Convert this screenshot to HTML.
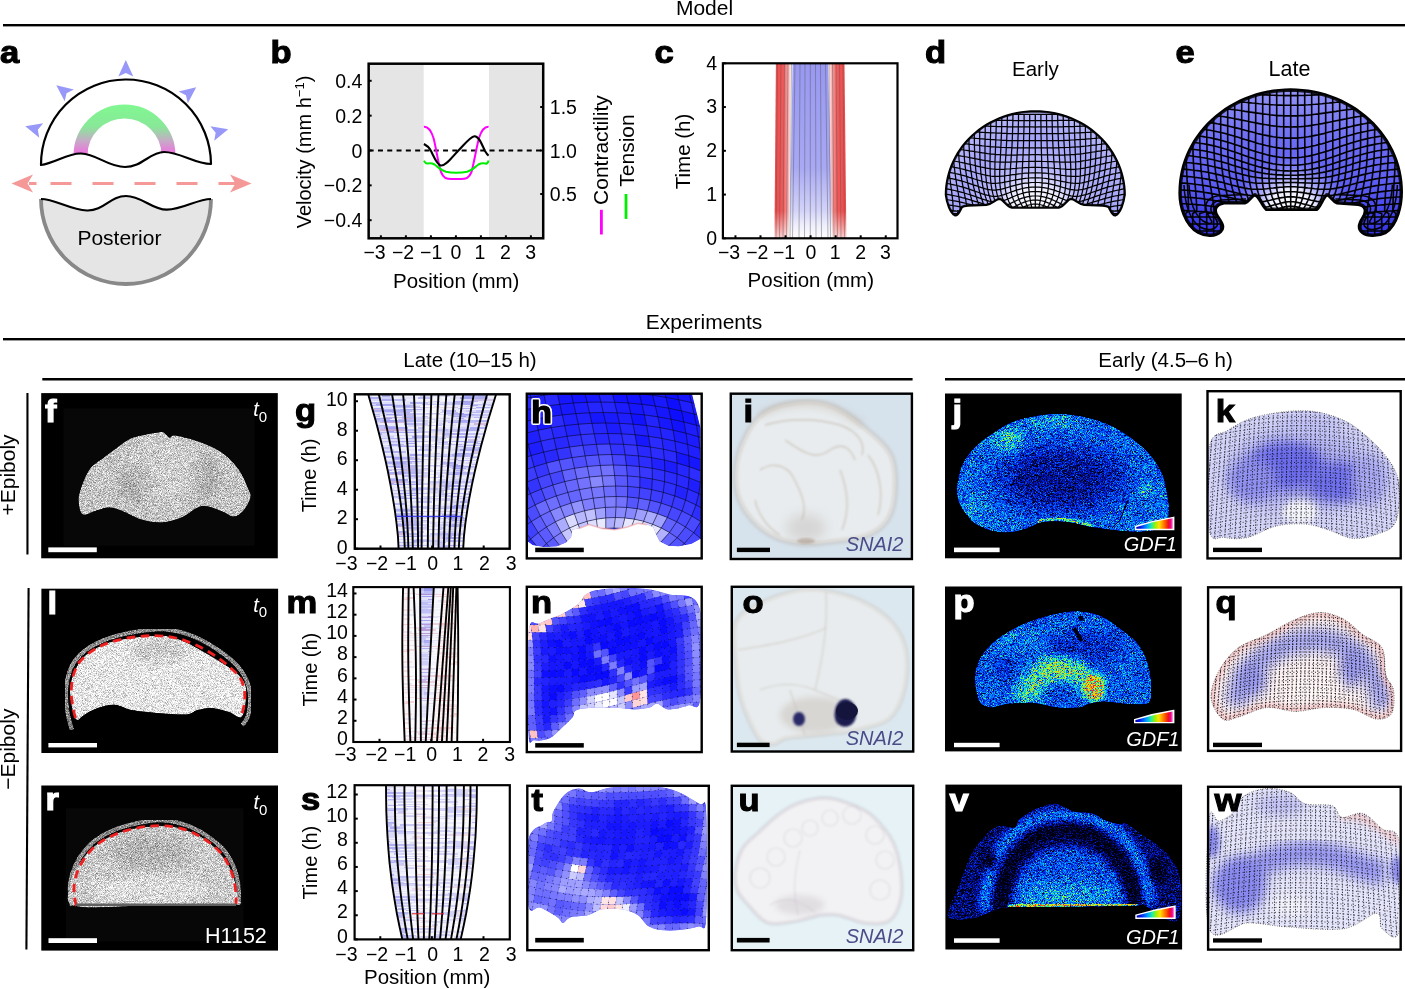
<!DOCTYPE html>
<html><head><meta charset="utf-8"><title>Figure</title>
<style>html,body{margin:0;padding:0;background:#fff;overflow:hidden}svg{display:block;will-change:transform}text{font-family:"Liberation Sans",sans-serif}</style>
</head><body>
<svg width="1405" height="989" viewBox="0 0 1405 989" font-family='"Liberation Sans", sans-serif'>
<defs><filter id="grayn" x="0" y="0" width="1" height="1" color-interpolation-filters="sRGB">
<feTurbulence type="fractalNoise" baseFrequency="1.4" numOctaves="2" seed="7" result="n"/>
<feColorMatrix in="n" type="matrix" values="1 0 0 0 0 1 0 0 0 0 1 0 0 0 0 0 0 0 0 1" result="ng"/>
<feComposite in="SourceGraphic" in2="ng" operator="arithmetic" k1="0" k2="1" k3="1.0" k4="-0.5" result="v"/>
<feComposite in="v" in2="SourceAlpha" operator="in"/>
</filter>
<filter id="jetn" x="0" y="0" width="1" height="1" color-interpolation-filters="sRGB">
<feTurbulence type="fractalNoise" baseFrequency="1.6" numOctaves="2" seed="3" result="n"/>
<feColorMatrix in="n" type="matrix" values="1 0 0 0 0 1 0 0 0 0 1 0 0 0 0 0 0 0 0 1" result="ng"/>
<feComposite in="SourceGraphic" in2="ng" operator="arithmetic" k1="2.6" k2="0" k3="0.25" k4="-0.25" result="v"/>
<feComponentTransfer in="v" result="c">
<feFuncR type="table" tableValues="0 0 0 0 0.25 0.7 1 1 1"/>
<feFuncG type="table" tableValues="0 0.08 0.35 0.7 0.95 1 0.8 0.35 0.1"/>
<feFuncB type="table" tableValues="0.05 0.8 1 1 0.55 0.1 0 0 0.2"/>
</feComponentTransfer>
<feComposite in="c" in2="SourceAlpha" operator="in"/>
</filter>
<filter id="blur3" x="-0.2" y="-0.2" width="1.4" height="1.4"><feGaussianBlur stdDeviation="3"/></filter>
<filter id="blur6" x="-0.3" y="-0.3" width="1.6" height="1.6"><feGaussianBlur stdDeviation="6"/></filter>
<filter id="blur10" x="-0.5" y="-0.5" width="2" height="2"><feGaussianBlur stdDeviation="10"/></filter>
<filter id="blur1" x="-0.1" y="-0.1" width="1.2" height="1.2"><feGaussianBlur stdDeviation="1"/></filter><linearGradient id="ringg" x1="0" y1="104" x2="0" y2="154" gradientUnits="userSpaceOnUse">
<stop offset="0" stop-color="#80F890"/><stop offset="0.45" stop-color="#88E898"/><stop offset="0.75" stop-color="#C8A8C8"/><stop offset="1" stop-color="#F070E0"/></linearGradient><clipPath id="clipA"><path d="M30,60 L220,60 L220,164 C195,164 180,152 164,152 C150,152 142,167 125,167 C108,167 97,154 81,153.5 C68,153 55,163 41,165 L30,165 Z"/></clipPath><linearGradient id="cred" x1="0" y1="0" x2="1" y2="0"><stop offset="0" stop-color="#F04848"/><stop offset="0.55" stop-color="#F25A5A"/><stop offset="0.8" stop-color="#F7A0A0"/><stop offset="1" stop-color="#FFF0F0"/></linearGradient>
<linearGradient id="credr" x1="1" y1="0" x2="0" y2="0"><stop offset="0" stop-color="#F04848"/><stop offset="0.55" stop-color="#F25A5A"/><stop offset="0.8" stop-color="#F7A0A0"/><stop offset="1" stop-color="#FFF0F0"/></linearGradient>
<linearGradient id="cblue" x1="0" y1="63" x2="0" y2="237" gradientUnits="userSpaceOnUse"><stop offset="0" stop-color="#9898F2"/><stop offset="0.6" stop-color="#A8A8F4"/><stop offset="0.9" stop-color="#DCDCFA"/><stop offset="1" stop-color="#F4F4FE"/></linearGradient>
<linearGradient id="cfadeb" x1="0" y1="63" x2="0" y2="237" gradientUnits="userSpaceOnUse"><stop offset="0" stop-color="#fff" stop-opacity="0"/><stop offset="0.85" stop-color="#fff" stop-opacity="0"/><stop offset="1" stop-color="#fff" stop-opacity="0.7"/></linearGradient><clipPath id="clipD"><path d="M1035.3,111.0 L1030.6,111.1 L1025.9,111.5 L1021.3,112.0 L1016.7,112.8 L1012.1,113.9 L1007.6,115.1 L1003.2,116.6 L998.8,118.3 L994.6,120.2 L990.4,122.3 L986.4,124.6 L982.6,127.0 L978.8,129.7 L975.3,132.6 L971.9,135.6 L968.6,138.8 L965.6,142.1 L962.7,145.6 L960.1,149.3 L957.6,153.0 L955.4,156.9 L953.4,160.8 L951.6,164.9 L950.0,169.0 L948.7,173.3 L947.6,177.5 L946.7,181.9 L946.1,186.2 L945.7,190.6 L945.6,195.0 C946.5,203 950,213 954.9,215.6 C958.5,216.5 960.5,210 962,207.5 C963.5,206 965,205.9 968,205.8 L986.3,205.2 C992,204.5 995,200 999.1,199.2 C1003,199 1006,206.5 1012,208 L1058.6,208 C1064.6,206.5 1067.6,199 1071.5,199.2 C1075.6,200 1078.6,204.5 1084.3,205.2 L1102.6,205.8 C1105.6,205.9 1107.1,206 1108.6,207.5 C1110.1,210 1112.1,216.5 1115.7,215.6 C1120.6,213 1124.1,203 1124.9,195 L1125.0,195.0 L1124.9,190.6 L1124.5,186.2 L1123.9,181.9 L1123.0,177.5 L1121.9,173.3 L1120.6,169.0 L1119.0,164.9 L1117.2,160.8 L1115.2,156.9 L1113.0,153.0 L1110.5,149.3 L1107.9,145.6 L1105.0,142.1 L1102.0,138.8 L1098.7,135.6 L1095.3,132.6 L1091.8,129.7 L1088.0,127.0 L1084.2,124.6 L1080.2,122.3 L1076.0,120.2 L1071.8,118.3 L1067.4,116.6 L1063.0,115.1 L1058.5,113.9 L1053.9,112.8 L1049.3,112.0 L1044.7,111.5 L1040.0,111.1 L1035.3,111.0 Z"/></clipPath><radialGradient id="dfill" cx="1035" cy="215" r="110" gradientUnits="userSpaceOnUse">
<stop offset="0" stop-color="#FFFFFF"/><stop offset="0.25" stop-color="#F0F0FF"/><stop offset="0.42" stop-color="#B8B8FA"/><stop offset="0.7" stop-color="#A4A4F8"/><stop offset="0.9" stop-color="#B4B4F8"/><stop offset="1" stop-color="#C8C8FA"/></radialGradient><clipPath id="clipE"><path d="M1290.7,89.3 L1284.9,89.4 L1279.1,89.9 L1273.3,90.6 L1267.6,91.5 L1261.9,92.8 L1256.3,94.3 L1250.8,96.1 L1245.4,98.2 L1240.2,100.5 L1235.1,103.1 L1230.1,105.9 L1225.3,108.9 L1220.7,112.2 L1216.2,115.7 L1212.0,119.4 L1208.0,123.3 L1204.2,127.4 L1200.7,131.6 L1197.4,136.1 L1194.3,140.6 L1191.5,145.4 L1189.0,150.2 L1186.8,155.2 L1184.8,160.3 L1183.2,165.4 L1181.8,170.6 L1180.8,175.9 L1180.0,181.3 L1179.6,186.6 L1179.4,192.0 C1179,205 1184,225 1198,233 C1206,237.5 1216,237 1221,232 C1226,227 1222,222 1218,216 C1214,210 1216,205 1224,203.5 L1245,203.5 C1250,202 1252,196 1255,195.5 C1259,197 1262,207 1266,209.9 L1317,209.9 C1321,207 1324,197 1327,195.5 C1330,196 1332,202 1337,203.5 L1358,205 C1366,206 1366,212 1362,218 C1358,224 1357,229 1362,233 C1367,237 1378,237 1386,233 C1398,225 1402,205 1402,192 L1402.0,192.0 L1401.8,186.6 L1401.4,181.3 L1400.6,175.9 L1399.6,170.6 L1398.2,165.4 L1396.6,160.3 L1394.6,155.2 L1392.4,150.2 L1389.9,145.4 L1387.1,140.6 L1384.0,136.1 L1380.7,131.6 L1377.2,127.4 L1373.4,123.3 L1369.4,119.4 L1365.2,115.7 L1360.7,112.2 L1356.1,108.9 L1351.3,105.9 L1346.3,103.1 L1341.2,100.5 L1336.0,98.2 L1330.6,96.1 L1325.1,94.3 L1319.5,92.8 L1313.8,91.5 L1308.1,90.6 L1302.3,89.9 L1296.5,89.4 L1290.7,89.3 Z"/></clipPath><linearGradient id="efill0" x1="0" y1="89" x2="0" y2="237" gradientUnits="userSpaceOnUse"><stop offset="0" stop-color="#9494F8"/><stop offset="0.35" stop-color="#6C6CF4"/><stop offset="0.7" stop-color="#5A5AF2"/><stop offset="1" stop-color="#3C3CEC"/></linearGradient>
<radialGradient id="efill" cx="1291" cy="214" r="60" gradientUnits="userSpaceOnUse">
<stop offset="0" stop-color="#FFFFFF"/><stop offset="0.4" stop-color="#F0F0FF"/><stop offset="0.62" stop-color="#B8B8FA" stop-opacity="0.8"/><stop offset="1" stop-color="#8080F8" stop-opacity="0"/></radialGradient>
<linearGradient id="elobe" x1="0" y1="180" x2="0" y2="238" gradientUnits="userSpaceOnUse"><stop offset="0" stop-color="#4040F0" stop-opacity="0"/><stop offset="1" stop-color="#3030E8" stop-opacity="0.7"/></linearGradient><clipPath id="clipF"><path d="M78.6,501.3 C78.3,497.1 78.8,494.6 80.7,489.2 C82.6,483.8 85.8,474.4 89.8,469.0 C93.8,463.6 100.4,460.4 104.9,456.8 C109.4,453.2 112.3,450.9 117.0,447.7 C121.7,444.5 126.1,440.2 133.2,437.6 C140.3,435.0 154.0,432.7 159.5,432.2 C165.0,431.7 164.3,433.6 166.0,434.5 C167.7,435.4 168.0,437.4 169.6,437.6 C171.2,437.8 170.3,434.8 175.7,435.6 C181.1,436.5 194.2,439.8 202.0,442.7 C209.8,445.6 216.1,448.4 222.2,452.8 C228.3,457.2 234.0,462.9 238.4,469.0 C242.8,475.1 246.5,484.5 248.5,489.2 C250.5,493.9 251.2,493.9 250.5,497.3 C249.8,500.7 247.1,506.2 244.4,509.4 C241.7,512.6 238.0,516.2 234.3,516.5 C230.6,516.8 226.6,513.1 222.2,511.4 C217.8,509.7 212.1,507.1 208.0,506.4 C203.9,505.7 202.3,505.5 197.9,507.4 C193.5,509.2 187.8,515.0 181.7,517.5 C175.6,520.0 168.2,522.2 161.5,522.5 C154.8,522.8 148.0,521.5 141.3,519.5 C134.6,517.5 126.5,512.4 121.1,510.4 C115.7,508.4 113.0,507.4 109.0,507.4 C105.0,507.4 101.2,509.2 96.8,510.4 C92.4,511.6 85.7,516.0 82.7,514.5 C79.7,513.0 78.9,505.5 78.6,501.3 Z"/></clipPath><pattern id="stg" x="350" width="160" height="52" patternUnits="userSpaceOnUse"><path d="M0 0h30v1h-30zM0 1h8v1h-8zM50 1h14v1h-14zM124 1h18v1h-18zM142 1h6v1h-6zM80 3h6v1h-6zM156 3h4v1h-4zM56 4h8v2h-8zM64 4h14v2h-14zM102 4h24v2h-24zM54 7h24v2h-24zM88 7h6v2h-6zM0 9h14v1h-14zM14 9h24v1h-24zM68 11h6v2h-6zM0 15h24v1h-24zM68 15h14v1h-14zM82 15h18v1h-18zM14 16h30v1h-30zM70 16h14v1h-14zM154 17h6v2h-6zM0 19h30v1h-30zM66 19h14v1h-14zM94 19h6v1h-6zM106 20h24v2h-24zM152 20h8v2h-8zM80 22h10v1h-10zM80 23h8v2h-8zM88 23h6v2h-6zM92 25h18v1h-18zM110 25h30v1h-30zM0 27h6v1h-6zM132 27h28v1h-28zM8 28h18v1h-18zM40 28h14v1h-14zM72 28h10v1h-10zM82 28h24v1h-24zM130 28h14v1h-14zM74 29h8v1h-8zM128 29h18v1h-18zM0 31h8v2h-8zM114 31h14v2h-14zM146 31h14v2h-14zM6 33h6v2h-6zM32 35h24v2h-24zM118 37h10v1h-10zM20 38h10v2h-10zM110 38h14v2h-14zM96 40h14v1h-14zM110 40h14v1h-14zM148 40h12v1h-12zM0 41h8v1h-8zM8 41h18v1h-18zM56 41h8v1h-8zM84 42h6v1h-6zM144 42h16v1h-16zM68 43h10v1h-10zM140 43h10v1h-10zM150 43h10v1h-10zM148 44h10v1h-10zM152 45h8v1h-8zM0 48h24v1h-24zM42 48h10v1h-10zM52 48h8v1h-8zM90 48h18v1h-18zM122 48h30v1h-30zM144 49h14v1h-14zM16 50h14v1h-14zM50 50h10v1h-10zM14 51h8v1h-8zM154 51h6v1h-6z" fill="#4040E0" fill-opacity="0.13"/><path d="M30 0h14v1h-14zM44 0h8v1h-8zM114 2h14v1h-14zM128 2h30v1h-30zM40 3h8v1h-8zM116 3h6v1h-6zM122 3h24v1h-24zM30 7h24v2h-24zM156 7h4v2h-4zM38 9h14v1h-14zM52 9h6v1h-6zM106 9h10v1h-10zM0 10h8v1h-8zM48 10h8v1h-8zM148 10h12v1h-12zM58 11h10v2h-10zM130 13h8v2h-8zM102 16h30v1h-30zM132 16h18v1h-18zM0 17h18v2h-18zM40 17h18v2h-18zM58 17h14v2h-14zM72 17h6v2h-6zM100 19h24v1h-24zM124 19h14v1h-14zM138 19h18v1h-18zM44 20h18v2h-18zM74 22h6v1h-6zM96 22h30v1h-30zM94 23h14v2h-14zM108 23h10v2h-10zM0 25h18v1h-18zM98 26h6v1h-6zM104 26h10v1h-10zM158 26h2v1h-2zM66 27h18v1h-18zM102 27h24v1h-24zM26 28h14v1h-14zM54 28h18v1h-18zM150 28h10v1h-10zM18 29h6v1h-6zM0 30h8v1h-8zM100 30h8v1h-8zM140 30h10v1h-10zM150 30h6v1h-6zM22 31h10v2h-10zM40 31h30v2h-30zM136 31h10v2h-10zM44 33h6v2h-6zM92 33h8v2h-8zM56 35h18v2h-18zM0 37h30v1h-30zM30 37h18v1h-18zM124 38h8v2h-8zM112 41h8v1h-8zM18 42h24v1h-24zM70 42h14v1h-14zM108 43h18v1h-18zM58 44h6v1h-6zM64 44h6v1h-6zM114 45h30v1h-30zM144 45h8v1h-8zM60 48h30v1h-30zM108 48h6v1h-6zM114 48h8v1h-8zM0 49h14v1h-14zM30 50h6v1h-6z" fill="#FFFFFF" fill-opacity="0.7"/><path d="M52 0h14v1h-14zM64 1h18v1h-18zM62 2h30v1h-30zM92 2h8v1h-8zM106 2h8v1h-8zM30 3h10v1h-10zM48 3h24v1h-24zM24 4h8v2h-8zM84 4h18v2h-18zM154 4h6v2h-6zM74 6h18v1h-18zM108 6h18v1h-18zM158 6h2v1h-2zM18 10h30v1h-30zM24 11h10v2h-10zM88 11h8v2h-8zM54 13h18v2h-18zM98 13h18v2h-18zM152 13h8v2h-8zM100 15h10v1h-10zM84 16h18v1h-18zM110 17h30v2h-30zM80 19h8v1h-8zM88 20h18v2h-18zM30 22h30v1h-30zM60 22h14v1h-14zM78 25h14v1h-14zM140 25h6v1h-6zM146 25h14v1h-14zM84 27h18v1h-18zM8 29h10v1h-10zM38 29h18v1h-18zM146 29h14v1h-14zM90 30h10v1h-10zM108 30h8v1h-8zM32 31h8v2h-8zM70 31h30v2h-30zM0 38h6v2h-6zM78 38h10v2h-10zM88 38h14v2h-14zM156 38h4v2h-4zM0 40h6v1h-6zM124 40h24v1h-24zM138 41h8v1h-8zM6 43h14v1h-14zM44 43h24v1h-24zM108 44h18v1h-18zM32 45h18v1h-18zM90 45h6v1h-6zM0 46h8v2h-8zM56 46h6v2h-6zM126 46h14v2h-14zM152 48h8v1h-8zM46 49h6v1h-6zM52 49h24v1h-24zM60 50h18v1h-18zM78 50h6v1h-6zM84 50h18v1h-18zM124 50h14v1h-14zM0 51h14v1h-14zM98 51h30v1h-30zM128 51h10v1h-10z" fill="#4040E0" fill-opacity="0.07"/><path d="M66 0h6v1h-6zM116 0h24v1h-24zM140 0h20v1h-20zM8 1h10v1h-10zM82 1h24v1h-24zM106 1h18v1h-18zM154 1h6v1h-6zM0 2h24v1h-24zM86 3h30v1h-30zM0 4h14v2h-14zM78 4h6v2h-6zM140 4h14v2h-14zM24 6h6v1h-6zM54 6h14v1h-14zM126 6h18v1h-18zM14 7h10v2h-10zM58 9h6v1h-6zM92 9h14v1h-14zM116 9h18v1h-18zM56 10h10v1h-10zM66 10h14v1h-14zM134 10h14v1h-14zM10 11h14v2h-14zM96 11h24v2h-24zM144 11h16v2h-16zM0 13h30v2h-30zM24 15h14v1h-14zM44 15h24v1h-24zM110 15h10v1h-10zM134 15h26v1h-26zM0 16h6v1h-6zM32 17h8v2h-8zM140 17h14v2h-14zM30 19h8v1h-8zM48 19h18v1h-18zM88 19h6v1h-6zM156 19h4v1h-4zM14 20h30v2h-30zM138 20h8v2h-8zM146 20h6v2h-6zM126 22h30v1h-30zM156 22h4v1h-4zM0 23h18v2h-18zM18 23h8v2h-8zM56 23h24v2h-24zM24 26h30v1h-30zM78 26h10v1h-10zM134 26h24v1h-24zM6 27h14v1h-14zM112 28h18v1h-18zM24 29h14v1h-14zM56 29h18v1h-18zM156 30h4v1h-4zM8 31h14v2h-14zM30 33h14v2h-14zM82 33h10v2h-10zM100 33h10v2h-10zM14 35h18v2h-18zM74 35h18v2h-18zM90 37h14v1h-14zM132 38h10v2h-10zM142 38h14v2h-14zM6 40h10v1h-10zM16 40h10v1h-10zM44 40h18v1h-18zM64 41h10v1h-10zM74 41h24v1h-24zM128 41h10v1h-10zM146 41h6v1h-6zM116 42h10v1h-10zM70 44h24v1h-24zM126 44h8v1h-8zM134 44h14v1h-14zM158 44h2v1h-2zM74 45h6v1h-6zM62 46h30v2h-30zM116 46h10v2h-10zM24 48h18v1h-18zM28 49h8v1h-8zM22 51h18v1h-18zM40 51h6v1h-6z" fill="#FFFFFF" fill-opacity="0.3"/><path d="M72 0h6v1h-6zM102 0h14v1h-14zM148 1h6v1h-6zM24 2h18v1h-18zM0 3h30v1h-30zM14 4h10v2h-10zM32 4h24v2h-24zM126 4h14v2h-14zM0 6h24v1h-24zM98 6h10v1h-10zM144 6h14v1h-14zM142 7h14v2h-14zM78 9h14v1h-14zM134 9h26v1h-26zM0 11h10v2h-10zM34 11h24v2h-24zM120 11h24v2h-24zM80 13h18v2h-18zM116 13h14v2h-14zM38 15h6v1h-6zM6 16h8v1h-8zM44 16h8v1h-8zM52 16h18v1h-18zM150 16h10v1h-10zM18 17h14v2h-14zM92 17h18v2h-18zM62 20h18v2h-18zM80 20h8v2h-8zM0 22h30v1h-30zM90 22h6v1h-6zM48 25h30v1h-30zM88 26h10v1h-10zM114 26h14v1h-14zM56 27h10v1h-10zM126 27h6v1h-6zM0 28h8v1h-8zM144 28h6v1h-6zM114 29h14v1h-14zM8 30h10v1h-10zM48 30h18v1h-18zM66 30h24v1h-24zM128 31h8v2h-8zM12 33h18v2h-18zM68 33h14v2h-14zM110 33h10v2h-10zM120 33h18v2h-18zM84 37h6v1h-6zM104 37h14v1h-14zM6 38h14v2h-14zM60 38h18v2h-18zM102 38h8v2h-8zM26 40h18v1h-18zM72 40h24v1h-24zM26 41h30v1h-30zM120 41h8v1h-8zM42 42h18v1h-18zM0 43h6v1h-6zM126 43h14v1h-14zM24 44h10v1h-10zM50 45h24v1h-24zM8 46h18v2h-18zM26 46h30v2h-30zM92 46h14v2h-14zM140 46h8v2h-8zM148 46h12v2h-12zM76 49h14v1h-14zM96 49h18v1h-18zM158 49h2v1h-2zM0 50h6v1h-6zM36 50h14v1h-14zM102 50h14v1h-14zM116 50h8v1h-8zM138 50h22v1h-22zM46 51h6v1h-6z" fill="#4040E0" fill-opacity="0.22"/><path d="M78 0h24v1h-24zM18 1h18v1h-18zM42 2h10v1h-10zM100 2h6v1h-6zM158 2h2v1h-2zM72 3h8v1h-8zM146 3h10v1h-10zM68 6h6v1h-6zM92 6h6v1h-6zM0 7h14v2h-14zM24 7h6v2h-6zM78 7h10v2h-10zM94 7h30v2h-30zM8 10h10v1h-10zM80 10h24v1h-24zM104 10h30v1h-30zM74 11h14v2h-14zM72 13h8v2h-8zM138 13h14v2h-14zM120 15h14v1h-14zM38 19h10v1h-10zM130 20h8v2h-8zM26 23h30v2h-30zM128 23h30v2h-30zM158 23h2v2h-2zM0 26h24v1h-24zM54 26h24v1h-24zM128 26h6v1h-6zM20 27h30v1h-30zM50 27h6v1h-6zM0 29h8v1h-8zM82 29h18v1h-18zM100 29h14v1h-14zM18 30h30v1h-30zM116 30h24v1h-24zM100 31h14v2h-14zM0 33h6v2h-6zM50 33h18v2h-18zM138 33h10v2h-10zM148 33h12v2h-12zM0 35h8v2h-8zM8 35h6v2h-6zM92 35h30v2h-30zM152 35h8v2h-8zM48 37h6v1h-6zM54 37h24v1h-24zM128 37h10v1h-10zM138 37h22v1h-22zM30 38h30v2h-30zM62 40h10v1h-10zM98 41h14v1h-14zM152 41h8v1h-8zM0 42h18v1h-18zM90 42h8v1h-8zM98 42h18v1h-18zM126 42h18v1h-18zM20 43h24v1h-24zM0 44h24v1h-24zM34 44h24v1h-24zM94 44h14v1h-14zM0 45h14v1h-14zM80 45h10v1h-10zM96 45h18v1h-18zM106 46h10v2h-10zM14 49h14v1h-14zM36 49h10v1h-10zM90 49h6v1h-6zM114 49h30v1h-30zM6 50h10v1h-10zM66 51h24v1h-24zM90 51h8v1h-8zM138 51h6v1h-6zM144 51h10v1h-10z" fill="#FFFFFF" fill-opacity="0.5"/><path d="M36 1h14v1h-14zM64 9h14v1h-14zM78 17h14v2h-14zM118 23h10v2h-10zM18 25h30v1h-30zM106 28h6v1h-6zM122 35h30v2h-30zM78 37h6v1h-6zM60 42h10v1h-10zM78 43h30v1h-30zM52 51h14v1h-14z" fill="#F06060" fill-opacity="0.1"/><path d="M52 2h10v1h-10zM30 6h24v1h-24zM124 7h18v2h-18zM30 13h24v2h-24zM0 20h14v2h-14zM14 45h18v1h-18z" fill="#F06060" fill-opacity="0.2"/></pattern><clipPath id="cl_stg"><rect x="354.8" y="394.3" width="154.89999999999998" height="154.40000000000003"/></clipPath><clipPath id="clipH"><path d="M526.0,393.0 L691.7,393.0 L700.4,428.0 L701.0,538.6 L691.5,543.8 L678.7,546.3 L668.5,545.7 L659.5,541.2 L655.7,533.5 L653.1,527.1 L646.7,524.6 L637.7,523.3 L627.5,527.1 L614.7,529.7 L601.9,528.4 L589.0,524.6 L578.8,528.4 L572.4,529.7 L571.1,537.4 L566.0,542.5 L557.0,546.3 L544.2,547.0 L532.7,545.0 L526.0,539.9 Z"/></clipPath><clipPath id="clipJ"><path d="M957.1,485.4 C957.8,479.7 959.4,471.2 962.2,464.9 C965.1,458.6 969.4,452.9 974.2,447.8 C979.0,442.7 985.0,438.5 991.2,434.2 C997.5,429.9 1004.6,425.2 1011.7,422.2 C1018.8,419.2 1026.0,417.6 1034.0,416.2 C1042.0,414.8 1051.1,413.5 1059.6,413.7 C1068.1,413.9 1076.7,415.1 1085.2,417.1 C1093.7,419.1 1102.8,421.9 1110.8,425.6 C1118.8,429.3 1126.5,434.5 1133.0,439.3 C1139.5,444.1 1145.2,449.0 1150.1,454.7 C1154.9,460.4 1159.2,466.9 1162.1,473.5 C1164.9,480.1 1166.1,488.0 1167.2,494.0 C1168.3,500.0 1169.2,503.9 1168.9,509.3 C1168.6,514.7 1169.5,522.7 1165.5,526.4 C1161.5,530.1 1151.3,530.6 1145.0,531.5 C1138.7,532.4 1133.6,531.8 1127.9,531.5 C1122.2,531.2 1117.3,530.6 1110.8,529.8 C1104.2,528.9 1095.7,527.7 1088.6,526.4 C1081.5,525.1 1074.4,523.0 1068.1,522.1 C1061.8,521.2 1055.8,521.1 1051.0,521.3 C1046.2,521.4 1043.4,521.7 1039.1,523.0 C1034.8,524.3 1030.5,527.4 1025.4,529.0 C1020.3,530.6 1014.0,532.1 1008.3,532.4 C1002.6,532.7 996.9,532.3 991.2,530.7 C985.5,529.1 978.8,526.3 974.2,523.0 C969.7,519.7 966.6,515.0 963.9,511.0 C961.2,507.0 959.0,503.4 957.9,499.1 C956.8,494.8 956.4,491.1 957.1,485.4 Z"/></clipPath><linearGradient id="cbj" x1="1135.6" y1="0" x2="1173.7" y2="0" gradientUnits="userSpaceOnUse">
<stop offset="0" stop-color="#000090"/><stop offset="0.12" stop-color="#0010F0"/><stop offset="0.3" stop-color="#00A0FF"/><stop offset="0.42" stop-color="#20F0A0"/><stop offset="0.52" stop-color="#A0F000"/><stop offset="0.62" stop-color="#FFE000"/><stop offset="0.75" stop-color="#FF7000"/><stop offset="0.86" stop-color="#F01010"/><stop offset="0.93" stop-color="#F000A0"/><stop offset="1" stop-color="#FFFFFF"/></linearGradient><clipPath id="clipK"><path d="M1209.2,447.2 C1212.4,430.6 1220.4,435.1 1228.4,430.0 C1236.4,424.9 1244.4,419.7 1257.2,416.5 C1270.0,413.3 1290.9,410.1 1305.3,410.7 C1319.7,411.3 1332.5,415.2 1343.7,420.3 C1354.9,425.4 1364.5,434.1 1372.5,441.5 C1380.5,448.9 1387.2,456.8 1391.7,464.5 C1396.2,472.2 1398.8,478.0 1399.4,487.6 C1400.1,497.2 1399.1,514.5 1395.6,522.2 C1392.1,529.9 1385.3,531.0 1378.3,533.7 C1371.2,536.4 1361.6,539.1 1353.3,538.5 C1345.0,537.9 1336.3,532.3 1328.3,529.9 C1320.3,527.5 1313.9,524.8 1305.3,524.1 C1296.7,523.5 1286.1,523.8 1276.5,526.0 C1266.9,528.2 1256.2,535.6 1247.6,537.5 C1238.9,539.4 1231.0,538.8 1224.6,537.5 C1218.2,536.2 1211.8,544.9 1209.2,529.9 C1206.6,514.9 1206.0,463.8 1209.2,447.2 Z"/></clipPath><clipPath id="clipL"><path d="M75.4,718.6 C72.9,714.4 69.6,698.1 70.1,688.9 C70.6,679.7 74.4,670.1 78.6,663.4 C82.8,656.7 88.8,652.5 95.5,648.6 C102.2,644.7 108.3,642.1 118.9,640.0 C129.5,637.9 148.9,635.8 159.2,635.8 C169.5,635.8 173.4,637.5 180.5,640.0 C187.6,642.5 194.6,646.8 201.7,650.7 C208.8,654.6 216.5,659.1 222.9,663.4 C229.3,667.6 236.0,671.6 239.9,676.2 C243.8,680.8 246.0,684.3 246.3,691.0 C246.7,697.7 244.8,713.0 242.0,716.5 C239.2,720.0 234.2,713.7 229.3,712.3 C224.4,710.9 217.6,708.4 212.3,708.0 C207.0,707.6 201.8,709.0 197.5,710.1 C193.2,711.2 193.2,713.9 186.8,714.4 C180.4,714.9 168.4,714.0 159.2,713.3 C150.0,712.6 139.0,711.5 131.6,710.1 C124.2,708.7 120.2,705.1 114.6,704.8 C108.9,704.4 102.7,706.4 97.7,708.0 C92.8,709.6 88.6,712.6 84.9,714.4 C81.2,716.2 77.9,722.9 75.4,718.6 Z"/></clipPath><linearGradient id="mblue" x1="0" y1="587" x2="0" y2="742" gradientUnits="userSpaceOnUse"><stop offset="0" stop-color="#9C9CF0"/><stop offset="0.5" stop-color="#B8B8F4"/><stop offset="1" stop-color="#E4E4FA"/></linearGradient><pattern id="stm" x="350" width="160" height="52" patternUnits="userSpaceOnUse"><path d="M0 0h6v1h-6zM28 0h14v1h-14zM42 0h6v1h-6zM48 0h14v1h-14zM72 0h30v1h-30zM30 5h24v2h-24zM68 5h18v2h-18zM116 5h10v2h-10zM60 9h30v1h-30zM70 11h10v1h-10zM24 12h24v1h-24zM108 12h14v1h-14zM138 16h22v1h-22zM0 19h14v2h-14zM66 22h30v1h-30zM130 22h10v1h-10zM6 23h6v1h-6zM12 23h24v1h-24zM86 24h18v1h-18zM0 25h24v2h-24zM56 25h8v2h-8zM30 27h30v1h-30zM28 30h18v1h-18zM48 32h6v1h-6zM96 33h6v1h-6zM14 34h6v2h-6zM104 37h8v2h-8zM78 44h6v1h-6zM18 45h6v1h-6zM72 45h6v1h-6zM80 51h24v1h-24z" fill="#F06060" fill-opacity="0.2"/><path d="M6 0h14v1h-14zM20 0h8v1h-8zM126 0h24v1h-24zM150 0h10v1h-10zM0 1h14v2h-14zM0 3h6v1h-6zM14 3h24v1h-24zM46 3h6v1h-6zM0 4h14v1h-14zM76 4h6v1h-6zM106 4h18v1h-18zM130 4h24v1h-24zM112 7h14v2h-14zM126 7h24v2h-24zM150 7h10v2h-10zM14 9h14v1h-14zM46 9h14v1h-14zM96 9h10v1h-10zM100 12h8v1h-8zM0 13h6v1h-6zM6 13h30v1h-30zM130 13h14v1h-14zM14 16h30v1h-30zM60 17h8v2h-8zM102 17h18v2h-18zM14 19h6v2h-6zM44 19h30v2h-30zM96 21h6v1h-6zM122 21h24v1h-24zM0 22h18v1h-18zM60 22h6v1h-6zM96 22h10v1h-10zM106 22h24v1h-24zM154 22h6v1h-6zM54 24h18v1h-18zM122 24h8v1h-8zM130 24h24v1h-24zM40 25h6v2h-6zM154 27h6v1h-6zM0 28h6v2h-6zM20 28h30v2h-30zM64 28h24v2h-24zM46 30h24v1h-24zM124 30h30v1h-30zM42 31h18v1h-18zM0 32h24v1h-24zM54 32h14v1h-14zM118 32h6v1h-6zM124 32h18v1h-18zM0 33h8v1h-8zM34 33h30v1h-30zM64 33h24v1h-24zM88 33h8v1h-8zM102 33h8v1h-8zM0 34h14v2h-14zM6 36h6v1h-6zM48 36h24v1h-24zM72 36h6v1h-6zM148 37h10v2h-10zM0 39h24v2h-24zM0 41h24v1h-24zM34 41h8v1h-8zM56 41h30v1h-30zM102 41h8v1h-8zM134 42h18v2h-18zM152 42h8v2h-8zM18 44h18v1h-18zM54 44h8v1h-8zM62 44h6v1h-6zM112 44h24v1h-24zM38 45h18v1h-18zM64 45h8v1h-8zM102 45h24v1h-24zM44 46h10v2h-10zM100 46h10v2h-10zM40 48h30v1h-30zM88 48h18v1h-18zM106 48h10v1h-10zM14 49h6v2h-6zM20 49h30v2h-30zM80 49h24v2h-24zM104 49h18v2h-18zM122 49h30v2h-30zM16 51h18v1h-18zM34 51h18v1h-18zM52 51h10v1h-10zM104 51h8v1h-8zM126 51h10v1h-10z" fill="#FFFFFF" fill-opacity="0.5"/><path d="M62 0h10v1h-10zM102 0h24v1h-24zM32 1h24v2h-24zM74 1h8v2h-8zM98 1h30v2h-30zM148 1h12v2h-12zM6 3h8v1h-8zM38 3h8v1h-8zM52 3h6v1h-6zM82 3h30v1h-30zM154 3h6v1h-6zM14 4h10v1h-10zM24 4h18v1h-18zM42 4h24v1h-24zM0 5h30v2h-30zM126 5h6v2h-6zM156 5h4v2h-4zM80 7h10v2h-10zM28 9h18v1h-18zM90 9h6v1h-6zM40 10h30v1h-30zM94 10h24v1h-24zM136 10h18v1h-18zM154 10h6v1h-6zM22 11h18v1h-18zM80 11h6v1h-6zM48 12h30v1h-30zM122 12h24v1h-24zM36 13h18v1h-18zM72 13h14v1h-14zM100 13h30v1h-30zM144 13h16v1h-16zM38 14h30v2h-30zM68 14h8v2h-8zM106 14h14v2h-14zM68 16h6v1h-6zM108 16h30v1h-30zM54 17h6v2h-6zM68 17h6v2h-6zM84 17h18v2h-18zM20 19h24v2h-24zM74 19h30v2h-30zM18 21h18v1h-18zM66 21h30v1h-30zM18 22h6v1h-6zM140 22h14v1h-14zM50 23h8v1h-8zM112 23h14v1h-14zM144 23h10v1h-10zM0 24h14v1h-14zM14 24h30v1h-30zM44 24h10v1h-10zM154 24h6v1h-6zM122 27h8v1h-8zM6 28h14v2h-14zM50 28h14v2h-14zM118 28h10v2h-10zM136 28h24v2h-24zM0 30h8v1h-8zM8 30h6v1h-6zM14 30h6v1h-6zM70 30h24v1h-24zM0 31h18v1h-18zM28 31h14v1h-14zM60 31h18v1h-18zM136 31h14v1h-14zM24 32h10v1h-10zM34 32h14v1h-14zM68 32h24v1h-24zM152 32h8v1h-8zM24 33h10v1h-10zM110 33h8v1h-8zM136 33h24v1h-24zM44 34h14v2h-14zM58 34h30v2h-30zM88 34h24v2h-24zM132 34h8v2h-8zM12 36h18v1h-18zM132 36h18v1h-18zM18 37h30v2h-30zM62 37h18v2h-18zM80 37h18v2h-18zM158 37h2v2h-2zM24 39h14v2h-14zM38 39h24v2h-24zM62 39h24v2h-24zM42 41h14v1h-14zM86 41h10v1h-10zM152 41h8v1h-8zM34 42h10v2h-10zM44 42h8v2h-8zM110 42h24v2h-24zM36 44h18v1h-18zM68 44h10v1h-10zM88 45h14v1h-14zM144 45h16v1h-16zM90 46h10v2h-10zM130 46h30v2h-30zM0 48h10v1h-10zM116 48h8v1h-8zM124 48h10v1h-10zM152 49h8v2h-8zM10 51h6v1h-6zM62 51h18v1h-18z" fill="#FFFFFF" fill-opacity="0.3"/><path d="M14 1h18v2h-18zM56 1h18v2h-18zM82 1h6v2h-6zM124 4h6v1h-6zM154 4h6v1h-6zM54 5h8v2h-8zM62 5h6v2h-6zM86 5h30v2h-30zM14 7h24v2h-24zM62 7h18v2h-18zM98 7h14v2h-14zM30 10h10v1h-10zM70 10h24v1h-24zM94 11h30v1h-30zM142 11h18v1h-18zM0 12h24v1h-24zM78 12h14v1h-14zM92 12h8v1h-8zM0 14h14v2h-14zM14 14h24v2h-24zM76 14h30v2h-30zM120 14h6v2h-6zM134 14h6v2h-6zM140 14h18v2h-18zM0 16h14v1h-14zM0 17h10v2h-10zM30 17h24v2h-24zM158 17h2v2h-2zM104 19h8v2h-8zM136 19h24v2h-24zM0 21h18v1h-18zM102 21h6v1h-6zM54 22h6v1h-6zM0 23h6v1h-6zM36 23h14v1h-14zM58 23h18v1h-18zM76 23h18v1h-18zM94 23h18v1h-18zM126 23h18v1h-18zM154 23h6v1h-6zM114 24h8v1h-8zM24 25h10v2h-10zM64 25h10v2h-10zM74 25h30v2h-30zM104 25h18v2h-18zM122 25h30v2h-30zM152 25h8v2h-8zM0 27h30v1h-30zM60 27h18v1h-18zM84 27h24v1h-24zM108 27h14v1h-14zM128 28h8v2h-8zM20 30h8v1h-8zM116 30h8v1h-8zM154 30h6v1h-6zM18 31h10v1h-10zM78 31h10v1h-10zM88 31h18v1h-18zM150 31h10v1h-10zM110 32h8v1h-8zM8 33h6v1h-6zM20 34h24v2h-24zM112 34h6v2h-6zM118 34h14v2h-14zM0 36h6v1h-6zM30 36h10v1h-10zM78 36h30v1h-30zM108 36h24v1h-24zM0 37h18v2h-18zM98 37h6v2h-6zM120 37h10v2h-10zM130 37h18v2h-18zM86 39h14v2h-14zM152 39h8v2h-8zM96 41h6v1h-6zM110 41h18v1h-18zM8 42h8v2h-8zM26 42h8v2h-8zM66 42h8v2h-8zM74 42h6v2h-6zM80 42h30v2h-30zM94 44h18v1h-18zM0 45h18v1h-18zM56 45h8v1h-8zM126 45h18v1h-18zM0 46h8v2h-8zM60 46h30v2h-30zM116 46h14v2h-14zM152 48h8v1h-8zM50 49h30v2h-30zM0 51h10v1h-10zM136 51h24v1h-24z" fill="#FFFFFF" fill-opacity="0.7"/><path d="M88 1h10v2h-10zM138 1h10v2h-10zM112 3h18v1h-18zM0 7h14v2h-14zM90 7h8v2h-8zM106 9h6v1h-6zM0 11h8v1h-8zM8 11h14v1h-14zM86 11h8v1h-8zM124 11h18v1h-18zM146 12h14v1h-14zM126 14h8v2h-8zM158 14h2v2h-2zM146 21h14v1h-14zM46 25h10v2h-10zM118 39h24v2h-24zM24 41h10v1h-10zM0 42h8v2h-8zM16 42h10v2h-10zM78 45h10v1h-10zM26 46h18v2h-18zM134 48h18v1h-18z" fill="#4040E0" fill-opacity="0.04"/><path d="M128 1h10v2h-10zM38 7h24v2h-24zM0 9h14v1h-14zM142 9h18v1h-18zM118 10h18v1h-18zM54 13h18v1h-18zM86 13h14v1h-14zM74 16h24v1h-24zM10 17h14v2h-14zM112 19h24v2h-24zM118 33h18v1h-18zM150 36h10v1h-10zM112 37h8v2h-8zM52 42h14v2h-14zM84 44h10v1h-10zM136 44h24v1h-24zM8 46h18v2h-18zM70 48h18v1h-18z" fill="#4040E0" fill-opacity="0.06"/><path d="M58 3h24v1h-24zM130 3h24v1h-24zM66 4h10v1h-10zM0 10h30v1h-30zM40 11h30v1h-30zM44 16h24v1h-24zM120 17h30v2h-30zM150 17h8v2h-8zM36 21h30v1h-30zM24 22h30v1h-30zM34 25h6v2h-6zM78 27h6v1h-6zM130 27h24v1h-24zM94 30h10v1h-10zM104 30h6v1h-6zM110 30h6v1h-6zM92 32h18v1h-18zM142 32h10v1h-10zM140 34h18v2h-18zM48 37h14v2h-14zM100 39h18v2h-18zM142 39h10v2h-10zM128 41h24v1h-24zM0 44h18v1h-18zM24 45h14v1h-14zM54 46h6v2h-6zM10 48h30v1h-30zM0 49h14v2h-14z" fill="#F06060" fill-opacity="0.1"/><path d="M82 4h24v1h-24zM132 5h24v2h-24zM112 9h30v1h-30zM98 16h10v1h-10zM24 17h6v2h-6zM74 17h10v2h-10zM108 21h14v1h-14zM72 24h14v1h-14zM104 24h10v1h-10zM88 28h6v2h-6zM94 28h24v2h-24zM106 31h30v1h-30zM14 33h10v1h-10zM158 34h2v2h-2zM40 36h8v1h-8zM110 46h6v2h-6zM112 51h14v1h-14z" fill="#4040E0" fill-opacity="0.02"/></pattern><clipPath id="cl_stm"><rect x="353.3" y="587.1" width="156.59999999999997" height="154.89999999999998"/></clipPath><clipPath id="clipN"><path d="M528.4,632.6 C530.3,614.4 534.2,626.2 540.0,623.0 C545.8,619.8 556.6,616.6 563.0,613.4 C569.4,610.2 574.5,607.0 578.4,603.8 C582.2,600.6 582.2,596.6 586.1,594.2 C590.0,591.8 592.5,590.4 601.5,589.4 C610.5,588.4 628.7,587.6 639.9,588.4 C651.1,589.2 658.8,591.0 668.7,594.2 C678.6,597.4 694.1,590.4 699.4,607.7 C704.7,625.0 702.3,681.7 700.4,698.0 C698.5,714.3 693.2,703.7 687.9,705.6 C682.6,707.5 673.8,709.8 668.7,709.5 C663.6,709.2 660.4,704.0 657.2,703.7 C654.0,703.4 653.4,706.6 649.5,707.6 C645.6,708.6 640.5,709.5 634.1,709.5 C627.7,709.5 620.4,707.6 611.1,707.6 C601.8,707.6 584.8,707.9 578.4,709.5 C572.0,711.1 575.2,714.3 572.6,717.2 C570.0,720.1 566.8,723.3 563.0,726.8 C559.2,730.3 554.4,736.1 549.6,738.3 C544.8,740.5 537.7,741.2 534.2,740.2 C530.7,739.2 529.4,750.4 528.4,732.5 C527.4,714.6 526.5,650.9 528.4,632.6 Z"/></clipPath><clipPath id="clipP"><path d="M975.0,683.7 C974.5,678.0 974.9,672.5 976.4,667.3 C977.9,662.1 980.4,657.0 983.9,652.3 C987.4,647.6 991.9,643.1 997.4,638.9 C1002.9,634.7 1010.6,630.1 1016.8,626.9 C1023.0,623.6 1028.0,621.6 1034.7,619.4 C1041.4,617.2 1049.7,614.9 1057.2,613.5 C1064.7,612.1 1072.1,610.7 1079.6,611.2 C1087.1,611.7 1095.3,613.5 1102.0,616.4 C1108.7,619.3 1114.2,624.1 1119.9,628.4 C1125.6,632.6 1132.2,637.2 1136.4,641.9 C1140.6,646.6 1143.1,651.8 1145.3,656.8 C1147.5,661.8 1148.8,666.7 1149.8,671.7 C1150.8,676.7 1151.3,681.7 1151.3,686.7 C1151.3,691.7 1151.8,698.6 1149.8,701.6 C1147.8,704.6 1144.9,704.4 1139.4,704.6 C1133.9,704.9 1123.2,703.6 1117.0,703.1 C1110.8,702.6 1107.0,701.4 1102.0,701.6 C1097.0,701.9 1090.8,703.6 1087.1,704.6 C1083.4,705.6 1084.6,707.1 1079.6,707.6 C1074.6,708.1 1064.7,708.4 1057.2,707.6 C1049.7,706.9 1040.9,703.9 1034.7,703.1 C1028.5,702.4 1024.8,702.9 1019.8,703.1 C1014.8,703.4 1009.8,703.9 1004.8,704.6 C999.8,705.4 994.1,708.1 989.9,707.6 C985.7,707.1 981.9,705.6 979.4,701.6 C976.9,697.6 975.5,689.4 975.0,683.7 Z"/></clipPath><linearGradient id="cbp" x1="1134.7" y1="0" x2="1173.7" y2="0" gradientUnits="userSpaceOnUse">
<stop offset="0" stop-color="#000090"/><stop offset="0.12" stop-color="#0010F0"/><stop offset="0.3" stop-color="#00A0FF"/><stop offset="0.42" stop-color="#20F0A0"/><stop offset="0.52" stop-color="#A0F000"/><stop offset="0.62" stop-color="#FFE000"/><stop offset="0.75" stop-color="#FF7000"/><stop offset="0.86" stop-color="#F01010"/><stop offset="0.93" stop-color="#F000A0"/><stop offset="1" stop-color="#FFFFFF"/></linearGradient><clipPath id="clipQ"><path d="M1211.1,698.0 C1210.4,690.0 1214.3,679.4 1218.8,671.1 C1223.3,662.8 1230.0,654.1 1238.0,648.0 C1246.0,641.9 1257.2,639.4 1266.8,634.6 C1276.4,629.8 1286.7,622.9 1295.7,619.2 C1304.7,615.5 1312.6,612.5 1320.6,612.5 C1328.6,612.5 1336.7,615.5 1343.7,619.2 C1350.8,622.9 1356.5,629.8 1362.9,634.6 C1369.3,639.4 1378.2,641.3 1382.1,648.0 C1385.9,654.7 1384.1,667.9 1386.0,674.9 C1387.9,681.9 1392.6,683.9 1393.6,690.3 C1394.5,696.7 1394.6,708.5 1391.7,713.3 C1388.8,718.1 1382.8,719.7 1376.4,719.1 C1370.0,718.5 1362.0,711.4 1353.3,709.5 C1344.6,707.6 1334.1,707.3 1324.5,707.6 C1314.9,707.9 1305.3,711.4 1295.7,711.4 C1286.1,711.4 1276.4,706.6 1266.8,707.6 C1257.2,708.6 1245.3,715.3 1238.0,717.2 C1230.7,719.1 1227.2,722.3 1222.7,719.1 C1218.2,715.9 1211.8,706.0 1211.1,698.0 Z"/></clipPath><clipPath id="clipR"><path d="M76.4,906.2 C61.4,903.0 69.9,892.5 70.2,885.6 C70.5,878.7 73.9,871.8 78.4,864.9 C82.9,858.0 89.4,850.0 97.0,844.3 C104.6,838.6 113.1,834.0 123.8,830.9 C134.5,827.8 150.7,825.9 161.0,825.7 C171.3,825.5 178.2,827.5 185.8,829.9 C193.4,832.3 200.2,835.7 206.4,840.2 C212.6,844.7 218.4,850.9 222.9,856.7 C227.4,862.6 230.8,868.4 233.2,875.3 C235.6,882.2 237.1,893.2 237.4,898.0 C237.8,902.8 248.2,903.0 235.3,904.2 C222.4,905.4 186.5,904.7 160.0,905.0 C133.5,905.3 91.4,909.4 76.4,906.2 Z"/></clipPath><pattern id="sts" x="350" width="160" height="52" patternUnits="userSpaceOnUse"><path d="M0 0h18v2h-18zM72 0h18v2h-18zM138 0h10v2h-10zM122 2h24v2h-24zM70 6h30v1h-30zM14 7h10v1h-10zM32 9h8v1h-8zM98 9h6v1h-6zM0 12h18v2h-18zM36 12h30v2h-30zM128 12h30v2h-30zM158 12h2v2h-2zM92 14h30v1h-30zM30 15h30v2h-30zM60 15h30v2h-30zM112 15h24v2h-24zM0 17h30v1h-30zM120 17h8v1h-8zM8 18h8v1h-8zM152 18h8v1h-8zM114 19h6v1h-6zM18 20h14v1h-14zM132 21h24v2h-24zM126 24h18v1h-18zM56 26h14v1h-14zM104 26h30v1h-30zM44 28h8v2h-8zM52 28h6v2h-6zM66 28h18v2h-18zM126 28h8v2h-8zM38 30h6v1h-6zM150 30h8v1h-8zM14 33h18v1h-18zM66 34h10v1h-10zM106 34h14v1h-14zM56 36h8v1h-8zM0 39h18v1h-18zM38 42h6v1h-6zM122 42h18v1h-18zM50 44h8v2h-8zM58 44h18v2h-18zM76 44h8v2h-8zM8 46h30v1h-30zM40 47h10v2h-10zM150 49h10v1h-10zM36 51h30v1h-30z" fill="#4040E0" fill-opacity="0.2"/><path d="M18 0h30v2h-30zM118 0h14v2h-14zM0 2h24v2h-24zM24 2h30v2h-30zM54 2h18v2h-18zM32 4h6v2h-6zM38 4h10v2h-10zM6 6h6v1h-6zM154 6h6v1h-6zM24 7h30v1h-30zM54 7h30v1h-30zM146 7h14v1h-14zM100 8h8v1h-8zM46 9h30v1h-30zM84 9h14v1h-14zM134 9h24v1h-24zM158 9h2v1h-2zM0 10h30v2h-30zM36 10h6v2h-6zM86 14h6v1h-6zM150 14h10v1h-10zM136 15h10v2h-10zM0 18h8v1h-8zM122 18h8v1h-8zM62 19h10v1h-10zM72 19h14v1h-14zM0 20h18v1h-18zM32 20h30v1h-30zM106 20h30v1h-30zM140 23h14v1h-14zM70 25h14v1h-14zM0 26h6v1h-6zM70 26h6v1h-6zM76 26h10v1h-10zM86 26h18v1h-18zM152 26h8v1h-8zM138 27h6v1h-6zM26 28h10v2h-10zM158 30h2v1h-2zM54 31h6v2h-6zM156 31h4v2h-4zM0 34h24v1h-24zM30 34h8v1h-8zM76 34h30v1h-30zM64 35h6v1h-6zM80 35h6v1h-6zM128 35h10v1h-10zM152 35h8v1h-8zM38 36h18v1h-18zM128 36h30v1h-30zM24 37h18v1h-18zM90 37h30v1h-30zM0 38h6v1h-6zM148 38h10v1h-10zM158 38h2v1h-2zM40 39h18v1h-18zM100 39h14v1h-14zM114 39h14v1h-14zM138 39h14v1h-14zM0 42h14v1h-14zM32 42h6v1h-6zM86 42h30v1h-30zM140 42h20v1h-20zM68 43h14v1h-14zM82 43h30v1h-30zM142 43h8v1h-8zM0 44h24v2h-24zM84 44h10v2h-10zM126 44h30v2h-30zM156 44h4v2h-4zM56 46h30v1h-30zM86 46h24v1h-24zM10 47h30v2h-30zM152 47h8v2h-8zM36 49h24v1h-24zM60 49h30v1h-30zM0 50h30v1h-30zM76 51h8v1h-8zM102 51h8v1h-8z" fill="#FFFFFF" fill-opacity="0.3"/><path d="M48 0h24v2h-24zM104 0h14v2h-14zM140 7h6v1h-6zM18 9h14v1h-14zM104 9h30v1h-30zM78 10h14v2h-14zM92 10h30v2h-30zM122 10h30v2h-30zM104 12h14v2h-14zM122 14h14v1h-14zM90 15h8v2h-8zM98 15h14v2h-14zM138 18h14v1h-14zM38 19h24v1h-24zM86 19h14v1h-14zM146 20h14v1h-14zM6 21h30v2h-30zM84 21h24v2h-24zM118 23h8v1h-8zM48 24h30v1h-30zM38 25h18v1h-18zM98 27h18v1h-18zM150 27h10v1h-10zM84 28h24v2h-24zM82 30h30v1h-30zM112 30h24v1h-24zM136 30h14v1h-14zM48 31h6v2h-6zM98 31h24v2h-24zM132 31h18v2h-18zM0 33h14v1h-14zM150 34h10v1h-10zM54 35h10v1h-10zM72 37h18v1h-18zM82 40h6v2h-6zM38 43h6v1h-6zM150 43h10v1h-10zM50 47h6v2h-6zM64 47h14v2h-14zM108 47h8v2h-8zM116 47h14v2h-14zM6 49h30v1h-30zM30 50h24v1h-24zM86 50h14v1h-14zM134 50h8v1h-8zM0 51h30v1h-30zM84 51h18v1h-18z" fill="#4040E0" fill-opacity="0.12"/><path d="M90 0h14v2h-14zM72 2h6v2h-6zM146 2h8v2h-8zM48 4h14v2h-14zM106 4h8v2h-8zM0 6h6v1h-6zM100 6h30v1h-30zM0 8h8v1h-8zM32 8h8v1h-8zM70 8h30v1h-30zM140 8h20v1h-20zM76 9h8v1h-8zM42 10h18v2h-18zM18 12h18v2h-18zM90 12h14v2h-14zM118 12h10v2h-10zM0 14h8v1h-8zM26 14h30v1h-30zM0 15h6v2h-6zM6 15h14v2h-14zM58 17h6v1h-6zM102 17h18v1h-18zM86 18h10v1h-10zM96 18h18v1h-18zM0 19h18v1h-18zM100 19h14v1h-14zM138 19h6v1h-6zM86 20h14v1h-14zM100 20h6v1h-6zM136 20h10v1h-10zM108 21h8v2h-8zM116 21h8v2h-8zM156 21h4v2h-4zM24 23h14v1h-14zM62 23h14v1h-14zM76 23h10v1h-10zM100 23h18v1h-18zM154 23h6v1h-6zM36 24h6v1h-6zM108 24h18v1h-18zM84 25h6v1h-6zM144 25h16v1h-16zM12 26h6v1h-6zM18 26h14v1h-14zM8 27h24v1h-24zM32 27h6v1h-6zM116 27h14v1h-14zM144 27h6v1h-6zM0 28h8v2h-8zM0 30h10v1h-10zM28 30h10v1h-10zM58 30h14v1h-14zM72 30h10v1h-10zM32 31h10v2h-10zM42 31h6v2h-6zM60 31h30v2h-30zM122 31h10v2h-10zM32 33h14v1h-14zM76 33h14v1h-14zM98 33h30v1h-30zM128 33h24v1h-24zM152 33h8v1h-8zM24 34h6v1h-6zM38 34h18v1h-18zM56 34h10v1h-10zM120 34h30v1h-30zM24 35h30v1h-30zM70 35h10v1h-10zM42 37h30v1h-30zM40 38h30v1h-30zM100 38h24v1h-24zM58 39h14v1h-14zM72 39h10v1h-10zM82 39h18v1h-18zM38 40h14v2h-14zM52 40h30v2h-30zM118 40h14v2h-14zM132 40h28v2h-28zM116 42h6v1h-6zM24 43h14v1h-14zM44 43h14v1h-14zM112 43h30v1h-30zM42 44h8v2h-8zM0 47h10v2h-10zM56 47h8v2h-8zM90 49h18v1h-18zM108 49h18v1h-18zM80 50h6v1h-6zM100 50h10v1h-10zM110 50h24v1h-24zM156 50h4v1h-4zM66 51h10v1h-10zM154 51h6v1h-6z" fill="#FFFFFF" fill-opacity="0.5"/><path d="M132 0h6v2h-6zM148 0h12v2h-12zM84 2h6v2h-6zM0 4h8v2h-8zM72 4h6v2h-6zM78 4h18v2h-18zM96 4h10v2h-10zM114 4h8v2h-8zM122 4h8v2h-8zM148 4h10v2h-10zM12 6h24v1h-24zM36 6h24v1h-24zM0 7h14v1h-14zM84 7h14v1h-14zM98 7h8v1h-8zM106 7h24v1h-24zM40 8h30v1h-30zM108 8h10v1h-10zM118 8h8v1h-8zM40 9h6v1h-6zM152 10h8v2h-8zM66 12h24v2h-24zM136 14h14v1h-14zM20 15h10v2h-10zM146 15h14v2h-14zM30 17h6v1h-6zM36 17h6v1h-6zM50 17h8v1h-8zM78 17h24v1h-24zM128 17h18v1h-18zM146 17h14v1h-14zM16 18h30v1h-30zM114 18h8v1h-8zM18 19h10v1h-10zM28 19h10v1h-10zM120 19h18v1h-18zM144 19h16v1h-16zM62 20h24v1h-24zM36 21h8v2h-8zM76 21h8v2h-8zM124 21h8v2h-8zM0 23h24v1h-24zM38 23h24v1h-24zM86 23h14v1h-14zM126 23h6v1h-6zM132 23h8v1h-8zM0 24h30v1h-30zM30 24h6v1h-6zM42 24h6v1h-6zM78 24h24v1h-24zM0 25h24v1h-24zM24 25h14v1h-14zM56 25h14v1h-14zM90 25h24v1h-24zM138 25h6v1h-6zM6 26h6v1h-6zM32 26h24v1h-24zM0 27h8v1h-8zM38 27h30v1h-30zM74 27h10v1h-10zM84 27h14v1h-14zM130 27h8v1h-8zM134 28h18v2h-18zM90 31h8v2h-8zM150 31h6v2h-6zM90 33h8v1h-8zM0 35h24v1h-24zM86 35h10v1h-10zM0 36h30v1h-30zM82 36h8v1h-8zM120 37h18v1h-18zM6 38h24v1h-24zM30 38h10v1h-10zM18 39h8v1h-8zM152 39h8v1h-8zM0 40h8v2h-8zM8 40h30v2h-30zM88 40h30v2h-30zM14 42h18v1h-18zM44 42h24v1h-24zM0 43h24v1h-24zM58 43h10v1h-10zM94 44h8v2h-8zM102 44h24v2h-24zM0 46h8v1h-8zM110 46h14v1h-14zM124 46h8v1h-8zM130 47h8v2h-8zM138 47h14v2h-14zM54 50h8v1h-8zM62 50h18v1h-18zM142 50h14v1h-14zM110 51h30v1h-30zM140 51h14v1h-14z" fill="#FFFFFF" fill-opacity="0.7"/><path d="M78 2h6v2h-6zM90 2h8v2h-8zM130 4h18v2h-18zM60 6h10v1h-10zM8 8h24v1h-24zM126 8h14v1h-14zM0 9h18v1h-18zM60 10h18v2h-18zM8 14h18v1h-18zM56 14h30v1h-30zM42 17h8v1h-8zM64 17h14v1h-14zM46 18h10v1h-10zM56 18h30v1h-30zM130 18h8v1h-8zM0 21h6v2h-6zM44 21h8v2h-8zM52 21h24v2h-24zM102 24h6v1h-6zM144 24h16v1h-16zM114 25h24v1h-24zM68 27h6v1h-6zM36 28h8v2h-8zM58 28h8v2h-8zM152 28h8v2h-8zM10 30h18v1h-18zM44 30h14v1h-14zM14 31h18v2h-18zM96 35h24v1h-24zM120 35h8v1h-8zM138 35h14v1h-14zM90 36h30v1h-30zM158 36h2v1h-2zM138 37h22v1h-22zM70 38h6v1h-6zM76 38h24v1h-24zM124 38h24v1h-24zM26 39h14v1h-14zM24 44h18v2h-18zM38 46h18v1h-18zM132 46h24v1h-24zM156 46h4v1h-4zM78 47h30v2h-30zM0 49h6v1h-6zM30 51h6v1h-6z" fill="#4040E0" fill-opacity="0.06"/><path d="M98 2h24v2h-24zM62 4h10v2h-10zM158 4h2v2h-2zM130 7h10v1h-10zM30 10h6v2h-6zM108 28h18v2h-18zM0 31h14v2h-14zM46 33h30v1h-30zM30 36h8v1h-8zM64 36h18v1h-18zM0 37h24v1h-24z" fill="#F06060" fill-opacity="0.1"/><path d="M154 2h6v2h-6zM8 4h24v2h-24zM130 6h24v1h-24zM134 26h18v1h-18zM8 28h18v2h-18zM120 36h8v1h-8zM128 39h10v1h-10zM68 42h18v1h-18zM126 49h6v1h-6zM132 49h18v1h-18z" fill="#F06060" fill-opacity="0.2"/></pattern><clipPath id="cl_sts"><rect x="354.6" y="785.2" width="155.2" height="154.19999999999993"/></clipPath><clipPath id="clipT"><path d="M528.4,840.3 C531.0,826.7 539.9,827.2 543.8,824.0 C547.6,820.8 549.9,823.2 551.5,821.1 C553.1,819.0 551.1,816.0 553.4,811.5 C555.6,807.0 560.8,798.1 565.0,794.2 C569.2,790.4 573.9,788.7 578.4,788.4 C582.9,788.1 586.3,792.4 591.8,792.3 C597.2,792.1 601.5,788.5 611.1,787.5 C620.7,786.5 638.9,786.0 649.5,786.5 C660.1,787.0 666.2,787.5 674.5,790.4 C682.8,793.3 694.1,800.3 699.4,803.8 C704.7,807.3 705.1,792.6 706.2,811.5 C707.3,830.4 707.7,898.0 706.2,917.2 C704.8,936.4 703.8,924.6 697.5,926.8 C691.2,929.0 676.7,930.6 668.7,930.6 C660.7,930.6 654.6,929.4 649.5,926.8 C644.4,924.2 642.5,918.1 638.0,915.2 C633.5,912.3 628.7,910.5 622.6,909.5 C616.5,908.5 607.3,908.5 601.5,909.5 C595.7,910.5 593.1,913.9 588.0,915.2 C582.9,916.5 574.9,915.9 570.7,917.2 C566.5,918.5 565.2,922.9 563.0,922.9 C560.8,922.9 561.1,919.8 557.3,917.2 C553.5,914.7 544.8,909.5 540.0,907.6 C535.2,905.7 530.3,916.8 528.4,905.6 C526.5,894.4 525.8,853.9 528.4,840.3 Z"/></clipPath><clipPath id="clipV"><path d="M947.1,914.6 C947.1,909.3 953.6,898.3 957.8,887.9 C961.9,877.5 967.5,860.9 972.0,852.3 C976.5,843.7 980.0,840.8 984.5,836.3 C989.0,831.8 993.7,827.1 998.7,825.6 C1003.7,824.1 1011.2,828.6 1014.7,827.4 C1018.2,826.2 1016.1,821.8 1020.0,818.5 C1023.9,815.2 1032.0,810.3 1037.9,807.8 C1043.9,805.3 1049.8,802.7 1055.7,803.3 C1061.6,803.9 1067.6,809.8 1073.5,811.4 C1079.4,813.0 1085.9,811.6 1091.2,813.1 C1096.5,814.6 1101.0,818.4 1105.5,820.2 C1110.0,822.0 1114.4,823.2 1117.9,823.8 C1121.5,824.4 1122.3,821.7 1126.8,823.8 C1131.2,825.9 1138.7,832.1 1144.6,836.3 C1150.5,840.4 1157.1,843.7 1162.4,848.7 C1167.8,853.7 1173.6,860.0 1176.7,866.5 C1179.8,873.0 1180.5,879.9 1181.1,887.9 C1181.7,895.9 1181.8,909.0 1180.2,914.6 C1178.6,920.2 1177.2,923.2 1171.3,921.7 C1165.4,920.2 1150.5,908.4 1144.6,905.7 C1138.7,903.0 1147.3,905.6 1135.7,905.7 C1124.1,905.8 1095.8,906.2 1075.0,906.5 C1054.2,906.8 1024.8,906.6 1011.2,907.4 C997.6,908.1 999.3,909.2 993.4,911.0 C987.5,912.8 981.5,916.6 975.6,918.1 C969.7,919.6 962.5,920.5 957.8,919.9 C953.0,919.3 947.1,919.9 947.1,914.6 Z"/></clipPath><linearGradient id="cbv" x1="1136" y1="0" x2="1175" y2="0" gradientUnits="userSpaceOnUse">
<stop offset="0" stop-color="#000090"/><stop offset="0.12" stop-color="#0010F0"/><stop offset="0.3" stop-color="#00A0FF"/><stop offset="0.42" stop-color="#20F0A0"/><stop offset="0.52" stop-color="#A0F000"/><stop offset="0.62" stop-color="#FFE000"/><stop offset="0.75" stop-color="#FF7000"/><stop offset="0.86" stop-color="#F01010"/><stop offset="0.93" stop-color="#F000A0"/><stop offset="1" stop-color="#FFFFFF"/></linearGradient><clipPath id="clipW"><path d="M1209.2,819.2 C1210.8,801.3 1215.0,822.1 1218.8,821.1 C1222.6,820.1 1228.1,817.6 1232.3,813.4 C1236.5,809.2 1238.0,800.3 1243.8,796.1 C1249.5,791.9 1259.1,789.0 1266.8,788.4 C1274.5,787.8 1283.5,789.7 1289.9,792.3 C1296.3,794.9 1298.2,801.6 1305.3,803.8 C1312.3,806.0 1326.1,803.5 1332.2,805.7 C1338.3,808.0 1336.7,816.0 1341.8,817.3 C1346.9,818.6 1356.2,811.5 1362.9,813.4 C1369.6,815.3 1376.0,824.0 1382.1,828.8 C1388.2,833.6 1396.5,825.2 1399.4,842.2 C1402.3,859.2 1402.3,916.2 1399.4,930.6 C1396.5,945.0 1385.9,931.6 1382.1,928.7 C1378.3,925.8 1382.8,913.3 1376.4,913.3 C1370.0,913.3 1358.8,926.5 1343.7,928.7 C1328.7,931.0 1302.1,927.8 1286.1,926.8 C1270.1,925.8 1260.4,922.6 1247.6,922.9 C1234.8,923.2 1215.6,946.0 1209.2,928.7 C1202.8,911.4 1207.6,837.1 1209.2,819.2 Z"/></clipPath></defs>
<text x="704.50" y="15.20" font-size="21" text-anchor="middle" font-weight="normal" font-style="normal" fill="#000" >Model</text>
<rect x="3.00" y="24.00" width="1402.00" height="2.40" fill="#000" />
<text x="704.00" y="328.50" font-size="21" text-anchor="middle" font-weight="normal" font-style="normal" fill="#000" >Experiments</text>
<rect x="3.00" y="338.00" width="1402.00" height="2.40" fill="#000" />
<text x="470.00" y="367.30" font-size="20.5" text-anchor="middle" font-weight="normal" font-style="normal" fill="#000" >Late (10–15 h)</text>
<rect x="42.30" y="378.00" width="870.30" height="2.50" fill="#000" />
<text x="1165.60" y="367.40" font-size="20.5" text-anchor="middle" font-weight="normal" font-style="normal" fill="#000" >Early (4.5–6 h)</text>
<rect x="945.00" y="378.00" width="460.00" height="2.50" fill="#000" />
<text transform="translate(15.00,475.00) rotate(-90)" x="0" y="0" font-size="21" text-anchor="middle" fill="#000" >+Epiboly</text>
<rect x="26.40" y="393.00" width="2.10" height="161.50" fill="#000" />
<text transform="translate(15.00,749.20) rotate(-90)" x="0" y="0" font-size="21" text-anchor="middle" fill="#000" >−Epiboly</text>
<line x1="28.6" y1="588" x2="26.4" y2="949.5" stroke="#000" stroke-width="2.1"/>
<text transform="translate(0.00,63.00) scale(1.08,1)" font-size="32" font-weight="bold" fill="#000" stroke="#000" stroke-width="1.1">a</text>
<path d="M80.5,162 L80.5,155.5 A44,44 0 0 1 168.5,155.5 L168.5,162" fill="none" stroke="url(#ringg)" stroke-width="14" clip-path="url(#clipA)"/>
<path d="M41,165 A85,85 0 0 1 211,164 C195,164 180,152 164,152 C150,152 142,167 125,167 C108,167 97,154 81,153.5 C68,153 55,163 41,165 Z" fill="none" stroke="#000" stroke-width="2.2" stroke-linejoin="round"/>
<path d="M0,-8.5 L7.5,8 L0,4.5 L-7.5,8 Z" fill="#9898F8" transform="translate(125.8,68.5) rotate(0)"/>
<path d="M0,-8.5 L7.5,8 L0,4.5 L-7.5,8 Z" fill="#9898F8" transform="translate(63.0,90.5) rotate(-52)"/>
<path d="M0,-8.5 L7.5,8 L0,4.5 L-7.5,8 Z" fill="#9898F8" transform="translate(189.5,92.5) rotate(52)"/>
<path d="M0,-8.5 L7.5,8 L0,4.5 L-7.5,8 Z" fill="#9898F8" transform="translate(33.5,128.5) rotate(-75)"/>
<path d="M0,-8.5 L7.5,8 L0,4.5 L-7.5,8 Z" fill="#9898F8" transform="translate(220.0,131.5) rotate(75)"/>
<line x1="26" y1="183.5" x2="237" y2="183.5" stroke="#F49898" stroke-width="3" stroke-dasharray="0 3 7.5 14 21 21 21 21 21 21 21 21 21 21 21 21 21 21 21 21"/>
<path d="M11.5,183.5 L33,174.5 L27.5,183.5 L33,192.5 Z" fill="#F49898"/>
<path d="M251.5,183.5 L230,174.5 L235.5,183.5 L230,192.5 Z" fill="#F49898"/>
<path d="M41,199 C55,199 70,210 87,210.5 C104,211 110,196 126,196 C142,196 152,210 167,209.7 C183,209.5 197,199 211,199 A85,85 0 0 1 41,199 Z" fill="#E5E5E5"/>
<path d="M211,199 A85,85 0 0 1 41,199" fill="none" stroke="#888" stroke-width="3.8"/>
<path d="M41,199 C55,199 70,210 87,210.5 C104,211 110,196 126,196 C142,196 152,210 167,209.7 C183,209.5 197,199 211,199" fill="none" stroke="#000" stroke-width="2.2"/>
<text x="119.40" y="244.50" font-size="21" text-anchor="middle" font-weight="normal" font-style="normal" fill="#000" >Posterior</text>
<text transform="translate(270.60,63.30) scale(1.08,1)" font-size="32" font-weight="bold" fill="#000" stroke="#000" stroke-width="1.1">b</text>
<rect x="368.65" y="63.70" width="55.05" height="174.60" fill="#E5E5E5" />
<rect x="489.00" y="63.70" width="54.20" height="174.60" fill="#E5E5E5" />
<line x1="368.65" y1="80.80" x2="371.65" y2="80.80" stroke="#000" stroke-width="2" />
<line x1="368.65" y1="115.65" x2="371.65" y2="115.65" stroke="#000" stroke-width="2" />
<line x1="368.65" y1="150.50" x2="371.65" y2="150.50" stroke="#000" stroke-width="2" />
<line x1="368.65" y1="185.35" x2="371.65" y2="185.35" stroke="#000" stroke-width="2" />
<line x1="368.65" y1="220.20" x2="371.65" y2="220.20" stroke="#000" stroke-width="2" />
<line x1="540.20" y1="107.00" x2="543.20" y2="107.00" stroke="#000" stroke-width="2" />
<line x1="540.20" y1="150.50" x2="543.20" y2="150.50" stroke="#000" stroke-width="2" />
<line x1="540.20" y1="194.00" x2="543.20" y2="194.00" stroke="#000" stroke-width="2" />
<line x1="380.90" y1="235.30" x2="380.90" y2="238.30" stroke="#000" stroke-width="2" />
<line x1="405.90" y1="235.30" x2="405.90" y2="238.30" stroke="#000" stroke-width="2" />
<line x1="430.90" y1="235.30" x2="430.90" y2="238.30" stroke="#000" stroke-width="2" />
<line x1="455.90" y1="235.30" x2="455.90" y2="238.30" stroke="#000" stroke-width="2" />
<line x1="480.90" y1="235.30" x2="480.90" y2="238.30" stroke="#000" stroke-width="2" />
<line x1="505.90" y1="235.30" x2="505.90" y2="238.30" stroke="#000" stroke-width="2" />
<line x1="530.90" y1="235.30" x2="530.90" y2="238.30" stroke="#000" stroke-width="2" />
<line x1="368.65" y1="150.6" x2="543.2" y2="150.6" stroke="#000" stroke-width="2" stroke-dasharray="5 4.3"/>
<path d="M423.9,126.8 C428,126.5 431,130 433.5,138 C436,147 438,163 441,172 C443.5,178 446,179.1 452,179.1 L461,179.1 C466,179.1 469,178 471.5,172 C474,163 476.5,147 479,138 C481.5,130 484.5,126.5 488.6,126.8" fill="none" stroke="#FF00FF" stroke-width="2"/>
<path d="M423.9,144 C427,145.5 429,147 431,151 C434,157 437,165 441,165.5 C446,166 452,157 458,151 C464,145 470,137 474.5,136.3 C479,136 482,145 485,151 C486.5,153.5 487.5,155 488.6,155.7" fill="none" stroke="#000" stroke-width="2.1"/>
<path d="M423.9,160.8 C425,162.5 426,164 427.5,163.5 C429.5,163 432,163 434.5,164.5 C438,167 441,170.5 446,171.8 C450,172.7 453,172.8 456,172.8 C460,172.8 463,172.7 467,171.8 C472,170.5 475,167 478.5,164.5 C481,163 483.5,163 485.5,163.5 C487,164 488,162.5 488.6,160.5" fill="none" stroke="#00EE00" stroke-width="2.1"/>
<rect x="368.65" y="63.7" width="174.55000000000007" height="174.60000000000002" fill="none" stroke="#000" stroke-width="2.5"/>
<text x="362.30" y="87.80" font-size="19.5" text-anchor="end" font-weight="normal" font-style="normal" fill="#000" >0.4</text>
<text x="362.30" y="122.65" font-size="19.5" text-anchor="end" font-weight="normal" font-style="normal" fill="#000" >0.2</text>
<text x="362.30" y="157.50" font-size="19.5" text-anchor="end" font-weight="normal" font-style="normal" fill="#000" >0</text>
<text x="362.30" y="192.35" font-size="19.5" text-anchor="end" font-weight="normal" font-style="normal" fill="#000" >−0.2</text>
<text x="362.30" y="227.20" font-size="19.5" text-anchor="end" font-weight="normal" font-style="normal" fill="#000" >−0.4</text>
<text x="549.80" y="114.00" font-size="19.5" text-anchor="start" font-weight="normal" font-style="normal" fill="#000" >1.5</text>
<text x="549.80" y="157.50" font-size="19.5" text-anchor="start" font-weight="normal" font-style="normal" fill="#000" >1.0</text>
<text x="549.80" y="201.00" font-size="19.5" text-anchor="start" font-weight="normal" font-style="normal" fill="#000" >0.5</text>
<text x="374.60" y="258.70" font-size="19.5" text-anchor="middle" font-weight="normal" font-style="normal" fill="#000" >−3</text>
<text x="403.10" y="258.70" font-size="19.5" text-anchor="middle" font-weight="normal" font-style="normal" fill="#000" >−2</text>
<text x="431.20" y="258.70" font-size="19.5" text-anchor="middle" font-weight="normal" font-style="normal" fill="#000" >−1</text>
<text x="455.90" y="258.70" font-size="19.5" text-anchor="middle" font-weight="normal" font-style="normal" fill="#000" >0</text>
<text x="480.00" y="258.70" font-size="19.5" text-anchor="middle" font-weight="normal" font-style="normal" fill="#000" >1</text>
<text x="505.50" y="258.70" font-size="19.5" text-anchor="middle" font-weight="normal" font-style="normal" fill="#000" >2</text>
<text x="530.70" y="258.70" font-size="19.5" text-anchor="middle" font-weight="normal" font-style="normal" fill="#000" >3</text>
<text x="456.20" y="287.60" font-size="20.5" text-anchor="middle" font-weight="normal" font-style="normal" fill="#000" >Position (mm)</text>
<text transform="translate(310.50,152.00) rotate(-90)" x="0" y="0" font-size="20" text-anchor="middle" fill="#000" >Velocity (mm h<tspan font-size="13" dy="-7">−1</tspan><tspan dy="7">)</tspan></text>
<text transform="translate(608.30,150.10) rotate(-90)" x="0" y="0" font-size="21" text-anchor="middle" fill="#000" >Contractility</text>
<text transform="translate(633.50,150.50) rotate(-90)" x="0" y="0" font-size="21" text-anchor="middle" fill="#000" >Tension</text>
<rect x="600.00" y="209.80" width="2.80" height="24.70" fill="#FF00FF" />
<rect x="624.60" y="194.00" width="2.80" height="24.90" fill="#00EE00" />
<text transform="translate(654.50,63.00) scale(1.08,1)" font-size="32" font-weight="bold" fill="#000" stroke="#000" stroke-width="1.1">c</text>
<polygon points="775.9,63.3 791,63.3 789,238.3 774.4,238.3" fill="url(#cred)"/>
<polygon points="829,63.3 844.5,63.3 846.4,238.3 831.5,238.3" fill="url(#credr)"/>
<polygon points="792.6,63.3 828.1,63.3 832,238.3 789.8,238.3" fill="url(#cblue)"/>
<rect x="774" y="63.3" width="73" height="175.0" fill="url(#cfadeb)"/>
<line x1="777.5" y1="63.3" x2="776" y2="238.3" stroke="#555" stroke-opacity="0.55" stroke-width="0.8"/>
<line x1="781" y1="63.3" x2="779.5" y2="238.3" stroke="#555" stroke-opacity="0.55" stroke-width="0.8"/>
<line x1="784.5" y1="63.3" x2="783" y2="238.3" stroke="#555" stroke-opacity="0.55" stroke-width="0.8"/>
<line x1="788" y1="63.3" x2="786.5" y2="238.3" stroke="#555" stroke-opacity="0.55" stroke-width="0.8"/>
<line x1="791.5" y1="63.3" x2="790" y2="238.3" stroke="#555" stroke-opacity="0.55" stroke-width="0.8"/>
<line x1="795" y1="63.3" x2="792.5" y2="238.3" stroke="#555" stroke-opacity="0.55" stroke-width="0.8"/>
<line x1="800" y1="63.3" x2="799" y2="238.3" stroke="#555" stroke-opacity="0.55" stroke-width="0.8"/>
<line x1="805" y1="63.3" x2="804.5" y2="238.3" stroke="#555" stroke-opacity="0.55" stroke-width="0.8"/>
<line x1="810.3" y1="63.3" x2="810.3" y2="238.3" stroke="#555" stroke-opacity="0.55" stroke-width="0.8"/>
<line x1="815.5" y1="63.3" x2="816" y2="238.3" stroke="#555" stroke-opacity="0.55" stroke-width="0.8"/>
<line x1="820.5" y1="63.3" x2="821.5" y2="238.3" stroke="#555" stroke-opacity="0.55" stroke-width="0.8"/>
<line x1="825.5" y1="63.3" x2="828" y2="238.3" stroke="#555" stroke-opacity="0.55" stroke-width="0.8"/>
<line x1="829" y1="63.3" x2="830.5" y2="238.3" stroke="#555" stroke-opacity="0.55" stroke-width="0.8"/>
<line x1="832.5" y1="63.3" x2="834" y2="238.3" stroke="#555" stroke-opacity="0.55" stroke-width="0.8"/>
<line x1="836" y1="63.3" x2="837.5" y2="238.3" stroke="#555" stroke-opacity="0.55" stroke-width="0.8"/>
<line x1="839.5" y1="63.3" x2="841" y2="238.3" stroke="#555" stroke-opacity="0.55" stroke-width="0.8"/>
<line x1="843" y1="63.3" x2="844.5" y2="238.3" stroke="#555" stroke-opacity="0.55" stroke-width="0.8"/>
<line x1="722.90" y1="238.30" x2="725.90" y2="238.30" stroke="#000" stroke-width="2" />
<line x1="722.90" y1="194.55" x2="725.90" y2="194.55" stroke="#000" stroke-width="2" />
<line x1="722.90" y1="150.80" x2="725.90" y2="150.80" stroke="#000" stroke-width="2" />
<line x1="722.90" y1="107.05" x2="725.90" y2="107.05" stroke="#000" stroke-width="2" />
<line x1="722.90" y1="63.30" x2="725.90" y2="63.30" stroke="#000" stroke-width="2" />
<line x1="735.45" y1="235.30" x2="735.45" y2="238.30" stroke="#000" stroke-width="2" />
<line x1="760.50" y1="235.30" x2="760.50" y2="238.30" stroke="#000" stroke-width="2" />
<line x1="785.55" y1="235.30" x2="785.55" y2="238.30" stroke="#000" stroke-width="2" />
<line x1="810.60" y1="235.30" x2="810.60" y2="238.30" stroke="#000" stroke-width="2" />
<line x1="835.65" y1="235.30" x2="835.65" y2="238.30" stroke="#000" stroke-width="2" />
<line x1="860.70" y1="235.30" x2="860.70" y2="238.30" stroke="#000" stroke-width="2" />
<line x1="885.75" y1="235.30" x2="885.75" y2="238.30" stroke="#000" stroke-width="2" />
<rect x="722.9" y="63.3" width="174.60000000000002" height="175.0" fill="none" stroke="#000" stroke-width="2.2"/>
<text x="717.00" y="244.60" font-size="19.5" text-anchor="end" font-weight="normal" font-style="normal" fill="#000" >0</text>
<text x="717.00" y="200.85" font-size="19.5" text-anchor="end" font-weight="normal" font-style="normal" fill="#000" >1</text>
<text x="717.00" y="157.10" font-size="19.5" text-anchor="end" font-weight="normal" font-style="normal" fill="#000" >2</text>
<text x="717.00" y="113.35" font-size="19.5" text-anchor="end" font-weight="normal" font-style="normal" fill="#000" >3</text>
<text x="717.00" y="69.60" font-size="19.5" text-anchor="end" font-weight="normal" font-style="normal" fill="#000" >4</text>
<text x="729.00" y="259.10" font-size="19.5" text-anchor="middle" font-weight="normal" font-style="normal" fill="#000" >−3</text>
<text x="757.30" y="259.10" font-size="19.5" text-anchor="middle" font-weight="normal" font-style="normal" fill="#000" >−2</text>
<text x="784.00" y="259.10" font-size="19.5" text-anchor="middle" font-weight="normal" font-style="normal" fill="#000" >−1</text>
<text x="811.00" y="259.10" font-size="19.5" text-anchor="middle" font-weight="normal" font-style="normal" fill="#000" >0</text>
<text x="835.20" y="259.10" font-size="19.5" text-anchor="middle" font-weight="normal" font-style="normal" fill="#000" >1</text>
<text x="860.70" y="259.10" font-size="19.5" text-anchor="middle" font-weight="normal" font-style="normal" fill="#000" >2</text>
<text x="885.50" y="259.10" font-size="19.5" text-anchor="middle" font-weight="normal" font-style="normal" fill="#000" >3</text>
<text x="810.80" y="287.40" font-size="20.5" text-anchor="middle" font-weight="normal" font-style="normal" fill="#000" >Position (mm)</text>
<text transform="translate(689.50,151.50) rotate(-90)" x="0" y="0" font-size="20.5" text-anchor="middle" fill="#000" >Time (h)</text>
<text transform="translate(925.00,63.00) scale(1.08,1)" font-size="32" font-weight="bold" fill="#000" stroke="#000" stroke-width="1.1">d</text>
<text x="1035.40" y="76.10" font-size="20.5" text-anchor="middle" font-weight="normal" font-style="normal" fill="#000" >Early</text>
<path d="M1035.3,111.0 L1030.6,111.1 L1025.9,111.5 L1021.3,112.0 L1016.7,112.8 L1012.1,113.9 L1007.6,115.1 L1003.2,116.6 L998.8,118.3 L994.6,120.2 L990.4,122.3 L986.4,124.6 L982.6,127.0 L978.8,129.7 L975.3,132.6 L971.9,135.6 L968.6,138.8 L965.6,142.1 L962.7,145.6 L960.1,149.3 L957.6,153.0 L955.4,156.9 L953.4,160.8 L951.6,164.9 L950.0,169.0 L948.7,173.3 L947.6,177.5 L946.7,181.9 L946.1,186.2 L945.7,190.6 L945.6,195.0 C946.5,203 950,213 954.9,215.6 C958.5,216.5 960.5,210 962,207.5 C963.5,206 965,205.9 968,205.8 L986.3,205.2 C992,204.5 995,200 999.1,199.2 C1003,199 1006,206.5 1012,208 L1058.6,208 C1064.6,206.5 1067.6,199 1071.5,199.2 C1075.6,200 1078.6,204.5 1084.3,205.2 L1102.6,205.8 C1105.6,205.9 1107.1,206 1108.6,207.5 C1110.1,210 1112.1,216.5 1115.7,215.6 C1120.6,213 1124.1,203 1124.9,195 L1125.0,195.0 L1124.9,190.6 L1124.5,186.2 L1123.9,181.9 L1123.0,177.5 L1121.9,173.3 L1120.6,169.0 L1119.0,164.9 L1117.2,160.8 L1115.2,156.9 L1113.0,153.0 L1110.5,149.3 L1107.9,145.6 L1105.0,142.1 L1102.0,138.8 L1098.7,135.6 L1095.3,132.6 L1091.8,129.7 L1088.0,127.0 L1084.2,124.6 L1080.2,122.3 L1076.0,120.2 L1071.8,118.3 L1067.4,116.6 L1063.0,115.1 L1058.5,113.9 L1053.9,112.8 L1049.3,112.0 L1044.7,111.5 L1040.0,111.1 L1035.3,111.0 Z" fill="url(#dfill)"/>
<path d="M940.9,219.1 940.9,216.3 940.9,213.6 940.9,210.8 946.2,209.8 946.2,207.2 946.1,204.7 946,202.1 945.9,199.5 945.7,196.8 945.5,194.1 945.2,191.4 944.9,188.6 944.6,185.8 944.3,183 944,180.1 943.7,177.2 943.4,174.3 943.1,171.4 942.8,168.4 942.6,165.5 942.4,162.5 942.1,159.6 942,156.6 941.8,153.7 941.6,150.8 941.5,147.8 941.4,144.9 941.3,142 941.2,139.2 941.2,136.3 941.1,133.4 941.1,130.6 941.1,127.7 941,124.9 941,122.1 941,119.3 941,116.5 941,113.7 M946.5,219.1 946.5,216.3 946.5,213.6 946.5,210.8 953.1,210.5 953.1,208.1 953,205.6 952.9,203.1 952.7,200.6 952.4,197.9 952.1,195.3 951.8,192.6 951.4,189.8 951,187 950.6,184.1 950.3,181.2 949.9,178.3 949.5,175.3 949.1,172.3 948.8,169.3 948.5,166.3 948.2,163.2 947.9,160.2 947.7,157.2 947.5,154.2 947.3,151.2 947.2,148.2 947,145.3 946.9,142.3 946.8,139.4 946.8,136.5 946.7,133.6 946.7,130.7 946.6,127.8 946.6,125 946.6,122.2 946.5,119.3 946.5,116.5 946.5,113.7 M952,219.1 952,216.3 952,213.6 952,210.8 960.2,211.4 960.2,209.1 960,206.8 959.8,204.4 959.5,201.9 959.2,199.3 958.8,196.7 958.4,194 957.9,191.3 957.4,188.4 956.9,185.5 956.4,182.6 956,179.6 955.5,176.5 955.1,173.5 954.7,170.4 954.3,167.3 954,164.2 953.7,161 953.4,157.9 953.2,154.8 953,151.8 952.8,148.7 952.6,145.7 952.5,142.7 952.4,139.7 952.3,136.7 952.3,133.8 952.2,130.9 952.2,128 952.1,125.1 952.1,122.2 952.1,119.4 952.1,116.6 952.1,113.8 M957.6,219.1 957.6,216.3 957.6,213.6 957.6,210.8 967.4,212.5 967.3,210.3 967,208.1 966.7,205.8 966.3,203.5 965.9,201 965.4,198.4 964.8,195.8 964.3,193 963.7,190.2 963.1,187.2 962.5,184.2 962,181.2 961.4,178 960.9,174.9 960.5,171.7 960,168.5 959.7,165.3 959.3,162 959,158.8 958.8,155.6 958.5,152.5 958.4,149.3 958.2,146.2 958.1,143.1 958,140 957.9,137 957.8,134 957.8,131.1 957.7,128.1 957.7,125.2 957.7,122.3 957.7,119.5 957.6,116.6 957.6,113.8 M963.1,219.1 963.1,216.3 963.1,213.6 963.1,210.8 974.5,213.7 974.3,211.7 973.9,209.6 973.5,207.5 973,205.2 972.4,202.8 971.8,200.3 971.1,197.7 970.4,194.9 969.7,192.1 969.1,189.1 968.4,186 967.7,182.9 967.1,179.7 966.6,176.4 966.1,173.2 965.6,169.8 965.2,166.5 964.9,163.2 964.5,159.9 964.3,156.5 964.1,153.3 963.9,150 963.7,146.8 963.6,143.6 963.5,140.5 963.4,137.4 963.3,134.3 963.3,131.3 963.3,128.3 963.2,125.4 963.2,122.5 963.2,119.6 963.2,116.7 963.2,113.9 M968.7,219.1 968.7,216.3 968.7,213.6 968.7,210.8 981.4,214.9 981.1,213 980.6,211.1 980,209.1 979.4,207 978.6,204.7 977.9,202.2 977.1,199.7 976.3,196.9 975.5,194.1 974.7,191.1 973.9,188 973.2,184.8 972.6,181.5 972,178.1 971.5,174.7 971,171.3 970.6,167.9 970.2,164.4 969.9,161 969.7,157.6 969.5,154.2 969.3,150.8 969.2,147.5 969,144.2 969,141 968.9,137.8 968.8,134.7 968.8,131.6 968.8,128.5 968.7,125.5 968.7,122.6 968.7,119.7 968.7,116.8 968.7,113.9 M974.2,219.1 974.2,216.3 974.2,213.6 974.2,210.8 988,215.9 987.5,214.3 986.9,212.5 986.1,210.6 985.3,208.6 984.5,206.4 983.5,204.1 982.6,201.5 981.7,198.8 980.8,196 979.9,192.9 979.1,189.8 978.4,186.5 977.7,183.2 977.1,179.8 976.6,176.3 976.1,172.8 975.7,169.2 975.4,165.7 975.1,162.1 974.9,158.6 974.8,155.1 974.6,151.6 974.5,148.2 974.4,144.8 974.4,141.5 974.3,138.2 974.3,135 974.3,131.9 974.3,128.8 974.3,125.7 974.2,122.7 974.2,119.8 974.2,116.9 974.2,114 M979.8,219.1 979.8,216.4 979.8,213.6 979.8,210.8 994.3,216.8 993.6,215.3 992.7,213.6 991.8,211.9 990.8,210 989.8,207.9 988.7,205.6 987.7,203.1 986.7,200.4 985.7,197.6 984.8,194.6 984,191.4 983.2,188.1 982.5,184.7 982,181.3 981.5,177.7 981,174.1 980.7,170.5 980.4,166.9 980.2,163.2 980,159.6 979.9,156 979.8,152.4 979.8,148.9 979.7,145.4 979.7,142 979.7,138.7 979.7,135.4 979.7,132.2 979.7,129 979.7,125.9 979.7,122.9 979.8,119.9 979.8,116.9 979.8,114 M985.3,219.1 985.3,216.4 985.3,213.6 985.3,210.9 1000,217.2 999.1,215.8 998.1,214.3 997,212.7 995.8,210.8 994.7,208.8 993.5,206.6 992.3,204.2 991.2,201.5 990.2,198.7 989.3,195.7 988.4,192.6 987.7,189.3 987.1,185.9 986.5,182.4 986.1,178.9 985.7,175.2 985.5,171.6 985.3,167.9 985.2,164.2 985.1,160.5 985,156.9 985,153.2 985,149.6 985,146 985,142.6 985.1,139.1 985.1,135.8 985.2,132.5 985.2,129.3 985.2,126.1 985.2,123 985.3,120 985.3,117 985.3,114.1 M990.9,219.1 990.9,216.4 990.9,213.6 990.9,210.9 1005.2,217.2 1004.1,215.9 1002.9,214.4 1001.7,212.8 1000.4,211.1 999.1,209.1 997.8,206.9 996.6,204.6 995.4,202 994.4,199.2 993.5,196.3 992.7,193.2 992,189.9 991.4,186.6 990.9,183.1 990.6,179.6 990.3,176 990.2,172.4 990.1,168.7 990,165 990,161.3 990.1,157.6 990.1,153.9 990.2,150.2 990.3,146.6 990.4,143 990.4,139.5 990.5,136.1 990.6,132.8 990.6,129.5 990.7,126.3 990.7,123.2 990.8,120.1 990.8,117.1 990.8,114.2 M996.4,219.1 996.4,216.4 996.4,213.6 996.4,210.9 1009.9,216.6 1008.6,215.3 1007.3,213.9 1006,212.3 1004.6,210.6 1003.2,208.7 1001.9,206.5 1000.6,204.2 999.5,201.7 998.5,199 997.6,196.1 996.8,193.1 996.2,190 995.7,186.7 995.3,183.3 995.1,179.9 994.9,176.4 994.9,172.8 994.9,169.2 994.9,165.5 995,161.8 995.1,158.1 995.3,154.4 995.4,150.7 995.5,147 995.7,143.4 995.8,139.9 995.9,136.4 996,133 996.1,129.7 996.2,126.5 996.2,123.3 996.3,120.2 996.3,117.2 996.3,114.2 M1002,219.1 1002,216.4 1002,213.6 1002,210.9 1014.1,215.6 1012.8,214.2 1011.4,212.8 1010,211.2 1008.6,209.4 1007.2,207.5 1005.8,205.4 1004.6,203.1 1003.5,200.7 1002.5,198.1 1001.7,195.3 1001,192.4 1000.5,189.4 1000.1,186.2 999.9,183 999.7,179.7 999.7,176.3 999.7,172.9 999.8,169.3 999.9,165.7 1000.1,162.1 1000.3,158.4 1000.5,154.7 1000.7,151 1000.9,147.4 1001,143.8 1001.2,140.2 1001.3,136.7 1001.5,133.2 1001.6,129.9 1001.7,126.6 1001.7,123.4 1001.8,120.3 1001.8,117.3 1001.9,114.3 M1007.5,219.1 1007.5,216.4 1007.5,213.7 1007.5,210.9 1018,214.1 1016.7,212.7 1015.3,211.1 1013.9,209.5 1012.5,207.7 1011.2,205.8 1009.9,203.7 1008.8,201.4 1007.8,199 1006.9,196.5 1006.2,193.8 1005.6,191.1 1005.2,188.2 1004.9,185.2 1004.7,182.2 1004.6,179.1 1004.7,175.9 1004.8,172.6 1004.9,169.2 1005.1,165.7 1005.4,162.2 1005.6,158.6 1005.9,154.9 1006.1,151.3 1006.3,147.6 1006.5,144 1006.7,140.4 1006.8,136.9 1007,133.4 1007.1,130 1007.2,126.7 1007.3,123.5 1007.3,120.4 1007.4,117.3 1007.4,114.3 M1013.1,219.2 1013.1,216.4 1013.1,213.7 1013.1,211 1021.6,212.4 1020.4,210.8 1019.1,209.2 1017.8,207.5 1016.6,205.6 1015.4,203.7 1014.3,201.6 1013.3,199.4 1012.4,197 1011.6,194.6 1011,192 1010.6,189.4 1010.2,186.7 1010,183.9 1010,181.1 1010,178.1 1010.1,175.1 1010.2,172 1010.4,168.8 1010.6,165.5 1010.9,162 1011.1,158.5 1011.4,155 1011.6,151.4 1011.9,147.7 1012.1,144.1 1012.2,140.5 1012.4,137 1012.5,133.5 1012.6,130.1 1012.7,126.8 1012.8,123.6 1012.9,120.4 1012.9,117.4 1013,114.3 M1018.6,219.2 1018.6,216.4 1018.6,213.7 1018.6,211 1025.1,210.7 1024.1,209 1023,207.3 1021.9,205.4 1020.9,203.5 1019.9,201.5 1019,199.4 1018.2,197.2 1017.5,194.9 1016.9,192.6 1016.4,190.1 1016.1,187.7 1015.9,185.1 1015.7,182.5 1015.7,179.9 1015.7,177.1 1015.9,174.3 1016,171.3 1016.2,168.3 1016.4,165.1 1016.7,161.8 1016.9,158.4 1017.1,154.9 1017.3,151.4 1017.6,147.8 1017.7,144.2 1017.9,140.6 1018,137.1 1018.2,133.6 1018.3,130.2 1018.3,126.9 1018.4,123.6 1018.5,120.5 1018.5,117.4 1018.5,114.4 M1024.2,219.2 1024.2,216.4 1024.2,213.7 1024.2,211 1028.5,209.3 1027.8,207.5 1027,205.6 1026.2,203.7 1025.5,201.7 1024.8,199.7 1024.2,197.6 1023.6,195.4 1023.1,193.1 1022.7,190.8 1022.4,188.5 1022.1,186.1 1022,183.7 1021.9,181.3 1021.9,178.8 1022,176.2 1022.1,173.5 1022.2,170.7 1022.4,167.8 1022.5,164.8 1022.7,161.6 1022.9,158.3 1023.1,154.8 1023.2,151.3 1023.4,147.8 1023.5,144.2 1023.6,140.7 1023.7,137.1 1023.8,133.7 1023.9,130.3 1024,126.9 1024,123.7 1024.1,120.5 1024.1,117.4 1024.1,114.4 M1029.8,219.2 1029.8,216.4 1029.8,213.7 1029.8,211 1031.9,208.3 1031.5,206.4 1031.1,204.5 1030.7,202.5 1030.3,200.5 1030,198.4 1029.6,196.3 1029.3,194.1 1029.1,191.9 1028.9,189.6 1028.7,187.4 1028.6,185.1 1028.5,182.8 1028.5,180.4 1028.5,178 1028.5,175.5 1028.6,173 1028.7,170.3 1028.8,167.5 1028.9,164.5 1028.9,161.4 1029,158.1 1029.1,154.8 1029.2,151.3 1029.3,147.8 1029.4,144.2 1029.4,140.7 1029.5,137.2 1029.6,133.7 1029.6,130.3 1029.6,126.9 1029.7,123.7 1029.7,120.5 1029.7,117.4 1029.7,114.4 M1035.3,219.2 1035.3,216.4 1035.3,213.7 1035.3,211 1035.3,208 1035.3,206.1 1035.3,204.1 1035.3,202.1 1035.3,200.1 1035.3,198 1035.3,195.8 1035.3,193.7 1035.3,191.5 1035.3,189.2 1035.3,187 1035.3,184.7 1035.3,182.4 1035.3,180.1 1035.3,177.7 1035.3,175.3 1035.3,172.8 1035.3,170.1 1035.3,167.3 1035.3,164.4 1035.3,161.3 1035.3,158.1 1035.3,154.7 1035.3,151.3 1035.3,147.8 1035.3,144.2 1035.3,140.7 1035.3,137.2 1035.3,133.7 1035.3,130.3 1035.3,127 1035.3,123.7 1035.3,120.5 1035.3,117.4 1035.3,114.4 M1040.8,219.2 1040.8,216.4 1040.8,213.7 1040.8,211 1038.7,208.3 1039.1,206.4 1039.5,204.5 1039.9,202.5 1040.3,200.5 1040.6,198.4 1041,196.3 1041.3,194.1 1041.5,191.9 1041.7,189.6 1041.9,187.4 1042,185.1 1042.1,182.8 1042.1,180.4 1042.1,178 1042.1,175.5 1042,173 1041.9,170.3 1041.8,167.5 1041.7,164.5 1041.7,161.4 1041.6,158.1 1041.5,154.8 1041.4,151.3 1041.3,147.8 1041.2,144.2 1041.2,140.7 1041.1,137.2 1041,133.7 1041,130.3 1041,126.9 1040.9,123.7 1040.9,120.5 1040.9,117.4 1040.9,114.4 M1046.4,219.2 1046.4,216.4 1046.4,213.7 1046.4,211 1042.1,209.3 1042.8,207.5 1043.6,205.6 1044.4,203.7 1045.1,201.7 1045.8,199.7 1046.4,197.6 1047,195.4 1047.5,193.1 1047.9,190.8 1048.2,188.5 1048.5,186.1 1048.6,183.7 1048.7,181.3 1048.7,178.8 1048.6,176.2 1048.5,173.5 1048.4,170.7 1048.2,167.8 1048.1,164.8 1047.9,161.6 1047.7,158.3 1047.5,154.8 1047.4,151.3 1047.2,147.8 1047.1,144.2 1047,140.7 1046.9,137.1 1046.8,133.7 1046.7,130.3 1046.6,126.9 1046.6,123.7 1046.5,120.5 1046.5,117.4 1046.5,114.4 M1052,219.2 1052,216.4 1052,213.7 1052,211 1045.5,210.7 1046.5,209 1047.6,207.3 1048.7,205.4 1049.7,203.5 1050.7,201.5 1051.6,199.4 1052.4,197.2 1053.1,194.9 1053.7,192.6 1054.2,190.1 1054.5,187.7 1054.7,185.1 1054.9,182.5 1054.9,179.9 1054.9,177.1 1054.7,174.3 1054.6,171.3 1054.4,168.3 1054.2,165.1 1053.9,161.8 1053.7,158.4 1053.5,154.9 1053.3,151.4 1053,147.8 1052.9,144.2 1052.7,140.6 1052.6,137.1 1052.4,133.6 1052.3,130.2 1052.3,126.9 1052.2,123.6 1052.1,120.5 1052.1,117.4 1052.1,114.4 M1057.5,219.2 1057.5,216.4 1057.5,213.7 1057.5,211 1049,212.4 1050.2,210.8 1051.5,209.2 1052.8,207.5 1054,205.6 1055.2,203.7 1056.3,201.6 1057.3,199.4 1058.2,197 1059,194.6 1059.6,192 1060,189.4 1060.4,186.7 1060.6,183.9 1060.6,181.1 1060.6,178.1 1060.5,175.1 1060.4,172 1060.2,168.8 1060,165.5 1059.7,162 1059.5,158.5 1059.2,155 1059,151.4 1058.7,147.7 1058.5,144.1 1058.4,140.5 1058.2,137 1058.1,133.5 1058,130.1 1057.9,126.8 1057.8,123.6 1057.7,120.4 1057.7,117.4 1057.6,114.3 M1063,219.1 1063,216.4 1063,213.7 1063,210.9 1052.6,214.1 1053.9,212.7 1055.3,211.1 1056.7,209.5 1058.1,207.7 1059.4,205.8 1060.7,203.7 1061.8,201.4 1062.8,199 1063.7,196.5 1064.4,193.8 1065,191.1 1065.4,188.2 1065.7,185.2 1065.9,182.2 1066,179.1 1065.9,175.9 1065.8,172.6 1065.7,169.2 1065.5,165.7 1065.2,162.2 1065,158.6 1064.7,154.9 1064.5,151.3 1064.3,147.6 1064.1,144 1063.9,140.4 1063.8,136.9 1063.6,133.4 1063.5,130 1063.4,126.7 1063.3,123.5 1063.3,120.4 1063.2,117.3 1063.2,114.3 M1068.6,219.1 1068.6,216.4 1068.6,213.6 1068.6,210.9 1056.5,215.6 1057.8,214.2 1059.2,212.8 1060.6,211.2 1062,209.4 1063.4,207.5 1064.8,205.4 1066,203.1 1067.1,200.7 1068.1,198.1 1068.9,195.3 1069.6,192.4 1070.1,189.4 1070.5,186.2 1070.7,183 1070.9,179.7 1070.9,176.3 1070.9,172.9 1070.8,169.3 1070.7,165.7 1070.5,162.1 1070.3,158.4 1070.1,154.7 1069.9,151 1069.7,147.4 1069.6,143.8 1069.4,140.2 1069.3,136.7 1069.1,133.2 1069,129.9 1068.9,126.6 1068.9,123.4 1068.8,120.3 1068.8,117.3 1068.7,114.3 M1074.1,219.1 1074.1,216.4 1074.1,213.6 1074.1,210.9 1060.7,216.6 1062,215.3 1063.3,213.9 1064.6,212.3 1066,210.6 1067.4,208.7 1068.7,206.5 1070,204.2 1071.1,201.7 1072.1,199 1073,196.1 1073.8,193.1 1074.4,190 1074.9,186.7 1075.3,183.3 1075.5,179.9 1075.7,176.4 1075.7,172.8 1075.7,169.2 1075.7,165.5 1075.6,161.8 1075.5,158.1 1075.3,154.4 1075.2,150.7 1075.1,147 1074.9,143.4 1074.8,139.9 1074.7,136.4 1074.6,133 1074.5,129.7 1074.4,126.5 1074.4,123.3 1074.3,120.2 1074.3,117.2 1074.3,114.2 M1079.7,219.1 1079.7,216.4 1079.7,213.6 1079.7,210.9 1065.4,217.2 1066.5,215.9 1067.7,214.4 1068.9,212.8 1070.2,211.1 1071.5,209.1 1072.8,206.9 1074,204.6 1075.2,202 1076.2,199.2 1077.1,196.3 1077.9,193.2 1078.6,189.9 1079.2,186.6 1079.7,183.1 1080,179.6 1080.3,176 1080.4,172.4 1080.5,168.7 1080.6,165 1080.6,161.3 1080.5,157.6 1080.5,153.9 1080.4,150.2 1080.3,146.6 1080.2,143 1080.2,139.5 1080.1,136.1 1080,132.8 1080,129.5 1079.9,126.3 1079.9,123.2 1079.8,120.1 1079.8,117.1 1079.8,114.2 M1085.2,219.1 1085.2,216.4 1085.2,213.6 1085.2,210.9 1070.6,217.2 1071.5,215.8 1072.5,214.3 1073.6,212.7 1074.8,210.8 1075.9,208.8 1077.1,206.6 1078.3,204.2 1079.4,201.5 1080.4,198.7 1081.3,195.7 1082.2,192.6 1082.9,189.3 1083.5,185.9 1084.1,182.4 1084.5,178.9 1084.9,175.2 1085.1,171.6 1085.3,167.9 1085.4,164.2 1085.5,160.5 1085.6,156.9 1085.6,153.2 1085.6,149.6 1085.6,146 1085.6,142.6 1085.5,139.1 1085.5,135.8 1085.4,132.5 1085.4,129.3 1085.4,126.1 1085.4,123 1085.3,120 1085.3,117 1085.3,114.1 M1090.8,219.1 1090.8,216.4 1090.8,213.6 1090.8,210.8 1076.3,216.8 1077,215.3 1077.9,213.6 1078.8,211.9 1079.8,210 1080.8,207.9 1081.9,205.6 1082.9,203.1 1083.9,200.4 1084.9,197.6 1085.8,194.6 1086.6,191.4 1087.4,188.1 1088.1,184.7 1088.6,181.3 1089.1,177.7 1089.6,174.1 1089.9,170.5 1090.2,166.9 1090.4,163.2 1090.6,159.6 1090.7,156 1090.8,152.4 1090.8,148.9 1090.9,145.4 1090.9,142 1090.9,138.7 1090.9,135.4 1090.9,132.2 1090.9,129 1090.9,125.9 1090.9,122.9 1090.8,119.9 1090.8,116.9 1090.8,114 M1096.3,219.1 1096.3,216.3 1096.3,213.6 1096.3,210.8 1082.6,215.9 1083.1,214.3 1083.7,212.5 1084.5,210.6 1085.3,208.6 1086.1,206.4 1087.1,204.1 1088,201.5 1088.9,198.8 1089.8,196 1090.7,192.9 1091.5,189.8 1092.2,186.5 1092.9,183.2 1093.5,179.8 1094,176.3 1094.5,172.8 1094.9,169.2 1095.2,165.7 1095.5,162.1 1095.7,158.6 1095.8,155.1 1096,151.6 1096.1,148.2 1096.2,144.8 1096.2,141.5 1096.3,138.2 1096.3,135 1096.3,131.9 1096.3,128.8 1096.3,125.7 1096.4,122.7 1096.4,119.8 1096.4,116.9 1096.4,114 M1101.9,219.1 1101.9,216.3 1101.9,213.6 1101.9,210.8 1089.2,214.9 1089.5,213 1090,211.1 1090.6,209.1 1091.2,207 1092,204.7 1092.7,202.2 1093.5,199.7 1094.3,196.9 1095.1,194.1 1095.9,191.1 1096.7,188 1097.4,184.8 1098,181.5 1098.6,178.1 1099.1,174.7 1099.6,171.3 1100,167.9 1100.4,164.4 1100.7,161 1100.9,157.6 1101.1,154.2 1101.3,150.8 1101.4,147.5 1101.6,144.2 1101.6,141 1101.7,137.8 1101.8,134.7 1101.8,131.6 1101.8,128.5 1101.9,125.5 1101.9,122.6 1101.9,119.7 1101.9,116.8 1101.9,113.9 M1107.5,219.1 1107.5,216.3 1107.5,213.6 1107.5,210.8 1096.1,213.7 1096.3,211.7 1096.7,209.6 1097.1,207.5 1097.6,205.2 1098.2,202.8 1098.8,200.3 1099.5,197.7 1100.2,194.9 1100.9,192.1 1101.5,189.1 1102.2,186 1102.9,182.9 1103.5,179.7 1104,176.4 1104.5,173.2 1105,169.8 1105.4,166.5 1105.7,163.2 1106.1,159.9 1106.3,156.5 1106.5,153.3 1106.7,150 1106.9,146.8 1107,143.6 1107.1,140.5 1107.2,137.4 1107.3,134.3 1107.3,131.3 1107.3,128.3 1107.4,125.4 1107.4,122.5 1107.4,119.6 1107.4,116.7 1107.4,113.9 M1113,219.1 1113,216.3 1113,213.6 1113,210.8 1103.2,212.5 1103.3,210.3 1103.6,208.1 1103.9,205.8 1104.3,203.5 1104.7,201 1105.2,198.4 1105.8,195.8 1106.3,193 1106.9,190.2 1107.5,187.2 1108.1,184.2 1108.6,181.2 1109.2,178 1109.7,174.9 1110.1,171.7 1110.6,168.5 1110.9,165.3 1111.3,162 1111.6,158.8 1111.8,155.6 1112.1,152.5 1112.2,149.3 1112.4,146.2 1112.5,143.1 1112.6,140 1112.7,137 1112.8,134 1112.8,131.1 1112.9,128.1 1112.9,125.2 1112.9,122.3 1112.9,119.5 1113,116.6 1113,113.8 M1118.5,219.1 1118.5,216.3 1118.5,213.6 1118.5,210.8 1110.4,211.4 1110.4,209.1 1110.6,206.8 1110.8,204.4 1111.1,201.9 1111.4,199.3 1111.8,196.7 1112.2,194 1112.7,191.3 1113.2,188.4 1113.7,185.5 1114.2,182.6 1114.6,179.6 1115.1,176.5 1115.5,173.5 1115.9,170.4 1116.3,167.3 1116.6,164.2 1116.9,161 1117.2,157.9 1117.4,154.8 1117.6,151.8 1117.8,148.7 1118,145.7 1118.1,142.7 1118.2,139.7 1118.3,136.7 1118.3,133.8 1118.4,130.9 1118.4,128 1118.5,125.1 1118.5,122.2 1118.5,119.4 1118.5,116.6 1118.5,113.8 M1124.1,219.1 1124.1,216.3 1124.1,213.6 1124.1,210.8 1117.5,210.5 1117.5,208.1 1117.6,205.6 1117.7,203.1 1117.9,200.6 1118.2,197.9 1118.5,195.3 1118.8,192.6 1119.2,189.8 1119.6,187 1120,184.1 1120.3,181.2 1120.7,178.3 1121.1,175.3 1121.5,172.3 1121.8,169.3 1122.1,166.3 1122.4,163.2 1122.7,160.2 1122.9,157.2 1123.1,154.2 1123.3,151.2 1123.4,148.2 1123.6,145.3 1123.7,142.3 1123.8,139.4 1123.8,136.5 1123.9,133.6 1123.9,130.7 1124,127.8 1124,125 1124,122.2 1124.1,119.3 1124.1,116.5 1124.1,113.7 M1129.6,219.1 1129.6,216.3 1129.6,213.6 1129.6,210.8 1124.4,209.8 1124.4,207.2 1124.5,204.7 1124.6,202.1 1124.7,199.5 1124.9,196.8 1125.1,194.1 1125.4,191.4 1125.7,188.6 1126,185.8 1126.3,183 1126.6,180.1 1126.9,177.2 1127.2,174.3 1127.5,171.4 1127.8,168.4 1128,165.5 1128.2,162.5 1128.5,159.6 1128.6,156.6 1128.8,153.7 1129,150.8 1129.1,147.8 1129.2,144.9 1129.3,142 1129.4,139.2 1129.4,136.3 1129.5,133.4 1129.5,130.6 1129.5,127.7 1129.6,124.9 1129.6,122.1 1129.6,119.3 1129.6,116.5 1129.6,113.7 M940.9,219.1 943.7,219.1 946.5,219.1 949.3,219.1 952,219.1 954.8,219.1 957.6,219.1 960.4,219.1 963.1,219.1 965.9,219.1 968.7,219.1 971.5,219.1 974.2,219.1 977,219.1 979.8,219.1 982.6,219.1 985.3,219.1 988.1,219.1 990.9,219.1 993.7,219.1 996.4,219.1 999.2,219.1 1002,219.1 1004.8,219.1 1007.5,219.1 1010.3,219.2 1013.1,219.2 1015.9,219.2 1018.6,219.2 1021.4,219.2 1024.2,219.2 1027,219.2 1029.8,219.2 1032.5,219.2 1035.3,219.2 1038.1,219.2 1040.8,219.2 1043.6,219.2 1046.4,219.2 1049.2,219.2 1052,219.2 1054.7,219.2 1057.5,219.2 1060.3,219.2 1063,219.1 1065.8,219.1 1068.6,219.1 1071.4,219.1 1074.1,219.1 1076.9,219.1 1079.7,219.1 1082.5,219.1 1085.2,219.1 1088,219.1 1090.8,219.1 1093.6,219.1 1096.3,219.1 1099.1,219.1 1101.9,219.1 1104.7,219.1 1107.5,219.1 1110.2,219.1 1113,219.1 1115.8,219.1 1118.5,219.1 1121.3,219.1 1124.1,219.1 1126.9,219.1 1129.6,219.1 M940.9,213.6 943.7,213.6 946.5,213.6 949.3,213.6 952,213.6 954.8,213.6 957.6,213.6 960.4,213.6 963.1,213.6 965.9,213.6 968.7,213.6 971.5,213.6 974.2,213.6 977,213.6 979.8,213.6 982.6,213.6 985.3,213.6 988.1,213.6 990.9,213.6 993.7,213.6 996.4,213.6 999.2,213.6 1002,213.6 1004.8,213.7 1007.5,213.7 1010.3,213.7 1013.1,213.7 1015.9,213.7 1018.6,213.7 1021.4,213.7 1024.2,213.7 1027,213.7 1029.8,213.7 1032.5,213.7 1035.3,213.7 1038.1,213.7 1040.8,213.7 1043.6,213.7 1046.4,213.7 1049.2,213.7 1052,213.7 1054.7,213.7 1057.5,213.7 1060.3,213.7 1063,213.7 1065.8,213.7 1068.6,213.6 1071.4,213.6 1074.1,213.6 1076.9,213.6 1079.7,213.6 1082.5,213.6 1085.2,213.6 1088,213.6 1090.8,213.6 1093.6,213.6 1096.3,213.6 1099.1,213.6 1101.9,213.6 1104.7,213.6 1107.5,213.6 1110.2,213.6 1113,213.6 1115.8,213.6 1118.5,213.6 1121.3,213.6 1124.1,213.6 1126.9,213.6 1129.6,213.6 M946.2,209.8 949.6,210.1 953.1,210.5 956.7,211 960.2,211.4 963.8,212 967.4,212.5 971,213.1 974.5,213.7 978,214.3 981.4,214.9 984.8,215.4 988,215.9 991.2,216.4 994.3,216.8 997.2,217 1000,217.2 1002.7,217.3 1005.2,217.2 1007.6,217 1009.9,216.6 1012,216.2 1014.1,215.6 1016.1,214.9 1018,214.1 1019.8,213.3 1021.6,212.4 1023.4,211.6 1025.1,210.7 1026.8,210 1028.5,209.3 1030.2,208.7 1031.9,208.3 1033.6,208.1 1035.3,208 1037,208.1 1038.7,208.3 1040.4,208.7 1042.1,209.3 1043.8,210 1045.5,210.7 1047.2,211.6 1049,212.4 1050.8,213.3 1052.6,214.1 1054.5,214.9 1056.5,215.6 1058.6,216.2 1060.7,216.6 1063,217 1065.4,217.2 1067.9,217.3 1070.6,217.2 1073.4,217 1076.3,216.8 1079.4,216.4 1082.6,215.9 1085.8,215.4 1089.2,214.9 1092.6,214.3 1096.1,213.7 1099.6,213.1 1103.2,212.5 1106.8,212 1110.4,211.4 1113.9,211 1117.5,210.5 1121,210.1 1124.4,209.8 M946.1,204.7 949.5,205.1 953,205.6 956.5,206.2 960,206.8 963.5,207.4 967,208.1 970.5,208.9 973.9,209.6 977.3,210.4 980.6,211.1 983.8,211.8 986.9,212.5 989.9,213.1 992.7,213.6 995.5,214 998.1,214.3 1000.6,214.5 1002.9,214.4 1005.2,214.2 1007.3,213.9 1009.4,213.4 1011.4,212.8 1013.4,212 1015.3,211.1 1017.2,210.2 1019.1,209.2 1021,208.2 1023,207.3 1025,206.4 1027,205.6 1029,205 1031.1,204.5 1033.2,204.2 1035.3,204.1 1037.4,204.2 1039.5,204.5 1041.6,205 1043.6,205.6 1045.6,206.4 1047.6,207.3 1049.6,208.2 1051.5,209.2 1053.4,210.2 1055.3,211.1 1057.2,212 1059.2,212.8 1061.2,213.4 1063.3,213.9 1065.4,214.2 1067.7,214.4 1070,214.5 1072.5,214.3 1075.1,214 1077.9,213.6 1080.7,213.1 1083.7,212.5 1086.8,211.8 1090,211.1 1093.3,210.4 1096.7,209.6 1100.1,208.9 1103.6,208.1 1107.1,207.4 1110.6,206.8 1114.1,206.2 1117.6,205.6 1121.1,205.1 1124.5,204.7 M945.9,199.5 949.3,200 952.7,200.6 956.1,201.2 959.5,201.9 962.9,202.7 966.3,203.5 969.7,204.3 973,205.2 976.2,206.1 979.4,207 982.4,207.8 985.3,208.6 988.1,209.3 990.8,210 993.4,210.5 995.8,210.8 998.2,211 1000.4,211.1 1002.5,210.9 1004.6,210.6 1006.6,210.1 1008.6,209.4 1010.5,208.6 1012.5,207.7 1014.5,206.7 1016.6,205.6 1018.7,204.6 1020.9,203.5 1023.2,202.6 1025.5,201.7 1027.9,201 1030.3,200.5 1032.8,200.2 1035.3,200.1 1037.8,200.2 1040.3,200.5 1042.7,201 1045.1,201.7 1047.4,202.6 1049.7,203.5 1051.9,204.6 1054,205.6 1056.1,206.7 1058.1,207.7 1060.1,208.6 1062,209.4 1064,210.1 1066,210.6 1068.1,210.9 1070.2,211.1 1072.4,211 1074.8,210.8 1077.2,210.5 1079.8,210 1082.5,209.3 1085.3,208.6 1088.2,207.8 1091.2,207 1094.4,206.1 1097.6,205.2 1100.9,204.3 1104.3,203.5 1107.7,202.7 1111.1,201.9 1114.5,201.2 1117.9,200.6 1121.3,200 1124.7,199.5 M945.5,194.1 948.8,194.7 952.1,195.3 955.5,196 958.8,196.7 962.1,197.6 965.4,198.4 968.6,199.4 971.8,200.3 974.9,201.3 977.9,202.2 980.8,203.2 983.5,204.1 986.2,204.9 988.7,205.6 991.2,206.2 993.5,206.6 995.7,206.9 997.8,206.9 999.9,206.8 1001.9,206.5 1003.9,206.1 1005.8,205.4 1007.9,204.6 1009.9,203.7 1012.1,202.6 1014.3,201.6 1016.6,200.5 1019,199.4 1021.5,198.4 1024.2,197.6 1026.9,196.8 1029.6,196.3 1032.5,196 1035.3,195.8 1038.1,196 1041,196.3 1043.7,196.8 1046.4,197.6 1049.1,198.4 1051.6,199.4 1054,200.5 1056.3,201.6 1058.5,202.6 1060.7,203.7 1062.7,204.6 1064.8,205.4 1066.7,206.1 1068.7,206.5 1070.7,206.8 1072.8,206.9 1074.9,206.9 1077.1,206.6 1079.4,206.2 1081.9,205.6 1084.4,204.9 1087.1,204.1 1089.8,203.2 1092.7,202.2 1095.7,201.3 1098.8,200.3 1102,199.4 1105.2,198.4 1108.5,197.6 1111.8,196.7 1115.1,196 1118.5,195.3 1121.8,194.7 1125.1,194.1 M944.9,188.6 948.2,189.2 951.4,189.8 954.7,190.5 957.9,191.3 961.1,192.1 964.3,193 967.4,194 970.4,194.9 973.4,195.9 976.3,196.9 979,197.9 981.7,198.8 984.2,199.7 986.7,200.4 989,201.1 991.2,201.5 993.4,201.9 995.4,202 997.5,201.9 999.5,201.7 1001.5,201.3 1003.5,200.7 1005.6,199.9 1007.8,199 1010,198.1 1012.4,197 1014.9,196 1017.5,194.9 1020.2,194 1023.1,193.1 1026,192.4 1029.1,191.9 1032.2,191.6 1035.3,191.5 1038.4,191.6 1041.5,191.9 1044.6,192.4 1047.5,193.1 1050.4,194 1053.1,194.9 1055.7,196 1058.2,197 1060.6,198.1 1062.8,199 1065,199.9 1067.1,200.7 1069.1,201.3 1071.1,201.7 1073.1,201.9 1075.2,202 1077.2,201.9 1079.4,201.5 1081.6,201.1 1083.9,200.4 1086.4,199.7 1088.9,198.8 1091.6,197.9 1094.3,196.9 1097.2,195.9 1100.2,194.9 1103.2,194 1106.3,193 1109.5,192.1 1112.7,191.3 1115.9,190.5 1119.2,189.8 1122.4,189.2 1125.7,188.6 M944.3,183 947.5,183.5 950.6,184.1 953.8,184.8 956.9,185.5 960,186.4 963.1,187.2 966.1,188.1 969.1,189.1 971.9,190.1 974.7,191.1 977.4,192 979.9,192.9 982.4,193.8 984.8,194.6 987.1,195.2 989.3,195.7 991.4,196.1 993.5,196.3 995.5,196.3 997.6,196.1 999.6,195.8 1001.7,195.3 1003.9,194.6 1006.2,193.8 1008.5,193 1011,192 1013.7,191.1 1016.4,190.1 1019.3,189.3 1022.4,188.5 1025.5,187.9 1028.7,187.4 1032,187.1 1035.3,187 1038.6,187.1 1041.9,187.4 1045.1,187.9 1048.2,188.5 1051.3,189.3 1054.2,190.1 1056.9,191.1 1059.6,192 1062.1,193 1064.4,193.8 1066.7,194.6 1068.9,195.3 1071,195.8 1073,196.1 1075.1,196.3 1077.1,196.3 1079.2,196.1 1081.3,195.7 1083.5,195.2 1085.8,194.6 1088.2,193.8 1090.7,192.9 1093.2,192 1095.9,191.1 1098.7,190.1 1101.5,189.1 1104.5,188.1 1107.5,187.2 1110.6,186.4 1113.7,185.5 1116.8,184.8 1120,184.1 1123.1,183.5 1126.3,183 M943.7,177.2 946.8,177.7 949.9,178.3 952.9,178.9 956,179.6 959,180.3 962,181.2 964.9,182 967.7,182.9 970.5,183.8 973.2,184.8 975.9,185.7 978.4,186.5 980.8,187.4 983.2,188.1 985.5,188.8 987.7,189.3 989.9,189.7 992,189.9 994.1,190 996.2,190 998.3,189.7 1000.5,189.4 1002.8,188.8 1005.2,188.2 1007.6,187.5 1010.2,186.7 1013,185.9 1015.9,185.1 1018.9,184.4 1022,183.7 1025.2,183.2 1028.5,182.8 1031.9,182.5 1035.3,182.4 1038.7,182.5 1042.1,182.8 1045.4,183.2 1048.6,183.7 1051.7,184.4 1054.7,185.1 1057.6,185.9 1060.4,186.7 1063,187.5 1065.4,188.2 1067.8,188.8 1070.1,189.4 1072.3,189.7 1074.4,190 1076.5,190 1078.6,189.9 1080.7,189.7 1082.9,189.3 1085.1,188.8 1087.4,188.1 1089.8,187.4 1092.2,186.5 1094.7,185.7 1097.4,184.8 1100.1,183.8 1102.9,182.9 1105.7,182 1108.6,181.2 1111.6,180.3 1114.6,179.6 1117.7,178.9 1120.7,178.3 1123.8,177.7 1126.9,177.2 M943.1,171.4 946.1,171.8 949.1,172.3 952.1,172.9 955.1,173.5 958,174.1 960.9,174.9 963.8,175.6 966.6,176.4 969.3,177.3 972,178.1 974.6,179 977.1,179.8 979.6,180.5 982,181.3 984.3,181.9 986.5,182.4 988.7,182.8 990.9,183.1 993.1,183.3 995.3,183.3 997.6,183.2 999.9,183 1002.2,182.7 1004.7,182.2 1007.3,181.7 1010,181.1 1012.8,180.5 1015.7,179.9 1018.8,179.3 1021.9,178.8 1025.2,178.3 1028.5,178 1031.9,177.8 1035.3,177.7 1038.7,177.8 1042.1,178 1045.4,178.3 1048.7,178.8 1051.8,179.3 1054.9,179.9 1057.8,180.5 1060.6,181.1 1063.3,181.7 1065.9,182.2 1068.4,182.7 1070.7,183 1073,183.2 1075.3,183.3 1077.5,183.3 1079.7,183.1 1081.9,182.8 1084.1,182.4 1086.3,181.9 1088.6,181.3 1091,180.5 1093.5,179.8 1096,179 1098.6,178.1 1101.3,177.3 1104,176.4 1106.8,175.6 1109.7,174.9 1112.6,174.1 1115.5,173.5 1118.5,172.9 1121.5,172.3 1124.5,171.8 1127.5,171.4 M942.6,165.5 945.5,165.8 948.5,166.3 951.4,166.7 954.3,167.3 957.2,167.8 960,168.5 962.9,169.1 965.6,169.8 968.3,170.6 971,171.3 973.6,172 976.1,172.8 978.6,173.5 981,174.1 983.4,174.7 985.7,175.2 988.1,175.7 990.3,176 992.6,176.3 994.9,176.4 997.3,176.4 999.7,176.3 1002.1,176.1 1004.7,175.9 1007.3,175.5 1010.1,175.1 1012.9,174.7 1015.9,174.3 1018.9,173.9 1022.1,173.5 1025.3,173.2 1028.6,173 1031.9,172.8 1035.3,172.8 1038.7,172.8 1042,173 1045.3,173.2 1048.5,173.5 1051.7,173.9 1054.7,174.3 1057.7,174.7 1060.5,175.1 1063.3,175.5 1065.9,175.9 1068.5,176.1 1070.9,176.3 1073.3,176.4 1075.7,176.4 1078,176.3 1080.3,176 1082.5,175.7 1084.9,175.2 1087.2,174.7 1089.6,174.1 1092,173.5 1094.5,172.8 1097,172 1099.6,171.3 1102.3,170.6 1105,169.8 1107.7,169.1 1110.6,168.5 1113.4,167.8 1116.3,167.3 1119.2,166.7 1122.1,166.3 1125.1,165.8 1128,165.5 M942.1,159.6 945,159.9 947.9,160.2 950.8,160.6 953.7,161 956.5,161.5 959.3,162 962.1,162.6 964.9,163.2 967.6,163.8 970.2,164.4 972.8,165 975.4,165.7 977.9,166.3 980.4,166.9 982.9,167.4 985.3,167.9 987.7,168.3 990.1,168.7 992.5,169 994.9,169.2 997.3,169.3 999.8,169.3 1002.3,169.3 1004.9,169.2 1007.6,169 1010.4,168.8 1013.3,168.5 1016.2,168.3 1019.2,168 1022.4,167.8 1025.5,167.6 1028.8,167.5 1032,167.4 1035.3,167.3 1038.6,167.4 1041.8,167.5 1045.1,167.6 1048.2,167.8 1051.4,168 1054.4,168.3 1057.3,168.5 1060.2,168.8 1063,169 1065.7,169.2 1068.3,169.3 1070.8,169.3 1073.3,169.3 1075.7,169.2 1078.1,169 1080.5,168.7 1082.9,168.3 1085.3,167.9 1087.7,167.4 1090.2,166.9 1092.7,166.3 1095.2,165.7 1097.8,165 1100.4,164.4 1103,163.8 1105.7,163.2 1108.5,162.6 1111.3,162 1114.1,161.5 1116.9,161 1119.8,160.6 1122.7,160.2 1125.6,159.9 1128.5,159.6 M941.8,153.7 944.6,153.9 947.5,154.2 950.3,154.5 953.2,154.8 956,155.2 958.8,155.6 961.5,156.1 964.3,156.5 967,157 969.7,157.6 972.3,158.1 974.9,158.6 977.5,159.1 980,159.6 982.6,160.1 985.1,160.5 987.6,160.9 990,161.3 992.5,161.6 995,161.8 997.5,162 1000.1,162.1 1002.7,162.2 1005.4,162.2 1008.1,162.1 1010.9,162 1013.7,161.9 1016.7,161.8 1019.7,161.7 1022.7,161.6 1025.8,161.5 1028.9,161.4 1032.1,161.3 1035.3,161.3 1038.5,161.3 1041.7,161.4 1044.8,161.5 1047.9,161.6 1050.9,161.7 1053.9,161.8 1056.9,161.9 1059.7,162 1062.5,162.1 1065.2,162.2 1067.9,162.2 1070.5,162.1 1073.1,162 1075.6,161.8 1078.1,161.6 1080.6,161.3 1083,160.9 1085.5,160.5 1088,160.1 1090.6,159.6 1093.1,159.1 1095.7,158.6 1098.3,158.1 1100.9,157.6 1103.6,157 1106.3,156.5 1109.1,156.1 1111.8,155.6 1114.6,155.2 1117.4,154.8 1120.3,154.5 1123.1,154.2 1126,153.9 1128.8,153.7 M941.5,147.8 944.3,148 947.2,148.2 950,148.5 952.8,148.7 955.6,149 958.4,149.3 961.1,149.7 963.9,150 966.6,150.4 969.3,150.8 972,151.2 974.6,151.6 977.2,152 979.8,152.4 982.4,152.8 985,153.2 987.6,153.6 990.1,153.9 992.7,154.1 995.3,154.4 997.9,154.6 1000.5,154.7 1003.2,154.8 1005.9,154.9 1008.6,155 1011.4,155 1014.2,155 1017.1,154.9 1020.1,154.9 1023.1,154.8 1026.1,154.8 1029.1,154.8 1032.2,154.7 1035.3,154.7 1038.4,154.7 1041.5,154.8 1044.5,154.8 1047.5,154.8 1050.5,154.9 1053.5,154.9 1056.4,155 1059.2,155 1062,155 1064.7,154.9 1067.4,154.8 1070.1,154.7 1072.7,154.6 1075.3,154.4 1077.9,154.1 1080.5,153.9 1083,153.6 1085.6,153.2 1088.2,152.8 1090.8,152.4 1093.4,152 1096,151.6 1098.6,151.2 1101.3,150.8 1104,150.4 1106.7,150 1109.5,149.7 1112.2,149.3 1115,149 1117.8,148.7 1120.6,148.5 1123.4,148.2 1126.3,148 1129.1,147.8 M941.3,142 944.1,142.2 946.9,142.3 949.7,142.5 952.5,142.7 955.3,142.9 958.1,143.1 960.8,143.4 963.6,143.6 966.3,143.9 969,144.2 971.7,144.5 974.4,144.8 977.1,145.1 979.7,145.4 982.4,145.8 985,146 987.6,146.3 990.3,146.6 992.9,146.8 995.5,147 998.2,147.2 1000.9,147.4 1003.6,147.5 1006.3,147.6 1009.1,147.7 1011.9,147.7 1014.7,147.8 1017.6,147.8 1020.4,147.8 1023.4,147.8 1026.3,147.8 1029.3,147.8 1032.3,147.8 1035.3,147.8 1038.3,147.8 1041.3,147.8 1044.3,147.8 1047.2,147.8 1050.2,147.8 1053,147.8 1055.9,147.8 1058.7,147.7 1061.5,147.7 1064.3,147.6 1067,147.5 1069.7,147.4 1072.4,147.2 1075.1,147 1077.7,146.8 1080.3,146.6 1083,146.3 1085.6,146 1088.2,145.8 1090.9,145.4 1093.5,145.1 1096.2,144.8 1098.9,144.5 1101.6,144.2 1104.3,143.9 1107,143.6 1109.8,143.4 1112.5,143.1 1115.3,142.9 1118.1,142.7 1120.9,142.5 1123.7,142.3 1126.5,142.2 1129.3,142 M941.2,136.3 944,136.4 946.8,136.5 949.6,136.6 952.3,136.7 955.1,136.9 957.9,137 960.7,137.2 963.4,137.4 966.2,137.6 968.9,137.8 971.6,138 974.3,138.2 977,138.5 979.7,138.7 982.4,138.9 985.1,139.1 987.8,139.3 990.4,139.5 993.1,139.7 995.8,139.9 998.5,140 1001.2,140.2 1003.9,140.3 1006.7,140.4 1009.4,140.5 1012.2,140.5 1015.1,140.6 1017.9,140.6 1020.8,140.6 1023.6,140.7 1026.5,140.7 1029.4,140.7 1032.4,140.7 1035.3,140.7 1038.2,140.7 1041.2,140.7 1044.1,140.7 1047,140.7 1049.8,140.6 1052.7,140.6 1055.5,140.6 1058.4,140.5 1061.2,140.5 1063.9,140.4 1066.7,140.3 1069.4,140.2 1072.1,140 1074.8,139.9 1077.5,139.7 1080.2,139.5 1082.8,139.3 1085.5,139.1 1088.2,138.9 1090.9,138.7 1093.6,138.5 1096.3,138.2 1099,138 1101.7,137.8 1104.4,137.6 1107.2,137.4 1109.9,137.2 1112.7,137 1115.5,136.9 1118.3,136.7 1121,136.6 1123.8,136.5 1126.6,136.4 1129.4,136.3 M941.1,130.6 943.9,130.6 946.7,130.7 949.4,130.8 952.2,130.9 955,131 957.8,131.1 960.5,131.2 963.3,131.3 966,131.4 968.8,131.6 971.5,131.7 974.3,131.9 977,132 979.7,132.2 982.4,132.3 985.2,132.5 987.9,132.6 990.6,132.8 993.3,132.9 996,133 998.7,133.1 1001.5,133.2 1004.2,133.3 1007,133.4 1009.7,133.5 1012.5,133.5 1015.3,133.6 1018.2,133.6 1021,133.6 1023.8,133.7 1026.7,133.7 1029.6,133.7 1032.4,133.7 1035.3,133.7 1038.2,133.7 1041,133.7 1043.9,133.7 1046.8,133.7 1049.6,133.6 1052.4,133.6 1055.3,133.6 1058.1,133.5 1060.9,133.5 1063.6,133.4 1066.4,133.3 1069.1,133.2 1071.9,133.1 1074.6,133 1077.3,132.9 1080,132.8 1082.7,132.6 1085.4,132.5 1088.2,132.3 1090.9,132.2 1093.6,132 1096.3,131.9 1099.1,131.7 1101.8,131.6 1104.6,131.4 1107.3,131.3 1110.1,131.2 1112.8,131.1 1115.6,131 1118.4,130.9 1121.2,130.8 1123.9,130.7 1126.7,130.6 1129.5,130.6 M941,124.9 943.8,125 946.6,125 949.4,125 952.1,125.1 954.9,125.2 957.7,125.2 960.5,125.3 963.2,125.4 966,125.5 968.7,125.5 971.5,125.6 974.3,125.7 977,125.8 979.7,125.9 982.5,126 985.2,126.1 988,126.2 990.7,126.3 993.4,126.4 996.2,126.5 998.9,126.6 1001.7,126.6 1004.4,126.7 1007.2,126.7 1010,126.8 1012.7,126.8 1015.5,126.9 1018.3,126.9 1021.2,126.9 1024,126.9 1026.8,126.9 1029.6,126.9 1032.5,126.9 1035.3,127 1038.1,126.9 1041,126.9 1043.8,126.9 1046.6,126.9 1049.4,126.9 1052.3,126.9 1055.1,126.9 1057.9,126.8 1060.6,126.8 1063.4,126.7 1066.2,126.7 1068.9,126.6 1071.7,126.6 1074.4,126.5 1077.2,126.4 1079.9,126.3 1082.6,126.2 1085.4,126.1 1088.1,126 1090.9,125.9 1093.6,125.8 1096.3,125.7 1099.1,125.6 1101.9,125.5 1104.6,125.5 1107.4,125.4 1110.1,125.3 1112.9,125.2 1115.7,125.2 1118.5,125.1 1121.2,125 1124,125 1126.8,125 1129.6,124.9 M941,119.3 943.8,119.3 946.5,119.3 949.3,119.4 952.1,119.4 954.9,119.4 957.7,119.5 960.4,119.5 963.2,119.6 966,119.6 968.7,119.7 971.5,119.7 974.2,119.8 977,119.8 979.8,119.9 982.5,120 985.3,120 988,120.1 990.8,120.1 993.5,120.2 996.3,120.2 999,120.3 1001.8,120.3 1004.6,120.4 1007.3,120.4 1010.1,120.4 1012.9,120.4 1015.7,120.5 1018.5,120.5 1021.3,120.5 1024.1,120.5 1026.9,120.5 1029.7,120.5 1032.5,120.5 1035.3,120.5 1038.1,120.5 1040.9,120.5 1043.7,120.5 1046.5,120.5 1049.3,120.5 1052.1,120.5 1054.9,120.5 1057.7,120.4 1060.5,120.4 1063.3,120.4 1066,120.4 1068.8,120.3 1071.6,120.3 1074.3,120.2 1077.1,120.2 1079.8,120.1 1082.6,120.1 1085.3,120 1088.1,120 1090.8,119.9 1093.6,119.8 1096.4,119.8 1099.1,119.7 1101.9,119.7 1104.6,119.6 1107.4,119.6 1110.2,119.5 1112.9,119.5 1115.7,119.4 1118.5,119.4 1121.3,119.4 1124.1,119.3 1126.8,119.3 1129.6,119.3 M941,113.7 943.8,113.7 946.5,113.7 949.3,113.7 952.1,113.8 954.9,113.8 957.6,113.8 960.4,113.8 963.2,113.9 965.9,113.9 968.7,113.9 971.5,113.9 974.2,114 977,114 979.8,114 982.5,114.1 985.3,114.1 988.1,114.1 990.8,114.2 993.6,114.2 996.3,114.2 999.1,114.2 1001.9,114.3 1004.7,114.3 1007.4,114.3 1010.2,114.3 1013,114.3 1015.8,114.4 1018.5,114.4 1021.3,114.4 1024.1,114.4 1026.9,114.4 1029.7,114.4 1032.5,114.4 1035.3,114.4 1038.1,114.4 1040.9,114.4 1043.7,114.4 1046.5,114.4 1049.3,114.4 1052.1,114.4 1054.8,114.4 1057.6,114.3 1060.4,114.3 1063.2,114.3 1065.9,114.3 1068.7,114.3 1071.5,114.2 1074.3,114.2 1077,114.2 1079.8,114.2 1082.5,114.1 1085.3,114.1 1088.1,114.1 1090.8,114 1093.6,114 1096.4,114 1099.1,113.9 1101.9,113.9 1104.7,113.9 1107.4,113.9 1110.2,113.8 1113,113.8 1115.7,113.8 1118.5,113.8 1121.3,113.7 1124.1,113.7 1126.8,113.7 1129.6,113.7" fill="none" stroke="#000" stroke-width="1.25" clip-path="url(#clipD)"/>
<path d="M1035.3,111.0 L1030.6,111.1 L1025.9,111.5 L1021.3,112.0 L1016.7,112.8 L1012.1,113.9 L1007.6,115.1 L1003.2,116.6 L998.8,118.3 L994.6,120.2 L990.4,122.3 L986.4,124.6 L982.6,127.0 L978.8,129.7 L975.3,132.6 L971.9,135.6 L968.6,138.8 L965.6,142.1 L962.7,145.6 L960.1,149.3 L957.6,153.0 L955.4,156.9 L953.4,160.8 L951.6,164.9 L950.0,169.0 L948.7,173.3 L947.6,177.5 L946.7,181.9 L946.1,186.2 L945.7,190.6 L945.6,195.0 C946.5,203 950,213 954.9,215.6 C958.5,216.5 960.5,210 962,207.5 C963.5,206 965,205.9 968,205.8 L986.3,205.2 C992,204.5 995,200 999.1,199.2 C1003,199 1006,206.5 1012,208 L1058.6,208 C1064.6,206.5 1067.6,199 1071.5,199.2 C1075.6,200 1078.6,204.5 1084.3,205.2 L1102.6,205.8 C1105.6,205.9 1107.1,206 1108.6,207.5 C1110.1,210 1112.1,216.5 1115.7,215.6 C1120.6,213 1124.1,203 1124.9,195 L1125.0,195.0 L1124.9,190.6 L1124.5,186.2 L1123.9,181.9 L1123.0,177.5 L1121.9,173.3 L1120.6,169.0 L1119.0,164.9 L1117.2,160.8 L1115.2,156.9 L1113.0,153.0 L1110.5,149.3 L1107.9,145.6 L1105.0,142.1 L1102.0,138.8 L1098.7,135.6 L1095.3,132.6 L1091.8,129.7 L1088.0,127.0 L1084.2,124.6 L1080.2,122.3 L1076.0,120.2 L1071.8,118.3 L1067.4,116.6 L1063.0,115.1 L1058.5,113.9 L1053.9,112.8 L1049.3,112.0 L1044.7,111.5 L1040.0,111.1 L1035.3,111.0 Z" fill="none" stroke="#000" stroke-width="3.2" clip-path="url(#clipD)" stroke-opacity="0.8"/>
<path d="M1035.3,111.0 L1030.6,111.1 L1025.9,111.5 L1021.3,112.0 L1016.7,112.8 L1012.1,113.9 L1007.6,115.1 L1003.2,116.6 L998.8,118.3 L994.6,120.2 L990.4,122.3 L986.4,124.6 L982.6,127.0 L978.8,129.7 L975.3,132.6 L971.9,135.6 L968.6,138.8 L965.6,142.1 L962.7,145.6 L960.1,149.3 L957.6,153.0 L955.4,156.9 L953.4,160.8 L951.6,164.9 L950.0,169.0 L948.7,173.3 L947.6,177.5 L946.7,181.9 L946.1,186.2 L945.7,190.6 L945.6,195.0 C946.5,203 950,213 954.9,215.6 C958.5,216.5 960.5,210 962,207.5 C963.5,206 965,205.9 968,205.8 L986.3,205.2 C992,204.5 995,200 999.1,199.2 C1003,199 1006,206.5 1012,208 L1058.6,208 C1064.6,206.5 1067.6,199 1071.5,199.2 C1075.6,200 1078.6,204.5 1084.3,205.2 L1102.6,205.8 C1105.6,205.9 1107.1,206 1108.6,207.5 C1110.1,210 1112.1,216.5 1115.7,215.6 C1120.6,213 1124.1,203 1124.9,195 L1125.0,195.0 L1124.9,190.6 L1124.5,186.2 L1123.9,181.9 L1123.0,177.5 L1121.9,173.3 L1120.6,169.0 L1119.0,164.9 L1117.2,160.8 L1115.2,156.9 L1113.0,153.0 L1110.5,149.3 L1107.9,145.6 L1105.0,142.1 L1102.0,138.8 L1098.7,135.6 L1095.3,132.6 L1091.8,129.7 L1088.0,127.0 L1084.2,124.6 L1080.2,122.3 L1076.0,120.2 L1071.8,118.3 L1067.4,116.6 L1063.0,115.1 L1058.5,113.9 L1053.9,112.8 L1049.3,112.0 L1044.7,111.5 L1040.0,111.1 L1035.3,111.0 Z" fill="none" stroke="#000" stroke-width="1.7"/>
<text transform="translate(1175.50,63.40) scale(1.08,1)" font-size="32" font-weight="bold" fill="#000" stroke="#000" stroke-width="1.1">e</text>
<text x="1289.50" y="76.10" font-size="21.5" text-anchor="middle" font-weight="normal" font-style="normal" fill="#000" >Late</text>
<path d="M1290.7,89.3 L1284.9,89.4 L1279.1,89.9 L1273.3,90.6 L1267.6,91.5 L1261.9,92.8 L1256.3,94.3 L1250.8,96.1 L1245.4,98.2 L1240.2,100.5 L1235.1,103.1 L1230.1,105.9 L1225.3,108.9 L1220.7,112.2 L1216.2,115.7 L1212.0,119.4 L1208.0,123.3 L1204.2,127.4 L1200.7,131.6 L1197.4,136.1 L1194.3,140.6 L1191.5,145.4 L1189.0,150.2 L1186.8,155.2 L1184.8,160.3 L1183.2,165.4 L1181.8,170.6 L1180.8,175.9 L1180.0,181.3 L1179.6,186.6 L1179.4,192.0 C1179,205 1184,225 1198,233 C1206,237.5 1216,237 1221,232 C1226,227 1222,222 1218,216 C1214,210 1216,205 1224,203.5 L1245,203.5 C1250,202 1252,196 1255,195.5 C1259,197 1262,207 1266,209.9 L1317,209.9 C1321,207 1324,197 1327,195.5 C1330,196 1332,202 1337,203.5 L1358,205 C1366,206 1366,212 1362,218 C1358,224 1357,229 1362,233 C1367,237 1378,237 1386,233 C1398,225 1402,205 1402,192 L1402.0,192.0 L1401.8,186.6 L1401.4,181.3 L1400.6,175.9 L1399.6,170.6 L1398.2,165.4 L1396.6,160.3 L1394.6,155.2 L1392.4,150.2 L1389.9,145.4 L1387.1,140.6 L1384.0,136.1 L1380.7,131.6 L1377.2,127.4 L1373.4,123.3 L1369.4,119.4 L1365.2,115.7 L1360.7,112.2 L1356.1,108.9 L1351.3,105.9 L1346.3,103.1 L1341.2,100.5 L1336.0,98.2 L1330.6,96.1 L1325.1,94.3 L1319.5,92.8 L1313.8,91.5 L1308.1,90.6 L1302.3,89.9 L1296.5,89.4 L1290.7,89.3 Z" fill="url(#efill0)"/>
<path d="M1290.7,89.3 L1284.9,89.4 L1279.1,89.9 L1273.3,90.6 L1267.6,91.5 L1261.9,92.8 L1256.3,94.3 L1250.8,96.1 L1245.4,98.2 L1240.2,100.5 L1235.1,103.1 L1230.1,105.9 L1225.3,108.9 L1220.7,112.2 L1216.2,115.7 L1212.0,119.4 L1208.0,123.3 L1204.2,127.4 L1200.7,131.6 L1197.4,136.1 L1194.3,140.6 L1191.5,145.4 L1189.0,150.2 L1186.8,155.2 L1184.8,160.3 L1183.2,165.4 L1181.8,170.6 L1180.8,175.9 L1180.0,181.3 L1179.6,186.6 L1179.4,192.0 C1179,205 1184,225 1198,233 C1206,237.5 1216,237 1221,232 C1226,227 1222,222 1218,216 C1214,210 1216,205 1224,203.5 L1245,203.5 C1250,202 1252,196 1255,195.5 C1259,197 1262,207 1266,209.9 L1317,209.9 C1321,207 1324,197 1327,195.5 C1330,196 1332,202 1337,203.5 L1358,205 C1366,206 1366,212 1362,218 C1358,224 1357,229 1362,233 C1367,237 1378,237 1386,233 C1398,225 1402,205 1402,192 L1402.0,192.0 L1401.8,186.6 L1401.4,181.3 L1400.6,175.9 L1399.6,170.6 L1398.2,165.4 L1396.6,160.3 L1394.6,155.2 L1392.4,150.2 L1389.9,145.4 L1387.1,140.6 L1384.0,136.1 L1380.7,131.6 L1377.2,127.4 L1373.4,123.3 L1369.4,119.4 L1365.2,115.7 L1360.7,112.2 L1356.1,108.9 L1351.3,105.9 L1346.3,103.1 L1341.2,100.5 L1336.0,98.2 L1330.6,96.1 L1325.1,94.3 L1319.5,92.8 L1313.8,91.5 L1308.1,90.6 L1302.3,89.9 L1296.5,89.4 L1290.7,89.3 Z" fill="url(#efill)"/>
<rect x="1178" y="180" width="50" height="60" fill="url(#elobe)" clip-path="url(#clipE)"/>
<rect x="1353" y="180" width="50" height="60" fill="url(#elobe)" clip-path="url(#clipE)"/>
<path d="M1171.7,238 1171.7,234.5 1171.7,231 1171.7,227.5 1171.7,224 1171.7,220.5 1171.7,217 1171.7,213.5 1172.9,210.2 1172.9,206.8 1172.9,203.3 1172.8,199.9 1172.8,196.4 1172.7,192.9 1172.6,189.5 1172.5,186 1172.4,182.5 1172.3,179 1172.2,175.5 1172.2,172 1172.1,168.6 1172,165.1 1171.9,161.6 1171.9,158.1 1171.9,154.6 1171.8,151.2 1171.8,147.7 1171.8,144.2 1171.7,140.7 1171.7,137.2 1171.7,133.6 1171.7,130.1 1171.7,126.6 1171.7,123 1171.7,119.5 1171.7,115.9 1171.7,112.4 1171.7,108.8 1171.7,105.3 1171.7,101.7 1171.7,98.2 1171.7,94.6 1171.7,91.1 1171.7,87.6 1171.7,84.1 M1178.7,238 1178.7,234.5 1178.7,231 1178.7,227.5 1178.7,224 1178.7,220.5 1178.7,217 1178.7,213.5 1180.6,210.4 1180.5,207 1180.5,203.6 1180.4,200.2 1180.4,196.7 1180.2,193.3 1180.1,189.8 1180,186.3 1179.8,182.9 1179.7,179.4 1179.5,175.9 1179.4,172.4 1179.3,168.9 1179.2,165.4 1179.1,161.9 1179,158.5 1178.9,155 1178.9,151.5 1178.8,148 1178.8,144.5 1178.8,141 1178.7,137.5 1178.7,134 1178.7,130.4 1178.7,126.9 1178.7,123.3 1178.7,119.7 1178.7,116.2 1178.7,112.6 1178.7,109 1178.7,105.4 1178.7,101.8 1178.7,98.3 1178.7,94.7 1178.7,91.2 1178.7,87.6 1178.7,84.1 M1185.7,238 1185.7,234.5 1185.7,231 1185.7,227.5 1185.7,224 1185.7,220.5 1185.7,217 1185.7,213.5 1188.5,210.8 1188.5,207.4 1188.4,204 1188.3,200.6 1188.2,197.2 1188,193.8 1187.8,190.3 1187.6,186.9 1187.4,183.4 1187.1,179.9 1186.9,176.4 1186.7,172.9 1186.6,169.4 1186.4,165.9 1186.3,162.5 1186.1,159 1186,155.5 1186,152 1185.9,148.6 1185.8,145.1 1185.8,141.5 1185.8,138 1185.7,134.5 1185.7,130.9 1185.7,127.3 1185.7,123.7 1185.7,120.1 1185.7,116.5 1185.7,112.9 1185.7,109.2 1185.7,105.6 1185.7,102 1185.7,98.4 1185.7,94.8 1185.7,91.3 1185.7,87.7 1185.7,84.2 M1192.7,238 1192.7,234.5 1192.7,231 1192.7,227.5 1192.7,224 1192.7,220.5 1192.7,217 1192.7,213.5 1196.8,211.2 1196.7,207.9 1196.6,204.6 1196.4,201.3 1196.2,198 1196,194.6 1195.7,191.1 1195.4,187.7 1195,184.2 1194.7,180.7 1194.4,177.2 1194.1,173.7 1193.9,170.2 1193.7,166.7 1193.5,163.2 1193.3,159.7 1193.2,156.2 1193,152.8 1193,149.3 1192.9,145.8 1192.8,142.3 1192.8,138.7 1192.8,135.1 1192.7,131.5 1192.7,127.9 1192.7,124.3 1192.7,120.6 1192.7,116.9 1192.7,113.2 1192.7,109.6 1192.7,105.9 1192.7,102.2 1192.7,98.6 1192.7,95 1192.7,91.4 1192.7,87.8 1192.7,84.2 M1199.7,238 1199.7,234.5 1199.7,231 1199.7,227.5 1199.7,224 1199.7,220.5 1199.7,217 1199.7,213.5 1205.3,211.8 1205.3,208.7 1205.1,205.5 1204.8,202.3 1204.5,199 1204.1,195.6 1203.7,192.2 1203.3,188.8 1202.8,185.3 1202.4,181.8 1202,178.2 1201.6,174.7 1201.2,171.2 1200.9,167.7 1200.7,164.2 1200.5,160.7 1200.3,157.2 1200.1,153.7 1200,150.2 1199.9,146.7 1199.9,143.2 1199.8,139.6 1199.8,136 1199.8,132.4 1199.7,128.7 1199.7,125 1199.7,121.2 1199.7,117.5 1199.7,113.7 1199.7,110 1199.7,106.3 1199.7,102.5 1199.7,98.9 1199.7,95.2 1199.7,91.5 1199.7,87.9 1199.7,84.3 M1206.7,238 1206.7,234.5 1206.7,231 1206.7,227.5 1206.7,224 1206.7,220.5 1206.7,217 1206.7,213.5 1214.2,212.6 1214,209.6 1213.8,206.6 1213.4,203.5 1212.9,200.3 1212.4,197 1211.8,193.6 1211.2,190.2 1210.6,186.7 1210.1,183.1 1209.5,179.6 1209,176 1208.6,172.5 1208.2,169 1207.9,165.4 1207.6,162 1207.4,158.5 1207.2,155 1207.1,151.5 1207,148 1206.9,144.4 1206.8,140.8 1206.8,137.2 1206.8,133.5 1206.7,129.7 1206.7,125.9 1206.7,122.1 1206.7,118.3 1206.7,114.4 1206.7,110.6 1206.7,106.7 1206.7,102.9 1206.7,99.2 1206.7,95.4 1206.7,91.7 1206.7,88.1 1206.7,84.4 M1213.7,238 1213.7,234.5 1213.7,231 1213.7,227.5 1213.7,224 1213.7,220.5 1213.7,217 1213.7,213.6 1223.2,213.5 1223,210.7 1222.6,207.9 1222,204.9 1221.4,201.8 1220.7,198.6 1219.9,195.3 1219.2,191.9 1218.4,188.4 1217.7,184.8 1217,181.2 1216.4,177.6 1215.9,174.1 1215.4,170.5 1215,167 1214.7,163.5 1214.5,160 1214.3,156.5 1214.1,153 1214,149.5 1213.9,145.9 1213.8,142.3 1213.8,138.6 1213.8,134.8 1213.7,131 1213.7,127.1 1213.7,123.1 1213.7,119.2 1213.7,115.2 1213.7,111.3 1213.7,107.3 1213.7,103.4 1213.7,99.6 1213.7,95.8 1213.7,92 1213.7,88.3 1213.7,84.6 M1220.7,238 1220.7,234.5 1220.7,231 1220.7,227.5 1220.7,224 1220.7,220.5 1220.7,217.1 1220.7,213.6 1232.3,214.5 1231.9,211.9 1231.3,209.2 1230.6,206.4 1229.8,203.5 1228.8,200.4 1227.9,197.1 1226.9,193.7 1226,190.2 1225.1,186.7 1224.4,183.1 1223.6,179.4 1223,175.9 1222.5,172.3 1222.1,168.8 1221.7,165.3 1221.5,161.8 1221.2,158.4 1221.1,154.9 1221,151.3 1220.9,147.7 1220.8,144.1 1220.8,140.3 1220.8,136.4 1220.7,132.5 1220.7,128.5 1220.7,124.4 1220.7,120.3 1220.7,116.2 1220.7,112.1 1220.7,108.1 1220.7,104 1220.7,100.1 1220.7,96.1 1220.7,92.3 1220.7,88.5 1220.7,84.7 M1227.7,238 1227.7,234.5 1227.7,231 1227.7,227.5 1227.7,224 1227.7,220.5 1227.7,217.1 1227.7,213.6 1241.2,215.4 1240.6,213 1239.8,210.6 1238.9,207.9 1237.8,205.1 1236.7,202.1 1235.5,198.9 1234.4,195.6 1233.3,192.1 1232.3,188.5 1231.4,184.9 1230.7,181.3 1230,177.7 1229.4,174.2 1229,170.7 1228.6,167.3 1228.4,163.8 1228.2,160.4 1228,156.9 1227.9,153.4 1227.8,149.8 1227.8,146.1 1227.8,142.3 1227.7,138.3 1227.7,134.3 1227.7,130.1 1227.7,125.9 1227.7,121.6 1227.7,117.4 1227.7,113.1 1227.7,108.9 1227.7,104.7 1227.7,100.6 1227.7,96.6 1227.7,92.6 1227.7,88.8 1227.7,84.9 M1234.7,238 1234.7,234.5 1234.7,231 1234.7,227.5 1234.7,224 1234.7,220.6 1234.7,217.1 1234.7,213.6 1249.7,216 1248.9,213.9 1247.9,211.6 1246.7,209.2 1245.4,206.5 1244.1,203.6 1242.8,200.5 1241.5,197.2 1240.3,193.8 1239.2,190.3 1238.2,186.7 1237.4,183.1 1236.7,179.6 1236.2,176.1 1235.8,172.7 1235.4,169.3 1235.2,165.9 1235,162.6 1234.9,159.2 1234.8,155.7 1234.8,152.1 1234.7,148.4 1234.7,144.5 1234.7,140.4 1234.7,136.2 1234.7,131.9 1234.7,127.6 1234.7,123.1 1234.7,118.7 1234.7,114.2 1234.7,109.8 1234.7,105.5 1234.7,101.3 1234.7,97.1 1234.7,93 1234.7,89.1 1234.7,85.2 M1241.7,238 1241.7,234.5 1241.7,231 1241.7,227.5 1241.7,224 1241.7,220.6 1241.7,217.1 1241.7,213.7 1257.5,216.3 1256.5,214.3 1255.3,212.2 1253.9,209.9 1252.5,207.4 1251,204.6 1249.5,201.6 1248.1,198.4 1246.9,195 1245.7,191.6 1244.8,188.1 1243.9,184.6 1243.3,181.2 1242.8,177.8 1242.4,174.5 1242.1,171.3 1241.9,168 1241.8,164.8 1241.7,161.5 1241.7,158.1 1241.6,154.5 1241.6,150.7 1241.6,146.8 1241.7,142.7 1241.7,138.4 1241.7,133.9 1241.7,129.3 1241.7,124.7 1241.7,120.1 1241.7,115.4 1241.7,110.8 1241.7,106.3 1241.7,101.9 1241.7,97.6 1241.7,93.5 1241.7,89.4 1241.7,85.4 M1248.7,238 1248.7,234.5 1248.7,231 1248.7,227.5 1248.7,224.1 1248.7,220.6 1248.7,217.1 1248.7,213.7 1264.6,216 1263.4,214.2 1262,212.2 1260.5,210 1258.9,207.6 1257.3,205 1255.8,202 1254.4,198.9 1253.1,195.7 1252,192.3 1251,189 1250.3,185.6 1249.7,182.3 1249.3,179.2 1248.9,176.1 1248.7,173 1248.6,170 1248.5,166.9 1248.5,163.7 1248.5,160.4 1248.5,156.9 1248.6,153.2 1248.6,149.2 1248.6,145 1248.6,140.5 1248.6,135.9 1248.7,131.2 1248.7,126.4 1248.7,121.5 1248.7,116.7 1248.7,111.9 1248.7,107.2 1248.7,102.6 1248.7,98.2 1248.7,93.9 1248.7,89.7 1248.7,85.7 M1255.7,238 1255.7,234.5 1255.7,231 1255.7,227.5 1255.7,224.1 1255.7,220.6 1255.7,217.1 1255.7,213.7 1270.7,215.2 1269.5,213.5 1268,211.6 1266.4,209.5 1264.8,207.1 1263.2,204.6 1261.7,201.8 1260.3,198.8 1259.1,195.6 1258.1,192.4 1257.2,189.2 1256.6,186.1 1256.1,183.1 1255.7,180.1 1255.5,177.3 1255.4,174.5 1255.3,171.7 1255.3,168.8 1255.3,165.8 1255.4,162.6 1255.4,159.2 1255.5,155.5 1255.5,151.5 1255.6,147.2 1255.6,142.7 1255.6,137.9 1255.7,133 1255.7,128 1255.7,122.9 1255.7,117.9 1255.7,112.9 1255.7,108.1 1255.7,103.3 1255.7,98.8 1255.7,94.3 1255.7,90.1 1255.7,85.9 M1262.7,238 1262.7,234.5 1262.7,231 1262.7,227.5 1262.7,224.1 1262.7,220.6 1262.7,217.2 1262.7,213.8 1276,214 1274.7,212.3 1273.3,210.4 1271.8,208.3 1270.3,206 1268.8,203.5 1267.4,200.8 1266.2,198 1265.1,195 1264.2,192 1263.5,189 1262.9,186.1 1262.6,183.3 1262.3,180.6 1262.2,178.1 1262.1,175.6 1262.1,173 1262.2,170.4 1262.2,167.6 1262.3,164.6 1262.4,161.3 1262.4,157.6 1262.5,153.6 1262.6,149.3 1262.6,144.6 1262.6,139.7 1262.6,134.7 1262.7,129.5 1262.7,124.3 1262.7,119 1262.7,113.9 1262.7,108.9 1262.7,104 1262.7,99.3 1262.7,94.7 1262.7,90.4 1262.7,86.2 M1269.7,238 1269.7,234.5 1269.7,231 1269.7,227.5 1269.7,224.1 1269.7,220.6 1269.7,217.2 1269.7,213.8 1280.4,212.6 1279.3,210.8 1278.1,208.9 1276.8,206.9 1275.5,204.6 1274.3,202.2 1273.1,199.5 1272.1,196.8 1271.2,193.9 1270.5,191.1 1269.9,188.3 1269.5,185.7 1269.3,183.2 1269.1,180.8 1269,178.5 1269,176.3 1269.1,174 1269.1,171.7 1269.2,169.1 1269.3,166.2 1269.4,163 1269.4,159.4 1269.5,155.4 1269.6,151 1269.6,146.3 1269.6,141.3 1269.6,136.1 1269.7,130.8 1269.7,125.4 1269.7,120 1269.7,114.7 1269.7,109.6 1269.7,104.5 1269.7,99.7 1269.7,95.1 1269.7,90.6 1269.7,86.4 M1276.7,238 1276.7,234.5 1276.7,231 1276.7,227.5 1276.7,224.1 1276.7,220.6 1276.7,217.2 1276.7,213.8 1284.2,211.3 1283.4,209.4 1282.5,207.5 1281.5,205.4 1280.6,203.2 1279.7,200.8 1278.9,198.2 1278.1,195.5 1277.5,192.8 1277,190.2 1276.6,187.6 1276.4,185.1 1276.2,182.9 1276.1,180.7 1276.1,178.7 1276.1,176.7 1276.2,174.7 1276.2,172.5 1276.3,170.1 1276.4,167.4 1276.4,164.3 1276.5,160.7 1276.5,156.7 1276.6,152.4 1276.6,147.6 1276.6,142.5 1276.7,137.2 1276.7,131.8 1276.7,126.3 1276.7,120.8 1276.7,115.4 1276.7,110.1 1276.7,105 1276.7,100.1 1276.7,95.4 1276.7,90.8 1276.7,86.5 M1283.7,238 1283.7,234.5 1283.7,231 1283.7,227.6 1283.7,224.1 1283.7,220.6 1283.7,217.2 1283.7,213.8 1287.6,210.3 1287.1,208.4 1286.7,206.5 1286.1,204.4 1285.6,202.1 1285.2,199.7 1284.7,197.2 1284.4,194.6 1284,192 1283.8,189.4 1283.6,187 1283.5,184.7 1283.4,182.6 1283.3,180.6 1283.3,178.8 1283.4,176.9 1283.4,175.1 1283.4,173.1 1283.5,170.8 1283.5,168.1 1283.6,165.1 1283.6,161.6 1283.6,157.6 1283.6,153.2 1283.7,148.4 1283.7,143.3 1283.7,137.9 1283.7,132.4 1283.7,126.8 1283.7,121.2 1283.7,115.8 1283.7,110.4 1283.7,105.2 1283.7,100.3 1283.7,95.5 1283.7,91 1283.7,86.6 M1290.7,238 1290.7,234.5 1290.7,231 1290.7,227.6 1290.7,224.1 1290.7,220.6 1290.7,217.2 1290.7,213.8 1290.7,210 1290.7,208.1 1290.7,206.1 1290.7,204 1290.7,201.7 1290.7,199.4 1290.7,196.9 1290.7,194.3 1290.7,191.7 1290.7,189.2 1290.7,186.8 1290.7,184.5 1290.7,182.4 1290.7,180.5 1290.7,178.8 1290.7,177 1290.7,175.2 1290.7,173.2 1290.7,171 1290.7,168.4 1290.7,165.3 1290.7,161.8 1290.7,157.9 1290.7,153.5 1290.7,148.7 1290.7,143.5 1290.7,138.1 1290.7,132.6 1290.7,127 1290.7,121.4 1290.7,115.9 1290.7,110.5 1290.7,105.3 1290.7,100.4 1290.7,95.6 1290.7,91 1290.7,86.7 M1297.7,238 1297.7,234.5 1297.7,231 1297.7,227.6 1297.7,224.1 1297.7,220.6 1297.7,217.2 1297.7,213.8 1293.8,210.3 1294.3,208.4 1294.7,206.5 1295.3,204.4 1295.8,202.1 1296.2,199.7 1296.7,197.2 1297,194.6 1297.4,192 1297.6,189.4 1297.8,187 1297.9,184.7 1298,182.6 1298.1,180.6 1298.1,178.8 1298,176.9 1298,175.1 1298,173.1 1297.9,170.8 1297.9,168.1 1297.8,165.1 1297.8,161.6 1297.8,157.6 1297.8,153.2 1297.7,148.4 1297.7,143.3 1297.7,137.9 1297.7,132.4 1297.7,126.8 1297.7,121.2 1297.7,115.8 1297.7,110.4 1297.7,105.2 1297.7,100.3 1297.7,95.5 1297.7,91 1297.7,86.6 M1304.7,238 1304.7,234.5 1304.7,231 1304.7,227.5 1304.7,224.1 1304.7,220.6 1304.7,217.2 1304.7,213.8 1297.2,211.3 1298,209.4 1298.9,207.5 1299.9,205.4 1300.8,203.2 1301.7,200.8 1302.5,198.2 1303.3,195.5 1303.9,192.8 1304.4,190.2 1304.8,187.6 1305,185.1 1305.2,182.9 1305.3,180.7 1305.3,178.7 1305.3,176.7 1305.2,174.7 1305.2,172.5 1305.1,170.1 1305,167.4 1305,164.3 1304.9,160.7 1304.9,156.7 1304.8,152.4 1304.8,147.6 1304.8,142.5 1304.7,137.2 1304.7,131.8 1304.7,126.3 1304.7,120.8 1304.7,115.4 1304.7,110.1 1304.7,105 1304.7,100.1 1304.7,95.4 1304.7,90.8 1304.7,86.5 M1311.7,238 1311.7,234.5 1311.7,231 1311.7,227.5 1311.7,224.1 1311.7,220.6 1311.7,217.2 1311.7,213.8 1301,212.6 1302.1,210.8 1303.3,208.9 1304.6,206.9 1305.9,204.6 1307.1,202.2 1308.3,199.5 1309.3,196.8 1310.2,193.9 1310.9,191.1 1311.5,188.3 1311.9,185.7 1312.1,183.2 1312.3,180.8 1312.4,178.5 1312.4,176.3 1312.3,174 1312.3,171.7 1312.2,169.1 1312.1,166.2 1312,163 1312,159.4 1311.9,155.4 1311.8,151 1311.8,146.3 1311.8,141.3 1311.8,136.1 1311.7,130.8 1311.7,125.4 1311.7,120 1311.7,114.7 1311.7,109.6 1311.7,104.5 1311.7,99.7 1311.7,95.1 1311.7,90.6 1311.7,86.4 M1318.7,238 1318.7,234.5 1318.7,231 1318.7,227.5 1318.7,224.1 1318.7,220.6 1318.7,217.2 1318.7,213.8 1305.4,214 1306.7,212.3 1308.1,210.4 1309.6,208.3 1311.1,206 1312.6,203.5 1314,200.8 1315.2,198 1316.3,195 1317.2,192 1317.9,189 1318.5,186.1 1318.8,183.3 1319.1,180.6 1319.2,178.1 1319.3,175.6 1319.3,173 1319.2,170.4 1319.2,167.6 1319.1,164.6 1319,161.3 1319,157.6 1318.9,153.6 1318.8,149.3 1318.8,144.6 1318.8,139.7 1318.8,134.7 1318.7,129.5 1318.7,124.3 1318.7,119 1318.7,113.9 1318.7,108.9 1318.7,104 1318.7,99.3 1318.7,94.7 1318.7,90.4 1318.7,86.2 M1325.7,238 1325.7,234.5 1325.7,231 1325.7,227.5 1325.7,224.1 1325.7,220.6 1325.7,217.1 1325.7,213.7 1310.7,215.2 1311.9,213.5 1313.4,211.6 1315,209.5 1316.6,207.1 1318.2,204.6 1319.7,201.8 1321.1,198.8 1322.3,195.6 1323.3,192.4 1324.2,189.2 1324.8,186.1 1325.3,183.1 1325.7,180.1 1325.9,177.3 1326,174.5 1326.1,171.7 1326.1,168.8 1326.1,165.8 1326,162.6 1326,159.2 1325.9,155.5 1325.9,151.5 1325.8,147.2 1325.8,142.7 1325.8,137.9 1325.7,133 1325.7,128 1325.7,122.9 1325.7,117.9 1325.7,112.9 1325.7,108.1 1325.7,103.3 1325.7,98.8 1325.7,94.3 1325.7,90.1 1325.7,85.9 M1332.7,238 1332.7,234.5 1332.7,231 1332.7,227.5 1332.7,224.1 1332.7,220.6 1332.7,217.1 1332.7,213.7 1316.8,216 1318,214.2 1319.4,212.2 1320.9,210 1322.5,207.6 1324.1,205 1325.6,202 1327,198.9 1328.3,195.7 1329.4,192.3 1330.4,189 1331.1,185.6 1331.7,182.3 1332.1,179.2 1332.5,176.1 1332.7,173 1332.8,170 1332.9,166.9 1332.9,163.7 1332.9,160.4 1332.9,156.9 1332.8,153.2 1332.8,149.2 1332.8,145 1332.8,140.5 1332.8,135.9 1332.7,131.2 1332.7,126.4 1332.7,121.5 1332.7,116.7 1332.7,111.9 1332.7,107.2 1332.7,102.6 1332.7,98.2 1332.7,93.9 1332.7,89.7 1332.7,85.7 M1339.7,238 1339.7,234.5 1339.7,231 1339.7,227.5 1339.7,224 1339.7,220.6 1339.7,217.1 1339.7,213.7 1323.9,216.3 1324.9,214.3 1326.1,212.2 1327.5,209.9 1328.9,207.4 1330.4,204.6 1331.9,201.6 1333.3,198.4 1334.5,195 1335.7,191.6 1336.6,188.1 1337.5,184.6 1338.1,181.2 1338.6,177.8 1339,174.5 1339.3,171.3 1339.5,168 1339.6,164.8 1339.7,161.5 1339.7,158.1 1339.8,154.5 1339.8,150.7 1339.8,146.8 1339.7,142.7 1339.7,138.4 1339.7,133.9 1339.7,129.3 1339.7,124.7 1339.7,120.1 1339.7,115.4 1339.7,110.8 1339.7,106.3 1339.7,101.9 1339.7,97.6 1339.7,93.5 1339.7,89.4 1339.7,85.4 M1346.7,238 1346.7,234.5 1346.7,231 1346.7,227.5 1346.7,224 1346.7,220.6 1346.7,217.1 1346.7,213.6 1331.7,216 1332.5,213.9 1333.5,211.6 1334.7,209.2 1336,206.5 1337.3,203.6 1338.6,200.5 1339.9,197.2 1341.1,193.8 1342.2,190.3 1343.2,186.7 1344,183.1 1344.7,179.6 1345.2,176.1 1345.6,172.7 1346,169.3 1346.2,165.9 1346.4,162.6 1346.5,159.2 1346.6,155.7 1346.6,152.1 1346.7,148.4 1346.7,144.5 1346.7,140.4 1346.7,136.2 1346.7,131.9 1346.7,127.6 1346.7,123.1 1346.7,118.7 1346.7,114.2 1346.7,109.8 1346.7,105.5 1346.7,101.3 1346.7,97.1 1346.7,93 1346.7,89.1 1346.7,85.2 M1353.7,238 1353.7,234.5 1353.7,231 1353.7,227.5 1353.7,224 1353.7,220.5 1353.7,217.1 1353.7,213.6 1340.2,215.4 1340.8,213 1341.6,210.6 1342.5,207.9 1343.6,205.1 1344.7,202.1 1345.9,198.9 1347,195.6 1348.1,192.1 1349.1,188.5 1350,184.9 1350.7,181.3 1351.4,177.7 1352,174.2 1352.4,170.7 1352.8,167.3 1353,163.8 1353.2,160.4 1353.4,156.9 1353.5,153.4 1353.6,149.8 1353.6,146.1 1353.6,142.3 1353.7,138.3 1353.7,134.3 1353.7,130.1 1353.7,125.9 1353.7,121.6 1353.7,117.4 1353.7,113.1 1353.7,108.9 1353.7,104.7 1353.7,100.6 1353.7,96.6 1353.7,92.6 1353.7,88.8 1353.7,84.9 M1360.7,238 1360.7,234.5 1360.7,231 1360.7,227.5 1360.7,224 1360.7,220.5 1360.7,217.1 1360.7,213.6 1349.1,214.5 1349.5,211.9 1350.1,209.2 1350.8,206.4 1351.6,203.5 1352.6,200.4 1353.5,197.1 1354.5,193.7 1355.4,190.2 1356.3,186.7 1357,183.1 1357.8,179.4 1358.4,175.9 1358.9,172.3 1359.3,168.8 1359.7,165.3 1359.9,161.8 1360.2,158.4 1360.3,154.9 1360.4,151.3 1360.5,147.7 1360.6,144.1 1360.6,140.3 1360.6,136.4 1360.7,132.5 1360.7,128.5 1360.7,124.4 1360.7,120.3 1360.7,116.2 1360.7,112.1 1360.7,108.1 1360.7,104 1360.7,100.1 1360.7,96.1 1360.7,92.3 1360.7,88.5 1360.7,84.7 M1367.7,238 1367.7,234.5 1367.7,231 1367.7,227.5 1367.7,224 1367.7,220.5 1367.7,217 1367.7,213.6 1358.2,213.5 1358.4,210.7 1358.8,207.9 1359.4,204.9 1360,201.8 1360.7,198.6 1361.5,195.3 1362.2,191.9 1363,188.4 1363.7,184.8 1364.4,181.2 1365,177.6 1365.5,174.1 1366,170.5 1366.4,167 1366.7,163.5 1366.9,160 1367.1,156.5 1367.3,153 1367.4,149.5 1367.5,145.9 1367.6,142.3 1367.6,138.6 1367.6,134.8 1367.7,131 1367.7,127.1 1367.7,123.1 1367.7,119.2 1367.7,115.2 1367.7,111.3 1367.7,107.3 1367.7,103.4 1367.7,99.6 1367.7,95.8 1367.7,92 1367.7,88.3 1367.7,84.6 M1374.7,238 1374.7,234.5 1374.7,231 1374.7,227.5 1374.7,224 1374.7,220.5 1374.7,217 1374.7,213.5 1367.2,212.6 1367.4,209.6 1367.6,206.6 1368,203.5 1368.5,200.3 1369,197 1369.6,193.6 1370.2,190.2 1370.8,186.7 1371.3,183.1 1371.9,179.6 1372.4,176 1372.8,172.5 1373.2,169 1373.5,165.4 1373.8,162 1374,158.5 1374.2,155 1374.3,151.5 1374.4,148 1374.5,144.4 1374.6,140.8 1374.6,137.2 1374.6,133.5 1374.7,129.7 1374.7,125.9 1374.7,122.1 1374.7,118.3 1374.7,114.4 1374.7,110.6 1374.7,106.7 1374.7,102.9 1374.7,99.2 1374.7,95.4 1374.7,91.7 1374.7,88.1 1374.7,84.4 M1381.7,238 1381.7,234.5 1381.7,231 1381.7,227.5 1381.7,224 1381.7,220.5 1381.7,217 1381.7,213.5 1376.1,211.8 1376.1,208.7 1376.3,205.5 1376.6,202.3 1376.9,199 1377.3,195.6 1377.7,192.2 1378.1,188.8 1378.6,185.3 1379,181.8 1379.4,178.2 1379.8,174.7 1380.2,171.2 1380.5,167.7 1380.7,164.2 1380.9,160.7 1381.1,157.2 1381.3,153.7 1381.4,150.2 1381.5,146.7 1381.5,143.2 1381.6,139.6 1381.6,136 1381.6,132.4 1381.7,128.7 1381.7,125 1381.7,121.2 1381.7,117.5 1381.7,113.7 1381.7,110 1381.7,106.3 1381.7,102.5 1381.7,98.9 1381.7,95.2 1381.7,91.5 1381.7,87.9 1381.7,84.3 M1388.7,238 1388.7,234.5 1388.7,231 1388.7,227.5 1388.7,224 1388.7,220.5 1388.7,217 1388.7,213.5 1384.6,211.2 1384.7,207.9 1384.8,204.6 1385,201.3 1385.2,198 1385.4,194.6 1385.7,191.1 1386,187.7 1386.4,184.2 1386.7,180.7 1387,177.2 1387.3,173.7 1387.5,170.2 1387.7,166.7 1387.9,163.2 1388.1,159.7 1388.2,156.2 1388.4,152.8 1388.4,149.3 1388.5,145.8 1388.6,142.3 1388.6,138.7 1388.6,135.1 1388.7,131.5 1388.7,127.9 1388.7,124.3 1388.7,120.6 1388.7,116.9 1388.7,113.2 1388.7,109.6 1388.7,105.9 1388.7,102.2 1388.7,98.6 1388.7,95 1388.7,91.4 1388.7,87.8 1388.7,84.2 M1395.7,238 1395.7,234.5 1395.7,231 1395.7,227.5 1395.7,224 1395.7,220.5 1395.7,217 1395.7,213.5 1392.9,210.8 1392.9,207.4 1393,204 1393.1,200.6 1393.2,197.2 1393.4,193.8 1393.6,190.3 1393.8,186.9 1394,183.4 1394.3,179.9 1394.5,176.4 1394.7,172.9 1394.8,169.4 1395,165.9 1395.1,162.5 1395.3,159 1395.4,155.5 1395.4,152 1395.5,148.6 1395.6,145.1 1395.6,141.5 1395.6,138 1395.7,134.5 1395.7,130.9 1395.7,127.3 1395.7,123.7 1395.7,120.1 1395.7,116.5 1395.7,112.9 1395.7,109.2 1395.7,105.6 1395.7,102 1395.7,98.4 1395.7,94.8 1395.7,91.3 1395.7,87.7 1395.7,84.2 M1402.7,238 1402.7,234.5 1402.7,231 1402.7,227.5 1402.7,224 1402.7,220.5 1402.7,217 1402.7,213.5 1400.8,210.4 1400.9,207 1400.9,203.6 1401,200.2 1401,196.7 1401.2,193.3 1401.3,189.8 1401.4,186.3 1401.6,182.9 1401.7,179.4 1401.9,175.9 1402,172.4 1402.1,168.9 1402.2,165.4 1402.3,161.9 1402.4,158.5 1402.5,155 1402.5,151.5 1402.6,148 1402.6,144.5 1402.6,141 1402.7,137.5 1402.7,134 1402.7,130.4 1402.7,126.9 1402.7,123.3 1402.7,119.7 1402.7,116.2 1402.7,112.6 1402.7,109 1402.7,105.4 1402.7,101.8 1402.7,98.3 1402.7,94.7 1402.7,91.2 1402.7,87.6 1402.7,84.1 M1409.7,238 1409.7,234.5 1409.7,231 1409.7,227.5 1409.7,224 1409.7,220.5 1409.7,217 1409.7,213.5 1408.5,210.2 1408.5,206.8 1408.5,203.3 1408.6,199.9 1408.6,196.4 1408.7,192.9 1408.8,189.5 1408.9,186 1409,182.5 1409.1,179 1409.2,175.5 1409.2,172 1409.3,168.6 1409.4,165.1 1409.5,161.6 1409.5,158.1 1409.5,154.6 1409.6,151.2 1409.6,147.7 1409.6,144.2 1409.7,140.7 1409.7,137.2 1409.7,133.6 1409.7,130.1 1409.7,126.6 1409.7,123 1409.7,119.5 1409.7,115.9 1409.7,112.4 1409.7,108.8 1409.7,105.3 1409.7,101.7 1409.7,98.2 1409.7,94.6 1409.7,91.1 1409.7,87.6 1409.7,84.1 M1171.7,238 1175.2,238 1178.7,238 1182.2,238 1185.7,238 1189.2,238 1192.7,238 1196.2,238 1199.7,238 1203.2,238 1206.7,238 1210.2,238 1213.7,238 1217.2,238 1220.7,238 1224.2,238 1227.7,238 1231.2,238 1234.7,238 1238.2,238 1241.7,238 1245.2,238 1248.7,238 1252.2,238 1255.7,238 1259.2,238 1262.7,238 1266.2,238 1269.7,238 1273.2,238 1276.7,238 1280.2,238 1283.7,238 1287.2,238 1290.7,238 1294.2,238 1297.7,238 1301.2,238 1304.7,238 1308.2,238 1311.7,238 1315.2,238 1318.7,238 1322.2,238 1325.7,238 1329.2,238 1332.7,238 1336.2,238 1339.7,238 1343.2,238 1346.7,238 1350.2,238 1353.7,238 1357.2,238 1360.7,238 1364.2,238 1367.7,238 1371.2,238 1374.7,238 1378.2,238 1381.7,238 1385.2,238 1388.7,238 1392.2,238 1395.7,238 1399.2,238 1402.7,238 1406.2,238 1409.7,238 M1171.7,231 1175.2,231 1178.7,231 1182.2,231 1185.7,231 1189.2,231 1192.7,231 1196.2,231 1199.7,231 1203.2,231 1206.7,231 1210.2,231 1213.7,231 1217.2,231 1220.7,231 1224.2,231 1227.7,231 1231.2,231 1234.7,231 1238.2,231 1241.7,231 1245.2,231 1248.7,231 1252.2,231 1255.7,231 1259.2,231 1262.7,231 1266.2,231 1269.7,231 1273.2,231 1276.7,231 1280.2,231 1283.7,231 1287.2,231 1290.7,231 1294.2,231 1297.7,231 1301.2,231 1304.7,231 1308.2,231 1311.7,231 1315.2,231 1318.7,231 1322.2,231 1325.7,231 1329.2,231 1332.7,231 1336.2,231 1339.7,231 1343.2,231 1346.7,231 1350.2,231 1353.7,231 1357.2,231 1360.7,231 1364.2,231 1367.7,231 1371.2,231 1374.7,231 1378.2,231 1381.7,231 1385.2,231 1388.7,231 1392.2,231 1395.7,231 1399.2,231 1402.7,231 1406.2,231 1409.7,231 M1171.7,224 1175.2,224 1178.7,224 1182.2,224 1185.7,224 1189.2,224 1192.7,224 1196.2,224 1199.7,224 1203.2,224 1206.7,224 1210.2,224 1213.7,224 1217.2,224 1220.7,224 1224.2,224 1227.7,224 1231.2,224 1234.7,224 1238.2,224 1241.7,224 1245.2,224 1248.7,224.1 1252.2,224.1 1255.7,224.1 1259.2,224.1 1262.7,224.1 1266.2,224.1 1269.7,224.1 1273.2,224.1 1276.7,224.1 1280.2,224.1 1283.7,224.1 1287.2,224.1 1290.7,224.1 1294.2,224.1 1297.7,224.1 1301.2,224.1 1304.7,224.1 1308.2,224.1 1311.7,224.1 1315.2,224.1 1318.7,224.1 1322.2,224.1 1325.7,224.1 1329.2,224.1 1332.7,224.1 1336.2,224 1339.7,224 1343.2,224 1346.7,224 1350.2,224 1353.7,224 1357.2,224 1360.7,224 1364.2,224 1367.7,224 1371.2,224 1374.7,224 1378.2,224 1381.7,224 1385.2,224 1388.7,224 1392.2,224 1395.7,224 1399.2,224 1402.7,224 1406.2,224 1409.7,224 M1171.7,217 1175.2,217 1178.7,217 1182.2,217 1185.7,217 1189.2,217 1192.7,217 1196.2,217 1199.7,217 1203.2,217 1206.7,217 1210.2,217 1213.7,217 1217.2,217.1 1220.7,217.1 1224.2,217.1 1227.7,217.1 1231.2,217.1 1234.7,217.1 1238.2,217.1 1241.7,217.1 1245.2,217.1 1248.7,217.1 1252.2,217.1 1255.7,217.1 1259.2,217.2 1262.7,217.2 1266.2,217.2 1269.7,217.2 1273.2,217.2 1276.7,217.2 1280.2,217.2 1283.7,217.2 1287.2,217.2 1290.7,217.2 1294.2,217.2 1297.7,217.2 1301.2,217.2 1304.7,217.2 1308.2,217.2 1311.7,217.2 1315.2,217.2 1318.7,217.2 1322.2,217.2 1325.7,217.1 1329.2,217.1 1332.7,217.1 1336.2,217.1 1339.7,217.1 1343.2,217.1 1346.7,217.1 1350.2,217.1 1353.7,217.1 1357.2,217.1 1360.7,217.1 1364.2,217.1 1367.7,217 1371.2,217 1374.7,217 1378.2,217 1381.7,217 1385.2,217 1388.7,217 1392.2,217 1395.7,217 1399.2,217 1402.7,217 1406.2,217 1409.7,217 M1172.9,210.2 1176.7,210.3 1180.6,210.4 1184.5,210.6 1188.5,210.8 1192.6,211 1196.8,211.2 1201,211.5 1205.3,211.8 1209.7,212.2 1214.2,212.6 1218.7,213.1 1223.2,213.5 1227.8,214 1232.3,214.5 1236.8,215 1241.2,215.4 1245.5,215.8 1249.7,216 1253.7,216.2 1257.5,216.3 1261.2,216.2 1264.6,216 1267.8,215.7 1270.7,215.2 1273.5,214.7 1276,214 1278.3,213.3 1280.4,212.6 1282.4,211.9 1284.2,211.3 1285.9,210.7 1287.6,210.3 1289.2,210.1 1290.7,210 1292.2,210.1 1293.8,210.3 1295.5,210.7 1297.2,211.3 1299,211.9 1301,212.6 1303.1,213.3 1305.4,214 1307.9,214.7 1310.7,215.2 1313.6,215.7 1316.8,216 1320.2,216.2 1323.9,216.3 1327.7,216.2 1331.7,216 1335.9,215.8 1340.2,215.4 1344.6,215 1349.1,214.5 1353.6,214 1358.2,213.5 1362.7,213.1 1367.2,212.6 1371.7,212.2 1376.1,211.8 1380.4,211.5 1384.6,211.2 1388.8,211 1392.9,210.8 1396.9,210.6 1400.8,210.4 1404.7,210.3 1408.5,210.2 M1172.9,203.3 1176.7,203.5 1180.5,203.6 1184.4,203.8 1188.4,204 1192.5,204.3 1196.6,204.6 1200.8,205 1205.1,205.5 1209.4,206 1213.8,206.6 1218.2,207.2 1222.6,207.9 1227,208.6 1231.3,209.2 1235.6,209.9 1239.8,210.6 1243.9,211.1 1247.9,211.6 1251.7,212 1255.3,212.2 1258.8,212.3 1262,212.2 1265.1,212 1268,211.6 1270.7,211 1273.3,210.4 1275.8,209.7 1278.1,208.9 1280.3,208.2 1282.5,207.5 1284.6,206.9 1286.7,206.5 1288.7,206.2 1290.7,206.1 1292.7,206.2 1294.7,206.5 1296.8,206.9 1298.9,207.5 1301.1,208.2 1303.3,208.9 1305.6,209.7 1308.1,210.4 1310.7,211 1313.4,211.6 1316.3,212 1319.4,212.2 1322.6,212.3 1326.1,212.2 1329.7,212 1333.5,211.6 1337.5,211.1 1341.6,210.6 1345.8,209.9 1350.1,209.2 1354.4,208.6 1358.8,207.9 1363.2,207.2 1367.6,206.6 1372,206 1376.3,205.5 1380.6,205 1384.8,204.6 1388.9,204.3 1393,204 1397,203.8 1400.9,203.6 1404.7,203.5 1408.5,203.3 M1172.8,196.4 1176.5,196.6 1180.4,196.7 1184.2,197 1188.2,197.2 1192.2,197.6 1196.2,198 1200.3,198.4 1204.5,199 1208.7,199.6 1212.9,200.3 1217.2,201 1221.4,201.8 1225.6,202.6 1229.8,203.5 1233.8,204.3 1237.8,205.1 1241.7,205.9 1245.4,206.5 1249,207 1252.5,207.4 1255.8,207.6 1258.9,207.6 1261.9,207.5 1264.8,207.1 1267.6,206.7 1270.3,206 1272.9,205.3 1275.5,204.6 1278.1,203.9 1280.6,203.2 1283.1,202.6 1285.6,202.1 1288.2,201.8 1290.7,201.7 1293.2,201.8 1295.8,202.1 1298.3,202.6 1300.8,203.2 1303.3,203.9 1305.9,204.6 1308.5,205.3 1311.1,206 1313.8,206.7 1316.6,207.1 1319.5,207.5 1322.5,207.6 1325.6,207.6 1328.9,207.4 1332.4,207 1336,206.5 1339.7,205.9 1343.6,205.1 1347.6,204.3 1351.6,203.5 1355.8,202.6 1360,201.8 1364.2,201 1368.5,200.3 1372.7,199.6 1376.9,199 1381.1,198.4 1385.2,198 1389.2,197.6 1393.2,197.2 1397.2,197 1401,196.7 1404.9,196.6 1408.6,196.4 M1172.6,189.5 1176.3,189.6 1180.1,189.8 1183.9,190.1 1187.8,190.3 1191.7,190.7 1195.7,191.1 1199.7,191.6 1203.7,192.2 1207.8,192.9 1211.8,193.6 1215.9,194.4 1219.9,195.3 1223.9,196.2 1227.9,197.1 1231.8,198 1235.5,198.9 1239.2,199.8 1242.8,200.5 1246.2,201.1 1249.5,201.6 1252.7,201.9 1255.8,202 1258.8,202 1261.7,201.8 1264.6,201.4 1267.4,200.8 1270.3,200.2 1273.1,199.5 1276,198.8 1278.9,198.2 1281.8,197.6 1284.7,197.2 1287.7,196.9 1290.7,196.9 1293.7,196.9 1296.7,197.2 1299.6,197.6 1302.5,198.2 1305.4,198.8 1308.3,199.5 1311.1,200.2 1314,200.8 1316.8,201.4 1319.7,201.8 1322.6,202 1325.6,202 1328.7,201.9 1331.9,201.6 1335.2,201.1 1338.6,200.5 1342.2,199.8 1345.9,198.9 1349.6,198 1353.5,197.1 1357.5,196.2 1361.5,195.3 1365.5,194.4 1369.6,193.6 1373.6,192.9 1377.7,192.2 1381.7,191.6 1385.7,191.1 1389.7,190.7 1393.6,190.3 1397.5,190.1 1401.3,189.8 1405.1,189.6 1408.8,189.5 M1172.4,182.5 1176.1,182.7 1179.8,182.9 1183.6,183.1 1187.4,183.4 1191.2,183.8 1195,184.2 1198.9,184.7 1202.8,185.3 1206.7,185.9 1210.6,186.7 1214.5,187.5 1218.4,188.4 1222.2,189.3 1226,190.2 1229.7,191.2 1233.3,192.1 1236.9,193 1240.3,193.8 1243.6,194.5 1246.9,195 1250,195.4 1253.1,195.7 1256.1,195.7 1259.1,195.6 1262.1,195.4 1265.1,195 1268.1,194.5 1271.2,193.9 1274.3,193.4 1277.5,192.8 1280.7,192.4 1284,192 1287.4,191.8 1290.7,191.7 1294,191.8 1297.4,192 1300.7,192.4 1303.9,192.8 1307.1,193.4 1310.2,193.9 1313.3,194.5 1316.3,195 1319.3,195.4 1322.3,195.6 1325.3,195.7 1328.3,195.7 1331.4,195.4 1334.5,195 1337.8,194.5 1341.1,193.8 1344.5,193 1348.1,192.1 1351.7,191.2 1355.4,190.2 1359.2,189.3 1363,188.4 1366.9,187.5 1370.8,186.7 1374.7,185.9 1378.6,185.3 1382.5,184.7 1386.4,184.2 1390.2,183.8 1394,183.4 1397.8,183.1 1401.6,182.9 1405.3,182.7 1409,182.5 M1172.2,175.5 1175.9,175.7 1179.5,175.9 1183.2,176.1 1186.9,176.4 1190.7,176.8 1194.4,177.2 1198.2,177.7 1202,178.2 1205.7,178.9 1209.5,179.6 1213.3,180.4 1217,181.2 1220.7,182.1 1224.4,183.1 1227.9,184 1231.4,184.9 1234.9,185.8 1238.2,186.7 1241.5,187.4 1244.8,188.1 1247.9,188.6 1251,189 1254.1,189.2 1257.2,189.2 1260.3,189.2 1263.5,189 1266.7,188.7 1269.9,188.3 1273.2,188 1276.6,187.6 1280.1,187.2 1283.6,187 1287.1,186.8 1290.7,186.8 1294.3,186.8 1297.8,187 1301.3,187.2 1304.8,187.6 1308.2,188 1311.5,188.3 1314.7,188.7 1317.9,189 1321.1,189.2 1324.2,189.2 1327.3,189.2 1330.4,189 1333.5,188.6 1336.6,188.1 1339.9,187.4 1343.2,186.7 1346.5,185.8 1350,184.9 1353.5,184 1357,183.1 1360.7,182.1 1364.4,181.2 1368.1,180.4 1371.9,179.6 1375.7,178.9 1379.4,178.2 1383.2,177.7 1387,177.2 1390.7,176.8 1394.5,176.4 1398.2,176.1 1401.9,175.9 1405.5,175.7 1409.2,175.5 M1172.1,168.6 1175.7,168.7 1179.3,168.9 1182.9,169.1 1186.6,169.4 1190.2,169.8 1193.9,170.2 1197.6,170.6 1201.2,171.2 1204.9,171.8 1208.6,172.5 1212.2,173.2 1215.9,174.1 1219.5,174.9 1223,175.9 1226.5,176.8 1230,177.7 1233.4,178.7 1236.7,179.6 1240,180.4 1243.3,181.2 1246.5,181.8 1249.7,182.3 1252.9,182.8 1256.1,183.1 1259.3,183.2 1262.6,183.3 1265.9,183.3 1269.3,183.2 1272.7,183 1276.2,182.9 1279.8,182.7 1283.4,182.6 1287,182.5 1290.7,182.4 1294.4,182.5 1298,182.6 1301.6,182.7 1305.2,182.9 1308.7,183 1312.1,183.2 1315.5,183.3 1318.8,183.3 1322.1,183.2 1325.3,183.1 1328.5,182.8 1331.7,182.3 1334.9,181.8 1338.1,181.2 1341.4,180.4 1344.7,179.6 1348,178.7 1351.4,177.7 1354.9,176.8 1358.4,175.9 1361.9,174.9 1365.5,174.1 1369.2,173.2 1372.8,172.5 1376.5,171.8 1380.2,171.2 1383.8,170.6 1387.5,170.2 1391.2,169.8 1394.8,169.4 1398.5,169.1 1402.1,168.9 1405.7,168.7 1409.3,168.6 M1171.9,161.6 1175.5,161.7 1179.1,161.9 1182.7,162.2 1186.3,162.5 1189.9,162.8 1193.5,163.2 1197.1,163.6 1200.7,164.2 1204.3,164.8 1207.9,165.4 1211.5,166.2 1215,167 1218.6,167.9 1222.1,168.8 1225.6,169.7 1229,170.7 1232.4,171.7 1235.8,172.7 1239.1,173.6 1242.4,174.5 1245.7,175.3 1248.9,176.1 1252.2,176.7 1255.5,177.3 1258.8,177.7 1262.2,178.1 1265.6,178.3 1269,178.5 1272.5,178.6 1276.1,178.7 1279.7,178.7 1283.3,178.8 1287,178.8 1290.7,178.8 1294.4,178.8 1298.1,178.8 1301.7,178.7 1305.3,178.7 1308.9,178.6 1312.4,178.5 1315.8,178.3 1319.2,178.1 1322.6,177.7 1325.9,177.3 1329.2,176.7 1332.5,176.1 1335.7,175.3 1339,174.5 1342.3,173.6 1345.6,172.7 1349,171.7 1352.4,170.7 1355.8,169.7 1359.3,168.8 1362.8,167.9 1366.4,167 1369.9,166.2 1373.5,165.4 1377.1,164.8 1380.7,164.2 1384.3,163.6 1387.9,163.2 1391.5,162.8 1395.1,162.5 1398.7,162.2 1402.3,161.9 1405.9,161.7 1409.5,161.6 M1171.9,154.6 1175.4,154.8 1178.9,155 1182.5,155.2 1186,155.5 1189.6,155.8 1193.2,156.2 1196.7,156.7 1200.3,157.2 1203.8,157.8 1207.4,158.5 1210.9,159.2 1214.5,160 1218,160.9 1221.5,161.8 1224.9,162.8 1228.4,163.8 1231.8,164.9 1235.2,165.9 1238.6,167 1241.9,168 1245.3,169 1248.6,170 1252,170.9 1255.3,171.7 1258.7,172.4 1262.1,173 1265.6,173.6 1269.1,174 1272.6,174.4 1276.2,174.7 1279.8,174.9 1283.4,175.1 1287,175.2 1290.7,175.2 1294.4,175.2 1298,175.1 1301.6,174.9 1305.2,174.7 1308.8,174.4 1312.3,174 1315.8,173.6 1319.3,173 1322.7,172.4 1326.1,171.7 1329.4,170.9 1332.8,170 1336.1,169 1339.5,168 1342.8,167 1346.2,165.9 1349.6,164.9 1353,163.8 1356.5,162.8 1359.9,161.8 1363.4,160.9 1366.9,160 1370.5,159.2 1374,158.5 1377.6,157.8 1381.1,157.2 1384.7,156.7 1388.2,156.2 1391.8,155.8 1395.4,155.5 1398.9,155.2 1402.5,155 1406,154.8 1409.5,154.6 M1171.8,147.7 1175.3,147.8 1178.8,148 1182.4,148.3 1185.9,148.6 1189.4,148.9 1193,149.3 1196.5,149.7 1200,150.2 1203.6,150.8 1207.1,151.5 1210.6,152.2 1214.1,153 1217.6,153.9 1221.1,154.9 1224.6,155.9 1228,156.9 1231.5,158.1 1234.9,159.2 1238.3,160.3 1241.7,161.5 1245.1,162.6 1248.5,163.7 1251.9,164.8 1255.3,165.8 1258.8,166.8 1262.2,167.6 1265.7,168.4 1269.2,169.1 1272.7,169.7 1276.3,170.1 1279.9,170.5 1283.5,170.8 1287.1,170.9 1290.7,171 1294.3,170.9 1297.9,170.8 1301.5,170.5 1305.1,170.1 1308.7,169.7 1312.2,169.1 1315.7,168.4 1319.2,167.6 1322.6,166.8 1326.1,165.8 1329.5,164.8 1332.9,163.7 1336.3,162.6 1339.7,161.5 1343.1,160.3 1346.5,159.2 1349.9,158.1 1353.4,156.9 1356.8,155.9 1360.3,154.9 1363.8,153.9 1367.3,153 1370.8,152.2 1374.3,151.5 1377.8,150.8 1381.4,150.2 1384.9,149.7 1388.4,149.3 1392,148.9 1395.5,148.6 1399,148.3 1402.6,148 1406.1,147.8 1409.6,147.7 M1171.7,140.7 1175.3,140.8 1178.8,141 1182.3,141.3 1185.8,141.5 1189.3,141.9 1192.8,142.3 1196.4,142.7 1199.9,143.2 1203.4,143.8 1206.9,144.4 1210.4,145.1 1213.9,145.9 1217.4,146.8 1220.9,147.7 1224.4,148.7 1227.8,149.8 1231.3,150.9 1234.8,152.1 1238.2,153.3 1241.6,154.5 1245.1,155.7 1248.5,156.9 1252,158.1 1255.4,159.2 1258.9,160.3 1262.4,161.3 1265.9,162.2 1269.4,163 1272.9,163.7 1276.4,164.3 1280,164.7 1283.6,165.1 1287.1,165.3 1290.7,165.3 1294.3,165.3 1297.8,165.1 1301.4,164.7 1305,164.3 1308.5,163.7 1312,163 1315.5,162.2 1319,161.3 1322.5,160.3 1326,159.2 1329.4,158.1 1332.9,156.9 1336.3,155.7 1339.8,154.5 1343.2,153.3 1346.6,152.1 1350.1,150.9 1353.6,149.8 1357,148.7 1360.5,147.7 1364,146.8 1367.5,145.9 1371,145.1 1374.5,144.4 1378,143.8 1381.5,143.2 1385,142.7 1388.6,142.3 1392.1,141.9 1395.6,141.5 1399.1,141.3 1402.6,141 1406.1,140.8 1409.7,140.7 M1171.7,133.6 1175.2,133.8 1178.7,134 1182.2,134.2 1185.7,134.5 1189.3,134.8 1192.8,135.1 1196.3,135.5 1199.8,136 1203.3,136.6 1206.8,137.2 1210.3,137.8 1213.8,138.6 1217.3,139.4 1220.8,140.3 1224.3,141.2 1227.8,142.3 1231.2,143.3 1234.7,144.5 1238.2,145.6 1241.6,146.8 1245.1,148 1248.6,149.2 1252.1,150.4 1255.5,151.5 1259,152.6 1262.5,153.6 1266,154.5 1269.5,155.4 1273,156.1 1276.5,156.7 1280.1,157.2 1283.6,157.6 1287.2,157.8 1290.7,157.9 1294.2,157.8 1297.8,157.6 1301.3,157.2 1304.9,156.7 1308.4,156.1 1311.9,155.4 1315.4,154.5 1318.9,153.6 1322.4,152.6 1325.9,151.5 1329.3,150.4 1332.8,149.2 1336.3,148 1339.8,146.8 1343.2,145.6 1346.7,144.5 1350.2,143.3 1353.6,142.3 1357.1,141.2 1360.6,140.3 1364.1,139.4 1367.6,138.6 1371.1,137.8 1374.6,137.2 1378.1,136.6 1381.6,136 1385.1,135.5 1388.6,135.1 1392.1,134.8 1395.7,134.5 1399.2,134.2 1402.7,134 1406.2,133.8 1409.7,133.6 M1171.7,126.6 1175.2,126.7 1178.7,126.9 1182.2,127.1 1185.7,127.3 1189.2,127.6 1192.7,127.9 1196.2,128.3 1199.7,128.7 1203.2,129.2 1206.7,129.7 1210.2,130.3 1213.7,131 1217.2,131.7 1220.7,132.5 1224.2,133.3 1227.7,134.3 1231.2,135.2 1234.7,136.2 1238.2,137.3 1241.7,138.4 1245.1,139.5 1248.6,140.5 1252.1,141.6 1255.6,142.7 1259.1,143.7 1262.6,144.6 1266.1,145.5 1269.6,146.3 1273.1,147 1276.6,147.6 1280.1,148.1 1283.7,148.4 1287.2,148.6 1290.7,148.7 1294.2,148.6 1297.7,148.4 1301.3,148.1 1304.8,147.6 1308.3,147 1311.8,146.3 1315.3,145.5 1318.8,144.6 1322.3,143.7 1325.8,142.7 1329.3,141.6 1332.8,140.5 1336.3,139.5 1339.7,138.4 1343.2,137.3 1346.7,136.2 1350.2,135.2 1353.7,134.3 1357.2,133.3 1360.7,132.5 1364.2,131.7 1367.7,131 1371.2,130.3 1374.7,129.7 1378.2,129.2 1381.7,128.7 1385.2,128.3 1388.7,127.9 1392.2,127.6 1395.7,127.3 1399.2,127.1 1402.7,126.9 1406.2,126.7 1409.7,126.6 M1171.7,119.5 1175.2,119.6 1178.7,119.7 1182.2,119.9 1185.7,120.1 1189.2,120.3 1192.7,120.6 1196.2,120.9 1199.7,121.2 1203.2,121.6 1206.7,122.1 1210.2,122.6 1213.7,123.1 1217.2,123.8 1220.7,124.4 1224.2,125.1 1227.7,125.9 1231.2,126.7 1234.7,127.6 1238.2,128.4 1241.7,129.3 1245.2,130.3 1248.7,131.2 1252.2,132.1 1255.7,133 1259.1,133.9 1262.6,134.7 1266.1,135.4 1269.6,136.1 1273.2,136.7 1276.7,137.2 1280.2,137.6 1283.7,137.9 1287.2,138.1 1290.7,138.1 1294.2,138.1 1297.7,137.9 1301.2,137.6 1304.7,137.2 1308.2,136.7 1311.8,136.1 1315.3,135.4 1318.8,134.7 1322.3,133.9 1325.7,133 1329.2,132.1 1332.7,131.2 1336.2,130.3 1339.7,129.3 1343.2,128.4 1346.7,127.6 1350.2,126.7 1353.7,125.9 1357.2,125.1 1360.7,124.4 1364.2,123.8 1367.7,123.1 1371.2,122.6 1374.7,122.1 1378.2,121.6 1381.7,121.2 1385.2,120.9 1388.7,120.6 1392.2,120.3 1395.7,120.1 1399.2,119.9 1402.7,119.7 1406.2,119.6 1409.7,119.5 M1171.7,112.4 1175.2,112.5 1178.7,112.6 1182.2,112.7 1185.7,112.9 1189.2,113 1192.7,113.2 1196.2,113.5 1199.7,113.7 1203.2,114.1 1206.7,114.4 1210.2,114.8 1213.7,115.2 1217.2,115.7 1220.7,116.2 1224.2,116.8 1227.7,117.4 1231.2,118 1234.7,118.7 1238.2,119.4 1241.7,120.1 1245.2,120.8 1248.7,121.5 1252.2,122.2 1255.7,122.9 1259.2,123.6 1262.7,124.3 1266.2,124.8 1269.7,125.4 1273.2,125.9 1276.7,126.3 1280.2,126.6 1283.7,126.8 1287.2,126.9 1290.7,127 1294.2,126.9 1297.7,126.8 1301.2,126.6 1304.7,126.3 1308.2,125.9 1311.7,125.4 1315.2,124.8 1318.7,124.3 1322.2,123.6 1325.7,122.9 1329.2,122.2 1332.7,121.5 1336.2,120.8 1339.7,120.1 1343.2,119.4 1346.7,118.7 1350.2,118 1353.7,117.4 1357.2,116.8 1360.7,116.2 1364.2,115.7 1367.7,115.2 1371.2,114.8 1374.7,114.4 1378.2,114.1 1381.7,113.7 1385.2,113.5 1388.7,113.2 1392.2,113 1395.7,112.9 1399.2,112.7 1402.7,112.6 1406.2,112.5 1409.7,112.4 M1171.7,105.3 1175.2,105.3 1178.7,105.4 1182.2,105.5 1185.7,105.6 1189.2,105.7 1192.7,105.9 1196.2,106.1 1199.7,106.3 1203.2,106.5 1206.7,106.7 1210.2,107 1213.7,107.3 1217.2,107.7 1220.7,108.1 1224.2,108.5 1227.7,108.9 1231.2,109.4 1234.7,109.8 1238.2,110.3 1241.7,110.8 1245.2,111.4 1248.7,111.9 1252.2,112.4 1255.7,112.9 1259.2,113.4 1262.7,113.9 1266.2,114.3 1269.7,114.7 1273.2,115.1 1276.7,115.4 1280.2,115.6 1283.7,115.8 1287.2,115.9 1290.7,115.9 1294.2,115.9 1297.7,115.8 1301.2,115.6 1304.7,115.4 1308.2,115.1 1311.7,114.7 1315.2,114.3 1318.7,113.9 1322.2,113.4 1325.7,112.9 1329.2,112.4 1332.7,111.9 1336.2,111.4 1339.7,110.8 1343.2,110.3 1346.7,109.8 1350.2,109.4 1353.7,108.9 1357.2,108.5 1360.7,108.1 1364.2,107.7 1367.7,107.3 1371.2,107 1374.7,106.7 1378.2,106.5 1381.7,106.3 1385.2,106.1 1388.7,105.9 1392.2,105.7 1395.7,105.6 1399.2,105.5 1402.7,105.4 1406.2,105.3 1409.7,105.3 M1171.7,98.2 1175.2,98.2 1178.7,98.3 1182.2,98.3 1185.7,98.4 1189.2,98.5 1192.7,98.6 1196.2,98.7 1199.7,98.9 1203.2,99 1206.7,99.2 1210.2,99.4 1213.7,99.6 1217.2,99.8 1220.7,100.1 1224.2,100.3 1227.7,100.6 1231.2,100.9 1234.7,101.3 1238.2,101.6 1241.7,101.9 1245.2,102.3 1248.7,102.6 1252.2,103 1255.7,103.3 1259.2,103.7 1262.7,104 1266.2,104.3 1269.7,104.5 1273.2,104.8 1276.7,105 1280.2,105.1 1283.7,105.2 1287.2,105.3 1290.7,105.3 1294.2,105.3 1297.7,105.2 1301.2,105.1 1304.7,105 1308.2,104.8 1311.7,104.5 1315.2,104.3 1318.7,104 1322.2,103.7 1325.7,103.3 1329.2,103 1332.7,102.6 1336.2,102.3 1339.7,101.9 1343.2,101.6 1346.7,101.3 1350.2,100.9 1353.7,100.6 1357.2,100.3 1360.7,100.1 1364.2,99.8 1367.7,99.6 1371.2,99.4 1374.7,99.2 1378.2,99 1381.7,98.9 1385.2,98.7 1388.7,98.6 1392.2,98.5 1395.7,98.4 1399.2,98.3 1402.7,98.3 1406.2,98.2 1409.7,98.2 M1171.7,91.1 1175.2,91.1 1178.7,91.2 1182.2,91.2 1185.7,91.3 1189.2,91.3 1192.7,91.4 1196.2,91.4 1199.7,91.5 1203.2,91.6 1206.7,91.7 1210.2,91.9 1213.7,92 1217.2,92.1 1220.7,92.3 1224.2,92.5 1227.7,92.6 1231.2,92.8 1234.7,93 1238.2,93.2 1241.7,93.5 1245.2,93.7 1248.7,93.9 1252.2,94.1 1255.7,94.3 1259.2,94.5 1262.7,94.7 1266.2,94.9 1269.7,95.1 1273.2,95.2 1276.7,95.4 1280.2,95.5 1283.7,95.5 1287.2,95.6 1290.7,95.6 1294.2,95.6 1297.7,95.5 1301.2,95.5 1304.7,95.4 1308.2,95.2 1311.7,95.1 1315.2,94.9 1318.7,94.7 1322.2,94.5 1325.7,94.3 1329.2,94.1 1332.7,93.9 1336.2,93.7 1339.7,93.5 1343.2,93.2 1346.7,93 1350.2,92.8 1353.7,92.6 1357.2,92.5 1360.7,92.3 1364.2,92.1 1367.7,92 1371.2,91.9 1374.7,91.7 1378.2,91.6 1381.7,91.5 1385.2,91.4 1388.7,91.4 1392.2,91.3 1395.7,91.3 1399.2,91.2 1402.7,91.2 1406.2,91.1 1409.7,91.1 M1171.7,84.1 1175.2,84.1 1178.7,84.1 1182.2,84.1 1185.7,84.2 1189.2,84.2 1192.7,84.2 1196.2,84.3 1199.7,84.3 1203.2,84.4 1206.7,84.4 1210.2,84.5 1213.7,84.6 1217.2,84.7 1220.7,84.7 1224.2,84.8 1227.7,84.9 1231.2,85.1 1234.7,85.2 1238.2,85.3 1241.7,85.4 1245.2,85.6 1248.7,85.7 1252.2,85.8 1255.7,85.9 1259.2,86.1 1262.7,86.2 1266.2,86.3 1269.7,86.4 1273.2,86.5 1276.7,86.5 1280.2,86.6 1283.7,86.6 1287.2,86.6 1290.7,86.7 1294.2,86.6 1297.7,86.6 1301.2,86.6 1304.7,86.5 1308.2,86.5 1311.7,86.4 1315.2,86.3 1318.7,86.2 1322.2,86.1 1325.7,85.9 1329.2,85.8 1332.7,85.7 1336.2,85.6 1339.7,85.4 1343.2,85.3 1346.7,85.2 1350.2,85.1 1353.7,84.9 1357.2,84.8 1360.7,84.7 1364.2,84.7 1367.7,84.6 1371.2,84.5 1374.7,84.4 1378.2,84.4 1381.7,84.3 1385.2,84.3 1388.7,84.2 1392.2,84.2 1395.7,84.2 1399.2,84.1 1402.7,84.1 1406.2,84.1 1409.7,84.1" fill="none" stroke="#000" stroke-width="1.6" clip-path="url(#clipE)"/>
<path d="M 1184,185 C 1185,205 1190,220 1200,227 C 1207,231 1214,230 1217,226 C 1219,222 1215,218 1212,213 C 1209,207 1212,201 1222,200 L 1246,199 M 1189,185 C 1190,203 1195,215 1203,221 C 1208,224 1211,224 1212,222 C 1210,218 1207,214 1206,209 C 1205,201 1210,196 1222,195.5 L 1248,194.5 M 1397.4,185 C 1396.4,205 1391.4,220 1381.4,227 C 1374.4,231 1367.4,230 1364.4,226 C 1362.4,222 1366.4,218 1369.4,213 C 1372.4,207 1369.4,201 1359.4,200 L 1335.4,199 M 1392.4,185 C 1391.4,203 1386.4,215 1378.4,221 C 1373.4,224 1370.4,224 1369.4,222 C 1371.4,218 1374.4,214 1375.4,209 C 1376.4,201 1371.4,196 1359.4,195.5 L 1333.4,194.5" fill="none" stroke="#000" stroke-width="1.5" clip-path="url(#clipE)"/>
<path d="M1290.7,89.3 L1284.9,89.4 L1279.1,89.9 L1273.3,90.6 L1267.6,91.5 L1261.9,92.8 L1256.3,94.3 L1250.8,96.1 L1245.4,98.2 L1240.2,100.5 L1235.1,103.1 L1230.1,105.9 L1225.3,108.9 L1220.7,112.2 L1216.2,115.7 L1212.0,119.4 L1208.0,123.3 L1204.2,127.4 L1200.7,131.6 L1197.4,136.1 L1194.3,140.6 L1191.5,145.4 L1189.0,150.2 L1186.8,155.2 L1184.8,160.3 L1183.2,165.4 L1181.8,170.6 L1180.8,175.9 L1180.0,181.3 L1179.6,186.6 L1179.4,192.0 C1179,205 1184,225 1198,233 C1206,237.5 1216,237 1221,232 C1226,227 1222,222 1218,216 C1214,210 1216,205 1224,203.5 L1245,203.5 C1250,202 1252,196 1255,195.5 C1259,197 1262,207 1266,209.9 L1317,209.9 C1321,207 1324,197 1327,195.5 C1330,196 1332,202 1337,203.5 L1358,205 C1366,206 1366,212 1362,218 C1358,224 1357,229 1362,233 C1367,237 1378,237 1386,233 C1398,225 1402,205 1402,192 L1402.0,192.0 L1401.8,186.6 L1401.4,181.3 L1400.6,175.9 L1399.6,170.6 L1398.2,165.4 L1396.6,160.3 L1394.6,155.2 L1392.4,150.2 L1389.9,145.4 L1387.1,140.6 L1384.0,136.1 L1380.7,131.6 L1377.2,127.4 L1373.4,123.3 L1369.4,119.4 L1365.2,115.7 L1360.7,112.2 L1356.1,108.9 L1351.3,105.9 L1346.3,103.1 L1341.2,100.5 L1336.0,98.2 L1330.6,96.1 L1325.1,94.3 L1319.5,92.8 L1313.8,91.5 L1308.1,90.6 L1302.3,89.9 L1296.5,89.4 L1290.7,89.3 Z" fill="none" stroke="#000" stroke-width="5" clip-path="url(#clipE)" stroke-opacity="0.85"/>
<path d="M1290.7,89.3 L1284.9,89.4 L1279.1,89.9 L1273.3,90.6 L1267.6,91.5 L1261.9,92.8 L1256.3,94.3 L1250.8,96.1 L1245.4,98.2 L1240.2,100.5 L1235.1,103.1 L1230.1,105.9 L1225.3,108.9 L1220.7,112.2 L1216.2,115.7 L1212.0,119.4 L1208.0,123.3 L1204.2,127.4 L1200.7,131.6 L1197.4,136.1 L1194.3,140.6 L1191.5,145.4 L1189.0,150.2 L1186.8,155.2 L1184.8,160.3 L1183.2,165.4 L1181.8,170.6 L1180.8,175.9 L1180.0,181.3 L1179.6,186.6 L1179.4,192.0 C1179,205 1184,225 1198,233 C1206,237.5 1216,237 1221,232 C1226,227 1222,222 1218,216 C1214,210 1216,205 1224,203.5 L1245,203.5 C1250,202 1252,196 1255,195.5 C1259,197 1262,207 1266,209.9 L1317,209.9 C1321,207 1324,197 1327,195.5 C1330,196 1332,202 1337,203.5 L1358,205 C1366,206 1366,212 1362,218 C1358,224 1357,229 1362,233 C1367,237 1378,237 1386,233 C1398,225 1402,205 1402,192 L1402.0,192.0 L1401.8,186.6 L1401.4,181.3 L1400.6,175.9 L1399.6,170.6 L1398.2,165.4 L1396.6,160.3 L1394.6,155.2 L1392.4,150.2 L1389.9,145.4 L1387.1,140.6 L1384.0,136.1 L1380.7,131.6 L1377.2,127.4 L1373.4,123.3 L1369.4,119.4 L1365.2,115.7 L1360.7,112.2 L1356.1,108.9 L1351.3,105.9 L1346.3,103.1 L1341.2,100.5 L1336.0,98.2 L1330.6,96.1 L1325.1,94.3 L1319.5,92.8 L1313.8,91.5 L1308.1,90.6 L1302.3,89.9 L1296.5,89.4 L1290.7,89.3 Z" fill="none" stroke="#000" stroke-width="2"/>
<rect x="41.20" y="393.10" width="236.60" height="165.20" fill="#000" />
<rect x="63.50" y="408.30" width="191.00" height="137.50" fill="#070707" />
<g filter="url(#grayn)"><path d="M78.6,501.3 C78.3,497.1 78.8,494.6 80.7,489.2 C82.6,483.8 85.8,474.4 89.8,469.0 C93.8,463.6 100.4,460.4 104.9,456.8 C109.4,453.2 112.3,450.9 117.0,447.7 C121.7,444.5 126.1,440.2 133.2,437.6 C140.3,435.0 154.0,432.7 159.5,432.2 C165.0,431.7 164.3,433.6 166.0,434.5 C167.7,435.4 168.0,437.4 169.6,437.6 C171.2,437.8 170.3,434.8 175.7,435.6 C181.1,436.5 194.2,439.8 202.0,442.7 C209.8,445.6 216.1,448.4 222.2,452.8 C228.3,457.2 234.0,462.9 238.4,469.0 C242.8,475.1 246.5,484.5 248.5,489.2 C250.5,493.9 251.2,493.9 250.5,497.3 C249.8,500.7 247.1,506.2 244.4,509.4 C241.7,512.6 238.0,516.2 234.3,516.5 C230.6,516.8 226.6,513.1 222.2,511.4 C217.8,509.7 212.1,507.1 208.0,506.4 C203.9,505.7 202.3,505.5 197.9,507.4 C193.5,509.2 187.8,515.0 181.7,517.5 C175.6,520.0 168.2,522.2 161.5,522.5 C154.8,522.8 148.0,521.5 141.3,519.5 C134.6,517.5 126.5,512.4 121.1,510.4 C115.7,508.4 113.0,507.4 109.0,507.4 C105.0,507.4 101.2,509.2 96.8,510.4 C92.4,511.6 85.7,516.0 82.7,514.5 C79.7,513.0 78.9,505.5 78.6,501.3 Z" fill="#C4C4C4"/><g clip-path="url(#clipF)"><ellipse cx="135" cy="482" rx="16" ry="20" fill="#707070" fill-opacity="0.35" filter="url(#blur6)"/><ellipse cx="204" cy="476" rx="14" ry="22" fill="#707070" fill-opacity="0.3" filter="url(#blur6)"/><ellipse cx="165" cy="470" rx="40" ry="30" fill="#E0E0E0" fill-opacity="0.35" filter="url(#blur6)"/></g></g>
<text transform="translate(45.00,422.00) scale(1.08,1)" font-size="32" font-weight="bold" fill="#fff" stroke="#fff" stroke-width="1.1">f</text>
<text x="253.3" y="416.4" font-size="20" font-style="italic" fill="#fff">t<tspan font-size="15" font-style="normal" dy="5.5">0</tspan></text>
<rect x="48.30" y="547.40" width="48.50" height="4.80" fill="#fff" />
<text transform="translate(295.00,420.80) scale(1.08,1)" font-size="32" font-weight="bold" fill="#000" stroke="#000" stroke-width="1.1">g</text>
<g clip-path="url(#cl_stg)"><polygon points="398.6,548.7 397.9,535.8 396.5,523 394.8,510.1 392.7,497.2 390.4,484.4 387.9,471.5 385.1,458.6 382.1,445.8 378.9,432.9 375.5,420 371.9,407.2 368.2,394.3 378.8,394.3 382,407.2 385,420 387.9,432.9 390.6,445.8 393.2,458.6 395.6,471.5 397.8,484.4 399.8,497.2 401.6,510.1 403,523 404.2,535.8 404.8,548.7" fill="#CCCCF6"/><polygon points="404.8,548.7 404.2,535.8 403,523 401.6,510.1 399.8,497.2 397.8,484.4 395.6,471.5 393.2,458.6 390.6,445.8 387.9,432.9 385,420 382,407.2 378.8,394.3 392.1,394.3 394.1,407.2 396,420 397.8,432.9 399.5,445.8 401.1,458.6 402.6,471.5 404,484.4 405.3,497.2 406.4,510.1 407.3,523 408,535.8 408.4,548.7" fill="#BCBCF4"/><polygon points="408.4,548.7 408,535.8 407.3,523 406.4,510.1 405.3,497.2 404,484.4 402.6,471.5 401.1,458.6 399.5,445.8 397.8,432.9 396,420 394.1,407.2 392.1,394.3 403.1,394.3 404.3,407.2 405.4,420 406.5,432.9 407.5,445.8 408.5,458.6 409.4,471.5 410.2,484.4 410.9,497.2 411.6,510.1 412.1,523 412.6,535.8 412.8,548.7" fill="#CCCCF6"/><polygon points="412.8,548.7 412.6,535.8 412.1,523 411.6,510.1 410.9,497.2 410.2,484.4 409.4,471.5 408.5,458.6 407.5,445.8 406.5,432.9 405.4,420 404.3,407.2 403.1,394.3 414,394.3 414.5,407.2 415,420 415.4,432.9 415.9,445.8 416.3,458.6 416.7,471.5 417,484.4 417.3,497.2 417.6,510.1 417.8,523 418,535.8 418.1,548.7" fill="#C4C4F4"/><polygon points="418.1,548.7 418,535.8 417.8,523 417.6,510.1 417.3,497.2 417,484.4 416.7,471.5 416.3,458.6 415.9,445.8 415.4,432.9 415,420 414.5,407.2 414,394.3 424.3,394.3 424,407.2 423.7,420 423.4,432.9 423.1,445.8 422.8,458.6 422.6,471.5 422.3,484.4 422.1,497.2 421.9,510.1 421.8,523 421.7,535.8 421.6,548.7" fill="#D8D8F8"/><polygon points="421.6,548.7 421.7,535.8 421.8,523 421.9,510.1 422.1,497.2 422.3,484.4 422.6,471.5 422.8,458.6 423.1,445.8 423.4,432.9 423.7,420 424,407.2 424.3,394.3 431.4,394.3 431,407.2 430.5,420 430.1,432.9 429.8,445.8 429.4,458.6 429.1,471.5 428.8,484.4 428.5,497.2 428.2,510.1 428,523 427.9,535.8 427.8,548.7" fill="#E6E6FA"/><polygon points="427.8,548.7 427.9,535.8 428,523 428.2,510.1 428.5,497.2 428.8,484.4 429.1,471.5 429.4,458.6 429.8,445.8 430.1,432.9 430.5,420 431,407.2 431.4,394.3 438.5,394.3 437.8,407.2 437.2,420 436.6,432.9 436,445.8 435.5,458.6 435,471.5 434.6,484.4 434.1,497.2 433.8,510.1 433.5,523 433.2,535.8 433.1,548.7" fill="#F0F0FB"/><polygon points="433.1,548.7 433.2,535.8 433.5,523 433.8,510.1 434.1,497.2 434.6,484.4 435,471.5 435.5,458.6 436,445.8 436.6,432.9 437.2,420 437.8,407.2 438.5,394.3 446.4,394.3 445.4,407.2 444.5,420 443.6,432.9 442.8,445.8 442,458.6 441.3,471.5 440.6,484.4 440,497.2 439.5,510.1 439,523 438.7,535.8 438.5,548.7" fill="#EAEAFA"/><polygon points="438.5,548.7 438.7,535.8 439,523 439.5,510.1 440,497.2 440.6,484.4 441.3,471.5 442,458.6 442.8,445.8 443.6,432.9 444.5,420 445.4,407.2 446.4,394.3 454.7,394.3 453.4,407.2 452.1,420 450.9,432.9 449.7,445.8 448.7,458.6 447.7,471.5 446.7,484.4 445.9,497.2 445.2,510.1 444.5,523 444.1,535.8 443.8,548.7" fill="#DCDCF8"/><polygon points="443.8,548.7 444.1,535.8 444.5,523 445.2,510.1 445.9,497.2 446.7,484.4 447.7,471.5 448.7,458.6 449.7,445.8 450.9,432.9 452.1,420 453.4,407.2 454.7,394.3 463.2,394.3 461.5,407.2 459.8,420 458.3,432.9 456.8,445.8 455.4,458.6 454.1,471.5 452.9,484.4 451.8,497.2 450.9,510.1 450.1,523 449.4,535.8 449.1,548.7" fill="#D0D0F6"/><polygon points="449.1,548.7 449.4,535.8 450.1,523 450.9,510.1 451.8,497.2 452.9,484.4 454.1,471.5 455.4,458.6 456.8,445.8 458.3,432.9 459.8,420 461.5,407.2 463.2,394.3 473.8,394.3 471.4,407.2 469.2,420 467,432.9 465,445.8 463,458.6 461.3,471.5 459.6,484.4 458.1,497.2 456.8,510.1 455.7,523 454.9,535.8 454.4,548.7" fill="#B8B8F2"/><polygon points="454.4,548.7 454.9,535.8 455.7,523 456.8,510.1 458.1,497.2 459.6,484.4 461.3,471.5 463,458.6 465,445.8 467,432.9 469.2,420 471.4,407.2 473.8,394.3 487.1,394.3 483.6,407.2 480.3,420 477.2,432.9 474.2,445.8 471.4,458.6 468.8,471.5 466.4,484.4 464.2,497.2 462.3,510.1 460.7,523 459.5,535.8 458.8,548.7" fill="#CCCCF6"/><polygon points="458.8,548.7 459.5,535.8 460.7,523 462.3,510.1 464.2,497.2 466.4,484.4 468.8,471.5 471.4,458.6 474.2,445.8 477.2,432.9 480.3,420 483.6,407.2 487.1,394.3 496.1,394.3 492.1,407.2 488.2,420 484.6,432.9 481.1,445.8 477.9,458.6 474.8,471.5 472,484.4 469.5,497.2 467.3,510.1 465.4,523 464,535.8 463.2,548.7" fill="#D4D4F6"/><polygon points="398.6,548.7 397.9,535.8 396.5,523 394.8,510.1 392.7,497.2 390.4,484.4 387.9,471.5 385.1,458.6 382.1,445.8 378.9,432.9 375.5,420 371.9,407.2 368.2,394.3 496.1,394.3 492.1,407.2 488.2,420 484.6,432.9 481.1,445.8 477.9,458.6 474.8,471.5 472,484.4 469.5,497.2 467.3,510.1 465.4,523 464,535.8 463.2,548.7" fill="url(#stg)"/><polyline points="398.6,548.7 397.9,535.8 396.5,523 394.8,510.1 392.7,497.2 390.4,484.4 387.9,471.5 385.1,458.6 382.1,445.8 378.9,432.9 375.5,420 371.9,407.2 368.2,394.3" fill="none" stroke="#000" stroke-width="1.9"/><polyline points="404.8,548.7 404.2,535.8 403,523 401.6,510.1 399.8,497.2 397.8,484.4 395.6,471.5 393.2,458.6 390.6,445.8 387.9,432.9 385,420 382,407.2 378.8,394.3" fill="none" stroke="#000" stroke-width="1.9"/><polyline points="408.4,548.7 408,535.8 407.3,523 406.4,510.1 405.3,497.2 404,484.4 402.6,471.5 401.1,458.6 399.5,445.8 397.8,432.9 396,420 394.1,407.2 392.1,394.3" fill="none" stroke="#000" stroke-width="1.9"/><polyline points="412.8,548.7 412.6,535.8 412.1,523 411.6,510.1 410.9,497.2 410.2,484.4 409.4,471.5 408.5,458.6 407.5,445.8 406.5,432.9 405.4,420 404.3,407.2 403.1,394.3" fill="none" stroke="#000" stroke-width="1.9"/><polyline points="418.1,548.7 418,535.8 417.8,523 417.6,510.1 417.3,497.2 417,484.4 416.7,471.5 416.3,458.6 415.9,445.8 415.4,432.9 415,420 414.5,407.2 414,394.3" fill="none" stroke="#000" stroke-width="1.9"/><polyline points="421.6,548.7 421.7,535.8 421.8,523 421.9,510.1 422.1,497.2 422.3,484.4 422.6,471.5 422.8,458.6 423.1,445.8 423.4,432.9 423.7,420 424,407.2 424.3,394.3" fill="none" stroke="#000" stroke-width="1.9"/><polyline points="427.8,548.7 427.9,535.8 428,523 428.2,510.1 428.5,497.2 428.8,484.4 429.1,471.5 429.4,458.6 429.8,445.8 430.1,432.9 430.5,420 431,407.2 431.4,394.3" fill="none" stroke="#000" stroke-width="1.9"/><polyline points="433.1,548.7 433.2,535.8 433.5,523 433.8,510.1 434.1,497.2 434.6,484.4 435,471.5 435.5,458.6 436,445.8 436.6,432.9 437.2,420 437.8,407.2 438.5,394.3" fill="none" stroke="#000" stroke-width="1.9"/><polyline points="438.5,548.7 438.7,535.8 439,523 439.5,510.1 440,497.2 440.6,484.4 441.3,471.5 442,458.6 442.8,445.8 443.6,432.9 444.5,420 445.4,407.2 446.4,394.3" fill="none" stroke="#000" stroke-width="1.9"/><polyline points="443.8,548.7 444.1,535.8 444.5,523 445.2,510.1 445.9,497.2 446.7,484.4 447.7,471.5 448.7,458.6 449.7,445.8 450.9,432.9 452.1,420 453.4,407.2 454.7,394.3" fill="none" stroke="#000" stroke-width="1.9"/><polyline points="449.1,548.7 449.4,535.8 450.1,523 450.9,510.1 451.8,497.2 452.9,484.4 454.1,471.5 455.4,458.6 456.8,445.8 458.3,432.9 459.8,420 461.5,407.2 463.2,394.3" fill="none" stroke="#000" stroke-width="1.9"/><polyline points="454.4,548.7 454.9,535.8 455.7,523 456.8,510.1 458.1,497.2 459.6,484.4 461.3,471.5 463,458.6 465,445.8 467,432.9 469.2,420 471.4,407.2 473.8,394.3" fill="none" stroke="#000" stroke-width="1.9"/><polyline points="458.8,548.7 459.5,535.8 460.7,523 462.3,510.1 464.2,497.2 466.4,484.4 468.8,471.5 471.4,458.6 474.2,445.8 477.2,432.9 480.3,420 483.6,407.2 487.1,394.3" fill="none" stroke="#000" stroke-width="1.9"/><polyline points="463.2,548.7 464,535.8 465.4,523 467.3,510.1 469.5,497.2 472,484.4 474.8,471.5 477.9,458.6 481.1,445.8 484.6,432.9 488.2,420 492.1,407.2 496.1,394.3" fill="none" stroke="#000" stroke-width="1.9"/></g>
<line x1="396.30" y1="516.30" x2="462.30" y2="516.30" stroke="#2020E0" stroke-width="1" />
<line x1="354.80" y1="548.70" x2="358.00" y2="548.70" stroke="#000" stroke-width="2" />
<text x="347.60" y="553.90" font-size="19.5" text-anchor="end" font-weight="normal" font-style="normal" fill="#000" >0</text>
<line x1="354.80" y1="519.21" x2="358.00" y2="519.21" stroke="#000" stroke-width="2" />
<text x="347.60" y="524.41" font-size="19.5" text-anchor="end" font-weight="normal" font-style="normal" fill="#000" >2</text>
<line x1="354.80" y1="489.71" x2="358.00" y2="489.71" stroke="#000" stroke-width="2" />
<text x="347.60" y="494.91" font-size="19.5" text-anchor="end" font-weight="normal" font-style="normal" fill="#000" >4</text>
<line x1="354.80" y1="460.22" x2="358.00" y2="460.22" stroke="#000" stroke-width="2" />
<text x="347.60" y="465.42" font-size="19.5" text-anchor="end" font-weight="normal" font-style="normal" fill="#000" >6</text>
<line x1="354.80" y1="430.72" x2="358.00" y2="430.72" stroke="#000" stroke-width="2" />
<text x="347.60" y="435.92" font-size="19.5" text-anchor="end" font-weight="normal" font-style="normal" fill="#000" >8</text>
<line x1="354.80" y1="401.23" x2="358.00" y2="401.23" stroke="#000" stroke-width="2" />
<text x="347.60" y="406.43" font-size="19.5" text-anchor="end" font-weight="normal" font-style="normal" fill="#000" >10</text>
<line x1="380.50" y1="545.50" x2="380.50" y2="548.70" stroke="#000" stroke-width="2" />
<line x1="432.10" y1="545.50" x2="432.10" y2="548.70" stroke="#000" stroke-width="2" />
<line x1="483.70" y1="545.50" x2="483.70" y2="548.70" stroke="#000" stroke-width="2" />
<text x="346.40" y="569.90" font-size="19.5" text-anchor="middle" font-weight="normal" font-style="normal" fill="#000" >−3</text>
<text x="377.00" y="569.90" font-size="19.5" text-anchor="middle" font-weight="normal" font-style="normal" fill="#000" >−2</text>
<text x="405.80" y="569.90" font-size="19.5" text-anchor="middle" font-weight="normal" font-style="normal" fill="#000" >−1</text>
<text x="432.80" y="569.90" font-size="19.5" text-anchor="middle" font-weight="normal" font-style="normal" fill="#000" >0</text>
<text x="458.00" y="569.90" font-size="19.5" text-anchor="middle" font-weight="normal" font-style="normal" fill="#000" >1</text>
<text x="484.50" y="569.90" font-size="19.5" text-anchor="middle" font-weight="normal" font-style="normal" fill="#000" >2</text>
<text x="511.20" y="569.90" font-size="19.5" text-anchor="middle" font-weight="normal" font-style="normal" fill="#000" >3</text>
<rect x="354.8" y="394.3" width="154.89999999999998" height="154.40000000000003" fill="none" stroke="#000" stroke-width="2.4"/>
<text transform="translate(316.00,475.50) rotate(-90)" x="0" y="0" font-size="20" text-anchor="middle" fill="#000" >Time (h)</text>
<rect x="525.60" y="392.50" width="177.30" height="167.10" fill="#fff" />
<g clip-path="url(#clipH)"><path d="M526.0,393.0 L691.7,393.0 L700.4,428.0 L701.0,538.6 L691.5,543.8 L678.7,546.3 L668.5,545.7 L659.5,541.2 L655.7,533.5 L653.1,527.1 L646.7,524.6 L637.7,523.3 L627.5,527.1 L614.7,529.7 L601.9,528.4 L589.0,524.6 L578.8,528.4 L572.4,529.7 L571.1,537.4 L566.0,542.5 L557.0,546.3 L544.2,547.0 L532.7,545.0 L526.0,539.9 Z" fill="#3434F2"/><polygon points="534.2,556.8 540,549.9 530.7,539 523.8,545.9" fill="#2d2dff"/><polygon points="523.8,545.9 530.7,539 522.7,527.8 514.9,534.5" fill="#3434ff"/><polygon points="550.8,560.3 555.9,553.9 546.4,543.5 540,549.9" fill="#4747ff"/><polygon points="540,549.9 546.4,543.5 538.3,532.7 530.7,539" fill="#5757ff"/><polygon points="530.7,539 538.3,532.7 531.3,521.6 522.7,527.8" fill="#4040ff"/><polygon points="522.7,527.8 531.3,521.6 525.2,510.3 515.9,516.3" fill="#3b3bff"/><polygon points="555.9,553.9 561.7,548.1 553.6,537.7 546.4,543.5" fill="#5a5aff"/><polygon points="546.4,543.5 553.6,537.7 546.5,527 538.3,532.7" fill="#5b5bff"/><polygon points="538.3,532.7 546.5,527 540.4,516 531.3,521.6" fill="#5c5cff"/><polygon points="531.3,521.6 540.4,516 535.1,504.9 525.2,510.3" fill="#4c4cff"/><polygon points="525.2,510.3 535.1,504.9 530.4,493.7 519.8,498.9" fill="#4646ff"/><polygon points="519.8,498.9 530.4,493.7 526.1,482.3 515.2,487.3" fill="#3535ff"/><polygon points="515.2,487.3 526.1,482.3 522.4,471 511,475.7" fill="#2020ff"/><polygon points="561.7,548.1 568,543 561.3,532.5 553.6,537.7" fill="#7e7eff"/><polygon points="553.6,537.7 561.3,532.5 555.4,521.8 546.5,527" fill="#7a7aff"/><polygon points="546.5,527 555.4,521.8 550.2,511 540.4,516" fill="#6969ff"/><polygon points="540.4,516 550.2,511 545.5,500.1 535.1,504.9" fill="#6a6aff"/><polygon points="535.1,504.9 545.5,500.1 541.4,489 530.4,493.7" fill="#4444ff"/><polygon points="530.4,493.7 541.4,489 537.6,477.9 526.1,482.3" fill="#3434ff"/><polygon points="526.1,482.3 537.6,477.9 534.2,466.7 522.4,471" fill="#3d3dff"/><polygon points="522.4,471 534.2,466.7 531.1,455.6 518.9,459.6" fill="#3434ff"/><polygon points="518.9,459.6 531.1,455.6 528.1,444.4 515.8,448.2" fill="#2121ff"/><polygon points="515.8,448.2 528.1,444.4 525.4,433.2 512.9,436.7" fill="#2f2fff"/><polygon points="568,543 574.9,538.5 569.5,528 561.3,532.5" fill="#c6c6ff"/><polygon points="561.3,532.5 569.5,528 564.7,517.4 555.4,521.8" fill="#acacff"/><polygon points="555.4,521.8 564.7,517.4 560.4,506.7 550.2,511" fill="#8787ff"/><polygon points="550.2,511 560.4,506.7 556.4,495.9 545.5,500.1" fill="#6f6fff"/><polygon points="545.5,500.1 556.4,495.9 552.9,485 541.4,489" fill="#5050ff"/><polygon points="541.4,489 552.9,485 549.6,474 537.6,477.9" fill="#4545ff"/><polygon points="537.6,477.9 549.6,474 546.5,463.1 534.2,466.7" fill="#3636ff"/><polygon points="534.2,466.7 546.5,463.1 543.6,452.1 531.1,455.6" fill="#2929ff"/><polygon points="531.1,455.6 543.6,452.1 540.8,441.1 528.1,444.4" fill="#1e1eff"/><polygon points="528.1,444.4 540.8,441.1 538.2,430.2 525.4,433.2" fill="#2020ff"/><polygon points="525.4,433.2 538.2,430.2 535.7,419.2 522.8,422" fill="#2626ff"/><polygon points="522.8,422 535.7,419.2 533.2,408.2 520.2,410.9" fill="#1616ff"/><polygon points="520.2,410.9 533.2,408.2 530.8,397.3 517.8,399.8" fill="#2626ff"/><polygon points="517.8,399.8 530.8,397.3 528.4,386.4 515.4,388.7" fill="#1e1eff"/><polygon points="574.9,538.5 582.2,534.8 578.1,524.3 569.5,528" fill="#e8e8ff"/><polygon points="569.5,528 578.1,524.3 574.4,513.7 564.7,517.4" fill="#dadaff"/><polygon points="564.7,517.4 574.4,513.7 571,503.1 560.4,506.7" fill="#8484ff"/><polygon points="560.4,506.7 571,503.1 567.8,492.4 556.4,495.9" fill="#6666ff"/><polygon points="556.4,495.9 567.8,492.4 564.7,481.6 552.9,485" fill="#5e5eff"/><polygon points="552.9,485 564.7,481.6 561.9,470.8 549.6,474" fill="#4646ff"/><polygon points="549.6,474 561.9,470.8 559.1,460 546.5,463.1" fill="#5252ff"/><polygon points="546.5,463.1 559.1,460 556.5,449.2 543.6,452.1" fill="#2828ff"/><polygon points="543.6,452.1 556.5,449.2 553.9,438.4 540.8,441.1" fill="#2e2eff"/><polygon points="540.8,441.1 553.9,438.4 551.3,427.6 538.2,430.2" fill="#2e2eff"/><polygon points="538.2,430.2 551.3,427.6 548.9,416.8 535.7,419.2" fill="#1818ff"/><polygon points="535.7,419.2 548.9,416.8 546.4,406 533.2,408.2" fill="#2929ff"/><polygon points="533.2,408.2 546.4,406 544,395.2 530.8,397.3" fill="#1f1fff"/><polygon points="530.8,397.3 544,395.2 541.6,384.5 528.4,386.4" fill="#2424ff"/><polygon points="582.2,534.8 589.8,531.8 587.1,521.3 578.1,524.3" fill="#c3c3ff"/><polygon points="578.1,524.3 587.1,521.3 584.5,510.8 574.4,513.7" fill="#b8b8ff"/><polygon points="574.4,513.7 584.5,510.8 581.9,500.2 571,503.1" fill="#9393ff"/><polygon points="571,503.1 581.9,500.2 579.4,489.6 567.8,492.4" fill="#6565ff"/><polygon points="567.8,492.4 579.4,489.6 576.9,479 564.7,481.6" fill="#6767ff"/><polygon points="564.7,481.6 576.9,479 574.5,468.3 561.9,470.8" fill="#6262ff"/><polygon points="561.9,470.8 574.5,468.3 572,457.6 559.1,460" fill="#5555ff"/><polygon points="559.1,460 572,457.6 569.6,447 556.5,449.2" fill="#3434ff"/><polygon points="556.5,449.2 569.6,447 567.1,436.3 553.9,438.4" fill="#2828ff"/><polygon points="553.9,438.4 567.1,436.3 564.7,425.6 551.3,427.6" fill="#2828ff"/><polygon points="551.3,427.6 564.7,425.6 562.3,414.9 548.9,416.8" fill="#2b2bff"/><polygon points="548.9,416.8 562.3,414.9 559.8,404.3 546.4,406" fill="#1818ff"/><polygon points="546.4,406 559.8,404.3 557.4,393.6 544,395.2" fill="#2828ff"/><polygon points="544,395.2 557.4,393.6 555,383 541.6,384.5" fill="#2929ff"/><polygon points="589.8,531.8 597.7,529.7 596.4,519.2 587.1,521.3" fill="#dedeff"/><polygon points="587.1,521.3 596.4,519.2 594.9,508.7 584.5,510.8" fill="#c1c1ff"/><polygon points="584.5,510.8 594.9,508.7 593.2,498.2 581.9,500.2" fill="#7e7eff"/><polygon points="581.9,500.2 593.2,498.2 591.3,487.6 579.4,489.6" fill="#7575ff"/><polygon points="579.4,489.6 591.3,487.6 589.4,477 576.9,479" fill="#7373ff"/><polygon points="576.9,479 589.4,477 587.3,466.5 574.5,468.3" fill="#6d6dff"/><polygon points="574.5,468.3 587.3,466.5 585.1,455.9 572,457.6" fill="#4d4dff"/><polygon points="572,457.6 585.1,455.9 582.9,445.3 569.6,447" fill="#4949ff"/><polygon points="569.6,447 582.9,445.3 580.6,434.7 567.1,436.3" fill="#3131ff"/><polygon points="567.1,436.3 580.6,434.7 578.3,424.2 564.7,425.6" fill="#2323ff"/><polygon points="564.7,425.6 578.3,424.2 575.9,413.6 562.3,414.9" fill="#1f1fff"/><polygon points="562.3,414.9 575.9,413.6 573.4,403 559.8,404.3" fill="#1919ff"/><polygon points="559.8,404.3 573.4,403 571,392.4 557.4,393.6" fill="#1616ff"/><polygon points="557.4,393.6 571,392.4 568.5,381.9 555,383" fill="#1919ff"/><polygon points="597.7,529.7 605.8,528.4 605.8,517.9 596.4,519.2" fill="#e8e8ff"/><polygon points="596.4,519.2 605.8,517.9 605.4,507.4 594.9,508.7" fill="#a1a1ff"/><polygon points="594.9,508.7 605.4,507.4 604.6,496.9 593.2,498.2" fill="#7c7cff"/><polygon points="593.2,498.2 604.6,496.9 603.4,486.4 591.3,487.6" fill="#7676ff"/><polygon points="591.3,487.6 603.4,486.4 602,475.9 589.4,477" fill="#8888ff"/><polygon points="589.4,477 602,475.9 600.3,465.4 587.3,466.5" fill="#6e6eff"/><polygon points="587.3,466.5 600.3,465.4 598.4,454.9 585.1,455.9" fill="#5555ff"/><polygon points="585.1,455.9 598.4,454.9 596.4,444.3 582.9,445.3" fill="#3c3cff"/><polygon points="582.9,445.3 596.4,444.3 594.2,433.8 580.6,434.7" fill="#3434ff"/><polygon points="580.6,434.7 594.2,433.8 591.9,423.3 578.3,424.2" fill="#3030ff"/><polygon points="578.3,424.2 591.9,423.3 589.6,412.8 575.9,413.6" fill="#2121ff"/><polygon points="575.9,413.6 589.6,412.8 587.1,402.3 573.4,403" fill="#1d1dff"/><polygon points="573.4,403 587.1,402.3 584.6,391.7 571,392.4" fill="#1414ff"/><polygon points="571,392.4 584.6,391.7 582.1,381.2 568.5,381.9" fill="#2b2bff"/><polygon points="605.8,528.4 614,528 615.4,517.5 605.8,517.9" fill="#acacff"/><polygon points="605.8,517.9 615.4,517.5 616,507 605.4,507.4" fill="#8383ff"/><polygon points="605.4,507.4 616,507 616.1,496.5 604.6,496.9" fill="#7e7eff"/><polygon points="604.6,496.9 616.1,496.5 615.6,486 603.4,486.4" fill="#6c6cff"/><polygon points="603.4,486.4 615.6,486 614.6,475.5 602,475.9" fill="#7878ff"/><polygon points="602,475.9 614.6,475.5 613.3,465 600.3,465.4" fill="#7272ff"/><polygon points="600.3,465.4 613.3,465 611.8,454.5 598.4,454.9" fill="#5858ff"/><polygon points="598.4,454.9 611.8,454.5 609.9,444 596.4,444.3" fill="#4848ff"/><polygon points="596.4,444.3 609.9,444 607.9,433.5 594.2,433.8" fill="#2828ff"/><polygon points="594.2,433.8 607.9,433.5 605.7,423 591.9,423.3" fill="#2525ff"/><polygon points="591.9,423.3 605.7,423 603.3,412.5 589.6,412.8" fill="#1717ff"/><polygon points="589.6,412.8 603.3,412.5 600.9,402 587.1,402.3" fill="#2525ff"/><polygon points="587.1,402.3 600.9,402 598.3,391.5 584.6,391.7" fill="#1818ff"/><polygon points="584.6,391.7 598.3,391.5 595.7,381 582.1,381.2" fill="#1e1eff"/><polygon points="614,528 622.2,528.4 624.9,517.9 615.4,517.5" fill="#bebeff"/><polygon points="615.4,517.5 624.9,517.9 626.6,507.4 616,507" fill="#8787ff"/><polygon points="616,507 626.6,507.4 627.5,496.9 616.1,496.5" fill="#7272ff"/><polygon points="616.1,496.5 627.5,496.9 627.7,486.4 615.6,486" fill="#5d5dff"/><polygon points="615.6,486 627.7,486.4 627.3,475.9 614.6,475.5" fill="#5959ff"/><polygon points="614.6,475.5 627.3,475.9 626.4,465.4 613.3,465" fill="#5757ff"/><polygon points="613.3,465 626.4,465.4 625.1,454.9 611.8,454.5" fill="#4545ff"/><polygon points="611.8,454.5 625.1,454.9 623.5,444.3 609.9,444" fill="#3333ff"/><polygon points="609.9,444 623.5,444.3 621.5,433.8 607.9,433.5" fill="#2b2bff"/><polygon points="607.9,433.5 621.5,433.8 619.4,423.3 605.7,423" fill="#1c1cff"/><polygon points="605.7,423 619.4,423.3 617.1,412.8 603.3,412.5" fill="#1a1aff"/><polygon points="603.3,412.5 617.1,412.8 614.6,402.3 600.9,402" fill="#2525ff"/><polygon points="600.9,402 614.6,402.3 612,391.7 598.3,391.5" fill="#2525ff"/><polygon points="598.3,391.5 612,391.7 609.3,381.2 595.7,381" fill="#2121ff"/><polygon points="622.2,528.4 630.3,529.7 634.4,519.2 624.9,517.9" fill="#e7e7ff"/><polygon points="624.9,517.9 634.4,519.2 637.2,508.7 626.6,507.4" fill="#8787ff"/><polygon points="626.6,507.4 637.2,508.7 638.9,498.2 627.5,496.9" fill="#5656ff"/><polygon points="627.5,496.9 638.9,498.2 639.8,487.6 627.7,486.4" fill="#4545ff"/><polygon points="627.7,486.4 639.8,487.6 639.9,477 627.3,475.9" fill="#4848ff"/><polygon points="627.3,475.9 639.9,477 639.4,466.5 626.4,465.4" fill="#4343ff"/><polygon points="626.4,465.4 639.4,466.5 638.4,455.9 625.1,454.9" fill="#3030ff"/><polygon points="625.1,454.9 638.4,455.9 636.9,445.3 623.5,444.3" fill="#3535ff"/><polygon points="623.5,444.3 636.9,445.3 635.1,434.7 621.5,433.8" fill="#2e2eff"/><polygon points="621.5,433.8 635.1,434.7 633.1,424.2 619.4,423.3" fill="#2626ff"/><polygon points="619.4,423.3 633.1,424.2 630.8,413.6 617.1,412.8" fill="#1e1eff"/><polygon points="617.1,412.8 630.8,413.6 628.3,403 614.6,402.3" fill="#1c1cff"/><polygon points="614.6,402.3 628.3,403 625.7,392.4 612,391.7" fill="#1313ff"/><polygon points="612,391.7 625.7,392.4 622.9,381.9 609.3,381.2" fill="#2121ff"/><polygon points="630.3,529.7 638.2,531.8 643.6,521.3 634.4,519.2" fill="#e9e9ff"/><polygon points="634.4,519.2 643.6,521.3 647.5,510.8 637.2,508.7" fill="#9e9eff"/><polygon points="637.2,508.7 647.5,510.8 650.2,500.2 638.9,498.2" fill="#6060ff"/><polygon points="638.9,498.2 650.2,500.2 651.7,489.6 639.8,487.6" fill="#4242ff"/><polygon points="639.8,487.6 651.7,489.6 652.3,479 639.9,477" fill="#2d2dff"/><polygon points="639.9,477 652.3,479 652.2,468.3 639.4,466.5" fill="#3737ff"/><polygon points="639.4,466.5 652.2,468.3 651.5,457.6 638.4,455.9" fill="#2d2dff"/><polygon points="638.4,455.9 651.5,457.6 650.3,447 636.9,445.3" fill="#2828ff"/><polygon points="636.9,445.3 650.3,447 648.6,436.3 635.1,434.7" fill="#1818ff"/><polygon points="635.1,434.7 648.6,436.3 646.6,425.6 633.1,424.2" fill="#2020ff"/><polygon points="633.1,424.2 646.6,425.6 644.4,414.9 630.8,413.6" fill="#1212ff"/><polygon points="630.8,413.6 644.4,414.9 641.9,404.3 628.3,403" fill="#1717ff"/><polygon points="628.3,403 641.9,404.3 639.2,393.6 625.7,392.4" fill="#1313ff"/><polygon points="625.7,392.4 639.2,393.6 636.4,383 622.9,381.9" fill="#2222ff"/><polygon points="638.2,531.8 645.8,534.8 652.6,524.3 643.6,521.3" fill="#dadaff"/><polygon points="643.6,521.3 652.6,524.3 657.6,513.7 647.5,510.8" fill="#aaaaff"/><polygon points="647.5,510.8 657.6,513.7 661.1,503.1 650.2,500.2" fill="#5252ff"/><polygon points="650.2,500.2 661.1,503.1 663.3,492.4 651.7,489.6" fill="#3c3cff"/><polygon points="651.7,489.6 663.3,492.4 664.5,481.6 652.3,479" fill="#3232ff"/><polygon points="652.3,479 664.5,481.6 664.8,470.8 652.2,468.3" fill="#2f2fff"/><polygon points="652.2,468.3 664.8,470.8 664.4,460 651.5,457.6" fill="#2121ff"/><polygon points="651.5,457.6 664.4,460 663.4,449.2 650.3,447" fill="#2c2cff"/><polygon points="650.3,447 663.4,449.2 661.9,438.4 648.6,436.3" fill="#2b2bff"/><polygon points="648.6,436.3 661.9,438.4 660,427.6 646.6,425.6" fill="#2323ff"/><polygon points="646.6,425.6 660,427.6 657.8,416.8 644.4,414.9" fill="#2424ff"/><polygon points="644.4,414.9 657.8,416.8 655.3,406 641.9,404.3" fill="#1d1dff"/><polygon points="641.9,404.3 655.3,406 652.6,395.2 639.2,393.6" fill="#1212ff"/><polygon points="639.2,393.6 652.6,395.2 649.8,384.5 636.4,383" fill="#1919ff"/><polygon points="645.8,534.8 653.1,538.5 661.3,528 652.6,524.3" fill="#e6e6ff"/><polygon points="652.6,524.3 661.3,528 667.4,517.4 657.6,513.7" fill="#a1a1ff"/><polygon points="657.6,513.7 667.4,517.4 671.7,506.7 661.1,503.1" fill="#5050ff"/><polygon points="661.1,503.1 671.7,506.7 674.7,495.9 663.3,492.4" fill="#3a3aff"/><polygon points="663.3,492.4 674.7,495.9 676.4,485 664.5,481.6" fill="#2f2fff"/><polygon points="664.5,481.6 676.4,485 677.1,474 664.8,470.8" fill="#2b2bff"/><polygon points="664.8,470.8 677.1,474 677,463.1 664.4,460" fill="#1c1cff"/><polygon points="664.4,460 677,463.1 676.2,452.1 663.4,449.2" fill="#2a2aff"/><polygon points="663.4,449.2 676.2,452.1 674.9,441.1 661.9,438.4" fill="#2424ff"/><polygon points="661.9,438.4 674.9,441.1 673.1,430.2 660,427.6" fill="#2424ff"/><polygon points="660,427.6 673.1,430.2 671,419.2 657.8,416.8" fill="#1818ff"/><polygon points="657.8,416.8 671,419.2 668.5,408.2 655.3,406" fill="#1717ff"/><polygon points="655.3,406 668.5,408.2 665.9,397.3 652.6,395.2" fill="#1919ff"/><polygon points="652.6,395.2 665.9,397.3 663,386.4 649.8,384.5" fill="#1a1aff"/><polygon points="653.1,538.5 660,543 669.5,532.5 661.3,528" fill="#b1b1ff"/><polygon points="661.3,528 669.5,532.5 676.7,521.8 667.4,517.4" fill="#6262ff"/><polygon points="667.4,517.4 676.7,521.8 682,511 671.7,506.7" fill="#4747ff"/><polygon points="671.7,506.7 682,511 685.6,500.1 674.7,495.9" fill="#3838ff"/><polygon points="674.7,495.9 685.6,500.1 687.9,489 676.4,485" fill="#2323ff"/><polygon points="676.4,485 687.9,489 689.1,477.9 677.1,474" fill="#2929ff"/><polygon points="677.1,474 689.1,477.9 689.3,466.7 677,463.1" fill="#2626ff"/><polygon points="677,463.1 689.3,466.7 688.8,455.6 676.2,452.1" fill="#1717ff"/><polygon points="676.2,452.1 688.8,455.6 687.6,444.4 674.9,441.1" fill="#2121ff"/><polygon points="674.9,441.1 687.6,444.4 686,433.2 673.1,430.2" fill="#1a1aff"/><polygon points="673.1,430.2 686,433.2 683.9,422 671,419.2" fill="#1212ff"/><polygon points="671,419.2 683.9,422 681.5,410.9 668.5,408.2" fill="#0e0eff"/><polygon points="668.5,408.2 681.5,410.9 678.8,399.8 665.9,397.3" fill="#0f0fff"/><polygon points="665.9,397.3 678.8,399.8 676,388.7 663,386.4" fill="#0f0fff"/><polygon points="660,543 666.3,548.1 677.2,537.7 669.5,532.5" fill="#6565ff"/><polygon points="669.5,532.5 677.2,537.7 685.5,527 676.7,521.8" fill="#5c5cff"/><polygon points="676.7,521.8 685.5,527 691.7,516 682,511" fill="#4949ff"/><polygon points="682,511 691.7,516 696,504.9 685.6,500.1" fill="#3a3aff"/><polygon points="685.6,500.1 696,504.9 698.9,493.7 687.9,489" fill="#2c2cff"/><polygon points="687.9,489 698.9,493.7 700.5,482.3 689.1,477.9" fill="#1e1eff"/><polygon points="689.1,477.9 700.5,482.3 701.1,471 689.3,466.7" fill="#2d2dff"/><polygon points="689.3,466.7 701.1,471 700.9,459.6 688.8,455.6" fill="#1616ff"/><polygon points="688.8,455.6 700.9,459.6 699.9,448.2 687.6,444.4" fill="#2020ff"/><polygon points="687.6,444.4 699.9,448.2 698.4,436.7 686,433.2" fill="#1c1cff"/><polygon points="686,433.2 698.4,436.7 696.5,425.3 683.9,422" fill="#1d1dff"/><polygon points="683.9,422 696.5,425.3 694.1,414 681.5,410.9" fill="#1111ff"/><polygon points="681.5,410.9 694.1,414 691.5,402.6 678.8,399.8" fill="#1f1fff"/><polygon points="678.8,399.8 691.5,402.6 688.7,391.3 676,388.7" fill="#1515ff"/><polygon points="666.3,548.1 672.1,553.9 684.3,543.5 677.2,537.7" fill="#5252ff"/><polygon points="677.2,537.7 684.3,543.5 693.7,532.7 685.5,527" fill="#4c4cff"/><polygon points="685.5,527 693.7,532.7 700.8,521.6 691.7,516" fill="#4949ff"/><polygon points="691.7,516 700.8,521.6 705.9,510.3 696,504.9" fill="#2e2eff"/><polygon points="696,504.9 705.9,510.3 709.4,498.9 698.9,493.7" fill="#2929ff"/><polygon points="698.9,493.7 709.4,498.9 711.5,487.3 700.5,482.3" fill="#2f2fff"/><polygon points="700.5,482.3 711.5,487.3 712.5,475.7 701.1,471" fill="#2a2aff"/><polygon points="701.1,471 712.5,475.7 712.6,464.1 700.9,459.6" fill="#2020ff"/><polygon points="700.9,459.6 712.6,464.1 711.9,452.4 699.9,448.2" fill="#2a2aff"/><polygon points="699.9,448.2 711.9,452.4 710.5,440.7 698.4,436.7" fill="#2525ff"/><polygon points="698.4,436.7 710.5,440.7 708.7,429 696.5,425.3" fill="#1e1eff"/><polygon points="696.5,425.3 708.7,429 706.5,417.4 694.1,414" fill="#1515ff"/><polygon points="694.1,414 706.5,417.4 703.9,405.8 691.5,402.6" fill="#1d1dff"/><polygon points="691.5,402.6 703.9,405.8 701.1,394.3 688.7,391.3" fill="#1c1cff"/><polygon points="688.7,391.3 701.1,394.3 698.1,382.8 685.7,380" fill="#2828ff"/><polygon points="672.1,553.9 677.2,560.3 690.8,549.9 684.3,543.5" fill="#4949ff"/><polygon points="684.3,543.5 690.8,549.9 701.4,539 693.7,532.7" fill="#4747ff"/><polygon points="693.7,532.7 701.4,539 709.4,527.8 700.8,521.6" fill="#3232ff"/><polygon points="700.8,521.6 709.4,527.8 715.3,516.3 705.9,510.3" fill="#3232ff"/><polygon points="690.8,549.9 696.6,556.8 708.3,545.9 701.4,539" fill="#2e2eff"/><path d="M539.7,582.1 524.9,571.8 512.2,560.7 501.3,549 492,536.8 484,524.3 477.1,511.6 471.1,498.8 465.9,485.9 461.2,472.9 457.1,459.9 453.4,447 450.1,434.2 447,421.4 444.2,408.7 441.5,396.1 439,383.7 436.6,371.3 434.2,359.1 431.9,346.9 429.7,334.9 M542.6,574.5 529.1,564.1 517.6,553.1 507.7,541.6 499.3,529.6 492,517.4 485.7,505.1 480.2,492.5 475.3,479.9 471.1,467.3 467.3,454.7 463.8,442.1 460.7,429.6 457.8,417.2 455.1,404.8 452.6,392.5 450.2,380.3 447.8,368.2 445.6,356.2 443.3,344.3 441.1,332.5 M546.3,567.2 534.2,556.8 523.8,545.9 514.9,534.5 507.2,522.8 500.6,510.9 494.9,498.8 489.8,486.6 485.4,474.3 481.5,462 477.9,449.7 474.7,437.5 471.8,425.3 469.1,413.1 466.5,401.1 464,389 461.7,377.1 459.4,365.3 457.2,353.5 455,341.8 452.8,330.2 M550.8,560.3 540,549.9 530.7,539 522.7,527.8 515.9,516.3 509.9,504.7 504.7,492.8 500.1,480.9 496.1,469 492.4,457 489.1,445 486.1,433.1 483.3,421.2 480.7,409.3 478.2,397.5 475.8,385.8 473.5,374.1 471.3,362.5 469.1,351 466.9,339.5 464.7,328.1 M555.9,553.9 546.4,543.5 538.3,532.7 531.3,521.6 525.2,510.3 519.8,498.9 515.2,487.3 511,475.7 507.3,464.1 503.9,452.4 500.8,440.7 497.9,429 495.3,417.4 492.7,405.8 490.3,394.3 488,382.8 485.7,371.3 483.4,359.9 481.2,348.6 479,337.3 476.9,326.1 M561.7,548.1 553.6,537.7 546.5,527 540.4,516 535.1,504.9 530.4,493.7 526.1,482.3 522.4,471 518.9,459.6 515.8,448.2 512.9,436.7 510.2,425.3 507.6,414 505.1,402.6 502.7,391.3 500.4,380 498.1,368.8 495.9,357.6 493.6,346.5 491.4,335.4 489.2,324.3 M568,543 561.3,532.5 555.4,521.8 550.2,511 545.5,500.1 541.4,489 537.6,477.9 534.2,466.7 531.1,455.6 528.1,444.4 525.4,433.2 522.8,422 520.2,410.9 517.8,399.8 515.4,388.7 513.1,377.6 510.8,366.5 508.5,355.5 506.2,344.5 504,333.6 501.7,322.7 M574.9,538.5 569.5,528 564.7,517.4 560.4,506.7 556.4,495.9 552.9,485 549.6,474 546.5,463.1 543.6,452.1 540.8,441.1 538.2,430.2 535.7,419.2 533.2,408.2 530.8,397.3 528.4,386.4 526,375.5 523.7,364.6 521.4,353.7 519,342.9 516.7,332.1 514.4,321.3 M582.2,534.8 578.1,524.3 574.4,513.7 571,503.1 567.8,492.4 564.7,481.6 561.9,470.8 559.1,460 556.5,449.2 553.9,438.4 551.3,427.6 548.9,416.8 546.4,406 544,395.2 541.6,384.5 539.2,373.7 536.8,363 534.4,352.2 532,341.5 529.6,330.8 527.2,320.1 M589.8,531.8 587.1,521.3 584.5,510.8 581.9,500.2 579.4,489.6 576.9,479 574.5,468.3 572,457.6 569.6,447 567.1,436.3 564.7,425.6 562.3,414.9 559.8,404.3 557.4,393.6 555,383 552.5,372.3 550,361.7 547.6,351 545.1,340.4 542.6,329.8 540.1,319.2 M597.7,529.7 596.4,519.2 594.9,508.7 593.2,498.2 591.3,487.6 589.4,477 587.3,466.5 585.1,455.9 582.9,445.3 580.6,434.7 578.3,424.2 575.9,413.6 573.4,403 571,392.4 568.5,381.9 565.9,371.3 563.4,360.7 560.8,350.2 558.3,339.6 555.7,329.1 553.1,318.5 M605.8,528.4 605.8,517.9 605.4,507.4 604.6,496.9 603.4,486.4 602,475.9 600.3,465.4 598.4,454.9 596.4,444.3 594.2,433.8 591.9,423.3 589.6,412.8 587.1,402.3 584.6,391.7 582.1,381.2 579.5,370.7 576.8,360.2 574.2,349.7 571.5,339.2 568.8,328.6 566.1,318.1 M614,528 615.4,517.5 616,507 616.1,496.5 615.6,486 614.6,475.5 613.3,465 611.8,454.5 609.9,444 607.9,433.5 605.7,423 603.3,412.5 600.9,402 598.3,391.5 595.7,381 593,370.5 590.3,360 587.6,349.5 584.8,339 582,328.5 579.2,318 M622.2,528.4 624.9,517.9 626.6,507.4 627.5,496.9 627.7,486.4 627.3,475.9 626.4,465.4 625.1,454.9 623.5,444.3 621.5,433.8 619.4,423.3 617.1,412.8 614.6,402.3 612,391.7 609.3,381.2 606.6,370.7 603.8,360.2 600.9,349.7 598.1,339.2 595.2,328.6 592.3,318.1 M630.3,529.7 634.4,519.2 637.2,508.7 638.9,498.2 639.8,487.6 639.9,477 639.4,466.5 638.4,455.9 636.9,445.3 635.1,434.7 633.1,424.2 630.8,413.6 628.3,403 625.7,392.4 622.9,381.9 620.1,371.3 617.2,360.7 614.3,350.2 611.3,339.6 608.3,329.1 605.3,318.5 M638.2,531.8 643.6,521.3 647.5,510.8 650.2,500.2 651.7,489.6 652.3,479 652.2,468.3 651.5,457.6 650.3,447 648.6,436.3 646.6,425.6 644.4,414.9 641.9,404.3 639.2,393.6 636.4,383 633.6,372.3 630.6,361.7 627.6,351 624.5,340.4 621.4,329.8 618.3,319.2 M645.8,534.8 652.6,524.3 657.6,513.7 661.1,503.1 663.3,492.4 664.5,481.6 664.8,470.8 664.4,460 663.4,449.2 661.9,438.4 660,427.6 657.8,416.8 655.3,406 652.6,395.2 649.8,384.5 646.9,373.7 643.8,363 640.7,352.2 637.6,341.5 634.4,330.8 631.3,320.1 M653.1,538.5 661.3,528 667.4,517.4 671.7,506.7 674.7,495.9 676.4,485 677.1,474 677,463.1 676.2,452.1 674.9,441.1 673.1,430.2 671,419.2 668.5,408.2 665.9,397.3 663,386.4 660,375.5 656.9,364.6 653.8,353.7 650.6,342.9 647.3,332.1 644.1,321.3 M660,543 669.5,532.5 676.7,521.8 682,511 685.6,500.1 687.9,489 689.1,477.9 689.3,466.7 688.8,455.6 687.6,444.4 686,433.2 683.9,422 681.5,410.9 678.8,399.8 676,388.7 673,377.6 669.8,366.5 666.6,355.5 663.4,344.5 660,333.6 656.7,322.7 M666.3,548.1 677.2,537.7 685.5,527 691.7,516 696,504.9 698.9,493.7 700.5,482.3 701.1,471 700.9,459.6 699.9,448.2 698.4,436.7 696.5,425.3 694.1,414 691.5,402.6 688.7,391.3 685.7,380 682.5,368.8 679.3,357.6 676,346.5 672.6,335.4 669.2,324.3 M672.1,553.9 684.3,543.5 693.7,532.7 700.8,521.6 705.9,510.3 709.4,498.9 711.5,487.3 712.5,475.7 712.6,464.1 711.9,452.4 710.5,440.7 708.7,429 706.5,417.4 703.9,405.8 701.1,394.3 698.1,382.8 694.9,371.3 691.7,359.9 688.4,348.6 685,337.3 681.6,326.1 M677.2,560.3 690.8,549.9 701.4,539 709.4,527.8 715.3,516.3 719.4,504.7 722,492.8 723.4,480.9 723.8,469 723.3,457 722.2,445 720.5,433.1 718.4,421.2 715.9,409.3 713.2,397.5 710.2,385.8 707.1,374.1 703.8,362.5 700.5,351 697.1,339.5 693.7,328.1 M681.7,567.2 696.6,556.8 708.3,545.9 717.2,534.5 723.9,522.8 728.7,510.9 731.8,498.8 733.7,486.6 734.4,474.3 734.3,462 733.4,449.7 731.9,437.5 729.9,425.3 727.6,413.1 724.9,401.1 722,389 718.9,377.1 715.7,365.3 712.4,353.5 709,341.8 705.6,330.2 M685.4,574.5 701.6,564.1 714.5,553.1 724.4,541.6 731.9,529.6 737.3,517.4 741,505.1 743.3,492.5 744.5,479.9 744.7,467.3 744.1,454.7 742.8,442.1 741,429.6 738.8,417.2 736.3,404.8 733.5,392.5 730.5,380.3 727.3,368.2 724,356.2 720.7,344.3 717.3,332.5 M688.3,582.1 705.9,571.8 719.9,560.7 730.8,549 739.1,536.8 745.2,524.3 749.6,511.6 752.4,498.8 754,485.9 754.5,472.9 754.2,459.9 753.2,447 751.6,434.2 749.6,421.4 747.2,408.7 744.5,396.1 741.6,383.7 738.6,371.3 735.4,359.1 732.1,346.9 728.7,334.9 M539.7,582.1 542.6,574.5 546.3,567.2 550.8,560.3 555.9,553.9 561.7,548.1 568,543 574.9,538.5 582.2,534.8 589.8,531.8 597.7,529.7 605.8,528.4 614,528 622.2,528.4 630.3,529.7 638.2,531.8 645.8,534.8 653.1,538.5 660,543 666.3,548.1 672.1,553.9 677.2,560.3 681.7,567.2 685.4,574.5 688.3,582.1 M524.9,571.8 529.1,564.1 534.2,556.8 540,549.9 546.4,543.5 553.6,537.7 561.3,532.5 569.5,528 578.1,524.3 587.1,521.3 596.4,519.2 605.8,517.9 615.4,517.5 624.9,517.9 634.4,519.2 643.6,521.3 652.6,524.3 661.3,528 669.5,532.5 677.2,537.7 684.3,543.5 690.8,549.9 696.6,556.8 701.6,564.1 705.9,571.8 M512.2,560.7 517.6,553.1 523.8,545.9 530.7,539 538.3,532.7 546.5,527 555.4,521.8 564.7,517.4 574.4,513.7 584.5,510.8 594.9,508.7 605.4,507.4 616,507 626.6,507.4 637.2,508.7 647.5,510.8 657.6,513.7 667.4,517.4 676.7,521.8 685.5,527 693.7,532.7 701.4,539 708.3,545.9 714.5,553.1 719.9,560.7 M501.3,549 507.7,541.6 514.9,534.5 522.7,527.8 531.3,521.6 540.4,516 550.2,511 560.4,506.7 571,503.1 581.9,500.2 593.2,498.2 604.6,496.9 616.1,496.5 627.5,496.9 638.9,498.2 650.2,500.2 661.1,503.1 671.7,506.7 682,511 691.7,516 700.8,521.6 709.4,527.8 717.2,534.5 724.4,541.6 730.8,549 M492,536.8 499.3,529.6 507.2,522.8 515.9,516.3 525.2,510.3 535.1,504.9 545.5,500.1 556.4,495.9 567.8,492.4 579.4,489.6 591.3,487.6 603.4,486.4 615.6,486 627.7,486.4 639.8,487.6 651.7,489.6 663.3,492.4 674.7,495.9 685.6,500.1 696,504.9 705.9,510.3 715.3,516.3 723.9,522.8 731.9,529.6 739.1,536.8 M484,524.3 492,517.4 500.6,510.9 509.9,504.7 519.8,498.9 530.4,493.7 541.4,489 552.9,485 564.7,481.6 576.9,479 589.4,477 602,475.9 614.6,475.5 627.3,475.9 639.9,477 652.3,479 664.5,481.6 676.4,485 687.9,489 698.9,493.7 709.4,498.9 719.4,504.7 728.7,510.9 737.3,517.4 745.2,524.3 M477.1,511.6 485.7,505.1 494.9,498.8 504.7,492.8 515.2,487.3 526.1,482.3 537.6,477.9 549.6,474 561.9,470.8 574.5,468.3 587.3,466.5 600.3,465.4 613.3,465 626.4,465.4 639.4,466.5 652.2,468.3 664.8,470.8 677.1,474 689.1,477.9 700.5,482.3 711.5,487.3 722,492.8 731.8,498.8 741,505.1 749.6,511.6 M471.1,498.8 480.2,492.5 489.8,486.6 500.1,480.9 511,475.7 522.4,471 534.2,466.7 546.5,463.1 559.1,460 572,457.6 585.1,455.9 598.4,454.9 611.8,454.5 625.1,454.9 638.4,455.9 651.5,457.6 664.4,460 677,463.1 689.3,466.7 701.1,471 712.5,475.7 723.4,480.9 733.7,486.6 743.3,492.5 752.4,498.8 M465.9,485.9 475.3,479.9 485.4,474.3 496.1,469 507.3,464.1 518.9,459.6 531.1,455.6 543.6,452.1 556.5,449.2 569.6,447 582.9,445.3 596.4,444.3 609.9,444 623.5,444.3 636.9,445.3 650.3,447 663.4,449.2 676.2,452.1 688.8,455.6 700.9,459.6 712.6,464.1 723.8,469 734.4,474.3 744.5,479.9 754,485.9 M461.2,472.9 471.1,467.3 481.5,462 492.4,457 503.9,452.4 515.8,448.2 528.1,444.4 540.8,441.1 553.9,438.4 567.1,436.3 580.6,434.7 594.2,433.8 607.9,433.5 621.5,433.8 635.1,434.7 648.6,436.3 661.9,438.4 674.9,441.1 687.6,444.4 699.9,448.2 711.9,452.4 723.3,457 734.3,462 744.7,467.3 754.5,472.9 M457.1,459.9 467.3,454.7 477.9,449.7 489.1,445 500.8,440.7 512.9,436.7 525.4,433.2 538.2,430.2 551.3,427.6 564.7,425.6 578.3,424.2 591.9,423.3 605.7,423 619.4,423.3 633.1,424.2 646.6,425.6 660,427.6 673.1,430.2 686,433.2 698.4,436.7 710.5,440.7 722.2,445 733.4,449.7 744.1,454.7 754.2,459.9 M453.4,447 463.8,442.1 474.7,437.5 486.1,433.1 497.9,429 510.2,425.3 522.8,422 535.7,419.2 548.9,416.8 562.3,414.9 575.9,413.6 589.6,412.8 603.3,412.5 617.1,412.8 630.8,413.6 644.4,414.9 657.8,416.8 671,419.2 683.9,422 696.5,425.3 708.7,429 720.5,433.1 731.9,437.5 742.8,442.1 753.2,447 M450.1,434.2 460.7,429.6 471.8,425.3 483.3,421.2 495.3,417.4 507.6,414 520.2,410.9 533.2,408.2 546.4,406 559.8,404.3 573.4,403 587.1,402.3 600.9,402 614.6,402.3 628.3,403 641.9,404.3 655.3,406 668.5,408.2 681.5,410.9 694.1,414 706.5,417.4 718.4,421.2 729.9,425.3 741,429.6 751.6,434.2 M447,421.4 457.8,417.2 469.1,413.1 480.7,409.3 492.7,405.8 505.1,402.6 517.8,399.8 530.8,397.3 544,395.2 557.4,393.6 571,392.4 584.6,391.7 598.3,391.5 612,391.7 625.7,392.4 639.2,393.6 652.6,395.2 665.9,397.3 678.8,399.8 691.5,402.6 703.9,405.8 715.9,409.3 727.6,413.1 738.8,417.2 749.6,421.4 M444.2,408.7 455.1,404.8 466.5,401.1 478.2,397.5 490.3,394.3 502.7,391.3 515.4,388.7 528.4,386.4 541.6,384.5 555,383 568.5,381.9 582.1,381.2 595.7,381 609.3,381.2 622.9,381.9 636.4,383 649.8,384.5 663,386.4 676,388.7 688.7,391.3 701.1,394.3 713.2,397.5 724.9,401.1 736.3,404.8 747.2,408.7 M441.5,396.1 452.6,392.5 464,389 475.8,385.8 488,382.8 500.4,380 513.1,377.6 526,375.5 539.2,373.7 552.5,372.3 565.9,371.3 579.5,370.7 593,370.5 606.6,370.7 620.1,371.3 633.6,372.3 646.9,373.7 660,375.5 673,377.6 685.7,380 698.1,382.8 710.2,385.8 722,389 733.5,392.5 744.5,396.1 M439,383.7 450.2,380.3 461.7,377.1 473.5,374.1 485.7,371.3 498.1,368.8 510.8,366.5 523.7,364.6 536.8,363 550,361.7 563.4,360.7 576.8,360.2 590.3,360 603.8,360.2 617.2,360.7 630.6,361.7 643.8,363 656.9,364.6 669.8,366.5 682.5,368.8 694.9,371.3 707.1,374.1 718.9,377.1 730.5,380.3 741.6,383.7 M436.6,371.3 447.8,368.2 459.4,365.3 471.3,362.5 483.4,359.9 495.9,357.6 508.5,355.5 521.4,353.7 534.4,352.2 547.6,351 560.8,350.2 574.2,349.7 587.6,349.5 600.9,349.7 614.3,350.2 627.6,351 640.7,352.2 653.8,353.7 666.6,355.5 679.3,357.6 691.7,359.9 703.8,362.5 715.7,365.3 727.3,368.2 738.6,371.3 M434.2,359.1 445.6,356.2 457.2,353.5 469.1,351 481.2,348.6 493.6,346.5 506.2,344.5 519,342.9 532,341.5 545.1,340.4 558.3,339.6 571.5,339.2 584.8,339 598.1,339.2 611.3,339.6 624.5,340.4 637.6,341.5 650.6,342.9 663.4,344.5 676,346.5 688.4,348.6 700.5,351 712.4,353.5 724,356.2 735.4,359.1 M431.9,346.9 443.3,344.3 455,341.8 466.9,339.5 479,337.3 491.4,335.4 504,333.6 516.7,332.1 529.6,330.8 542.6,329.8 555.7,329.1 568.8,328.6 582,328.5 595.2,328.6 608.3,329.1 621.4,329.8 634.4,330.8 647.3,332.1 660,333.6 672.6,335.4 685,337.3 697.1,339.5 709,341.8 720.7,344.3 732.1,346.9 M429.7,334.9 441.1,332.5 452.8,330.2 464.7,328.1 476.9,326.1 489.2,324.3 501.7,322.7 514.4,321.3 527.2,320.1 540.1,319.2 553.1,318.5 566.1,318.1 579.2,318 592.3,318.1 605.3,318.5 618.3,319.2 631.3,320.1 644.1,321.3 656.7,322.7 669.2,324.3 681.6,326.1 693.7,328.1 705.6,330.2 717.3,332.5 728.7,334.9" fill="none" stroke="#000" stroke-opacity="0.75" stroke-width="0.7" /></g>
<path d="M578.8,528.4 L589,524.6 L601.9,528.4 L614.7,529.7 L627.5,527.1 L637.7,523.3 L646.7,524.6" fill="none" stroke="#F4A8A8" stroke-width="1.6" stroke-opacity="0.7"/>
<rect x="526.80" y="393.70" width="174.90" height="164.70" fill="none" stroke="#000" stroke-width="2.4"/>
<text transform="translate(531.0,423.2) scale(1.08,1)" font-size="32" font-weight="bold" fill="#000" stroke="#fff" stroke-width="4" paint-order="stroke" stroke-linejoin="round">h</text>
<text transform="translate(531.0,423.2) scale(1.08,1)" font-size="32" font-weight="bold" fill="#000" stroke="#000" stroke-width="1.1">h</text>
<rect x="535.20" y="547.70" width="48.60" height="4.50" fill="#000" />
<rect x="729.60" y="392.50" width="183.50" height="167.70" fill="#D6E2EC" />
<path d="M739.3,450.7 C743.5,438.8 751.2,423.0 760.8,414.9 C770.3,406.8 784.7,403.8 796.6,402.3 C808.5,400.8 821.0,401.7 832.4,405.9 C843.8,410.1 854.9,419.0 864.7,427.4 C874.6,435.8 886.4,444.7 891.5,456.0 C896.6,467.3 896.0,484.3 895.1,495.4 C894.2,506.4 891.2,515.4 886.1,522.3 C881.0,529.2 873.7,533.3 864.7,536.6 C855.8,539.9 843.1,540.8 832.4,542.0 C821.6,543.2 810.6,545.0 800.2,543.8 C789.8,542.6 778.8,539.9 769.8,534.8 C760.8,529.7 752.2,521.3 746.5,513.3 C740.8,505.2 736.9,496.9 735.7,486.5 C734.5,476.1 735.1,462.6 739.3,450.7 Z" fill="#E8ECEE"/>
<path d="M739.3,450.7 C743.5,438.8 751.2,423.0 760.8,414.9 C770.3,406.8 784.7,403.8 796.6,402.3 C808.5,400.8 821.0,401.7 832.4,405.9 C843.8,410.1 854.9,419.0 864.7,427.4 C874.6,435.8 886.4,444.7 891.5,456.0 C896.6,467.3 896.0,484.3 895.1,495.4 C894.2,506.4 891.2,515.4 886.1,522.3 C881.0,529.2 873.7,533.3 864.7,536.6 C855.8,539.9 843.1,540.8 832.4,542.0 C821.6,543.2 810.6,545.0 800.2,543.8 C789.8,542.6 778.8,539.9 769.8,534.8 C760.8,529.7 752.2,521.3 746.5,513.3 C740.8,505.2 736.9,496.9 735.7,486.5 C734.5,476.1 735.1,462.6 739.3,450.7 Z" fill="none" stroke="#B8A898" stroke-width="6" stroke-opacity="0.25" filter="url(#blur1)"/>
<g fill="none" stroke="#A89480" stroke-opacity="0.4" stroke-width="1.4" filter="url(#blur1)"><path d="M765,425 C790,418 815,418 840,425 C860,432 865,445 862,455"/><path d="M785,440 C800,450 815,462 830,450 C845,440 852,452 855,460"/><path d="M760,470 C772,462 785,465 792,475 C800,490 808,505 802,520"/><path d="M755,500 C758,515 768,528 780,535"/><path d="M868,455 C880,470 884,495 878,515"/><path d="M840,470 C848,490 850,510 842,530"/></g>
<ellipse cx="806" cy="528" rx="20" ry="14" fill="#B8ACA8" fill-opacity="0.35" filter="url(#blur6)"/>
<ellipse cx="806" cy="541" rx="9" ry="3" fill="#A08878" fill-opacity="0.45" filter="url(#blur1)"/>
<path d="M760,415 C790,398 830,400 862,425" fill="none" stroke="#B8A898" stroke-width="8" stroke-opacity="0.25" filter="url(#blur3)"/>
<rect x="730.80" y="393.70" width="181.10" height="165.30" fill="none" stroke="#000" stroke-width="2.4"/>
<text transform="translate(743.50,421.80) scale(1.08,1)" font-size="32" font-weight="bold" fill="#000" stroke="#000" stroke-width="1.1">i</text>
<rect x="736.90" y="547.70" width="33.10" height="4.40" fill="#000" />
<text x="903.50" y="550.60" font-size="20" text-anchor="end" font-weight="normal" font-style="italic" fill="#4A4C88" >SNAI2</text>
<rect x="945.00" y="393.50" width="236.70" height="164.80" fill="#000" />
<g filter="url(#jetn)"><path d="M957.1,485.4 C957.8,479.7 959.4,471.2 962.2,464.9 C965.1,458.6 969.4,452.9 974.2,447.8 C979.0,442.7 985.0,438.5 991.2,434.2 C997.5,429.9 1004.6,425.2 1011.7,422.2 C1018.8,419.2 1026.0,417.6 1034.0,416.2 C1042.0,414.8 1051.1,413.5 1059.6,413.7 C1068.1,413.9 1076.7,415.1 1085.2,417.1 C1093.7,419.1 1102.8,421.9 1110.8,425.6 C1118.8,429.3 1126.5,434.5 1133.0,439.3 C1139.5,444.1 1145.2,449.0 1150.1,454.7 C1154.9,460.4 1159.2,466.9 1162.1,473.5 C1164.9,480.1 1166.1,488.0 1167.2,494.0 C1168.3,500.0 1169.2,503.9 1168.9,509.3 C1168.6,514.7 1169.5,522.7 1165.5,526.4 C1161.5,530.1 1151.3,530.6 1145.0,531.5 C1138.7,532.4 1133.6,531.8 1127.9,531.5 C1122.2,531.2 1117.3,530.6 1110.8,529.8 C1104.2,528.9 1095.7,527.7 1088.6,526.4 C1081.5,525.1 1074.4,523.0 1068.1,522.1 C1061.8,521.2 1055.8,521.1 1051.0,521.3 C1046.2,521.4 1043.4,521.7 1039.1,523.0 C1034.8,524.3 1030.5,527.4 1025.4,529.0 C1020.3,530.6 1014.0,532.1 1008.3,532.4 C1002.6,532.7 996.9,532.3 991.2,530.7 C985.5,529.1 978.8,526.3 974.2,523.0 C969.7,519.7 966.6,515.0 963.9,511.0 C961.2,507.0 959.0,503.4 957.9,499.1 C956.8,494.8 956.4,491.1 957.1,485.4 Z" fill="#4A4A4A"/><g clip-path="url(#clipJ)"><ellipse cx="1062" cy="480" rx="72" ry="38" fill="#343434" filter="url(#blur10)"/><ellipse cx="1062" cy="478" rx="48" ry="24" fill="#2C2C2C" filter="url(#blur6)"/><ellipse cx="1008" cy="440" rx="13" ry="10" fill="#707070" filter="url(#blur6)"/><ellipse cx="1052" cy="423" rx="22" ry="6" fill="#5A5A5A" filter="url(#blur3)"/><ellipse cx="1145" cy="489" rx="6" ry="6" fill="#6A6A6A" filter="url(#blur3)"/><ellipse cx="975" cy="510" rx="12" ry="12" fill="#585858" filter="url(#blur6)"/><path d="M1037,521 C1050,517 1070,519 1092,526" stroke="#8A8A8A" stroke-width="3" fill="none" filter="url(#blur1)"/><path d="M1128,500 L1120,520 L1112,528" stroke="#000" stroke-width="1" fill="none"/></g></g>
<text transform="translate(952.50,422.00) scale(1.08,1)" font-size="32" font-weight="bold" fill="#fff" stroke="#fff" stroke-width="1.1">j</text>
<path d="M1135.6,529.5 L1173.7,529.5 L1173.7,517.4 Q1154.65,520.4 1135.6,526.5 Z" fill="url(#cbj)" stroke="#fff" stroke-width="1.4"/>
<text x="1177.00" y="551.00" font-size="20" text-anchor="end" font-weight="normal" font-style="italic" fill="#fff" >GDF1</text>
<rect x="954.00" y="547.60" width="45.60" height="4.60" fill="#fff" />
<rect x="1206.30" y="390.00" width="195.60" height="169.60" fill="#fff" />
<g clip-path="url(#clipK)"><path d="M1209.2,447.2 C1212.4,430.6 1220.4,435.1 1228.4,430.0 C1236.4,424.9 1244.4,419.7 1257.2,416.5 C1270.0,413.3 1290.9,410.1 1305.3,410.7 C1319.7,411.3 1332.5,415.2 1343.7,420.3 C1354.9,425.4 1364.5,434.1 1372.5,441.5 C1380.5,448.9 1387.2,456.8 1391.7,464.5 C1396.2,472.2 1398.8,478.0 1399.4,487.6 C1400.1,497.2 1399.1,514.5 1395.6,522.2 C1392.1,529.9 1385.3,531.0 1378.3,533.7 C1371.2,536.4 1361.6,539.1 1353.3,538.5 C1345.0,537.9 1336.3,532.3 1328.3,529.9 C1320.3,527.5 1313.9,524.8 1305.3,524.1 C1296.7,523.5 1286.1,523.8 1276.5,526.0 C1266.9,528.2 1256.2,535.6 1247.6,537.5 C1238.9,539.4 1231.0,538.8 1224.6,537.5 C1218.2,536.2 1211.8,544.9 1209.2,529.9 C1206.6,514.9 1206.0,463.8 1209.2,447.2 Z" fill="#D4D4F8"/><ellipse cx="1300" cy="470" rx="70" ry="40" fill="#B0B0F2" filter="url(#blur10)"/><ellipse cx="1286" cy="466" rx="38" ry="24" fill="#6C6CEC" filter="url(#blur6)"/><ellipse cx="1338" cy="482" rx="32" ry="20" fill="#7070EC" filter="url(#blur6)"/><ellipse cx="1252" cy="480" rx="25" ry="22" fill="#9090F0" filter="url(#blur6)"/><ellipse cx="1300" cy="512" rx="18" ry="12" fill="#F4F4FC" filter="url(#blur3)"/><ellipse cx="1370" cy="480" rx="18" ry="25" fill="#A8A8F2" filter="url(#blur6)"/><ellipse cx="1310" cy="425" rx="30" ry="10" fill="#C0C0F6" filter="url(#blur6)"/><path d="M1200,412 1198.5,430.8 1197,449.7 1195.4,468.5 1193.9,487.3 1192.4,506.2 1190.9,525 1189.4,543.9 1187.9,562.8 M1204.6,410.8 1203.2,429.5 1201.7,448.3 1200.3,467.1 1198.8,485.9 1197.4,504.7 1195.9,523.6 1194.5,542.4 1193,561.2 M1209.2,409.6 1207.8,428.3 1206.4,447.1 1205.1,465.8 1203.7,484.6 1202.3,503.4 1200.9,522.1 1199.5,540.9 1198.2,559.7 M1213.8,408.4 1212.5,427.2 1211.2,445.9 1209.9,464.6 1208.6,483.3 1207.2,502.1 1205.9,520.8 1204.6,539.6 1203.3,558.3 M1218.4,407.4 1217.2,426.1 1215.9,444.7 1214.7,463.4 1213.4,482.1 1212.2,500.8 1210.9,519.5 1209.7,538.2 1208.5,557 M1223,406.4 1221.8,425 1220.7,443.7 1219.5,462.3 1218.3,481 1217.1,499.7 1216,518.3 1214.8,537 1213.6,555.7 M1227.6,405.4 1226.5,424 1225.4,442.7 1224.3,461.3 1223.2,479.9 1222.1,498.6 1221,517.2 1219.9,535.8 1218.8,554.5 M1232.2,404.5 1231.2,423.1 1230.1,441.7 1229.1,460.3 1228.1,478.9 1227,497.5 1226,516.1 1225,534.7 1223.9,553.4 M1236.8,403.7 1235.8,422.2 1234.9,440.8 1233.9,459.4 1232.9,478 1232,496.6 1231,515.1 1230,533.7 1229.1,552.3 M1241.4,402.9 1240.5,421.4 1239.6,440 1238.7,458.5 1237.8,477.1 1236.9,495.6 1236,514.2 1235.1,532.8 1234.2,551.3 M1246,402.2 1245.2,420.7 1244.3,439.2 1243.5,457.7 1242.7,476.3 1241.9,494.8 1241,513.3 1240.2,531.9 1239.4,550.4 M1250.6,401.5 1249.8,420 1249.1,438.5 1248.3,457 1247.6,475.5 1246.8,494 1246,512.6 1245.3,531.1 1244.5,549.6 M1255.2,400.9 1254.5,419.4 1253.8,437.9 1253.1,456.4 1252.4,474.9 1251.8,493.3 1251.1,511.8 1250.4,530.3 1249.7,548.8 M1259.8,400.3 1259.2,418.8 1258.6,437.3 1257.9,455.8 1257.3,474.2 1256.7,492.7 1256.1,511.2 1255.5,529.7 1254.8,548.1 M1264.4,399.9 1263.8,418.3 1263.3,436.8 1262.7,455.2 1262.2,473.7 1261.6,492.1 1261.1,510.6 1260.5,529.1 1260,547.5 M1269,399.4 1268.5,417.9 1268,436.3 1267.6,454.7 1267.1,473.2 1266.6,491.6 1266.1,510.1 1265.6,528.5 1265.1,547 M1273.6,399 1273.2,417.5 1272.8,435.9 1272.4,454.3 1271.9,472.8 1271.5,491.2 1271.1,509.6 1270.7,528.1 1270.3,546.5 M1278.2,398.7 1277.9,417.1 1277.5,435.6 1277.2,454 1276.8,472.4 1276.5,490.8 1276.1,509.3 1275.8,527.7 1275.4,546.1 M1282.8,398.5 1282.5,416.9 1282.2,435.3 1282,453.7 1281.7,472.1 1281.4,490.5 1281.1,508.9 1280.9,527.4 1280.6,545.8 M1287.4,398.3 1287.2,416.7 1287,435.1 1286.8,453.5 1286.6,471.9 1286.4,490.3 1286.2,508.7 1286,527.1 1285.7,545.5 M1292,398.1 1291.9,416.5 1291.7,434.9 1291.6,453.3 1291.4,471.7 1291.3,490.1 1291.2,508.5 1291,526.9 1290.9,545.3 M1296.6,398 1296.5,416.4 1296.5,434.8 1296.4,453.2 1296.3,471.6 1296.3,490 1296.2,508.4 1296.1,526.8 1296,545.2 M1301.2,398 1301.2,416.4 1301.2,434.8 1301.2,453.2 1301.2,471.6 1301.2,490 1301.2,508.4 1301.2,526.8 1301.2,545.2 M1305.8,398 1305.9,416.4 1305.9,434.8 1306,453.2 1306.1,471.6 1306.1,490 1306.2,508.4 1306.3,526.8 1306.4,545.2 M1310.4,398.1 1310.5,416.5 1310.7,434.9 1310.8,453.3 1311,471.7 1311.1,490.1 1311.2,508.5 1311.4,526.9 1311.5,545.3 M1315,398.3 1315.2,416.7 1315.4,435.1 1315.6,453.5 1315.8,471.9 1316,490.3 1316.2,508.7 1316.4,527.1 1316.7,545.5 M1319.6,398.5 1319.9,416.9 1320.2,435.3 1320.4,453.7 1320.7,472.1 1321,490.5 1321.3,508.9 1321.5,527.4 1321.8,545.8 M1324.2,398.7 1324.5,417.1 1324.9,435.6 1325.2,454 1325.6,472.4 1325.9,490.8 1326.3,509.3 1326.6,527.7 1327,546.1 M1328.8,399 1329.2,417.5 1329.6,435.9 1330,454.3 1330.5,472.8 1330.9,491.2 1331.3,509.6 1331.7,528.1 1332.1,546.5 M1333.4,399.4 1333.9,417.9 1334.4,436.3 1334.8,454.7 1335.3,473.2 1335.8,491.6 1336.3,510.1 1336.8,528.5 1337.3,547 M1338,399.9 1338.6,418.3 1339.1,436.8 1339.7,455.2 1340.2,473.7 1340.8,492.1 1341.3,510.6 1341.9,529.1 1342.4,547.5 M1342.6,400.3 1343.2,418.8 1343.8,437.3 1344.5,455.8 1345.1,474.2 1345.7,492.7 1346.3,511.2 1346.9,529.7 1347.6,548.1 M1347.2,400.9 1347.9,419.4 1348.6,437.9 1349.3,456.4 1350,474.9 1350.7,493.3 1351.3,511.8 1352,530.3 1352.7,548.8 M1351.8,401.5 1352.6,420 1353.3,438.5 1354.1,457 1354.8,475.5 1355.6,494 1356.4,512.6 1357.1,531.1 1357.9,549.6 M1356.4,402.2 1357.2,420.7 1358.1,439.2 1358.9,457.7 1359.7,476.3 1360.5,494.8 1361.4,513.3 1362.2,531.9 1363,550.4 M1361,402.9 1361.9,421.4 1362.8,440 1363.7,458.5 1364.6,477.1 1365.5,495.6 1366.4,514.2 1367.3,532.8 1368.2,551.3 M1365.6,403.7 1366.6,422.2 1367.5,440.8 1368.5,459.4 1369.5,478 1370.4,496.6 1371.4,515.1 1372.4,533.7 1373.3,552.3 M1370.2,404.5 1371.2,423.1 1372.3,441.7 1373.3,460.3 1374.3,478.9 1375.4,497.5 1376.4,516.1 1377.4,534.7 1378.5,553.4 M1374.8,405.4 1375.9,424 1377,442.7 1378.1,461.3 1379.2,479.9 1380.3,498.6 1381.4,517.2 1382.5,535.8 1383.6,554.5 M1379.4,406.4 1380.6,425 1381.7,443.7 1382.9,462.3 1384.1,481 1385.3,499.7 1386.4,518.3 1387.6,537 1388.8,555.7 M1384,407.4 1385.2,426.1 1386.5,444.7 1387.7,463.4 1389,482.1 1390.2,500.8 1391.5,519.5 1392.7,538.2 1393.9,557 M1388.6,408.4 1389.9,427.2 1391.2,445.9 1392.5,464.6 1393.8,483.3 1395.2,502.1 1396.5,520.8 1397.8,539.6 1399.1,558.3 M1393.2,409.6 1394.6,428.3 1396,447.1 1397.3,465.8 1398.7,484.6 1400.1,503.4 1401.5,522.1 1402.9,540.9 1404.2,559.7 M1397.8,410.8 1399.2,429.5 1400.7,448.3 1402.1,467.1 1403.6,485.9 1405,504.7 1406.5,523.6 1407.9,542.4 1409.4,561.2 M1402.4,412 1403.9,430.8 1405.4,449.7 1407,468.5 1408.5,487.3 1410,506.2 1411.5,525 1413,543.9 1414.5,562.8" fill="none" stroke="#000" stroke-width="0.95" stroke-dasharray="1.4 1.3" stroke-opacity="0.8"/><path d="M1200,412 1218.4,407.4 1236.8,403.7 1255.2,400.9 1273.6,399 1292,398.1 1310.4,398.1 1328.8,399 1347.2,400.9 1365.6,403.7 1384,407.4 1402.4,412 M1199.6,416.7 1218.1,412 1236.6,408.3 1255,405.5 1273.5,403.6 1292,402.7 1310.4,402.7 1328.9,403.6 1347.4,405.5 1365.8,408.3 1384.3,412 1402.8,416.7 M1199.2,421.4 1217.8,416.7 1236.3,413 1254.9,410.1 1273.4,408.3 1291.9,407.3 1310.5,407.3 1329,408.3 1347.5,410.1 1366.1,413 1384.6,416.7 1403.2,421.4 M1198.9,426.1 1217.5,421.4 1236.1,417.6 1254.7,414.8 1273.3,412.9 1291.9,411.9 1310.5,411.9 1329.1,412.9 1347.7,414.8 1366.3,417.6 1384.9,421.4 1403.5,426.1 M1198.5,430.8 1217.2,426.1 1235.8,422.2 1254.5,419.4 1273.2,417.5 1291.9,416.5 1310.5,416.5 1329.2,417.5 1347.9,419.4 1366.6,422.2 1385.2,426.1 1403.9,430.8 M1198.1,435.5 1216.8,430.7 1235.6,426.9 1254.3,424 1273.1,422.1 1291.8,421.1 1310.6,421.1 1329.3,422.1 1348.1,424 1366.8,426.9 1385.6,430.7 1404.3,435.5 M1197.7,440.2 1216.5,435.4 1235.4,431.5 1254.2,428.6 1273,426.7 1291.8,425.7 1310.6,425.7 1329.4,426.7 1348.2,428.6 1367,431.5 1385.9,435.4 1404.7,440.2 M1197.3,444.9 1216.2,440.1 1235.1,436.2 1254,433.2 1272.9,431.3 1291.8,430.3 1310.6,430.3 1329.5,431.3 1348.4,433.2 1367.3,436.2 1386.2,440.1 1405.1,444.9 M1197,449.7 1215.9,444.7 1234.9,440.8 1253.8,437.9 1272.8,435.9 1291.7,434.9 1310.7,434.9 1329.6,435.9 1348.6,437.9 1367.5,440.8 1386.5,444.7 1405.4,449.7 M1196.6,454.4 1215.6,449.4 1234.6,445.5 1253.6,442.5 1272.7,440.5 1291.7,439.5 1310.7,439.5 1329.7,440.5 1348.8,442.5 1367.8,445.5 1386.8,449.4 1405.8,454.4 M1196.2,459.1 1215.3,454.1 1234.4,450.1 1253.5,447.1 1272.6,445.1 1291.7,444.1 1310.7,444.1 1329.8,445.1 1348.9,447.1 1368,450.1 1387.1,454.1 1406.2,459.1 M1195.8,463.8 1215,458.8 1234.1,454.7 1253.3,451.7 1272.5,449.7 1291.6,448.7 1310.8,448.7 1329.9,449.7 1349.1,451.7 1368.3,454.7 1387.4,458.8 1406.6,463.8 M1195.4,468.5 1214.7,463.4 1233.9,459.4 1253.1,456.4 1272.4,454.3 1291.6,453.3 1310.8,453.3 1330,454.3 1349.3,456.4 1368.5,459.4 1387.7,463.4 1407,468.5 M1195.1,473.2 1214.4,468.1 1233.7,464 1253,461 1272.3,458.9 1291.6,457.9 1310.8,457.9 1330.1,458.9 1349.4,461 1368.7,464 1388,468.1 1407.3,473.2 M1194.7,477.9 1214.1,472.8 1233.4,468.7 1252.8,465.6 1272.2,463.6 1291.5,462.5 1310.9,462.5 1330.2,463.6 1349.6,465.6 1369,468.7 1388.3,472.8 1407.7,477.9 M1194.3,482.6 1213.7,477.5 1233.2,473.3 1252.6,470.2 1272,468.2 1291.5,467.1 1310.9,467.1 1330.4,468.2 1349.8,470.2 1369.2,473.3 1388.7,477.5 1408.1,482.6 M1193.9,487.3 1213.4,482.1 1232.9,478 1252.4,474.9 1271.9,472.8 1291.4,471.7 1311,471.7 1330.5,472.8 1350,474.9 1369.5,478 1389,482.1 1408.5,487.3 M1193.5,492 1213.1,486.8 1232.7,482.6 1252.3,479.5 1271.8,477.4 1291.4,476.3 1311,476.3 1330.6,477.4 1350.1,479.5 1369.7,482.6 1389.3,486.8 1408.9,492 M1193.2,496.8 1212.8,491.5 1232.5,487.3 1252.1,484.1 1271.7,482 1291.4,480.9 1311,480.9 1330.7,482 1350.3,484.1 1369.9,487.3 1389.6,491.5 1409.2,496.8 M1192.8,501.5 1212.5,496.2 1232.2,491.9 1251.9,488.7 1271.6,486.6 1291.3,485.5 1311.1,485.5 1330.8,486.6 1350.5,488.7 1370.2,491.9 1389.9,496.2 1409.6,501.5 M1192.4,506.2 1212.2,500.8 1232,496.6 1251.8,493.3 1271.5,491.2 1291.3,490.1 1311.1,490.1 1330.9,491.2 1350.7,493.3 1370.4,496.6 1390.2,500.8 1410,506.2 M1192,510.9 1211.9,505.5 1231.7,501.2 1251.6,498 1271.4,495.8 1291.3,494.7 1311.1,494.7 1331,495.8 1350.8,498 1370.7,501.2 1390.5,505.5 1410.4,510.9 M1191.7,515.6 1211.6,510.2 1231.5,505.8 1251.4,502.6 1271.3,500.4 1291.2,499.3 1311.2,499.3 1331.1,500.4 1351,502.6 1370.9,505.8 1390.8,510.2 1410.7,515.6 M1191.3,520.3 1211.3,514.9 1231.2,510.5 1251.2,507.2 1271.2,505 1291.2,503.9 1311.2,503.9 1331.2,505 1351.2,507.2 1371.2,510.5 1391.1,514.9 1411.1,520.3 M1190.9,525 1210.9,519.5 1231,515.1 1251.1,511.8 1271.1,509.6 1291.2,508.5 1311.2,508.5 1331.3,509.6 1351.3,511.8 1371.4,515.1 1391.5,519.5 1411.5,525 M1190.5,529.7 1210.6,524.2 1230.8,519.8 1250.9,516.5 1271,514.2 1291.1,513.1 1311.3,513.1 1331.4,514.2 1351.5,516.5 1371.6,519.8 1391.8,524.2 1411.9,529.7 M1190.1,534.5 1210.3,528.9 1230.5,524.4 1250.7,521.1 1270.9,518.9 1291.1,517.7 1311.3,517.7 1331.5,518.9 1351.7,521.1 1371.9,524.4 1392.1,528.9 1412.3,534.5 M1189.8,539.2 1210,533.6 1230.3,529.1 1250.5,525.7 1270.8,523.5 1291.1,522.3 1311.3,522.3 1331.6,523.5 1351.9,525.7 1372.1,529.1 1392.4,533.6 1412.6,539.2 M1189.4,543.9 1209.7,538.2 1230,533.7 1250.4,530.3 1270.7,528.1 1291,526.9 1311.4,526.9 1331.7,528.1 1352,530.3 1372.4,533.7 1392.7,538.2 1413,543.9 M1189,548.6 1209.4,542.9 1229.8,538.4 1250.2,535 1270.6,532.7 1291,531.5 1311.4,531.5 1331.8,532.7 1352.2,535 1372.6,538.4 1393,542.9 1413.4,548.6 M1188.6,553.3 1209.1,547.6 1229.6,543 1250,539.6 1270.5,537.3 1291,536.1 1311.4,536.1 1331.9,537.3 1352.4,539.6 1372.8,543 1393.3,547.6 1413.8,553.3 M1188.2,558 1208.8,552.3 1229.3,547.7 1249.9,544.2 1270.4,541.9 1290.9,540.7 1311.5,540.7 1332,541.9 1352.5,544.2 1373.1,547.7 1393.6,552.3 1414.2,558 M1187.9,562.8 1208.5,557 1229.1,552.3 1249.7,548.8 1270.3,546.5 1290.9,545.3 1311.5,545.3 1332.1,546.5 1352.7,548.8 1373.3,552.3 1393.9,557 1414.5,562.8" fill="none" stroke="#000" stroke-width="0.95" stroke-dasharray="1 2.6" stroke-opacity="0.8"/></g>
<path d="M1209.2,447.2 C1212.4,430.6 1220.4,435.1 1228.4,430.0 C1236.4,424.9 1244.4,419.7 1257.2,416.5 C1270.0,413.3 1290.9,410.1 1305.3,410.7 C1319.7,411.3 1332.5,415.2 1343.7,420.3 C1354.9,425.4 1364.5,434.1 1372.5,441.5 C1380.5,448.9 1387.2,456.8 1391.7,464.5 C1396.2,472.2 1398.8,478.0 1399.4,487.6 C1400.1,497.2 1399.1,514.5 1395.6,522.2 C1392.1,529.9 1385.3,531.0 1378.3,533.7 C1371.2,536.4 1361.6,539.1 1353.3,538.5 C1345.0,537.9 1336.3,532.3 1328.3,529.9 C1320.3,527.5 1313.9,524.8 1305.3,524.1 C1296.7,523.5 1286.1,523.8 1276.5,526.0 C1266.9,528.2 1256.2,535.6 1247.6,537.5 C1238.9,539.4 1231.0,538.8 1224.6,537.5 C1218.2,536.2 1211.8,544.9 1209.2,529.9 C1206.6,514.9 1206.0,463.8 1209.2,447.2 Z" fill="none" stroke="#000" stroke-width="0.8" stroke-dasharray="0.8 1.6" stroke-opacity="0.7"/>
<rect x="1207.50" y="391.20" width="193.20" height="167.20" fill="none" stroke="#000" stroke-width="2.4"/>
<text transform="translate(1215.80,421.80) scale(1.08,1)" font-size="32" font-weight="bold" fill="#000" stroke="#000" stroke-width="1.1">k</text>
<rect x="1213.00" y="547.70" width="49.00" height="4.40" fill="#000" />
<rect x="41.40" y="588.70" width="236.70" height="164.30" fill="#000" />
<g filter="url(#grayn)"><path d="M72,730 C62,700 64,670 80,655 C95,640 120,632 160,629 C185,630 205,640 225,655 C243,668 252,685 250,705 C249,715 246,722 242,725" fill="none" stroke="#8C8C8C" stroke-width="4.5"/><path d="M75.4,718.6 C72.9,714.4 69.6,698.1 70.1,688.9 C70.6,679.7 74.4,670.1 78.6,663.4 C82.8,656.7 88.8,652.5 95.5,648.6 C102.2,644.7 108.3,642.1 118.9,640.0 C129.5,637.9 148.9,635.8 159.2,635.8 C169.5,635.8 173.4,637.5 180.5,640.0 C187.6,642.5 194.6,646.8 201.7,650.7 C208.8,654.6 216.5,659.1 222.9,663.4 C229.3,667.6 236.0,671.6 239.9,676.2 C243.8,680.8 246.0,684.3 246.3,691.0 C246.7,697.7 244.8,713.0 242.0,716.5 C239.2,720.0 234.2,713.7 229.3,712.3 C224.4,710.9 217.6,708.4 212.3,708.0 C207.0,707.6 201.8,709.0 197.5,710.1 C193.2,711.2 193.2,713.9 186.8,714.4 C180.4,714.9 168.4,714.0 159.2,713.3 C150.0,712.6 139.0,711.5 131.6,710.1 C124.2,708.7 120.2,705.1 114.6,704.8 C108.9,704.4 102.7,706.4 97.7,708.0 C92.8,709.6 88.6,712.6 84.9,714.4 C81.2,716.2 77.9,722.9 75.4,718.6 Z" fill="#E6E6E6"/><g clip-path="url(#clipL)"><ellipse cx="159" cy="650" rx="30" ry="10" fill="#909090" fill-opacity="0.4" filter="url(#blur6)"/></g></g>
<path d="M75.5,718 C70,700 69,680 78,664 C90,648 110,640 135,637 C150,635 165,635 180,639 C200,645 222,658 238,675 C246,685 247,700 241,717" fill="none" stroke="#F02020" stroke-width="2.8" stroke-dasharray="8.5 5.5"/>
<text transform="translate(47.50,613.50) scale(1.08,1)" font-size="32" font-weight="bold" fill="#fff" stroke="#fff" stroke-width="1.1">l</text>
<text x="253.3" y="611.5" font-size="20" font-style="italic" fill="#fff">t<tspan font-size="15" font-style="normal" dy="5.5">0</tspan></text>
<rect x="48.40" y="743.00" width="48.60" height="4.40" fill="#fff" />
<text transform="translate(286.40,613.30) scale(1.08,1)" font-size="32" font-weight="bold" fill="#000" stroke="#000" stroke-width="1.1">m</text>
<g clip-path="url(#cl_stm)"><polygon points="404.7,742 404.2,729.1 403.7,716.2 403.2,703.3 402.9,690.4 402.6,677.5 402.4,664.5 402.3,651.6 402.3,638.7 402.4,625.8 402.6,612.9 402.8,600 403.1,587.1 408.7,587.1 408.5,600 408.4,612.9 408.3,625.8 408.2,638.7 408.2,651.6 408.3,664.5 408.5,677.5 408.8,690.4 409.1,703.3 409.5,716.2 409.9,729.1 410.4,742" fill="#F8ECF0"/><polygon points="410.4,742 409.9,729.1 409.5,716.2 409.1,703.3 408.8,690.4 408.5,677.5 408.3,664.5 408.2,651.6 408.2,638.7 408.3,625.8 408.4,612.9 408.5,600 408.7,587.1 413.6,587.1 414.1,600 414.6,612.9 415.1,625.8 415.4,638.7 415.7,651.6 415.9,664.5 416,677.5 416,690.4 415.9,703.3 415.7,716.2 415.5,729.1 415.2,742" fill="#F4F0F8"/><polygon points="415.2,742 415.5,729.1 415.7,716.2 415.9,703.3 416,690.4 416,677.5 415.9,664.5 415.7,651.6 415.4,638.7 415.1,625.8 414.6,612.9 414.1,600 413.6,587.1 420.1,587.1 420.2,600 420.2,612.9 420.3,625.8 420.4,638.7 420.4,651.6 420.5,664.5 420.6,677.5 420.6,690.4 420.7,703.3 420.8,716.2 420.8,729.1 420.9,742" fill="#F0F0FA"/><polygon points="420.9,742 420.8,729.1 420.8,716.2 420.7,703.3 420.6,690.4 420.6,677.5 420.5,664.5 420.4,651.6 420.4,638.7 420.3,625.8 420.2,612.9 420.2,600 420.1,587.1 433.8,587.1 433.1,600 432.4,612.9 431.8,625.8 431.1,638.7 430.4,651.6 429.8,664.5 429.1,677.5 428.4,690.4 427.7,703.3 427.1,716.2 426.4,729.1 425.7,742" fill="url(#mblue)"/><polygon points="425.7,742 426.4,729.1 427.1,716.2 427.7,703.3 428.4,690.4 429.1,677.5 429.8,664.5 430.4,651.6 431.1,638.7 431.8,625.8 432.4,612.9 433.1,600 433.8,587.1 443.5,587.1 442.5,600 441.5,612.9 440.5,625.8 439.5,638.7 438.5,651.6 437.4,664.5 436.4,677.5 435.4,690.4 434.4,703.3 433.4,716.2 432.4,729.1 431.4,742" fill="#ECECFA"/><polygon points="431.4,742 432.4,729.1 433.4,716.2 434.4,703.3 435.4,690.4 436.4,677.5 437.4,664.5 438.5,651.6 439.5,638.7 440.5,625.8 441.5,612.9 442.5,600 443.5,587.1 448.3,587.1 447.4,600 446.4,612.9 445.5,625.8 444.5,638.7 443.6,651.6 442.6,664.5 441.7,677.5 440.8,690.4 439.8,703.3 438.9,716.2 437.9,729.1 437,742" fill="#F8E4E8"/><polygon points="437,742 437.9,729.1 438.9,716.2 439.8,703.3 440.8,690.4 441.7,677.5 442.6,664.5 443.6,651.6 444.5,638.7 445.5,625.8 446.4,612.9 447.4,600 448.3,587.1 450.8,587.1 450.1,600 449.3,612.9 448.6,625.8 447.8,638.7 447.1,651.6 446.4,664.5 445.6,677.5 444.9,690.4 444.1,703.3 443.4,716.2 442.6,729.1 441.9,742" fill="#F8DCE0"/><polygon points="441.9,742 442.6,729.1 443.4,716.2 444.1,703.3 444.9,690.4 445.6,677.5 446.4,664.5 447.1,651.6 447.8,638.7 448.6,625.8 449.3,612.9 450.1,600 450.8,587.1 453.2,587.1 452.7,600 452.1,612.9 451.6,625.8 451,638.7 450.5,651.6 449.9,664.5 449.4,677.5 448.9,690.4 448.3,703.3 447.8,716.2 447.2,729.1 446.7,742" fill="#F6E0E4"/><polygon points="446.7,742 447.2,729.1 447.8,716.2 448.3,703.3 448.9,690.4 449.4,677.5 449.9,664.5 450.5,651.6 451,638.7 451.6,625.8 452.1,612.9 452.7,600 453.2,587.1 456.4,587.1 456,600 455.6,612.9 455.2,625.8 454.8,638.7 454.4,651.6 454,664.5 453.6,677.5 453.2,690.4 452.8,703.3 452.4,716.2 452,729.1 451.6,742" fill="#F8E0E4"/><polygon points="451.6,742 452,729.1 452.4,716.2 452.8,703.3 453.2,690.4 453.6,677.5 454,664.5 454.4,651.6 454.8,638.7 455.2,625.8 455.6,612.9 456,600 456.4,587.1 457.6,587.1 457.8,600 457.9,612.9 458.1,625.8 458.2,638.7 458.2,651.6 458.2,664.5 458.1,677.5 458,690.4 457.9,703.3 457.7,716.2 457.4,729.1 457.2,742" fill="#F8ECEE"/><polygon points="404.7,742 404.2,729.1 403.7,716.2 403.2,703.3 402.9,690.4 402.6,677.5 402.4,664.5 402.3,651.6 402.3,638.7 402.4,625.8 402.6,612.9 402.8,600 403.1,587.1 457.6,587.1 457.8,600 457.9,612.9 458.1,625.8 458.2,638.7 458.2,651.6 458.2,664.5 458.1,677.5 458,690.4 457.9,703.3 457.7,716.2 457.4,729.1 457.2,742" fill="url(#stm)"/><polyline points="404.7,742 404.2,729.1 403.7,716.2 403.2,703.3 402.9,690.4 402.6,677.5 402.4,664.5 402.3,651.6 402.3,638.7 402.4,625.8 402.6,612.9 402.8,600 403.1,587.1" fill="none" stroke="#000" stroke-width="1.9"/><polyline points="410.4,742 409.9,729.1 409.5,716.2 409.1,703.3 408.8,690.4 408.5,677.5 408.3,664.5 408.2,651.6 408.2,638.7 408.3,625.8 408.4,612.9 408.5,600 408.7,587.1" fill="none" stroke="#000" stroke-width="1.9"/><polyline points="415.2,742 415.5,729.1 415.7,716.2 415.9,703.3 416,690.4 416,677.5 415.9,664.5 415.7,651.6 415.4,638.7 415.1,625.8 414.6,612.9 414.1,600 413.6,587.1" fill="none" stroke="#000" stroke-width="1.9"/><polyline points="420.9,742 420.8,729.1 420.8,716.2 420.7,703.3 420.6,690.4 420.6,677.5 420.5,664.5 420.4,651.6 420.4,638.7 420.3,625.8 420.2,612.9 420.2,600 420.1,587.1" fill="none" stroke="#000" stroke-width="1.9"/><polyline points="425.7,742 426.4,729.1 427.1,716.2 427.7,703.3 428.4,690.4 429.1,677.5 429.8,664.5 430.4,651.6 431.1,638.7 431.8,625.8 432.4,612.9 433.1,600 433.8,587.1" fill="none" stroke="#000" stroke-width="1.9"/><polyline points="431.4,742 432.4,729.1 433.4,716.2 434.4,703.3 435.4,690.4 436.4,677.5 437.4,664.5 438.5,651.6 439.5,638.7 440.5,625.8 441.5,612.9 442.5,600 443.5,587.1" fill="none" stroke="#000" stroke-width="1.9"/><polyline points="437,742 437.9,729.1 438.9,716.2 439.8,703.3 440.8,690.4 441.7,677.5 442.6,664.5 443.6,651.6 444.5,638.7 445.5,625.8 446.4,612.9 447.4,600 448.3,587.1" fill="none" stroke="#000" stroke-width="1.9"/><polyline points="441.9,742 442.6,729.1 443.4,716.2 444.1,703.3 444.9,690.4 445.6,677.5 446.4,664.5 447.1,651.6 447.8,638.7 448.6,625.8 449.3,612.9 450.1,600 450.8,587.1" fill="none" stroke="#000" stroke-width="1.9"/><polyline points="446.7,742 447.2,729.1 447.8,716.2 448.3,703.3 448.9,690.4 449.4,677.5 449.9,664.5 450.5,651.6 451,638.7 451.6,625.8 452.1,612.9 452.7,600 453.2,587.1" fill="none" stroke="#000" stroke-width="1.9"/><polyline points="451.6,742 452,729.1 452.4,716.2 452.8,703.3 453.2,690.4 453.6,677.5 454,664.5 454.4,651.6 454.8,638.7 455.2,625.8 455.6,612.9 456,600 456.4,587.1" fill="none" stroke="#000" stroke-width="1.9"/><polyline points="457.2,742 457.4,729.1 457.7,716.2 457.9,703.3 458,690.4 458.1,677.5 458.2,664.5 458.2,651.6 458.2,638.7 458.1,625.8 457.9,612.9 457.8,600 457.6,587.1" fill="none" stroke="#000" stroke-width="1.9"/></g>
<line x1="353.30" y1="742.00" x2="356.50" y2="742.00" stroke="#000" stroke-width="2" />
<text x="347.90" y="745.20" font-size="19.5" text-anchor="end" font-weight="normal" font-style="normal" fill="#000" >0</text>
<line x1="353.30" y1="720.78" x2="356.50" y2="720.78" stroke="#000" stroke-width="2" />
<text x="347.90" y="723.98" font-size="19.5" text-anchor="end" font-weight="normal" font-style="normal" fill="#000" >2</text>
<line x1="353.30" y1="699.56" x2="356.50" y2="699.56" stroke="#000" stroke-width="2" />
<text x="347.90" y="702.76" font-size="19.5" text-anchor="end" font-weight="normal" font-style="normal" fill="#000" >4</text>
<line x1="353.30" y1="678.34" x2="356.50" y2="678.34" stroke="#000" stroke-width="2" />
<text x="347.90" y="681.54" font-size="19.5" text-anchor="end" font-weight="normal" font-style="normal" fill="#000" >6</text>
<line x1="353.30" y1="657.12" x2="356.50" y2="657.12" stroke="#000" stroke-width="2" />
<text x="347.90" y="660.32" font-size="19.5" text-anchor="end" font-weight="normal" font-style="normal" fill="#000" >8</text>
<line x1="353.30" y1="635.90" x2="356.50" y2="635.90" stroke="#000" stroke-width="2" />
<text x="347.90" y="639.10" font-size="19.5" text-anchor="end" font-weight="normal" font-style="normal" fill="#000" >10</text>
<line x1="353.30" y1="614.68" x2="356.50" y2="614.68" stroke="#000" stroke-width="2" />
<text x="347.90" y="617.88" font-size="19.5" text-anchor="end" font-weight="normal" font-style="normal" fill="#000" >12</text>
<line x1="353.30" y1="593.47" x2="356.50" y2="593.47" stroke="#000" stroke-width="2" />
<text x="347.90" y="596.67" font-size="19.5" text-anchor="end" font-weight="normal" font-style="normal" fill="#000" >14</text>
<line x1="379.50" y1="738.80" x2="379.50" y2="742.00" stroke="#000" stroke-width="2" />
<line x1="431.30" y1="738.80" x2="431.30" y2="742.00" stroke="#000" stroke-width="2" />
<line x1="483.10" y1="738.80" x2="483.10" y2="742.00" stroke="#000" stroke-width="2" />
<text x="345.50" y="761.40" font-size="19.5" text-anchor="middle" font-weight="normal" font-style="normal" fill="#000" >−3</text>
<text x="376.60" y="761.40" font-size="19.5" text-anchor="middle" font-weight="normal" font-style="normal" fill="#000" >−2</text>
<text x="405.20" y="761.40" font-size="19.5" text-anchor="middle" font-weight="normal" font-style="normal" fill="#000" >−1</text>
<text x="431.80" y="761.40" font-size="19.5" text-anchor="middle" font-weight="normal" font-style="normal" fill="#000" >0</text>
<text x="457.50" y="761.40" font-size="19.5" text-anchor="middle" font-weight="normal" font-style="normal" fill="#000" >1</text>
<text x="483.00" y="761.40" font-size="19.5" text-anchor="middle" font-weight="normal" font-style="normal" fill="#000" >2</text>
<text x="509.70" y="761.40" font-size="19.5" text-anchor="middle" font-weight="normal" font-style="normal" fill="#000" >3</text>
<rect x="353.3" y="587.1" width="156.59999999999997" height="154.89999999999998" fill="none" stroke="#000" stroke-width="2.1"/>
<text transform="translate(316.50,669.60) rotate(-90)" x="0" y="0" font-size="20" text-anchor="middle" fill="#000" >Time (h)</text>
<rect x="525.60" y="585.60" width="177.30" height="167.70" fill="#fff" />
<g clip-path="url(#clipN)"><path d="M528.4,632.6 C530.3,614.4 534.2,626.2 540.0,623.0 C545.8,619.8 556.6,616.6 563.0,613.4 C569.4,610.2 574.5,607.0 578.4,603.8 C582.2,600.6 582.2,596.6 586.1,594.2 C590.0,591.8 592.5,590.4 601.5,589.4 C610.5,588.4 628.7,587.6 639.9,588.4 C651.1,589.2 658.8,591.0 668.7,594.2 C678.6,597.4 694.1,590.4 699.4,607.7 C704.7,625.0 702.3,681.7 700.4,698.0 C698.5,714.3 693.2,703.7 687.9,705.6 C682.6,707.5 673.8,709.8 668.7,709.5 C663.6,709.2 660.4,704.0 657.2,703.7 C654.0,703.4 653.4,706.6 649.5,707.6 C645.6,708.6 640.5,709.5 634.1,709.5 C627.7,709.5 620.4,707.6 611.1,707.6 C601.8,707.6 584.8,707.9 578.4,709.5 C572.0,711.1 575.2,714.3 572.6,717.2 C570.0,720.1 566.8,723.3 563.0,726.8 C559.2,730.3 554.4,736.1 549.6,738.3 C544.8,740.5 537.7,741.2 534.2,740.2 C530.7,739.2 529.4,750.4 528.4,732.5 C527.4,714.6 526.5,650.9 528.4,632.6 Z" fill="#3434F2"/><polygon points="517,632.5 524.4,632.5 525.2,640.1 517.8,640.1" fill="#4c4cff"/><polygon points="517.8,640.1 525.2,640.1 525.9,647.6 518.4,647.6" fill="#3e3eff"/><polygon points="518.4,647.6 525.9,647.6 526.3,655.2 518.8,655.1" fill="#4d4dff"/><polygon points="518.8,655.1 526.3,655.2 526.5,662.7 519,662.7" fill="#5252ff"/><polygon points="519,662.7 526.5,662.7 526.6,670.3 519.1,670.2" fill="#4545ff"/><polygon points="519.1,670.2 526.6,670.3 526.6,677.8 519.1,677.7" fill="#4e4eff"/><polygon points="519.1,677.7 526.6,677.8 526.6,685.3 519.1,685.3" fill="#5656ff"/><polygon points="519.1,685.3 526.6,685.3 526.7,692.9 519.2,692.8" fill="#5050ff"/><polygon points="519.2,692.8 526.7,692.9 526.9,700.4 519.4,700.4" fill="#5858ff"/><polygon points="519.4,700.4 526.9,700.4 527.2,708 519.7,707.9" fill="#4d4dff"/><polygon points="519.7,707.9 527.2,708 527.7,715.5 520.3,715.5" fill="#5353ff"/><polygon points="520.3,715.5 527.7,715.5 528.4,723 521,723" fill="#5757ff"/><polygon points="521,723 528.4,723 529.4,730.6 522,730.5" fill="#6c6cff"/><polygon points="522,730.5 529.4,730.6 530.6,738.1 523.3,738.1" fill="#7c7cff"/><polygon points="523.3,738.1 530.6,738.1 532.1,745.7 524.8,745.6" fill="#4d4dff"/><polygon points="523.3,625 530.7,625.1 531.8,632.6 524.4,632.5" fill="#ffdddd"/><polygon points="524.4,632.5 531.8,632.6 532.7,640.1 525.2,640.1" fill="#ffdede"/><polygon points="525.2,640.1 532.7,640.1 533.3,647.7 525.9,647.6" fill="#9898ff"/><polygon points="525.9,647.6 533.3,647.7 533.7,655.2 526.3,655.2" fill="#8080ff"/><polygon points="526.3,655.2 533.7,655.2 534,662.8 526.5,662.7" fill="#8b8bff"/><polygon points="526.5,662.7 534,662.8 534.1,670.3 526.6,670.3" fill="#8888ff"/><polygon points="526.6,670.3 534.1,670.3 534.2,677.8 526.6,677.8" fill="#7272ff"/><polygon points="526.6,677.8 534.2,677.8 534.2,685.4 526.6,685.3" fill="#7a7aff"/><polygon points="526.6,685.3 534.2,685.4 534.2,692.9 526.7,692.9" fill="#7c7cff"/><polygon points="526.7,692.9 534.2,692.9 534.4,700.5 526.9,700.4" fill="#6f6fff"/><polygon points="526.9,700.4 534.4,700.5 534.7,708 527.2,708" fill="#7575ff"/><polygon points="527.2,708 534.7,708 535.2,715.5 527.7,715.5" fill="#7b7bff"/><polygon points="527.7,715.5 535.2,715.5 535.9,723.1 528.4,723" fill="#5f5fff"/><polygon points="528.4,723 535.9,723.1 536.8,730.6 529.4,730.6" fill="#6161ff"/><polygon points="529.4,730.6 536.8,730.6 538,738.1 530.6,738.1" fill="#ffc3c3"/><polygon points="530.6,738.1 538,738.1 539.4,745.6 532.1,745.7" fill="#8282ff"/><polygon points="529.3,617.5 536.7,617.6 538,625.1 530.7,625.1" fill="#5151ff"/><polygon points="530.7,625.1 538,625.1 539.2,632.6 531.8,632.6" fill="#ffb4b4"/><polygon points="531.8,632.6 539.2,632.6 540.1,640.2 532.7,640.1" fill="#4444ff"/><polygon points="532.7,640.1 540.1,640.2 540.8,647.7 533.3,647.7" fill="#3131ff"/><polygon points="533.3,647.7 540.8,647.7 541.2,655.2 533.7,655.2" fill="#3a3aff"/><polygon points="533.7,655.2 541.2,655.2 541.5,662.8 534,662.8" fill="#2e2eff"/><polygon points="534,662.8 541.5,662.8 541.6,670.3 534.1,670.3" fill="#3737ff"/><polygon points="534.1,670.3 541.6,670.3 541.7,677.8 534.2,677.8" fill="#3f3fff"/><polygon points="534.2,677.8 541.7,677.8 541.7,685.4 534.2,685.4" fill="#2929ff"/><polygon points="534.2,685.4 541.7,685.4 541.7,692.9 534.2,692.9" fill="#3535ff"/><polygon points="534.2,692.9 541.7,692.9 541.9,700.4 534.4,700.5" fill="#3636ff"/><polygon points="534.4,700.5 541.9,700.4 542.2,707.9 534.7,708" fill="#2a2aff"/><polygon points="534.7,708 542.2,707.9 542.6,715.4 535.2,715.5" fill="#2b2bff"/><polygon points="535.2,715.5 542.6,715.4 543.3,723 535.9,723.1" fill="#3a3aff"/><polygon points="535.9,723.1 543.3,723 544.2,730.5 536.8,730.6" fill="#3636ff"/><polygon points="536.8,730.6 544.2,730.5 545.4,738 538,738.1" fill="#4d4dff"/><polygon points="538,738.1 545.4,738 546.7,745.5 539.4,745.6" fill="#7979ff"/><polygon points="536.7,617.6 544,617.6 545.4,625.1 538,625.1" fill="#ffd0d0"/><polygon points="538,625.1 545.4,625.1 546.6,632.6 539.2,632.6" fill="#ffe4e4"/><polygon points="539.2,632.6 546.6,632.6 547.5,640.1 540.1,640.2" fill="#2929ff"/><polygon points="540.1,640.2 547.5,640.1 548.2,647.7 540.8,647.7" fill="#1d1dff"/><polygon points="540.8,647.7 548.2,647.7 548.7,655.2 541.2,655.2" fill="#1a1aff"/><polygon points="541.2,655.2 548.7,655.2 549,662.7 541.5,662.8" fill="#2828ff"/><polygon points="541.5,662.8 549,662.7 549.2,670.2 541.6,670.3" fill="#1d1dff"/><polygon points="541.6,670.3 549.2,670.2 549.2,677.7 541.7,677.8" fill="#1010ff"/><polygon points="541.7,677.8 549.2,677.7 549.2,685.2 541.7,685.4" fill="#2323ff"/><polygon points="541.7,685.4 549.2,685.2 549.3,692.7 541.7,692.9" fill="#1717ff"/><polygon points="541.7,692.9 549.3,692.7 549.4,700.2 541.9,700.4" fill="#1919ff"/><polygon points="541.9,700.4 549.4,700.2 549.6,707.7 542.2,707.9" fill="#1414ff"/><polygon points="542.2,707.9 549.6,707.7 550.1,715.2 542.6,715.4" fill="#1919ff"/><polygon points="542.6,715.4 550.1,715.2 550.7,722.7 543.3,723" fill="#1818ff"/><polygon points="543.3,723 550.7,722.7 551.6,730.2 544.2,730.5" fill="#2626ff"/><polygon points="544.2,730.5 551.6,730.2 552.7,737.7 545.4,738" fill="#6666ff"/><polygon points="545.4,738 552.7,737.7 554.1,745.2 546.7,745.5" fill="#6060ff"/><polygon points="542.4,610 549.7,609.9 551.3,617.5 544,617.6" fill="#ffe9e9"/><polygon points="544,617.6 551.3,617.5 552.8,625 545.4,625.1" fill="#ffc7c7"/><polygon points="545.4,625.1 552.8,625 554,632.5 546.6,632.6" fill="#4242ff"/><polygon points="546.6,632.6 554,632.5 555,640 547.5,640.1" fill="#1a1aff"/><polygon points="547.5,640.1 555,640 555.7,647.5 548.2,647.7" fill="#1111ff"/><polygon points="548.2,647.7 555.7,647.5 556.2,655 548.7,655.2" fill="#1c1cff"/><polygon points="548.7,655.2 556.2,655 556.5,662.5 549,662.7" fill="#1010ff"/><polygon points="549,662.7 556.5,662.5 556.7,670 549.2,670.2" fill="#1717ff"/><polygon points="549.2,670.2 556.7,670 556.7,677.5 549.2,677.7" fill="#0b0bff"/><polygon points="549.2,677.7 556.7,677.5 556.8,685 549.2,685.2" fill="#1b1bff"/><polygon points="549.2,685.2 556.8,685 556.8,692.4 549.3,692.7" fill="#0d0dff"/><polygon points="549.3,692.7 556.8,692.4 556.9,699.9 549.4,700.2" fill="#0a0aff"/><polygon points="549.4,700.2 556.9,699.9 557.1,707.4 549.6,707.7" fill="#2020ff"/><polygon points="549.6,707.7 557.1,707.4 557.5,714.9 550.1,715.2" fill="#1212ff"/><polygon points="550.1,715.2 557.5,714.9 558.2,722.4 550.7,722.7" fill="#3434ff"/><polygon points="550.7,722.7 558.2,722.4 559,729.8 551.6,730.2" fill="#5c5cff"/><polygon points="551.6,730.2 559,729.8 560.1,737.3 552.7,737.7" fill="#9797ff"/><polygon points="552.7,737.7 560.1,737.3 561.4,744.7 554.1,745.2" fill="#3838ff"/><polygon points="549.7,609.9 557,609.7 558.6,617.2 551.3,617.5" fill="#ffc6c6"/><polygon points="551.3,617.5 558.6,617.2 560.1,624.7 552.8,625" fill="#5454ff"/><polygon points="552.8,625 560.1,624.7 561.4,632.2 554,632.5" fill="#2b2bff"/><polygon points="554,632.5 561.4,632.2 562.4,639.7 555,640" fill="#1d1dff"/><polygon points="555,640 562.4,639.7 563.1,647.2 555.7,647.5" fill="#0a0aff"/><polygon points="555.7,647.5 563.1,647.2 563.7,654.6 556.2,655" fill="#0f0fff"/><polygon points="556.2,655 563.7,654.6 564,662.1 556.5,662.5" fill="#1515ff"/><polygon points="556.5,662.5 564,662.1 564.2,669.6 556.7,670" fill="#1616ff"/><polygon points="556.7,670 564.2,669.6 564.3,677 556.7,677.5" fill="#0d0dff"/><polygon points="556.7,677.5 564.3,677 564.3,684.5 556.8,685" fill="#1a1aff"/><polygon points="556.8,685 564.3,684.5 564.3,692 556.8,692.4" fill="#0a0aff"/><polygon points="556.8,692.4 564.3,692 564.4,699.4 556.9,699.9" fill="#1d1dff"/><polygon points="556.9,699.9 564.4,699.4 564.6,706.9 557.1,707.4" fill="#2424ff"/><polygon points="557.1,707.4 564.6,706.9 565,714.3 557.5,714.9" fill="#3131ff"/><polygon points="557.5,714.9 565,714.3 565.6,721.8 558.2,722.4" fill="#4545ff"/><polygon points="558.2,722.4 565.6,721.8 566.4,729.2 559,729.8" fill="#8080ff"/><polygon points="559,729.8 566.4,729.2 567.5,736.7 560.1,737.3" fill="#4b4bff"/><polygon points="557,609.7 564.3,609.3 566,616.8 558.6,617.2" fill="#ffcece"/><polygon points="558.6,617.2 566,616.8 567.5,624.3 560.1,624.7" fill="#4343ff"/><polygon points="560.1,624.7 567.5,624.3 568.7,631.7 561.4,632.2" fill="#1a1aff"/><polygon points="561.4,632.2 568.7,631.7 569.8,639.2 562.4,639.7" fill="#1515ff"/><polygon points="562.4,639.7 569.8,639.2 570.6,646.6 563.1,647.2" fill="#1c1cff"/><polygon points="563.1,647.2 570.6,646.6 571.2,654.1 563.7,654.6" fill="#1010ff"/><polygon points="563.7,654.6 571.2,654.1 571.5,661.5 564,662.1" fill="#1a1aff"/><polygon points="564,662.1 571.5,661.5 571.7,669 564.2,669.6" fill="#0a0aff"/><polygon points="564.2,669.6 571.7,669 571.8,676.4 564.3,677" fill="#1b1bff"/><polygon points="564.3,677 571.8,676.4 571.8,683.9 564.3,684.5" fill="#1a1aff"/><polygon points="564.3,684.5 571.8,683.9 571.9,691.3 564.3,692" fill="#1a1aff"/><polygon points="564.3,692 571.9,691.3 571.9,698.7 564.4,699.4" fill="#2c2cff"/><polygon points="564.4,699.4 571.9,698.7 572.1,706.1 564.6,706.9" fill="#3c3cff"/><polygon points="564.6,706.9 572.1,706.1 572.5,713.6 565,714.3" fill="#5252ff"/><polygon points="565,714.3 572.5,713.6 573,721 565.6,721.8" fill="#7070ff"/><polygon points="565.6,721.8 573,721 573.8,728.4 566.4,729.2" fill="#6b6bff"/><polygon points="562.4,601.9 569.7,601.3 571.6,608.8 564.3,609.3" fill="#ffc2c2"/><polygon points="564.3,609.3 571.6,608.8 573.3,616.2 566,616.8" fill="#7777ff"/><polygon points="566,616.8 573.3,616.2 574.8,623.6 567.5,624.3" fill="#3030ff"/><polygon points="567.5,624.3 574.8,623.6 576.1,631.1 568.7,631.7" fill="#2525ff"/><polygon points="568.7,631.7 576.1,631.1 577.2,638.5 569.8,639.2" fill="#0d0dff"/><polygon points="569.8,639.2 577.2,638.5 578,645.9 570.6,646.6" fill="#1818ff"/><polygon points="570.6,646.6 578,645.9 578.6,653.4 571.2,654.1" fill="#1515ff"/><polygon points="571.2,654.1 578.6,653.4 579,660.8 571.5,661.5" fill="#1212ff"/><polygon points="571.5,661.5 579,660.8 579.2,668.2 571.7,669" fill="#1818ff"/><polygon points="571.7,669 579.2,668.2 579.3,675.6 571.8,676.4" fill="#0a0aff"/><polygon points="571.8,676.4 579.3,675.6 579.4,683 571.8,683.9" fill="#1414ff"/><polygon points="571.8,683.9 579.4,683 579.4,690.4 571.9,691.3" fill="#2424ff"/><polygon points="571.9,691.3 579.4,690.4 579.5,697.8 571.9,698.7" fill="#5050ff"/><polygon points="571.9,698.7 579.5,697.8 579.6,705.2 572.1,706.1" fill="#6f6fff"/><polygon points="572.1,706.1 579.6,705.2 580,712.6 572.5,713.6" fill="#8787ff"/><polygon points="572.5,713.6 580,712.6 580.5,720 573,721" fill="#6b6bff"/><polygon points="569.7,601.3 577,600.6 578.9,608 571.6,608.8" fill="#ffcdcd"/><polygon points="571.6,608.8 578.9,608 580.6,615.4 573.3,616.2" fill="#5a5aff"/><polygon points="573.3,616.2 580.6,615.4 582.2,622.8 574.8,623.6" fill="#2828ff"/><polygon points="574.8,623.6 582.2,622.8 583.5,630.2 576.1,631.1" fill="#2222ff"/><polygon points="576.1,631.1 583.5,630.2 584.6,637.6 577.2,638.5" fill="#1d1dff"/><polygon points="577.2,638.5 584.6,637.6 585.5,645 578,645.9" fill="#1818ff"/><polygon points="578,645.9 585.5,645 586.1,652.4 578.6,653.4" fill="#0a0aff"/><polygon points="578.6,653.4 586.1,652.4 586.5,659.8 579,660.8" fill="#0b0bff"/><polygon points="579,660.8 586.5,659.8 586.8,667.2 579.2,668.2" fill="#0a0aff"/><polygon points="579.2,668.2 586.8,667.2 586.9,674.5 579.3,675.6" fill="#1616ff"/><polygon points="579.3,675.6 586.9,674.5 586.9,681.9 579.4,683" fill="#0b0bff"/><polygon points="579.4,683 586.9,681.9 586.9,689.3 579.4,690.4" fill="#2222ff"/><polygon points="579.4,690.4 586.9,689.3 587,696.6 579.5,697.8" fill="#5f5fff"/><polygon points="579.5,697.8 587,696.6 587.1,704 579.6,705.2" fill="#8f8fff"/><polygon points="579.6,705.2 587.1,704 587.4,711.4 580,712.6" fill="#c2c2ff"/><polygon points="580,712.6 587.4,711.4 587.9,718.7 580.5,720" fill="#5a5aff"/><polygon points="575,593.1 582.3,592.2 584.3,599.6 577,600.6" fill="#ffc8c8"/><polygon points="577,600.6 584.3,599.6 586.1,607 578.9,608" fill="#ffe9e9"/><polygon points="578.9,608 586.1,607 587.9,614.3 580.6,615.4" fill="#2c2cff"/><polygon points="580.6,615.4 587.9,614.3 589.5,621.7 582.2,622.8" fill="#1414ff"/><polygon points="582.2,622.8 589.5,621.7 590.9,629.1 583.5,630.2" fill="#1b1bff"/><polygon points="583.5,630.2 590.9,629.1 592,636.5 584.6,637.6" fill="#0a0aff"/><polygon points="584.6,637.6 592,636.5 592.9,643.8 585.5,645" fill="#0a0aff"/><polygon points="585.5,645 592.9,643.8 593.6,651.2 586.1,652.4" fill="#1b1bff"/><polygon points="586.1,652.4 593.6,651.2 594,658.6 586.5,659.8" fill="#1717ff"/><polygon points="586.5,659.8 594,658.6 594.3,665.9 586.8,667.2" fill="#0a0aff"/><polygon points="586.8,667.2 594.3,665.9 594.4,673.3 586.9,674.5" fill="#0a0aff"/><polygon points="586.9,674.5 594.4,673.3 594.4,680.6 586.9,681.9" fill="#0d0dff"/><polygon points="586.9,681.9 594.4,680.6 594.4,687.9 586.9,689.3" fill="#2828ff"/><polygon points="586.9,689.3 594.4,687.9 594.5,695.3 587,696.6" fill="#8b8bff"/><polygon points="587,696.6 594.5,695.3 594.6,702.6 587.1,704" fill="#d2d2ff"/><polygon points="587.1,704 594.6,702.6 594.9,710 587.4,711.4" fill="#ccccff"/><polygon points="587.4,711.4 594.9,710 595.4,717.3 587.9,718.7" fill="#6666ff"/><polygon points="580.3,584.8 587.6,583.7 589.6,591 582.3,592.2" fill="#4646ff"/><polygon points="582.3,592.2 589.6,591 591.5,598.4 584.3,599.6" fill="#ffc3c3"/><polygon points="584.3,599.6 591.5,598.4 593.4,605.7 586.1,607" fill="#3f3fff"/><polygon points="586.1,607 593.4,605.7 595.2,613.1 587.9,614.3" fill="#1d1dff"/><polygon points="587.9,614.3 595.2,613.1 596.8,620.4 589.5,621.7" fill="#1212ff"/><polygon points="589.5,621.7 596.8,620.4 598.2,627.8 590.9,629.1" fill="#1111ff"/><polygon points="590.9,629.1 598.2,627.8 599.4,635.1 592,636.5" fill="#1212ff"/><polygon points="592,636.5 599.4,635.1 600.3,642.5 592.9,643.8" fill="#1111ff"/><polygon points="592.9,643.8 600.3,642.5 601,649.8 593.6,651.2" fill="#3535ff"/><polygon points="593.6,651.2 601,649.8 601.5,657.1 594,658.6" fill="#7070ff"/><polygon points="594,658.6 601.5,657.1 601.8,664.4 594.3,665.9" fill="#1b1bff"/><polygon points="594.3,665.9 601.8,664.4 601.9,671.8 594.4,673.3" fill="#0b0bff"/><polygon points="594.4,673.3 601.9,671.8 602,679.1 594.4,680.6" fill="#0a0aff"/><polygon points="594.4,680.6 602,679.1 602,686.4 594.4,687.9" fill="#2c2cff"/><polygon points="594.4,687.9 602,686.4 602,693.7 594.5,695.3" fill="#8c8cff"/><polygon points="594.5,695.3 602,693.7 602.1,701 594.6,702.6" fill="#ffffff"/><polygon points="594.6,702.6 602.1,701 602.4,708.3 594.9,710" fill="#eaeaff"/><polygon points="594.9,710 602.4,708.3 602.9,715.6 595.4,717.3" fill="#6a6aff"/><polygon points="587.6,583.7 594.8,582.3 596.8,589.6 589.6,591" fill="#4e4eff"/><polygon points="589.6,591 596.8,589.6 598.8,597 591.5,598.4" fill="#6e6eff"/><polygon points="591.5,598.4 598.8,597 600.7,604.3 593.4,605.7" fill="#3434ff"/><polygon points="593.4,605.7 600.7,604.3 602.5,611.6 595.2,613.1" fill="#1a1aff"/><polygon points="595.2,613.1 602.5,611.6 604.2,618.9 596.8,620.4" fill="#1c1cff"/><polygon points="596.8,620.4 604.2,618.9 605.6,626.3 598.2,627.8" fill="#0c0cff"/><polygon points="598.2,627.8 605.6,626.3 606.8,633.6 599.4,635.1" fill="#1717ff"/><polygon points="599.4,635.1 606.8,633.6 607.7,640.9 600.3,642.5" fill="#0f0fff"/><polygon points="600.3,642.5 607.7,640.9 608.5,648.2 601,649.8" fill="#0a0aff"/><polygon points="601,649.8 608.5,648.2 609,655.5 601.5,657.1" fill="#5353ff"/><polygon points="601.5,657.1 609,655.5 609.3,662.8 601.8,664.4" fill="#7d7dff"/><polygon points="601.8,664.4 609.3,662.8 609.4,670.1 601.9,671.8" fill="#2525ff"/><polygon points="601.9,671.8 609.4,670.1 609.5,677.4 602,679.1" fill="#0a0aff"/><polygon points="602,679.1 609.5,677.4 609.5,684.7 602,686.4" fill="#1717ff"/><polygon points="602,686.4 609.5,684.7 609.5,692 602,693.7" fill="#8e8eff"/><polygon points="602,693.7 609.5,692 609.7,699.3 602.1,701" fill="#ffffff"/><polygon points="602.1,701 609.7,699.3 609.9,706.6 602.4,708.3" fill="#fefeff"/><polygon points="602.4,708.3 609.9,706.6 610.3,713.8 602.9,715.6" fill="#8d8dff"/><polygon points="594.8,582.3 602.1,580.7 604.1,588 596.8,589.6" fill="#5f5fff"/><polygon points="596.8,589.6 604.1,588 606.1,595.4 598.8,597" fill="#6b6bff"/><polygon points="598.8,597 606.1,595.4 608,602.7 600.7,604.3" fill="#2a2aff"/><polygon points="600.7,604.3 608,602.7 609.8,610 602.5,611.6" fill="#1616ff"/><polygon points="602.5,611.6 609.8,610 611.5,617.3 604.2,618.9" fill="#1010ff"/><polygon points="604.2,618.9 611.5,617.3 612.9,624.6 605.6,626.3" fill="#0a0aff"/><polygon points="605.6,626.3 612.9,624.6 614.2,631.8 606.8,633.6" fill="#1212ff"/><polygon points="606.8,633.6 614.2,631.8 615.2,639.1 607.7,640.9" fill="#1818ff"/><polygon points="607.7,640.9 615.2,639.1 615.9,646.4 608.5,648.2" fill="#1010ff"/><polygon points="608.5,648.2 615.9,646.4 616.4,653.7 609,655.5" fill="#0a0aff"/><polygon points="609,655.5 616.4,653.7 616.8,661 609.3,662.8" fill="#4040ff"/><polygon points="609.3,662.8 616.8,661 617,668.3 609.4,670.1" fill="#7d7dff"/><polygon points="609.4,670.1 617,668.3 617,675.6 609.5,677.4" fill="#2f2fff"/><polygon points="609.5,677.4 617,675.6 617,682.8 609.5,684.7" fill="#2323ff"/><polygon points="609.5,684.7 617,682.8 617.1,690.1 609.5,692" fill="#5d5dff"/><polygon points="609.5,692 617.1,690.1 617.2,697.4 609.7,699.3" fill="#e5e5ff"/><polygon points="609.7,699.3 617.2,697.4 617.4,704.6 609.9,706.6" fill="#ffffff"/><polygon points="609.9,706.6 617.4,704.6 617.8,711.9 610.3,713.8" fill="#b9b9ff"/><polygon points="602.1,580.7 609.4,579 611.4,586.3 604.1,588" fill="#5050ff"/><polygon points="604.1,588 611.4,586.3 613.3,593.6 606.1,595.4" fill="#8e8eff"/><polygon points="606.1,595.4 613.3,593.6 615.3,600.9 608,602.7" fill="#2c2cff"/><polygon points="608,602.7 615.3,600.9 617.1,608.1 609.8,610" fill="#1515ff"/><polygon points="609.8,610 617.1,608.1 618.8,615.4 611.5,617.3" fill="#1a1aff"/><polygon points="611.5,617.3 618.8,615.4 620.3,622.7 612.9,624.6" fill="#1414ff"/><polygon points="612.9,624.6 620.3,622.7 621.6,630 614.2,631.8" fill="#0a0aff"/><polygon points="614.2,631.8 621.6,630 622.6,637.3 615.2,639.1" fill="#0a0aff"/><polygon points="615.2,639.1 622.6,637.3 623.4,644.5 615.9,646.4" fill="#0a0aff"/><polygon points="615.9,646.4 623.4,644.5 623.9,651.8 616.4,653.7" fill="#0f0fff"/><polygon points="616.4,653.7 623.9,651.8 624.3,659.1 616.8,661" fill="#1919ff"/><polygon points="616.8,661 624.3,659.1 624.5,666.3 617,668.3" fill="#2525ff"/><polygon points="617,668.3 624.5,666.3 624.6,673.6 617,675.6" fill="#8181ff"/><polygon points="617,675.6 624.6,673.6 624.6,680.9 617,682.8" fill="#4646ff"/><polygon points="617,682.8 624.6,680.9 624.6,688.1 617.1,690.1" fill="#3030ff"/><polygon points="617.1,690.1 624.6,688.1 624.7,695.4 617.2,697.4" fill="#8c8cff"/><polygon points="617.2,697.4 624.7,695.4 624.9,702.6 617.4,704.6" fill="#c6c6ff"/><polygon points="617.4,704.6 624.9,702.6 625.3,709.9 617.8,711.9" fill="#ccccff"/><polygon points="617.8,711.9 625.3,709.9 625.8,717.2 618.4,719.2" fill="#5a5aff"/><polygon points="609.4,579 616.7,577.1 618.6,584.4 611.4,586.3" fill="#4343ff"/><polygon points="611.4,586.3 618.6,584.4 620.6,591.7 613.3,593.6" fill="#ababff"/><polygon points="613.3,593.6 620.6,591.7 622.6,598.9 615.3,600.9" fill="#4e4eff"/><polygon points="615.3,600.9 622.6,598.9 624.4,606.2 617.1,608.1" fill="#1616ff"/><polygon points="617.1,608.1 624.4,606.2 626.1,613.5 618.8,615.4" fill="#1111ff"/><polygon points="618.8,615.4 626.1,613.5 627.6,620.7 620.3,622.7" fill="#1a1aff"/><polygon points="620.3,622.7 627.6,620.7 628.9,628 621.6,630" fill="#1616ff"/><polygon points="621.6,630 628.9,628 630,635.3 622.6,637.3" fill="#1a1aff"/><polygon points="622.6,637.3 630,635.3 630.8,642.5 623.4,644.5" fill="#0a0aff"/><polygon points="623.4,644.5 630.8,642.5 631.4,649.8 623.9,651.8" fill="#0f0fff"/><polygon points="623.9,651.8 631.4,649.8 631.8,657 624.3,659.1" fill="#1919ff"/><polygon points="624.3,659.1 631.8,657 632,664.3 624.5,666.3" fill="#1010ff"/><polygon points="624.5,666.3 632,664.3 632.1,671.6 624.6,673.6" fill="#2525ff"/><polygon points="624.6,673.6 632.1,671.6 632.1,678.8 624.6,680.9" fill="#8c8cff"/><polygon points="624.6,680.9 632.1,678.8 632.1,686.1 624.6,688.1" fill="#5353ff"/><polygon points="624.6,688.1 632.1,686.1 632.2,693.3 624.7,695.4" fill="#3939ff"/><polygon points="624.7,695.4 632.2,693.3 632.4,700.6 624.9,702.6" fill="#ffcaca"/><polygon points="624.9,702.6 632.4,700.6 632.7,707.9 625.3,709.9" fill="#8b8bff"/><polygon points="625.3,709.9 632.7,707.9 633.3,715.1 625.8,717.2" fill="#6969ff"/><polygon points="618.6,584.4 625.9,582.4 627.9,589.7 620.6,591.7" fill="#8c8cff"/><polygon points="620.6,591.7 627.9,589.7 629.8,596.9 622.6,598.9" fill="#4646ff"/><polygon points="622.6,598.9 629.8,596.9 631.7,604.2 624.4,606.2" fill="#1e1eff"/><polygon points="624.4,606.2 631.7,604.2 633.4,611.4 626.1,613.5" fill="#0e0eff"/><polygon points="626.1,613.5 633.4,611.4 635,618.7 627.6,620.7" fill="#1313ff"/><polygon points="627.6,620.7 635,618.7 636.3,626 628.9,628" fill="#0a0aff"/><polygon points="628.9,628 636.3,626 637.4,633.2 630,635.3" fill="#1313ff"/><polygon points="630,635.3 637.4,633.2 638.2,640.5 630.8,642.5" fill="#0f0fff"/><polygon points="630.8,642.5 638.2,640.5 638.9,647.7 631.4,649.8" fill="#1010ff"/><polygon points="631.4,649.8 638.9,647.7 639.3,655 631.8,657" fill="#1717ff"/><polygon points="631.8,657 639.3,655 639.5,662.3 632,664.3" fill="#1616ff"/><polygon points="632,664.3 639.5,662.3 639.6,669.5 632.1,671.6" fill="#1919ff"/><polygon points="632.1,671.6 639.6,669.5 639.6,676.8 632.1,678.8" fill="#1111ff"/><polygon points="632.1,678.8 639.6,676.8 639.7,684 632.1,686.1" fill="#7272ff"/><polygon points="632.1,686.1 639.7,684 639.7,691.3 632.2,693.3" fill="#9d9dff"/><polygon points="632.2,693.3 639.7,691.3 639.9,698.5 632.4,700.6" fill="#ff9494"/><polygon points="632.4,700.6 639.9,698.5 640.2,705.8 632.7,707.9" fill="#ffd4d4"/><polygon points="632.7,707.9 640.2,705.8 640.7,713.1 633.3,715.1" fill="#8d8dff"/><polygon points="625.9,582.4 633.2,580.4 635.1,587.6 627.9,589.7" fill="#6969ff"/><polygon points="627.9,589.7 635.1,587.6 637.1,594.9 629.8,596.9" fill="#7070ff"/><polygon points="629.8,596.9 637.1,594.9 639,602.1 631.7,604.2" fill="#2929ff"/><polygon points="631.7,604.2 639,602.1 640.7,609.4 633.4,611.4" fill="#0d0dff"/><polygon points="633.4,611.4 640.7,609.4 642.3,616.7 635,618.7" fill="#0b0bff"/><polygon points="635,618.7 642.3,616.7 643.7,623.9 636.3,626" fill="#0a0aff"/><polygon points="636.3,626 643.7,623.9 644.8,631.2 637.4,633.2" fill="#1010ff"/><polygon points="637.4,633.2 644.8,631.2 645.7,638.4 638.2,640.5" fill="#0a0aff"/><polygon points="638.2,640.5 645.7,638.4 646.3,645.7 638.9,647.7" fill="#1717ff"/><polygon points="638.9,647.7 646.3,645.7 646.8,652.9 639.3,655" fill="#0a0aff"/><polygon points="639.3,655 646.8,652.9 647,660.2 639.5,662.3" fill="#0a0aff"/><polygon points="639.5,662.3 647,660.2 647.1,667.5 639.6,669.5" fill="#0f0fff"/><polygon points="639.6,669.5 647.1,667.5 647.2,674.7 639.6,676.8" fill="#1919ff"/><polygon points="639.6,676.8 647.2,674.7 647.2,682 639.7,684" fill="#5959ff"/><polygon points="639.7,684 647.2,682 647.2,689.3 639.7,691.3" fill="#a5a5ff"/><polygon points="639.7,691.3 647.2,689.3 647.4,696.5 639.9,698.5" fill="#ffe4e4"/><polygon points="639.9,698.5 647.4,696.5 647.7,703.8 640.2,705.8" fill="#ffdede"/><polygon points="640.2,705.8 647.7,703.8 648.2,711.1 640.7,713.1" fill="#aaaaff"/><polygon points="640.7,713.1 648.2,711.1 648.9,718.4 641.4,720.3" fill="#3e3eff"/><polygon points="633.2,580.4 640.4,578.3 642.4,585.6 635.1,587.6" fill="#4a4aff"/><polygon points="635.1,587.6 642.4,585.6 644.4,592.8 637.1,594.9" fill="#7575ff"/><polygon points="637.1,594.9 644.4,592.8 646.3,600.1 639,602.1" fill="#2e2eff"/><polygon points="639,602.1 646.3,600.1 648.1,607.4 640.7,609.4" fill="#2727ff"/><polygon points="640.7,609.4 648.1,607.4 649.6,614.6 642.3,616.7" fill="#1a1aff"/><polygon points="642.3,616.7 649.6,614.6 651,621.9 643.7,623.9" fill="#0d0dff"/><polygon points="643.7,623.9 651,621.9 652.2,629.2 644.8,631.2" fill="#1111ff"/><polygon points="644.8,631.2 652.2,629.2 653.1,636.4 645.7,638.4" fill="#1414ff"/><polygon points="645.7,638.4 653.1,636.4 653.8,643.7 646.3,645.7" fill="#0a0aff"/><polygon points="646.3,645.7 653.8,643.7 654.3,651 646.8,652.9" fill="#1414ff"/><polygon points="646.8,652.9 654.3,651 654.5,658.2 647,660.2" fill="#1b1bff"/><polygon points="647,660.2 654.5,658.2 654.7,665.5 647.1,667.5" fill="#5555ff"/><polygon points="647.1,667.5 654.7,665.5 654.7,672.8 647.2,674.7" fill="#5656ff"/><polygon points="647.2,674.7 654.7,672.8 654.7,680.1 647.2,682" fill="#3030ff"/><polygon points="647.2,682 654.7,680.1 654.8,687.3 647.2,689.3" fill="#1c1cff"/><polygon points="647.2,689.3 654.8,687.3 654.9,694.6 647.4,696.5" fill="#3232ff"/><polygon points="647.4,696.5 654.9,694.6 655.2,701.9 647.7,703.8" fill="#4545ff"/><polygon points="647.7,703.8 655.2,701.9 655.6,709.2 648.2,711.1" fill="#a6a6ff"/><polygon points="648.2,711.1 655.6,709.2 656.3,716.5 648.9,718.4" fill="#5050ff"/><polygon points="642.4,585.6 649.7,583.6 651.7,590.8 644.4,592.8" fill="#7e7eff"/><polygon points="644.4,592.8 651.7,590.8 653.6,598.1 646.3,600.1" fill="#5c5cff"/><polygon points="646.3,600.1 653.6,598.1 655.4,605.4 648.1,607.4" fill="#2a2aff"/><polygon points="648.1,607.4 655.4,605.4 657,612.7 649.6,614.6" fill="#1f1fff"/><polygon points="649.6,614.6 657,612.7 658.4,619.9 651,621.9" fill="#0a0aff"/><polygon points="651,621.9 658.4,619.9 659.6,627.2 652.2,629.2" fill="#1919ff"/><polygon points="652.2,629.2 659.6,627.2 660.5,634.5 653.1,636.4" fill="#1717ff"/><polygon points="653.1,636.4 660.5,634.5 661.2,641.8 653.8,643.7" fill="#1313ff"/><polygon points="653.8,643.7 661.2,641.8 661.7,649.1 654.3,651" fill="#0a0aff"/><polygon points="654.3,651 661.7,649.1 662,656.4 654.5,658.2" fill="#0d0dff"/><polygon points="654.5,658.2 662,656.4 662.2,663.7 654.7,665.5" fill="#3636ff"/><polygon points="654.7,665.5 662.2,663.7 662.2,671 654.7,672.8" fill="#0a0aff"/><polygon points="654.7,672.8 662.2,671 662.3,678.2 654.7,680.1" fill="#1c1cff"/><polygon points="654.7,680.1 662.3,678.2 662.3,685.5 654.8,687.3" fill="#1414ff"/><polygon points="654.8,687.3 662.3,685.5 662.4,692.9 654.9,694.6" fill="#2e2eff"/><polygon points="654.9,694.6 662.4,692.9 662.7,700.2 655.2,701.9" fill="#4141ff"/><polygon points="655.2,701.9 662.7,700.2 663.1,707.5 655.6,709.2" fill="#a5a5ff"/><polygon points="655.6,709.2 663.1,707.5 663.7,714.8 656.3,716.5" fill="#5252ff"/><polygon points="649.7,583.6 656.9,581.7 658.9,588.9 651.7,590.8" fill="#6262ff"/><polygon points="651.7,590.8 658.9,588.9 660.8,596.2 653.6,598.1" fill="#8c8cff"/><polygon points="653.6,598.1 660.8,596.2 662.7,603.5 655.4,605.4" fill="#3131ff"/><polygon points="655.4,605.4 662.7,603.5 664.3,610.8 657,612.7" fill="#1313ff"/><polygon points="657,612.7 664.3,610.8 665.8,618.1 658.4,619.9" fill="#1010ff"/><polygon points="658.4,619.9 665.8,618.1 667,625.4 659.6,627.2" fill="#0a0aff"/><polygon points="659.6,627.2 667,625.4 668,632.7 660.5,634.5" fill="#0a0aff"/><polygon points="660.5,634.5 668,632.7 668.7,640 661.2,641.8" fill="#1212ff"/><polygon points="661.2,641.8 668.7,640 669.2,647.3 661.7,649.1" fill="#0a0aff"/><polygon points="661.7,649.1 669.2,647.3 669.5,654.6 662,656.4" fill="#1313ff"/><polygon points="662,656.4 669.5,654.6 669.7,662 662.2,663.7" fill="#0d0dff"/><polygon points="662.2,663.7 669.7,662 669.8,669.3 662.2,671" fill="#0b0bff"/><polygon points="662.2,671 669.8,669.3 669.8,676.6 662.3,678.2" fill="#1c1cff"/><polygon points="662.3,678.2 669.8,676.6 669.8,683.9 662.3,685.5" fill="#0c0cff"/><polygon points="662.3,685.5 669.8,683.9 669.9,691.2 662.4,692.9" fill="#2424ff"/><polygon points="662.4,692.9 669.9,691.2 670.2,698.6 662.7,700.2" fill="#2d2dff"/><polygon points="662.7,700.2 670.2,698.6 670.6,705.9 663.1,707.5" fill="#5c5cff"/><polygon points="663.1,707.5 670.6,705.9 671.2,713.2 663.7,714.8" fill="#7d7dff"/><polygon points="658.9,588.9 666.2,587.2 668.1,594.5 660.8,596.2" fill="#8a8aff"/><polygon points="660.8,596.2 668.1,594.5 670,601.8 662.7,603.5" fill="#4e4eff"/><polygon points="662.7,603.5 670,601.8 671.6,609.1 664.3,610.8" fill="#2f2fff"/><polygon points="664.3,610.8 671.6,609.1 673.1,616.4 665.8,618.1" fill="#2222ff"/><polygon points="665.8,618.1 673.1,616.4 674.4,623.8 667,625.4" fill="#1414ff"/><polygon points="667,625.4 674.4,623.8 675.4,631.1 668,632.7" fill="#1616ff"/><polygon points="668,632.7 675.4,631.1 676.1,638.4 668.7,640" fill="#1919ff"/><polygon points="668.7,640 676.1,638.4 676.7,645.7 669.2,647.3" fill="#1717ff"/><polygon points="669.2,647.3 676.7,645.7 677,653.1 669.5,654.6" fill="#0e0eff"/><polygon points="669.5,654.6 677,653.1 677.2,660.4 669.7,662" fill="#1616ff"/><polygon points="669.7,662 677.2,660.4 677.3,667.8 669.8,669.3" fill="#1f1fff"/><polygon points="669.8,669.3 677.3,667.8 677.3,675.1 669.8,676.6" fill="#1d1dff"/><polygon points="669.8,676.6 677.3,675.1 677.4,682.5 669.8,683.9" fill="#0c0cff"/><polygon points="669.8,683.9 677.4,682.5 677.4,689.8 669.9,691.2" fill="#1818ff"/><polygon points="669.9,691.2 677.4,689.8 677.6,697.2 670.2,698.6" fill="#2727ff"/><polygon points="670.2,698.6 677.6,697.2 678,704.5 670.6,705.9" fill="#4949ff"/><polygon points="670.6,705.9 678,704.5 678.6,711.9 671.2,713.2" fill="#8e8eff"/><polygon points="671.2,713.2 678.6,711.9 679.4,719.3 672,720.6" fill="#4242ff"/><polygon points="666.2,587.2 673.5,585.6 675.4,592.9 668.1,594.5" fill="#5f5fff"/><polygon points="668.1,594.5 675.4,592.9 677.3,600.3 670,601.8" fill="#7f7fff"/><polygon points="670,601.8 677.3,600.3 678.9,607.6 671.6,609.1" fill="#5050ff"/><polygon points="671.6,609.1 678.9,607.6 680.5,614.9 673.1,616.4" fill="#2e2eff"/><polygon points="673.1,616.4 680.5,614.9 681.7,622.3 674.4,623.8" fill="#2727ff"/><polygon points="674.4,623.8 681.7,622.3 682.8,629.7 675.4,631.1" fill="#1c1cff"/><polygon points="675.4,631.1 682.8,629.7 683.6,637 676.1,638.4" fill="#1e1eff"/><polygon points="676.1,638.4 683.6,637 684.2,644.4 676.7,645.7" fill="#3838ff"/><polygon points="676.7,645.7 684.2,644.4 684.5,651.7 677,653.1" fill="#3333ff"/><polygon points="677,653.1 684.5,651.7 684.7,659.1 677.2,660.4" fill="#3232ff"/><polygon points="677.2,660.4 684.7,659.1 684.8,666.5 677.3,667.8" fill="#3232ff"/><polygon points="677.3,667.8 684.8,666.5 684.9,673.9 677.3,675.1" fill="#3434ff"/><polygon points="677.3,675.1 684.9,673.9 684.9,681.2 677.4,682.5" fill="#2626ff"/><polygon points="677.4,682.5 684.9,681.2 685,688.6 677.4,689.8" fill="#2c2cff"/><polygon points="677.4,689.8 685,688.6 685.1,696 677.6,697.2" fill="#2424ff"/><polygon points="677.6,697.2 685.1,696 685.5,703.4 678,704.5" fill="#5b5bff"/><polygon points="678,704.5 685.5,703.4 686,710.8 678.6,711.9" fill="#9999ff"/><polygon points="675.4,592.9 682.7,591.6 684.5,598.9 677.3,600.3" fill="#7a7aff"/><polygon points="677.3,600.3 684.5,598.9 686.3,606.3 678.9,607.6" fill="#7878ff"/><polygon points="678.9,607.6 686.3,606.3 687.8,613.7 680.5,614.9" fill="#4c4cff"/><polygon points="680.5,614.9 687.8,613.7 689.1,621 681.7,622.3" fill="#2b2bff"/><polygon points="681.7,622.3 689.1,621 690.2,628.4 682.8,629.7" fill="#3f3fff"/><polygon points="682.8,629.7 690.2,628.4 691,635.8 683.6,637" fill="#4b4bff"/><polygon points="683.6,637 691,635.8 691.6,643.2 684.2,644.4" fill="#5c5cff"/><polygon points="684.2,644.4 691.6,643.2 692,650.6 684.5,651.7" fill="#5858ff"/><polygon points="684.5,651.7 692,650.6 692.3,658 684.7,659.1" fill="#4f4fff"/><polygon points="684.7,659.1 692.3,658 692.4,665.4 684.8,666.5" fill="#5050ff"/><polygon points="684.8,666.5 692.4,665.4 692.4,672.8 684.9,673.9" fill="#5959ff"/><polygon points="684.9,673.9 692.4,672.8 692.4,680.2 684.9,681.2" fill="#5353ff"/><polygon points="684.9,681.2 692.4,680.2 692.5,687.6 685,688.6" fill="#4343ff"/><polygon points="685,688.6 692.5,687.6 692.6,695.1 685.1,696" fill="#3232ff"/><polygon points="685.1,696 692.6,695.1 693,702.5 685.5,703.4" fill="#6a6aff"/><polygon points="685.5,703.4 693,702.5 693.5,709.9 686,710.8" fill="#9191ff"/><polygon points="682.7,591.6 690,590.4 691.8,597.8 684.5,598.9" fill="#4141ff"/><polygon points="684.5,598.9 691.8,597.8 693.6,605.2 686.3,606.3" fill="#a0a0ff"/><polygon points="686.3,606.3 693.6,605.2 695.1,612.6 687.8,613.7" fill="#6f6fff"/><polygon points="687.8,613.7 695.1,612.6 696.5,620 689.1,621" fill="#5353ff"/><polygon points="689.1,621 696.5,620 697.6,627.4 690.2,628.4" fill="#6666ff"/><polygon points="690.2,628.4 697.6,627.4 698.5,634.8 691,635.8" fill="#6f6fff"/><polygon points="691,635.8 698.5,634.8 699.1,642.3 691.6,643.2" fill="#8585ff"/><polygon points="691.6,643.2 699.1,642.3 699.5,649.7 692,650.6" fill="#9191ff"/><polygon points="692,650.6 699.5,649.7 699.8,657.1 692.3,658" fill="#8d8dff"/><polygon points="692.3,658 699.8,657.1 699.9,664.6 692.4,665.4" fill="#8585ff"/><polygon points="692.4,665.4 699.9,664.6 699.9,672 692.4,672.8" fill="#8181ff"/><polygon points="692.4,672.8 699.9,672 699.9,679.4 692.4,680.2" fill="#7878ff"/><polygon points="692.4,680.2 699.9,679.4 700,686.9 692.5,687.6" fill="#7979ff"/><polygon points="692.5,687.6 700,686.9 700.2,694.3 692.6,695.1" fill="#6969ff"/><polygon points="692.6,695.1 700.2,694.3 700.5,701.8 693,702.5" fill="#8585ff"/><polygon points="693,702.5 700.5,701.8 700.9,709.2 693.5,709.9" fill="#6161ff"/><polygon points="691.8,597.8 699.1,596.9 700.9,604.3 693.6,605.2" fill="#6868ff"/><polygon points="693.6,605.2 700.9,604.3 702.5,611.8 695.1,612.6" fill="#9191ff"/><polygon points="695.1,612.6 702.5,611.8 703.9,619.2 696.5,620" fill="#afafff"/><polygon points="696.5,620 703.9,619.2 705,626.6 697.6,627.4" fill="#a1a1ff"/><polygon points="697.6,627.4 705,626.6 705.9,634.1 698.5,634.8" fill="#8181ff"/><polygon points="698.5,634.8 705.9,634.1 706.6,641.5 699.1,642.3" fill="#7c7cff"/><polygon points="699.1,642.3 706.6,641.5 707,649 699.5,649.7" fill="#8181ff"/><polygon points="699.5,649.7 707,649 707.3,656.5 699.8,657.1" fill="#7272ff"/><polygon points="699.8,657.1 707.3,656.5 707.4,663.9 699.9,664.6" fill="#7d7dff"/><polygon points="699.9,664.6 707.4,663.9 707.5,671.4 699.9,672" fill="#6767ff"/><polygon points="699.9,672 707.5,671.4 707.5,678.9 699.9,679.4" fill="#6666ff"/><polygon points="699.9,679.4 707.5,678.9 707.5,686.3 700,686.9" fill="#6b6bff"/><polygon points="700,686.9 707.5,686.3 707.7,693.8 700.2,694.3" fill="#6b6bff"/><polygon points="700.2,694.3 707.7,693.8 707.9,701.3 700.5,701.8" fill="#6565ff"/><polygon points="700.9,604.3 708.2,603.7 709.8,611.1 702.5,611.8" fill="#4b4bff"/><polygon points="702.5,611.8 709.8,611.1 711.2,618.6 703.9,619.2" fill="#3d3dff"/><path d="M503.7,572.3 505.7,579.8 507.6,587.3 509.6,594.9 511.4,602.4 513.1,609.9 514.6,617.5 515.9,625 517,632.5 517.8,640.1 518.4,647.6 518.8,655.1 519,662.7 519.1,670.2 519.1,677.7 519.1,685.3 519.2,692.8 519.4,700.4 519.7,707.9 520.3,715.5 521,723 522,730.5 523.3,738.1 524.8,745.6 526.4,753.2 528.3,760.7 530.2,768.3 532.2,775.8 M511,572.2 512.9,579.8 514.9,587.3 516.9,594.8 518.7,602.4 520.4,609.9 522,617.5 523.3,625 524.4,632.5 525.2,640.1 525.9,647.6 526.3,655.2 526.5,662.7 526.6,670.3 526.6,677.8 526.6,685.3 526.7,692.9 526.9,700.4 527.2,708 527.7,715.5 528.4,723 529.4,730.6 530.6,738.1 532.1,745.7 533.7,753.2 535.5,760.7 537.5,768.3 539.4,775.8 M518.2,572.3 520.2,579.8 522.2,587.3 524.1,594.9 526,602.4 527.8,610 529.3,617.5 530.7,625.1 531.8,632.6 532.7,640.1 533.3,647.7 533.7,655.2 534,662.8 534.1,670.3 534.2,677.8 534.2,685.4 534.2,692.9 534.4,700.5 534.7,708 535.2,715.5 535.9,723.1 536.8,730.6 538,738.1 539.4,745.6 541,753.2 542.8,760.7 544.7,768.2 546.7,775.7 M525.5,572.3 527.5,579.9 529.4,587.4 531.4,594.9 533.3,602.5 535.1,610 536.7,617.6 538,625.1 539.2,632.6 540.1,640.2 540.8,647.7 541.2,655.2 541.5,662.8 541.6,670.3 541.7,677.8 541.7,685.4 541.7,692.9 541.9,700.4 542.2,707.9 542.6,715.4 543.3,723 544.2,730.5 545.4,738 546.7,745.5 548.3,753 550.1,760.5 552,768 554,775.5 M532.8,572.4 534.7,579.9 536.7,587.4 538.7,595 540.6,602.5 542.4,610 544,617.6 545.4,625.1 546.6,632.6 547.5,640.1 548.2,647.7 548.7,655.2 549,662.7 549.2,670.2 549.2,677.7 549.2,685.2 549.3,692.7 549.4,700.2 549.6,707.7 550.1,715.2 550.7,722.7 551.6,730.2 552.7,737.7 554.1,745.2 555.6,752.7 557.4,760.2 559.3,767.7 561.2,775.1 M540.1,572.3 542,579.9 544,587.4 546,594.9 547.9,602.4 549.7,609.9 551.3,617.5 552.8,625 554,632.5 555,640 555.7,647.5 556.2,655 556.5,662.5 556.7,670 556.7,677.5 556.8,685 556.8,692.4 556.9,699.9 557.1,707.4 557.5,714.9 558.2,722.4 559,729.8 560.1,737.3 561.4,744.7 563,752.2 564.7,759.7 566.6,767.1 568.5,774.6 M547.4,572.2 549.3,579.7 551.2,587.2 553.2,594.7 555.2,602.2 557,609.7 558.6,617.2 560.1,624.7 561.4,632.2 562.4,639.7 563.1,647.2 563.7,654.6 564,662.1 564.2,669.6 564.3,677 564.3,684.5 564.3,692 564.4,699.4 564.6,706.9 565,714.3 565.6,721.8 566.4,729.2 567.5,736.7 568.8,744.1 570.3,751.5 572,758.9 573.8,766.4 575.8,773.8 M554.7,571.9 556.5,579.4 558.5,586.9 560.5,594.4 562.4,601.9 564.3,609.3 566,616.8 567.5,624.3 568.7,631.7 569.8,639.2 570.6,646.6 571.2,654.1 571.5,661.5 571.7,669 571.8,676.4 571.8,683.9 571.9,691.3 571.9,698.7 572.1,706.1 572.5,713.6 573,721 573.8,728.4 574.8,735.8 576.1,743.2 577.6,750.6 579.3,758 581.1,765.4 583,772.8 M561.9,571.5 563.8,579 565.8,586.4 567.8,593.9 569.7,601.3 571.6,608.8 573.3,616.2 574.8,623.6 576.1,631.1 577.2,638.5 578,645.9 578.6,653.4 579,660.8 579.2,668.2 579.3,675.6 579.4,683 579.4,690.4 579.5,697.8 579.6,705.2 580,712.6 580.5,720 581.2,727.3 582.2,734.7 583.5,742.1 584.9,749.5 586.6,756.8 588.4,764.2 590.3,771.5 M569.2,570.9 571.1,578.3 573,585.7 575,593.1 577,600.6 578.9,608 580.6,615.4 582.2,622.8 583.5,630.2 584.6,637.6 585.5,645 586.1,652.4 586.5,659.8 586.8,667.2 586.9,674.5 586.9,681.9 586.9,689.3 587,696.6 587.1,704 587.4,711.4 587.9,718.7 588.7,726.1 589.6,733.4 590.8,740.8 592.2,748.1 593.9,755.4 595.7,762.8 597.6,770.1 M576.5,570 578.4,577.4 580.3,584.8 582.3,592.2 584.3,599.6 586.1,607 587.9,614.3 589.5,621.7 590.9,629.1 592,636.5 592.9,643.8 593.6,651.2 594,658.6 594.3,665.9 594.4,673.3 594.4,680.6 594.4,687.9 594.5,695.3 594.6,702.6 594.9,710 595.4,717.3 596.1,724.6 597,731.9 598.2,739.2 599.6,746.6 601.2,753.9 603,761.2 604.9,768.5 M583.8,568.9 585.6,576.3 587.6,583.7 589.6,591 591.5,598.4 593.4,605.7 595.2,613.1 596.8,620.4 598.2,627.8 599.4,635.1 600.3,642.5 601,649.8 601.5,657.1 601.8,664.4 601.9,671.8 602,679.1 602,686.4 602,693.7 602.1,701 602.4,708.3 602.9,715.6 603.5,722.9 604.4,730.2 605.5,737.5 606.9,744.8 608.5,752.1 610.2,759.4 612.1,766.7 M591.1,567.6 592.9,575 594.8,582.3 596.8,589.6 598.8,597 600.7,604.3 602.5,611.6 604.2,618.9 605.6,626.3 606.8,633.6 607.7,640.9 608.5,648.2 609,655.5 609.3,662.8 609.4,670.1 609.5,677.4 609.5,684.7 609.5,692 609.7,699.3 609.9,706.6 610.3,713.8 610.9,721.1 611.8,728.4 612.9,735.7 614.2,743 615.8,750.2 617.5,757.5 619.4,764.8 M598.4,566.1 600.2,573.4 602.1,580.7 604.1,588 606.1,595.4 608,602.7 609.8,610 611.5,617.3 612.9,624.6 614.2,631.8 615.2,639.1 615.9,646.4 616.4,653.7 616.8,661 617,668.3 617,675.6 617,682.8 617.1,690.1 617.2,697.4 617.4,704.6 617.8,711.9 618.4,719.2 619.2,726.4 620.3,733.7 621.6,741 623.1,748.2 624.8,755.5 626.7,762.8 M605.7,564.4 607.5,571.7 609.4,579 611.4,586.3 613.3,593.6 615.3,600.9 617.1,608.1 618.8,615.4 620.3,622.7 621.6,630 622.6,637.3 623.4,644.5 623.9,651.8 624.3,659.1 624.5,666.3 624.6,673.6 624.6,680.9 624.6,688.1 624.7,695.4 624.9,702.6 625.3,709.9 625.8,717.2 626.6,724.4 627.7,731.7 628.9,738.9 630.4,746.2 632.1,753.5 634,760.7 M613,562.6 614.8,569.9 616.7,577.1 618.6,584.4 620.6,591.7 622.6,598.9 624.4,606.2 626.1,613.5 627.6,620.7 628.9,628 630,635.3 630.8,642.5 631.4,649.8 631.8,657 632,664.3 632.1,671.6 632.1,678.8 632.1,686.1 632.2,693.3 632.4,700.6 632.7,707.9 633.3,715.1 634,722.4 635,729.6 636.3,736.9 637.7,744.1 639.4,751.4 641.2,758.7 M620.4,560.6 622.1,567.9 623.9,575.1 625.9,582.4 627.9,589.7 629.8,596.9 631.7,604.2 633.4,611.4 635,618.7 636.3,626 637.4,633.2 638.2,640.5 638.9,647.7 639.3,655 639.5,662.3 639.6,669.5 639.6,676.8 639.7,684 639.7,691.3 639.9,698.5 640.2,705.8 640.7,713.1 641.4,720.3 642.4,727.6 643.6,734.9 645.1,742.1 646.7,749.4 648.5,756.7 M627.7,558.6 629.4,565.9 631.2,573.1 633.2,580.4 635.1,587.6 637.1,594.9 639,602.1 640.7,609.4 642.3,616.7 643.7,623.9 644.8,631.2 645.7,638.4 646.3,645.7 646.8,652.9 647,660.2 647.1,667.5 647.2,674.7 647.2,682 647.2,689.3 647.4,696.5 647.7,703.8 648.2,711.1 648.9,718.4 649.8,725.6 651,732.9 652.4,740.2 654,747.5 655.8,754.8 M635,556.5 636.7,563.8 638.5,571.1 640.4,578.3 642.4,585.6 644.4,592.8 646.3,600.1 648.1,607.4 649.6,614.6 651,621.9 652.2,629.2 653.1,636.4 653.8,643.7 654.3,651 654.5,658.2 654.7,665.5 654.7,672.8 654.7,680.1 654.8,687.3 654.9,694.6 655.2,701.9 655.6,709.2 656.3,716.5 657.2,723.8 658.3,731.1 659.7,738.4 661.3,745.7 663.1,753 M642.3,554.5 644,561.8 645.8,569 647.7,576.3 649.7,583.6 651.7,590.8 653.6,598.1 655.4,605.4 657,612.7 658.4,619.9 659.6,627.2 660.5,634.5 661.2,641.8 661.7,649.1 662,656.4 662.2,663.7 662.2,671 662.3,678.2 662.3,685.5 662.4,692.9 662.7,700.2 663.1,707.5 663.7,714.8 664.6,722.1 665.7,729.4 667.1,736.7 668.6,744.1 670.4,751.4 M649.6,552.5 651.3,559.8 653.1,567.1 655,574.4 656.9,581.7 658.9,588.9 660.8,596.2 662.7,603.5 664.3,610.8 665.8,618.1 667,625.4 668,632.7 668.7,640 669.2,647.3 669.5,654.6 669.7,662 669.8,669.3 669.8,676.6 669.8,683.9 669.9,691.2 670.2,698.6 670.6,705.9 671.2,713.2 672,720.6 673.1,727.9 674.4,735.3 675.9,742.6 677.7,750 M657,550.7 658.6,558 660.3,565.3 662.2,572.6 664.2,579.9 666.2,587.2 668.1,594.5 670,601.8 671.6,609.1 673.1,616.4 674.4,623.8 675.4,631.1 676.1,638.4 676.7,645.7 677,653.1 677.2,660.4 677.3,667.8 677.3,675.1 677.4,682.5 677.4,689.8 677.6,697.2 678,704.5 678.6,711.9 679.4,719.3 680.5,726.7 681.7,734 683.3,741.4 685,748.8 M664.3,549 665.9,556.3 667.6,563.6 669.5,570.9 671.5,578.3 673.5,585.6 675.4,592.9 677.3,600.3 678.9,607.6 680.5,614.9 681.7,622.3 682.8,629.7 683.6,637 684.2,644.4 684.5,651.7 684.7,659.1 684.8,666.5 684.9,673.9 684.9,681.2 685,688.6 685.1,696 685.5,703.4 686,710.8 686.8,718.2 687.8,725.6 689.1,733 690.6,740.4 692.3,747.8 M671.6,547.4 673.2,554.8 674.9,562.1 676.8,569.5 678.7,576.8 680.7,584.2 682.7,591.6 684.5,598.9 686.3,606.3 687.8,613.7 689.1,621 690.2,628.4 691,635.8 691.6,643.2 692,650.6 692.3,658 692.4,665.4 692.4,672.8 692.4,680.2 692.5,687.6 692.6,695.1 693,702.5 693.5,709.9 694.2,717.3 695.2,724.8 696.4,732.2 697.9,739.7 699.6,747.1 M679,546.1 680.5,553.5 682.2,560.9 684.1,568.2 686,575.6 688,583 690,590.4 691.8,597.8 693.6,605.2 695.1,612.6 696.5,620 697.6,627.4 698.5,634.8 699.1,642.3 699.5,649.7 699.8,657.1 699.9,664.6 699.9,672 699.9,679.4 700,686.9 700.2,694.3 700.5,701.8 700.9,709.2 701.7,716.7 702.6,724.2 703.8,731.6 705.2,739.1 706.9,746.6 M686.3,545 687.8,552.4 689.5,559.8 691.3,567.2 693.3,574.6 695.3,582.1 697.2,589.5 699.1,596.9 700.9,604.3 702.5,611.8 703.9,619.2 705,626.6 705.9,634.1 706.6,641.5 707,649 707.3,656.5 707.4,663.9 707.5,671.4 707.5,678.9 707.5,686.3 707.7,693.8 707.9,701.3 708.4,708.8 709.1,716.2 710,723.7 711.2,731.2 712.6,738.7 714.2,746.2 M693.7,544.1 695.1,551.5 696.8,559 698.6,566.4 700.6,573.9 702.5,581.3 704.5,588.8 706.4,596.2 708.2,603.7 709.8,611.1 711.2,618.6 712.4,626.1 713.3,633.6 714,641 714.5,648.5 714.8,656 714.9,663.5 715,671 715,678.5 715,686 715.2,693.5 715.4,701 715.9,708.5 716.5,716 717.4,723.5 718.5,731 719.9,738.5 721.5,746 M701,543.4 702.5,550.9 704.1,558.4 705.9,565.8 707.8,573.3 709.8,580.8 711.8,588.3 713.7,595.7 715.5,603.2 717.1,610.7 718.6,618.2 719.8,625.7 720.8,633.2 721.5,640.7 722,648.2 722.3,655.7 722.5,663.2 722.5,670.7 722.5,678.2 722.6,685.8 722.7,693.3 722.9,700.8 723.3,708.3 723.9,715.9 724.8,723.4 725.9,730.9 727.2,738.4 728.8,746 M708.4,543 709.8,550.5 711.4,558 713.2,565.4 715.1,572.9 717.1,580.4 719,587.9 721,595.4 722.8,603 724.5,610.5 725.9,618 727.2,625.5 728.2,633 728.9,640.5 729.5,648.1 729.8,655.6 730,663.1 730.1,670.6 730.1,678.2 730.1,685.7 730.2,693.2 730.4,700.8 730.8,708.3 731.4,715.8 732.2,723.4 733.3,730.9 734.6,738.4 736.1,746 M715.7,542.7 717.1,550.2 718.7,557.7 720.5,565.2 722.4,572.7 724.3,580.3 726.3,587.8 728.3,595.3 730.1,602.8 731.8,610.4 733.3,617.9 734.6,625.4 735.6,632.9 736.4,640.5 736.9,648 737.3,655.5 737.5,663.1 737.6,670.6 737.6,678.2 737.6,685.7 737.7,693.2 737.9,700.8 738.3,708.3 738.8,715.9 739.6,723.4 740.6,731 741.9,738.5 743.4,746 M723.1,542.6 724.5,550.1 726,557.6 727.8,565.1 729.6,572.7 731.6,580.2 733.6,587.7 735.5,595.3 737.4,602.8 739.1,610.3 740.6,617.9 741.9,625.4 743,633 743.8,640.5 744.4,648 744.8,655.6 745,663.1 745.1,670.7 745.1,678.2 745.2,685.8 745.2,693.3 745.4,700.8 745.7,708.4 746.3,715.9 747,723.5 748,731 749.3,738.5 750.7,746.1 M503.7,572.3 511,572.2 518.2,572.3 525.5,572.3 532.8,572.4 540.1,572.3 547.4,572.2 554.7,571.9 561.9,571.5 569.2,570.9 576.5,570 583.8,568.9 591.1,567.6 598.4,566.1 605.7,564.4 613,562.6 620.4,560.6 627.7,558.6 635,556.5 642.3,554.5 649.6,552.5 657,550.7 664.3,549 671.6,547.4 679,546.1 686.3,545 693.7,544.1 701,543.4 708.4,543 715.7,542.7 723.1,542.6 M505.7,579.8 512.9,579.8 520.2,579.8 527.5,579.9 534.7,579.9 542,579.9 549.3,579.7 556.5,579.4 563.8,579 571.1,578.3 578.4,577.4 585.6,576.3 592.9,575 600.2,573.4 607.5,571.7 614.8,569.9 622.1,567.9 629.4,565.9 636.7,563.8 644,561.8 651.3,559.8 658.6,558 665.9,556.3 673.2,554.8 680.5,553.5 687.8,552.4 695.1,551.5 702.5,550.9 709.8,550.5 717.1,550.2 724.5,550.1 M507.6,587.3 514.9,587.3 522.2,587.3 529.4,587.4 536.7,587.4 544,587.4 551.2,587.2 558.5,586.9 565.8,586.4 573,585.7 580.3,584.8 587.6,583.7 594.8,582.3 602.1,580.7 609.4,579 616.7,577.1 623.9,575.1 631.2,573.1 638.5,571.1 645.8,569 653.1,567.1 660.3,565.3 667.6,563.6 674.9,562.1 682.2,560.9 689.5,559.8 696.8,559 704.1,558.4 711.4,558 718.7,557.7 726,557.6 M509.6,594.9 516.9,594.8 524.1,594.9 531.4,594.9 538.7,595 546,594.9 553.2,594.7 560.5,594.4 567.8,593.9 575,593.1 582.3,592.2 589.6,591 596.8,589.6 604.1,588 611.4,586.3 618.6,584.4 625.9,582.4 633.2,580.4 640.4,578.3 647.7,576.3 655,574.4 662.2,572.6 669.5,570.9 676.8,569.5 684.1,568.2 691.3,567.2 698.6,566.4 705.9,565.8 713.2,565.4 720.5,565.2 727.8,565.1 M511.4,602.4 518.7,602.4 526,602.4 533.3,602.5 540.6,602.5 547.9,602.4 555.2,602.2 562.4,601.9 569.7,601.3 577,600.6 584.3,599.6 591.5,598.4 598.8,597 606.1,595.4 613.3,593.6 620.6,591.7 627.9,589.7 635.1,587.6 642.4,585.6 649.7,583.6 656.9,581.7 664.2,579.9 671.5,578.3 678.7,576.8 686,575.6 693.3,574.6 700.6,573.9 707.8,573.3 715.1,572.9 722.4,572.7 729.6,572.7 M513.1,609.9 520.4,609.9 527.8,610 535.1,610 542.4,610 549.7,609.9 557,609.7 564.3,609.3 571.6,608.8 578.9,608 586.1,607 593.4,605.7 600.7,604.3 608,602.7 615.3,600.9 622.6,598.9 629.8,596.9 637.1,594.9 644.4,592.8 651.7,590.8 658.9,588.9 666.2,587.2 673.5,585.6 680.7,584.2 688,583 695.3,582.1 702.5,581.3 709.8,580.8 717.1,580.4 724.3,580.3 731.6,580.2 M514.6,617.5 522,617.5 529.3,617.5 536.7,617.6 544,617.6 551.3,617.5 558.6,617.2 566,616.8 573.3,616.2 580.6,615.4 587.9,614.3 595.2,613.1 602.5,611.6 609.8,610 617.1,608.1 624.4,606.2 631.7,604.2 639,602.1 646.3,600.1 653.6,598.1 660.8,596.2 668.1,594.5 675.4,592.9 682.7,591.6 690,590.4 697.2,589.5 704.5,588.8 711.8,588.3 719,587.9 726.3,587.8 733.6,587.7 M515.9,625 523.3,625 530.7,625.1 538,625.1 545.4,625.1 552.8,625 560.1,624.7 567.5,624.3 574.8,623.6 582.2,622.8 589.5,621.7 596.8,620.4 604.2,618.9 611.5,617.3 618.8,615.4 626.1,613.5 633.4,611.4 640.7,609.4 648.1,607.4 655.4,605.4 662.7,603.5 670,601.8 677.3,600.3 684.5,598.9 691.8,597.8 699.1,596.9 706.4,596.2 713.7,595.7 721,595.4 728.3,595.3 735.5,595.3 M517,632.5 524.4,632.5 531.8,632.6 539.2,632.6 546.6,632.6 554,632.5 561.4,632.2 568.7,631.7 576.1,631.1 583.5,630.2 590.9,629.1 598.2,627.8 605.6,626.3 612.9,624.6 620.3,622.7 627.6,620.7 635,618.7 642.3,616.7 649.6,614.6 657,612.7 664.3,610.8 671.6,609.1 678.9,607.6 686.3,606.3 693.6,605.2 700.9,604.3 708.2,603.7 715.5,603.2 722.8,603 730.1,602.8 737.4,602.8 M517.8,640.1 525.2,640.1 532.7,640.1 540.1,640.2 547.5,640.1 555,640 562.4,639.7 569.8,639.2 577.2,638.5 584.6,637.6 592,636.5 599.4,635.1 606.8,633.6 614.2,631.8 621.6,630 628.9,628 636.3,626 643.7,623.9 651,621.9 658.4,619.9 665.8,618.1 673.1,616.4 680.5,614.9 687.8,613.7 695.1,612.6 702.5,611.8 709.8,611.1 717.1,610.7 724.5,610.5 731.8,610.4 739.1,610.3 M518.4,647.6 525.9,647.6 533.3,647.7 540.8,647.7 548.2,647.7 555.7,647.5 563.1,647.2 570.6,646.6 578,645.9 585.5,645 592.9,643.8 600.3,642.5 607.7,640.9 615.2,639.1 622.6,637.3 630,635.3 637.4,633.2 644.8,631.2 652.2,629.2 659.6,627.2 667,625.4 674.4,623.8 681.7,622.3 689.1,621 696.5,620 703.9,619.2 711.2,618.6 718.6,618.2 725.9,618 733.3,617.9 740.6,617.9 M518.8,655.1 526.3,655.2 533.7,655.2 541.2,655.2 548.7,655.2 556.2,655 563.7,654.6 571.2,654.1 578.6,653.4 586.1,652.4 593.6,651.2 601,649.8 608.5,648.2 615.9,646.4 623.4,644.5 630.8,642.5 638.2,640.5 645.7,638.4 653.1,636.4 660.5,634.5 668,632.7 675.4,631.1 682.8,629.7 690.2,628.4 697.6,627.4 705,626.6 712.4,626.1 719.8,625.7 727.2,625.5 734.6,625.4 741.9,625.4 M519,662.7 526.5,662.7 534,662.8 541.5,662.8 549,662.7 556.5,662.5 564,662.1 571.5,661.5 579,660.8 586.5,659.8 594,658.6 601.5,657.1 609,655.5 616.4,653.7 623.9,651.8 631.4,649.8 638.9,647.7 646.3,645.7 653.8,643.7 661.2,641.8 668.7,640 676.1,638.4 683.6,637 691,635.8 698.5,634.8 705.9,634.1 713.3,633.6 720.8,633.2 728.2,633 735.6,632.9 743,633 M519.1,670.2 526.6,670.3 534.1,670.3 541.6,670.3 549.2,670.2 556.7,670 564.2,669.6 571.7,669 579.2,668.2 586.8,667.2 594.3,665.9 601.8,664.4 609.3,662.8 616.8,661 624.3,659.1 631.8,657 639.3,655 646.8,652.9 654.3,651 661.7,649.1 669.2,647.3 676.7,645.7 684.2,644.4 691.6,643.2 699.1,642.3 706.6,641.5 714,641 721.5,640.7 728.9,640.5 736.4,640.5 743.8,640.5 M519.1,677.7 526.6,677.8 534.2,677.8 541.7,677.8 549.2,677.7 556.7,677.5 564.3,677 571.8,676.4 579.3,675.6 586.9,674.5 594.4,673.3 601.9,671.8 609.4,670.1 617,668.3 624.5,666.3 632,664.3 639.5,662.3 647,660.2 654.5,658.2 662,656.4 669.5,654.6 677,653.1 684.5,651.7 692,650.6 699.5,649.7 707,649 714.5,648.5 722,648.2 729.5,648.1 736.9,648 744.4,648 M519.1,685.3 526.6,685.3 534.2,685.4 541.7,685.4 549.2,685.2 556.8,685 564.3,684.5 571.8,683.9 579.4,683 586.9,681.9 594.4,680.6 602,679.1 609.5,677.4 617,675.6 624.6,673.6 632.1,671.6 639.6,669.5 647.1,667.5 654.7,665.5 662.2,663.7 669.7,662 677.2,660.4 684.7,659.1 692.3,658 699.8,657.1 707.3,656.5 714.8,656 722.3,655.7 729.8,655.6 737.3,655.5 744.8,655.6 M519.2,692.8 526.7,692.9 534.2,692.9 541.7,692.9 549.3,692.7 556.8,692.4 564.3,692 571.9,691.3 579.4,690.4 586.9,689.3 594.4,687.9 602,686.4 609.5,684.7 617,682.8 624.6,680.9 632.1,678.8 639.6,676.8 647.2,674.7 654.7,672.8 662.2,671 669.8,669.3 677.3,667.8 684.8,666.5 692.4,665.4 699.9,664.6 707.4,663.9 714.9,663.5 722.5,663.2 730,663.1 737.5,663.1 745,663.1 M519.4,700.4 526.9,700.4 534.4,700.5 541.9,700.4 549.4,700.2 556.9,699.9 564.4,699.4 571.9,698.7 579.5,697.8 587,696.6 594.5,695.3 602,693.7 609.5,692 617.1,690.1 624.6,688.1 632.1,686.1 639.7,684 647.2,682 654.7,680.1 662.3,678.2 669.8,676.6 677.3,675.1 684.9,673.9 692.4,672.8 699.9,672 707.5,671.4 715,671 722.5,670.7 730.1,670.6 737.6,670.6 745.1,670.7 M519.7,707.9 527.2,708 534.7,708 542.2,707.9 549.6,707.7 557.1,707.4 564.6,706.9 572.1,706.1 579.6,705.2 587.1,704 594.6,702.6 602.1,701 609.7,699.3 617.2,697.4 624.7,695.4 632.2,693.3 639.7,691.3 647.2,689.3 654.8,687.3 662.3,685.5 669.8,683.9 677.4,682.5 684.9,681.2 692.4,680.2 699.9,679.4 707.5,678.9 715,678.5 722.5,678.2 730.1,678.2 737.6,678.2 745.1,678.2 M520.3,715.5 527.7,715.5 535.2,715.5 542.6,715.4 550.1,715.2 557.5,714.9 565,714.3 572.5,713.6 580,712.6 587.4,711.4 594.9,710 602.4,708.3 609.9,706.6 617.4,704.6 624.9,702.6 632.4,700.6 639.9,698.5 647.4,696.5 654.9,694.6 662.4,692.9 669.9,691.2 677.4,689.8 685,688.6 692.5,687.6 700,686.9 707.5,686.3 715,686 722.6,685.8 730.1,685.7 737.6,685.7 745.2,685.8 M521,723 528.4,723 535.9,723.1 543.3,723 550.7,722.7 558.2,722.4 565.6,721.8 573,721 580.5,720 587.9,718.7 595.4,717.3 602.9,715.6 610.3,713.8 617.8,711.9 625.3,709.9 632.7,707.9 640.2,705.8 647.7,703.8 655.2,701.9 662.7,700.2 670.2,698.6 677.6,697.2 685.1,696 692.6,695.1 700.2,694.3 707.7,693.8 715.2,693.5 722.7,693.3 730.2,693.2 737.7,693.2 745.2,693.3 M522,730.5 529.4,730.6 536.8,730.6 544.2,730.5 551.6,730.2 559,729.8 566.4,729.2 573.8,728.4 581.2,727.3 588.7,726.1 596.1,724.6 603.5,722.9 610.9,721.1 618.4,719.2 625.8,717.2 633.3,715.1 640.7,713.1 648.2,711.1 655.6,709.2 663.1,707.5 670.6,705.9 678,704.5 685.5,703.4 693,702.5 700.5,701.8 707.9,701.3 715.4,701 722.9,700.8 730.4,700.8 737.9,700.8 745.4,700.8 M523.3,738.1 530.6,738.1 538,738.1 545.4,738 552.7,737.7 560.1,737.3 567.5,736.7 574.8,735.8 582.2,734.7 589.6,733.4 597,731.9 604.4,730.2 611.8,728.4 619.2,726.4 626.6,724.4 634,722.4 641.4,720.3 648.9,718.4 656.3,716.5 663.7,714.8 671.2,713.2 678.6,711.9 686,710.8 693.5,709.9 700.9,709.2 708.4,708.8 715.9,708.5 723.3,708.3 730.8,708.3 738.3,708.3 745.7,708.4 M524.8,745.6 532.1,745.7 539.4,745.6 546.7,745.5 554.1,745.2 561.4,744.7 568.8,744.1 576.1,743.2 583.5,742.1 590.8,740.8 598.2,739.2 605.5,737.5 612.9,735.7 620.3,733.7 627.7,731.7 635,729.6 642.4,727.6 649.8,725.6 657.2,723.8 664.6,722.1 672,720.6 679.4,719.3 686.8,718.2 694.2,717.3 701.7,716.7 709.1,716.2 716.5,716 723.9,715.9 731.4,715.8 738.8,715.9 746.3,715.9 M526.4,753.2 533.7,753.2 541,753.2 548.3,753 555.6,752.7 563,752.2 570.3,751.5 577.6,750.6 584.9,749.5 592.2,748.1 599.6,746.6 606.9,744.8 614.2,743 621.6,741 628.9,738.9 636.3,736.9 643.6,734.9 651,732.9 658.3,731.1 665.7,729.4 673.1,727.9 680.5,726.7 687.8,725.6 695.2,724.8 702.6,724.2 710,723.7 717.4,723.5 724.8,723.4 732.2,723.4 739.6,723.4 747,723.5 M528.3,760.7 535.5,760.7 542.8,760.7 550.1,760.5 557.4,760.2 564.7,759.7 572,758.9 579.3,758 586.6,756.8 593.9,755.4 601.2,753.9 608.5,752.1 615.8,750.2 623.1,748.2 630.4,746.2 637.7,744.1 645.1,742.1 652.4,740.2 659.7,738.4 667.1,736.7 674.4,735.3 681.7,734 689.1,733 696.4,732.2 703.8,731.6 711.2,731.2 718.5,731 725.9,730.9 733.3,730.9 740.6,731 748,731 M530.2,768.3 537.5,768.3 544.7,768.2 552,768 559.3,767.7 566.6,767.1 573.8,766.4 581.1,765.4 588.4,764.2 595.7,762.8 603,761.2 610.2,759.4 617.5,757.5 624.8,755.5 632.1,753.5 639.4,751.4 646.7,749.4 654,747.5 661.3,745.7 668.6,744.1 675.9,742.6 683.3,741.4 690.6,740.4 697.9,739.7 705.2,739.1 712.6,738.7 719.9,738.5 727.2,738.4 734.6,738.4 741.9,738.5 749.3,738.5 M532.2,775.8 539.4,775.8 546.7,775.7 554,775.5 561.2,775.1 568.5,774.6 575.8,773.8 583,772.8 590.3,771.5 597.6,770.1 604.9,768.5 612.1,766.7 619.4,764.8 626.7,762.8 634,760.7 641.2,758.7 648.5,756.7 655.8,754.8 663.1,753 670.4,751.4 677.7,750 685,748.8 692.3,747.8 699.6,747.1 706.9,746.6 714.2,746.2 721.5,746 728.8,746 736.1,746 743.4,746 750.7,746.1" fill="none" stroke="#000" stroke-opacity="0.7" stroke-width="0.9" stroke-dasharray="0.9 5"/></g>
<rect x="526.80" y="586.80" width="174.90" height="165.30" fill="none" stroke="#000" stroke-width="2.4"/>
<text transform="translate(531.00,612.80) scale(1.08,1)" font-size="32" font-weight="bold" fill="#000" stroke="#000" stroke-width="1.1">n</text>
<rect x="535.20" y="743.10" width="48.60" height="4.50" fill="#000" />
<rect x="730.60" y="585.60" width="183.80" height="167.10" fill="#DCE8F0" />
<path d="M735.4,623.0 C739.2,613.4 748.2,609.2 758.4,603.8 C768.6,598.4 785.6,592.6 796.8,590.4 C808.0,588.2 814.5,588.5 825.7,590.4 C836.9,592.3 852.9,596.5 864.1,601.9 C875.3,607.3 885.9,614.7 892.9,623.0 C899.9,631.3 904.5,640.6 906.4,651.8 C908.3,663.0 907.3,679.1 904.4,690.3 C901.5,701.5 897.4,712.4 889.1,719.1 C880.8,725.8 865.1,728.0 854.5,730.6 C843.9,733.2 836.9,733.2 825.7,734.5 C814.5,735.8 795.9,736.7 787.2,738.3 C778.6,739.9 778.6,744.1 773.8,744.1 C769.0,744.1 763.8,745.7 758.4,738.3 C753.0,730.9 744.9,712.7 741.1,699.9 C737.3,687.1 736.4,674.3 735.4,661.5 C734.4,648.7 731.6,632.6 735.4,623.0 Z" fill="#E8ECEE"/>
<path d="M735.4,623.0 C739.2,613.4 748.2,609.2 758.4,603.8 C768.6,598.4 785.6,592.6 796.8,590.4 C808.0,588.2 814.5,588.5 825.7,590.4 C836.9,592.3 852.9,596.5 864.1,601.9 C875.3,607.3 885.9,614.7 892.9,623.0 C899.9,631.3 904.5,640.6 906.4,651.8 C908.3,663.0 907.3,679.1 904.4,690.3 C901.5,701.5 897.4,712.4 889.1,719.1 C880.8,725.8 865.1,728.0 854.5,730.6 C843.9,733.2 836.9,733.2 825.7,734.5 C814.5,735.8 795.9,736.7 787.2,738.3 C778.6,739.9 778.6,744.1 773.8,744.1 C769.0,744.1 763.8,745.7 758.4,738.3 C753.0,730.9 744.9,712.7 741.1,699.9 C737.3,687.1 736.4,674.3 735.4,661.5 C734.4,648.7 731.6,632.6 735.4,623.0 Z" fill="none" stroke="#C0B0A0" stroke-width="5" stroke-opacity="0.22" filter="url(#blur1)"/>
<g fill="none" stroke="#B0A090" stroke-opacity="0.35" stroke-width="1.2" filter="url(#blur1)"><path d="M826,592 C828,630 822,660 815,690"/><path d="M760,690 C780,682 800,684 815,690 C830,697 840,700 850,705"/><path d="M738,650 C770,645 800,640 826,628"/><path d="M790,690 C795,705 800,720 805,735"/></g>
<ellipse cx="815" cy="715" rx="35" ry="18" fill="#C8C0B8" fill-opacity="0.5" filter="url(#blur3)"/>
<path d="M838,703 C842,698 848,698 852,702 C856,705 858,712 855,720 C851,728 843,728 838,724 C833,720 834,708 838,703 Z" fill="#1C1C50" filter="url(#blur1)"/>
<ellipse cx="847" cy="711" rx="11" ry="9" fill="#14143C"/>
<ellipse cx="799" cy="719" rx="6" ry="7" fill="#2C2C68" filter="url(#blur1)"/>
<rect x="731.80" y="586.80" width="181.40" height="164.70" fill="none" stroke="#000" stroke-width="2.4"/>
<text transform="translate(742.50,613.20) scale(1.08,1)" font-size="32" font-weight="bold" fill="#000" stroke="#000" stroke-width="1.1">o</text>
<rect x="736.90" y="742.70" width="32.70" height="4.40" fill="#000" />
<text x="903.50" y="744.60" font-size="20" text-anchor="end" font-weight="normal" font-style="italic" fill="#4A4C88" >SNAI2</text>
<rect x="945.00" y="586.50" width="236.70" height="164.90" fill="#000" />
<g filter="url(#jetn)"><path d="M975.0,683.7 C974.5,678.0 974.9,672.5 976.4,667.3 C977.9,662.1 980.4,657.0 983.9,652.3 C987.4,647.6 991.9,643.1 997.4,638.9 C1002.9,634.7 1010.6,630.1 1016.8,626.9 C1023.0,623.6 1028.0,621.6 1034.7,619.4 C1041.4,617.2 1049.7,614.9 1057.2,613.5 C1064.7,612.1 1072.1,610.7 1079.6,611.2 C1087.1,611.7 1095.3,613.5 1102.0,616.4 C1108.7,619.3 1114.2,624.1 1119.9,628.4 C1125.6,632.6 1132.2,637.2 1136.4,641.9 C1140.6,646.6 1143.1,651.8 1145.3,656.8 C1147.5,661.8 1148.8,666.7 1149.8,671.7 C1150.8,676.7 1151.3,681.7 1151.3,686.7 C1151.3,691.7 1151.8,698.6 1149.8,701.6 C1147.8,704.6 1144.9,704.4 1139.4,704.6 C1133.9,704.9 1123.2,703.6 1117.0,703.1 C1110.8,702.6 1107.0,701.4 1102.0,701.6 C1097.0,701.9 1090.8,703.6 1087.1,704.6 C1083.4,705.6 1084.6,707.1 1079.6,707.6 C1074.6,708.1 1064.7,708.4 1057.2,707.6 C1049.7,706.9 1040.9,703.9 1034.7,703.1 C1028.5,702.4 1024.8,702.9 1019.8,703.1 C1014.8,703.4 1009.8,703.9 1004.8,704.6 C999.8,705.4 994.1,708.1 989.9,707.6 C985.7,707.1 981.9,705.6 979.4,701.6 C976.9,697.6 975.5,689.4 975.0,683.7 Z" fill="#464646"/><g clip-path="url(#clipP)"><path d="M1025,702 C1030,680 1045,666 1060,666 C1077,666 1088,678 1095,692" stroke="#7A7A7A" stroke-width="20" fill="none" filter="url(#blur6)"/><ellipse cx="1058" cy="668" rx="18" ry="10" fill="#808080" filter="url(#blur6)"/><ellipse cx="1094" cy="688" rx="10" ry="13" fill="#A8A8A8" filter="url(#blur3)"/><ellipse cx="1062" cy="697" rx="13" ry="8" fill="#404040" filter="url(#blur3)"/><ellipse cx="1085" cy="645" rx="40" ry="12" fill="#343434" filter="url(#blur6)"/><ellipse cx="1005" cy="670" rx="10" ry="12" fill="#343434" filter="url(#blur6)"/><ellipse cx="1102" cy="657" rx="12" ry="10" fill="#343434" filter="url(#blur6)"/><ellipse cx="1020" cy="640" rx="25" ry="8" fill="#545454" filter="url(#blur6)"/><path d="M1072,629 L1076,628 L1083,640 L1080,641 Z" fill="#000"/><circle cx="1081" cy="618" r="2.5" fill="#000"/></g></g>
<text transform="translate(953.50,611.50) scale(1.08,1)" font-size="32" font-weight="bold" fill="#fff" stroke="#fff" stroke-width="1.1">p</text>
<path d="M1134.7,722.6 L1173.7,722.6 L1173.7,710.5 Q1154.2,713.5 1134.7,719.6 Z" fill="url(#cbp)" stroke="#fff" stroke-width="1.4"/>
<text x="1179.50" y="745.60" font-size="20" text-anchor="end" font-weight="normal" font-style="italic" fill="#fff" >GDF1</text>
<rect x="954.00" y="742.80" width="45.60" height="4.40" fill="#fff" />
<rect x="1206.90" y="586.10" width="195.40" height="166.00" fill="#fff" />
<g clip-path="url(#clipQ)"><path d="M1211.1,698.0 C1210.4,690.0 1214.3,679.4 1218.8,671.1 C1223.3,662.8 1230.0,654.1 1238.0,648.0 C1246.0,641.9 1257.2,639.4 1266.8,634.6 C1276.4,629.8 1286.7,622.9 1295.7,619.2 C1304.7,615.5 1312.6,612.5 1320.6,612.5 C1328.6,612.5 1336.7,615.5 1343.7,619.2 C1350.8,622.9 1356.5,629.8 1362.9,634.6 C1369.3,639.4 1378.2,641.3 1382.1,648.0 C1385.9,654.7 1384.1,667.9 1386.0,674.9 C1387.9,681.9 1392.6,683.9 1393.6,690.3 C1394.5,696.7 1394.6,708.5 1391.7,713.3 C1388.8,718.1 1382.8,719.7 1376.4,719.1 C1370.0,718.5 1362.0,711.4 1353.3,709.5 C1344.6,707.6 1334.1,707.3 1324.5,707.6 C1314.9,707.9 1305.3,711.4 1295.7,711.4 C1286.1,711.4 1276.4,706.6 1266.8,707.6 C1257.2,708.6 1245.3,715.3 1238.0,717.2 C1230.7,719.1 1227.2,722.3 1222.7,719.1 C1218.2,715.9 1211.8,706.0 1211.1,698.0 Z" fill="#FBF1F3"/><path d="M1236,705 C1242,662 1280,640 1318,640 C1356,642 1378,672 1384,708" stroke="#A8A8F0" stroke-width="22" fill="none" filter="url(#blur6)"/><ellipse cx="1252" cy="680" rx="14" ry="16" fill="#9898EE" filter="url(#blur6)"/><ellipse cx="1352" cy="668" rx="12" ry="18" fill="#9898EE" filter="url(#blur6)"/><ellipse cx="1312" cy="690" rx="24" ry="16" fill="#FFF6F6" filter="url(#blur6)"/><path d="M1211.1,698.0 C1210.4,690.0 1214.3,679.4 1218.8,671.1 C1223.3,662.8 1230.0,654.1 1238.0,648.0 C1246.0,641.9 1257.2,639.4 1266.8,634.6 C1276.4,629.8 1286.7,622.9 1295.7,619.2 C1304.7,615.5 1312.6,612.5 1320.6,612.5 C1328.6,612.5 1336.7,615.5 1343.7,619.2 C1350.8,622.9 1356.5,629.8 1362.9,634.6 C1369.3,639.4 1378.2,641.3 1382.1,648.0 C1385.9,654.7 1384.1,667.9 1386.0,674.9 C1387.9,681.9 1392.6,683.9 1393.6,690.3 C1394.5,696.7 1394.6,708.5 1391.7,713.3 C1388.8,718.1 1382.8,719.7 1376.4,719.1 C1370.0,718.5 1362.0,711.4 1353.3,709.5 C1344.6,707.6 1334.1,707.3 1324.5,707.6 C1314.9,707.9 1305.3,711.4 1295.7,711.4 C1286.1,711.4 1276.4,706.6 1266.8,707.6 C1257.2,708.6 1245.3,715.3 1238.0,717.2 C1230.7,719.1 1227.2,722.3 1222.7,719.1 C1218.2,715.9 1211.8,706.0 1211.1,698.0 Z" fill="none" stroke="#F4C4C4" stroke-width="8" filter="url(#blur3)"/><path d="M1205,616 1203.5,632.5 1202,649 1200.5,665.5 1199,682 1197.5,698.5 1196,715 1194.5,731.5 1193,748.1 M1209,614.7 1207.6,631.2 1206.1,647.6 1204.7,664.1 1203.2,680.6 1201.8,697 1200.4,713.5 1198.9,730 1197.5,746.5 M1213,613.5 1211.6,630 1210.2,646.4 1208.9,662.8 1207.5,679.2 1206.1,695.6 1204.7,712.1 1203.3,728.5 1202,745 M1217,612.4 1215.7,628.8 1214.4,645.1 1213,661.5 1211.7,677.9 1210.4,694.3 1209.1,710.7 1207.8,727.1 1206.4,743.5 M1221,611.3 1219.7,627.6 1218.5,644 1217.2,660.3 1216,676.7 1214.7,693 1213.4,709.4 1212.2,725.8 1210.9,742.2 M1225,610.2 1223.8,626.5 1222.6,642.9 1221.4,659.2 1220.2,675.5 1219,691.8 1217.8,708.2 1216.6,724.5 1215.4,740.8 M1229,609.2 1227.9,625.5 1226.7,641.8 1225.6,658.1 1224.4,674.4 1223.3,690.7 1222.2,707 1221,723.3 1219.9,739.6 M1233,608.3 1231.9,624.5 1230.8,640.8 1229.8,657.1 1228.7,673.3 1227.6,689.6 1226.5,705.9 1225.4,722.1 1224.4,738.4 M1237,607.4 1236,623.6 1235,639.8 1233.9,656.1 1232.9,672.3 1231.9,688.5 1230.9,704.8 1229.9,721 1228.8,737.3 M1241,606.6 1240,622.8 1239.1,639 1238.1,655.2 1237.2,671.4 1236.2,687.6 1235.2,703.8 1234.3,720 1233.3,736.2 M1245,605.8 1244.1,621.9 1243.2,638.1 1242.3,654.3 1241.4,670.5 1240.5,686.7 1239.6,702.8 1238.7,719 1237.8,735.2 M1249,605 1248.2,621.2 1247.3,637.3 1246.5,653.5 1245.6,669.6 1244.8,685.8 1244,702 1243.1,718.1 1242.3,734.3 M1253,604.3 1252.2,620.5 1251.4,636.6 1250.7,652.7 1249.9,668.9 1249.1,685 1248.3,701.1 1247.5,717.3 1246.8,733.4 M1257,603.7 1256.3,619.8 1255.6,635.9 1254.8,652 1254.1,668.1 1253.4,684.3 1252.7,700.4 1252,716.5 1251.2,732.6 M1261,603.1 1260.3,619.2 1259.7,635.3 1259,651.4 1258.4,667.5 1257.7,683.6 1257,699.7 1256.4,715.8 1255.7,731.9 M1265,602.6 1264.4,618.6 1263.8,634.7 1263.2,650.8 1262.6,666.9 1262,683 1261.4,699 1260.8,715.1 1260.2,731.2 M1269,602.1 1268.5,618.1 1267.9,634.2 1267.4,650.3 1266.8,666.3 1266.3,682.4 1265.8,698.5 1265.2,714.5 1264.7,730.6 M1273,601.6 1272.5,617.7 1272,633.7 1271.6,649.8 1271.1,665.8 1270.6,681.9 1270.1,697.9 1269.6,714 1269.2,730.1 M1277,601.3 1276.6,617.3 1276.2,633.3 1275.7,649.4 1275.3,665.4 1274.9,681.4 1274.5,697.5 1274.1,713.5 1273.6,729.6 M1281,600.9 1280.6,616.9 1280.3,633 1279.9,649 1279.6,665 1279.2,681.1 1278.8,697.1 1278.5,713.1 1278.1,729.2 M1285,600.6 1284.7,616.7 1284.4,632.7 1284.1,648.7 1283.8,664.7 1283.5,680.7 1283.2,696.8 1282.9,712.8 1282.6,728.8 M1289,600.4 1288.8,616.4 1288.5,632.4 1288.3,648.4 1288,664.5 1287.8,680.5 1287.6,696.5 1287.3,712.5 1287.1,728.5 M1293,600.2 1292.8,616.2 1292.6,632.2 1292.5,648.3 1292.3,664.3 1292.1,680.3 1291.9,696.3 1291.7,712.3 1291.6,728.3 M1297,600.1 1296.9,616.1 1296.8,632.1 1296.6,648.1 1296.5,664.1 1296.4,680.1 1296.3,696.1 1296.2,712.1 1296,728.1 M1301,600 1300.9,616 1300.9,632 1300.8,648 1300.8,664 1300.7,680 1300.6,696 1300.6,712 1300.5,728 M1305,600 1305,616 1305,632 1305,648 1305,664 1305,680 1305,696 1305,712 1305,728 M1309,600 1309.1,616 1309.1,632 1309.2,648 1309.2,664 1309.3,680 1309.4,696 1309.4,712 1309.5,728 M1313,600.1 1313.1,616.1 1313.2,632.1 1313.4,648.1 1313.5,664.1 1313.6,680.1 1313.7,696.1 1313.8,712.1 1314,728.1 M1317,600.2 1317.2,616.2 1317.4,632.2 1317.5,648.3 1317.7,664.3 1317.9,680.3 1318.1,696.3 1318.3,712.3 1318.4,728.3 M1321,600.4 1321.2,616.4 1321.5,632.4 1321.7,648.4 1322,664.5 1322.2,680.5 1322.4,696.5 1322.7,712.5 1322.9,728.5 M1325,600.6 1325.3,616.7 1325.6,632.7 1325.9,648.7 1326.2,664.7 1326.5,680.7 1326.8,696.8 1327.1,712.8 1327.4,728.8 M1329,600.9 1329.4,616.9 1329.7,633 1330.1,649 1330.4,665 1330.8,681.1 1331.2,697.1 1331.5,713.1 1331.9,729.2 M1333,601.3 1333.4,617.3 1333.8,633.3 1334.3,649.4 1334.7,665.4 1335.1,681.4 1335.5,697.5 1335.9,713.5 1336.4,729.6 M1337,601.6 1337.5,617.7 1338,633.7 1338.4,649.8 1338.9,665.8 1339.4,681.9 1339.9,697.9 1340.4,714 1340.8,730.1 M1341,602.1 1341.5,618.1 1342.1,634.2 1342.6,650.3 1343.2,666.3 1343.7,682.4 1344.2,698.5 1344.8,714.5 1345.3,730.6 M1345,602.6 1345.6,618.6 1346.2,634.7 1346.8,650.8 1347.4,666.9 1348,683 1348.6,699 1349.2,715.1 1349.8,731.2 M1349,603.1 1349.7,619.2 1350.3,635.3 1351,651.4 1351.6,667.5 1352.3,683.6 1353,699.7 1353.6,715.8 1354.3,731.9 M1353,603.7 1353.7,619.8 1354.4,635.9 1355.2,652 1355.9,668.1 1356.6,684.3 1357.3,700.4 1358,716.5 1358.8,732.6 M1357,604.3 1357.8,620.5 1358.6,636.6 1359.3,652.7 1360.1,668.9 1360.9,685 1361.7,701.1 1362.5,717.3 1363.2,733.4 M1361,605 1361.8,621.2 1362.7,637.3 1363.5,653.5 1364.4,669.6 1365.2,685.8 1366,702 1366.9,718.1 1367.7,734.3 M1365,605.8 1365.9,621.9 1366.8,638.1 1367.7,654.3 1368.6,670.5 1369.5,686.7 1370.4,702.8 1371.3,719 1372.2,735.2 M1369,606.6 1370,622.8 1370.9,639 1371.9,655.2 1372.8,671.4 1373.8,687.6 1374.8,703.8 1375.7,720 1376.7,736.2 M1373,607.4 1374,623.6 1375,639.8 1376.1,656.1 1377.1,672.3 1378.1,688.5 1379.1,704.8 1380.1,721 1381.2,737.3 M1377,608.3 1378.1,624.5 1379.2,640.8 1380.2,657.1 1381.3,673.3 1382.4,689.6 1383.5,705.9 1384.6,722.1 1385.6,738.4 M1381,609.2 1382.1,625.5 1383.3,641.8 1384.4,658.1 1385.6,674.4 1386.7,690.7 1387.8,707 1389,723.3 1390.1,739.6 M1385,610.2 1386.2,626.5 1387.4,642.9 1388.6,659.2 1389.8,675.5 1391,691.8 1392.2,708.2 1393.4,724.5 1394.6,740.8 M1389,611.3 1390.3,627.6 1391.5,644 1392.8,660.3 1394,676.7 1395.3,693 1396.6,709.4 1397.8,725.8 1399.1,742.2 M1393,612.4 1394.3,628.8 1395.6,645.1 1397,661.5 1398.3,677.9 1399.6,694.3 1400.9,710.7 1402.2,727.1 1403.6,743.5 M1397,613.5 1398.4,630 1399.8,646.4 1401.1,662.8 1402.5,679.2 1403.9,695.6 1405.3,712.1 1406.7,728.5 1408,745 M1401,614.7 1402.4,631.2 1403.9,647.6 1405.3,664.1 1406.8,680.6 1408.2,697 1409.6,713.5 1411.1,730 1412.5,746.5 M1405,616 1406.5,632.5 1408,649 1409.5,665.5 1411,682 1412.5,698.5 1414,715 1415.5,731.5 1417,748.1" fill="none" stroke="#000" stroke-width="0.95" stroke-dasharray="1.4 1.3" stroke-opacity="0.9"/><path d="M1205,616 1221,611.3 1237,607.4 1253,604.3 1269,602.1 1285,600.6 1301,600 1317,600.2 1333,601.3 1349,603.1 1365,605.8 1381,609.2 1397,613.5 M1204.6,620.1 1220.7,615.4 1236.7,611.5 1252.8,608.4 1268.9,606.1 1284.9,604.6 1301,604 1317,604.2 1333.1,605.3 1349.2,607.1 1365.2,609.8 1381.3,613.3 1397.3,617.6 M1204.2,624.2 1220.4,619.5 1236.5,615.5 1252.6,612.4 1268.7,610.1 1284.8,608.6 1301,608 1317.1,608.2 1333.2,609.3 1349.3,611.1 1365.5,613.8 1381.6,617.4 1397.7,621.7 M1203.9,628.4 1220.1,623.5 1236.2,619.6 1252.4,616.4 1268.6,614.1 1284.8,612.7 1301,612 1317.1,612.2 1333.3,613.3 1349.5,615.2 1365.7,617.9 1381.9,621.5 1398,625.8 M1203.5,632.5 1219.7,627.6 1236,623.6 1252.2,620.5 1268.5,618.1 1284.7,616.7 1300.9,616 1317.2,616.2 1333.4,617.3 1349.7,619.2 1365.9,621.9 1382.1,625.5 1398.4,630 M1203.1,636.6 1219.4,631.7 1235.7,627.7 1252,624.5 1268.3,622.2 1284.6,620.7 1300.9,620 1317.2,620.2 1333.5,621.3 1349.8,623.2 1366.1,626 1382.4,629.6 1398.7,634.1 M1202.8,640.7 1219.1,635.8 1235.5,631.7 1251.8,628.5 1268.2,626.2 1284.5,624.7 1300.9,624 1317.3,624.2 1333.6,625.3 1350,627.2 1366.3,630 1382.7,633.7 1399.1,638.2 M1202.4,644.9 1218.8,639.9 1235.2,635.8 1251.6,632.6 1268.1,630.2 1284.5,628.7 1300.9,628 1317.3,628.2 1333.7,629.3 1350.2,631.3 1366.6,634.1 1383,637.7 1399.4,642.3 M1202,649 1218.5,644 1235,639.8 1251.4,636.6 1267.9,634.2 1284.4,632.7 1300.9,632 1317.4,632.2 1333.8,633.3 1350.3,635.3 1366.8,638.1 1383.3,641.8 1399.8,646.4 M1201.6,653.1 1218.2,648.1 1234.7,643.9 1251.2,640.6 1267.8,638.2 1284.3,636.7 1300.9,636 1317.4,636.2 1333.9,637.3 1350.5,639.3 1367,642.2 1383.6,645.9 1400.1,650.5 M1201.2,657.2 1217.8,652.2 1234.5,648 1251,644.7 1267.7,642.2 1284.2,640.7 1300.8,640 1317.5,640.2 1334,641.4 1350.7,643.3 1367.2,646.2 1383.8,649.9 1400.5,654.6 M1200.9,661.3 1217.5,656.2 1234.2,652 1250.9,648.7 1267.5,646.2 1284.2,644.7 1300.8,644 1317.5,644.2 1334.2,645.4 1350.8,647.4 1367.5,650.2 1384.1,654 1400.8,658.7 M1200.5,665.5 1217.2,660.3 1233.9,656.1 1250.7,652.7 1267.4,650.3 1284.1,648.7 1300.8,648 1317.5,648.3 1334.3,649.4 1351,651.4 1367.7,654.3 1384.4,658.1 1401.1,662.8 M1200.1,669.6 1216.9,664.4 1233.7,660.1 1250.5,656.8 1267.2,654.3 1284,652.7 1300.8,652 1317.6,652.3 1334.4,653.4 1351.1,655.4 1367.9,658.3 1384.7,662.2 1401.5,666.9 M1199.8,673.7 1216.6,668.5 1233.4,664.2 1250.3,660.8 1267.1,658.3 1284,656.7 1300.8,656 1317.6,656.3 1334.5,657.4 1351.3,659.4 1368.2,662.4 1385,666.2 1401.8,671 M1199.4,677.9 1216.3,672.6 1233.2,668.3 1250.1,664.8 1267,662.3 1283.9,660.7 1300.8,660 1317.7,660.3 1334.6,661.4 1351.5,663.5 1368.4,666.4 1385.3,670.3 1402.2,675.1 M1199,682 1216,676.7 1232.9,672.3 1249.9,668.9 1266.8,666.3 1283.8,664.7 1300.8,664 1317.7,664.3 1334.7,665.4 1351.6,667.5 1368.6,670.5 1385.6,674.4 1402.5,679.2 M1198.6,686.1 1215.6,680.8 1232.7,676.4 1249.7,672.9 1266.7,670.3 1283.7,668.7 1300.7,668 1317.8,668.3 1334.8,669.4 1351.8,671.5 1368.8,674.5 1385.8,678.5 1402.9,683.3 M1198.2,690.2 1215.3,684.9 1232.4,680.4 1249.5,676.9 1266.6,674.4 1283.7,672.7 1300.7,672 1317.8,672.3 1334.9,673.4 1352,675.5 1369,678.6 1386.1,682.5 1403.2,687.4 M1197.9,694.4 1215,689 1232.2,684.5 1249.3,681 1266.4,678.4 1283.6,676.7 1300.7,676 1317.9,676.3 1335,677.4 1352.1,679.6 1369.3,682.6 1386.4,686.6 1403.6,691.5 M1197.5,698.5 1214.7,693 1231.9,688.5 1249.1,685 1266.3,682.4 1283.5,680.7 1300.7,680 1317.9,680.3 1335.1,681.4 1352.3,683.6 1369.5,686.7 1386.7,690.7 1403.9,695.6 M1197.1,702.6 1214.4,697.1 1231.6,692.6 1248.9,689 1266.2,686.4 1283.4,684.7 1300.7,684 1317.9,684.3 1335.2,685.5 1352.5,687.6 1369.7,690.7 1387,694.8 1404.2,699.8 M1196.8,706.7 1214.1,701.2 1231.4,696.7 1248.7,693.1 1266,690.4 1283.3,688.7 1300.7,688 1318,688.3 1335.3,689.5 1352.6,691.6 1370,694.7 1387.3,698.8 1404.6,703.9 M1196.4,710.9 1213.8,705.3 1231.1,700.7 1248.5,697.1 1265.9,694.4 1283.3,692.8 1300.7,692 1318,692.3 1335.4,693.5 1352.8,695.7 1370.2,698.8 1387.6,702.9 1404.9,708 M1196,715 1213.4,709.4 1230.9,704.8 1248.3,701.1 1265.8,698.5 1283.2,696.8 1300.6,696 1318.1,696.3 1335.5,697.5 1353,699.7 1370.4,702.8 1387.8,707 1405.3,712.1 M1195.6,719.1 1213.1,713.5 1230.6,708.9 1248.1,705.2 1265.6,702.5 1283.1,700.8 1300.6,700 1318.1,700.3 1335.6,701.5 1353.1,703.7 1370.6,706.9 1388.1,711.1 1405.6,716.2 M1195.2,723.3 1212.8,717.6 1230.4,712.9 1247.9,709.2 1265.5,706.5 1283,704.8 1300.6,704 1318.2,704.3 1335.7,705.5 1353.3,707.7 1370.8,710.9 1388.4,715.1 1406,720.3 M1194.9,727.4 1212.5,721.7 1230.1,717 1247.7,713.2 1265.4,710.5 1283,708.8 1300.6,708 1318.2,708.3 1335.8,709.5 1353.5,711.8 1371.1,715 1388.7,719.2 1406.3,724.4 M1194.5,731.5 1212.2,725.8 1229.9,721 1247.5,717.3 1265.2,714.5 1282.9,712.8 1300.6,712 1318.3,712.3 1335.9,713.5 1353.6,715.8 1371.3,719 1389,723.3 1406.7,728.5 M1194.1,735.7 1211.9,729.9 1229.6,725.1 1247.3,721.3 1265.1,718.5 1282.8,716.8 1300.6,716 1318.3,716.3 1336,717.5 1353.8,719.8 1371.5,723.1 1389.3,727.4 1407,732.6 M1193.8,739.8 1211.5,734 1229.3,729.2 1247.2,725.4 1265,722.6 1282.8,720.8 1300.5,720 1318.3,720.3 1336.2,721.6 1354,723.8 1371.8,727.1 1389.5,731.4 1407.3,736.8 M1193.4,743.9 1211.2,738.1 1229.1,733.2 1247,729.4 1264.8,726.6 1282.7,724.8 1300.5,724 1318.4,724.3 1336.3,725.6 1354.1,727.9 1372,731.2 1389.8,735.5 1407.7,740.9 M1193,748.1 1210.9,742.2 1228.8,737.3 1246.8,733.4 1264.7,730.6 1282.6,728.8 1300.5,728 1318.4,728.3 1336.4,729.6 1354.3,731.9 1372.2,735.2 1390.1,739.6 1408,745" fill="none" stroke="#000" stroke-width="0.95" stroke-dasharray="1 2.6" stroke-opacity="0.9"/></g>
<path d="M1211.1,698.0 C1210.4,690.0 1214.3,679.4 1218.8,671.1 C1223.3,662.8 1230.0,654.1 1238.0,648.0 C1246.0,641.9 1257.2,639.4 1266.8,634.6 C1276.4,629.8 1286.7,622.9 1295.7,619.2 C1304.7,615.5 1312.6,612.5 1320.6,612.5 C1328.6,612.5 1336.7,615.5 1343.7,619.2 C1350.8,622.9 1356.5,629.8 1362.9,634.6 C1369.3,639.4 1378.2,641.3 1382.1,648.0 C1385.9,654.7 1384.1,667.9 1386.0,674.9 C1387.9,681.9 1392.6,683.9 1393.6,690.3 C1394.5,696.7 1394.6,708.5 1391.7,713.3 C1388.8,718.1 1382.8,719.7 1376.4,719.1 C1370.0,718.5 1362.0,711.4 1353.3,709.5 C1344.6,707.6 1334.1,707.3 1324.5,707.6 C1314.9,707.9 1305.3,711.4 1295.7,711.4 C1286.1,711.4 1276.4,706.6 1266.8,707.6 C1257.2,708.6 1245.3,715.3 1238.0,717.2 C1230.7,719.1 1227.2,722.3 1222.7,719.1 C1218.2,715.9 1211.8,706.0 1211.1,698.0 Z" fill="none" stroke="#000" stroke-width="0.8" stroke-dasharray="0.8 1.6" stroke-opacity="0.7"/>
<rect x="1208.10" y="587.30" width="193.00" height="163.60" fill="none" stroke="#000" stroke-width="2.4"/>
<text transform="translate(1215.50,612.50) scale(1.08,1)" font-size="32" font-weight="bold" fill="#000" stroke="#000" stroke-width="1.1">q</text>
<rect x="1213.00" y="742.70" width="49.00" height="4.40" fill="#000" />
<rect x="41.30" y="785.50" width="236.70" height="165.10" fill="#000" />
<rect x="66.00" y="808.20" width="177.50" height="133.10" fill="#070707" />
<g filter="url(#grayn)"><path d="M72,906 C66,885 72,862 92,843 C110,828 135,822 160,820 C185,821 205,832 222,848 C236,864 241,885 238,905" fill="none" stroke="#8C8C8C" stroke-width="4.5"/><path d="M76.4,906.2 C61.4,903.0 69.9,892.5 70.2,885.6 C70.5,878.7 73.9,871.8 78.4,864.9 C82.9,858.0 89.4,850.0 97.0,844.3 C104.6,838.6 113.1,834.0 123.8,830.9 C134.5,827.8 150.7,825.9 161.0,825.7 C171.3,825.5 178.2,827.5 185.8,829.9 C193.4,832.3 200.2,835.7 206.4,840.2 C212.6,844.7 218.4,850.9 222.9,856.7 C227.4,862.6 230.8,868.4 233.2,875.3 C235.6,882.2 237.1,893.2 237.4,898.0 C237.8,902.8 248.2,903.0 235.3,904.2 C222.4,905.4 186.5,904.7 160.0,905.0 C133.5,905.3 91.4,909.4 76.4,906.2 Z" fill="#CACACA"/><g clip-path="url(#clipR)"><ellipse cx="150" cy="852" rx="40" ry="18" fill="#808080" fill-opacity="0.3" filter="url(#blur6)"/><ellipse cx="150" cy="890" rx="60" ry="14" fill="#F4F4F4" fill-opacity="0.45" filter="url(#blur6)"/></g></g>
<path d="M76.5,906 C70,885 76,865 95,846 C112,833 135,826 160,825.7 C185,826 205,836 222,854 C232,868 237,885 236,904" fill="none" stroke="#F02020" stroke-width="2.8" stroke-dasharray="8.5 5.5"/>
<rect x="76.00" y="903.50" width="160.00" height="2.50" fill="#606060" />
<text transform="translate(45.50,810.20) scale(1.08,1)" font-size="32" font-weight="bold" fill="#fff" stroke="#fff" stroke-width="1.1">r</text>
<text x="253.5" y="809.2" font-size="20" font-style="italic" fill="#fff">t<tspan font-size="15" font-style="normal" dy="5.5">0</tspan></text>
<text x="266.80" y="943.40" font-size="21.5" text-anchor="end" font-weight="normal" font-style="normal" fill="#fff" >H1152</text>
<rect x="48.50" y="938.20" width="48.50" height="4.80" fill="#fff" />
<text transform="translate(301.00,810.00) scale(1.08,1)" font-size="32" font-weight="bold" fill="#000" stroke="#000" stroke-width="1.1">s</text>
<g clip-path="url(#cl_sts)"><polygon points="402.3,939.4 399.5,926.5 396.9,913.7 394.7,900.9 392.7,888 391,875.1 389.5,862.3 388.4,849.5 387.5,836.6 386.8,823.8 386.3,810.9 386.1,798.1 386,785.2 394.7,785.2 394.8,798.1 395,810.9 395.3,823.8 395.9,836.6 396.6,849.5 397.5,862.3 398.7,875.1 400,888 401.6,900.9 403.4,913.7 405.4,926.5 407.7,939.4" fill="#C8C8F4"/><polygon points="407.7,939.4 405.4,926.5 403.4,913.7 401.6,900.9 400,888 398.7,875.1 397.5,862.3 396.6,849.5 395.9,836.6 395.3,823.8 395,810.9 394.8,798.1 394.7,785.2 404.4,785.2 404.4,798.1 404.6,810.9 404.8,823.8 405.2,836.6 405.7,849.5 406.3,862.3 407.1,875.1 408,888 409,900.9 410.2,913.7 411.6,926.5 413.1,939.4" fill="#DCDCF8"/><polygon points="413.1,939.4 411.6,926.5 410.2,913.7 409,900.9 408,888 407.1,875.1 406.3,862.3 405.7,849.5 405.2,836.6 404.8,823.8 404.6,810.9 404.4,798.1 404.4,785.2 415.2,785.2 415.2,798.1 415.3,810.9 415.4,823.8 415.5,836.6 415.7,849.5 415.9,862.3 416.2,875.1 416.6,888 417,900.9 417.4,913.7 417.9,926.5 418.5,939.4" fill="#EAEAFA"/><polygon points="418.5,939.4 417.9,926.5 417.4,913.7 417,900.9 416.6,888 416.2,875.1 415.9,862.3 415.7,849.5 415.5,836.6 415.4,823.8 415.3,810.9 415.2,798.1 415.2,785.2 423.9,785.2 423.9,798.1 423.9,810.9 423.9,823.8 423.9,836.6 423.9,849.5 423.9,862.3 423.9,875.1 423.9,888 423.9,900.9 423.9,913.7 423.9,926.5 423.9,939.4" fill="#F2EAF2"/><polygon points="423.9,939.4 423.9,926.5 423.9,913.7 423.9,900.9 423.9,888 423.9,875.1 423.9,862.3 423.9,849.5 423.9,836.6 423.9,823.8 423.9,810.9 423.9,798.1 423.9,785.2 432.6,785.2 432.6,798.1 432.5,810.9 432.4,823.8 432.3,836.6 432.1,849.5 431.9,862.3 431.6,875.1 431.2,888 430.8,900.9 430.4,913.7 429.9,926.5 429.3,939.4" fill="#F2EEF8"/><polygon points="429.3,939.4 429.9,926.5 430.4,913.7 430.8,900.9 431.2,888 431.6,875.1 431.9,862.3 432.1,849.5 432.3,836.6 432.4,823.8 432.5,810.9 432.6,798.1 432.6,785.2 439,785.2 439,798.1 438.9,810.9 438.8,823.8 438.6,836.6 438.4,849.5 438.1,862.3 437.7,875.1 437.2,888 436.7,900.9 436.1,913.7 435.4,926.5 434.7,939.4" fill="#EEEEFA"/><polygon points="434.7,939.4 435.4,926.5 436.1,913.7 436.7,900.9 437.2,888 437.7,875.1 438.1,862.3 438.4,849.5 438.6,836.6 438.8,823.8 438.9,810.9 439,798.1 439,785.2 446.6,785.2 446.6,798.1 446.5,810.9 446.3,823.8 446,836.6 445.7,849.5 445.2,862.3 444.6,875.1 443.9,888 443.1,900.9 442.2,913.7 441.2,926.5 440.1,939.4" fill="#E6E6FA"/><polygon points="440.1,939.4 441.2,926.5 442.2,913.7 443.1,900.9 443.9,888 444.6,875.1 445.2,862.3 445.7,849.5 446,836.6 446.3,823.8 446.5,810.9 446.6,798.1 446.6,785.2 455.3,785.2 455.3,798.1 455.1,810.9 454.8,823.8 454.4,836.6 453.9,849.5 453.2,862.3 452.3,875.1 451.3,888 450.1,900.9 448.7,913.7 447.2,926.5 445.5,939.4" fill="#E0E0F8"/><polygon points="445.5,939.4 447.2,926.5 448.7,913.7 450.1,900.9 451.3,888 452.3,875.1 453.2,862.3 453.9,849.5 454.4,836.6 454.8,823.8 455.1,810.9 455.3,798.1 455.3,785.2 463.9,785.2 463.8,798.1 463.6,810.9 463.3,823.8 462.7,836.6 462,849.5 461.1,862.3 460,875.1 458.6,888 457,900.9 455.3,913.7 453.2,926.5 451,939.4" fill="#E6E6FA"/><polygon points="451,939.4 453.2,926.5 455.3,913.7 457,900.9 458.6,888 460,875.1 461.1,862.3 462,849.5 462.7,836.6 463.3,823.8 463.6,810.9 463.8,798.1 463.9,785.2 470.5,785.2 470.4,798.1 470.2,810.9 469.8,823.8 469.2,836.6 468.4,849.5 467.4,862.3 466.2,875.1 464.7,888 463,900.9 461.1,913.7 458.9,926.5 456.4,939.4" fill="#F2EEF4"/><polygon points="456.4,939.4 458.9,926.5 461.1,913.7 463,900.9 464.7,888 466.2,875.1 467.4,862.3 468.4,849.5 469.2,836.6 469.8,823.8 470.2,810.9 470.4,798.1 470.5,785.2 476.9,785.2 476.8,798.1 476.6,810.9 476.1,823.8 475.5,836.6 474.5,849.5 473.4,862.3 472,875.1 470.3,888 468.3,900.9 466.1,913.7 463.5,926.5 460.7,939.4" fill="#DCDCF8"/><polygon points="402.3,939.4 399.5,926.5 396.9,913.7 394.7,900.9 392.7,888 391,875.1 389.5,862.3 388.4,849.5 387.5,836.6 386.8,823.8 386.3,810.9 386.1,798.1 386,785.2 476.9,785.2 476.8,798.1 476.6,810.9 476.1,823.8 475.5,836.6 474.5,849.5 473.4,862.3 472,875.1 470.3,888 468.3,900.9 466.1,913.7 463.5,926.5 460.7,939.4" fill="url(#sts)"/><polyline points="402.3,939.4 399.5,926.5 396.9,913.7 394.7,900.9 392.7,888 391,875.1 389.5,862.3 388.4,849.5 387.5,836.6 386.8,823.8 386.3,810.9 386.1,798.1 386,785.2" fill="none" stroke="#000" stroke-width="1.9"/><polyline points="407.7,939.4 405.4,926.5 403.4,913.7 401.6,900.9 400,888 398.7,875.1 397.5,862.3 396.6,849.5 395.9,836.6 395.3,823.8 395,810.9 394.8,798.1 394.7,785.2" fill="none" stroke="#000" stroke-width="1.9"/><polyline points="413.1,939.4 411.6,926.5 410.2,913.7 409,900.9 408,888 407.1,875.1 406.3,862.3 405.7,849.5 405.2,836.6 404.8,823.8 404.6,810.9 404.4,798.1 404.4,785.2" fill="none" stroke="#000" stroke-width="1.9"/><polyline points="418.5,939.4 417.9,926.5 417.4,913.7 417,900.9 416.6,888 416.2,875.1 415.9,862.3 415.7,849.5 415.5,836.6 415.4,823.8 415.3,810.9 415.2,798.1 415.2,785.2" fill="none" stroke="#000" stroke-width="1.9"/><polyline points="423.9,939.4 423.9,926.5 423.9,913.7 423.9,900.9 423.9,888 423.9,875.1 423.9,862.3 423.9,849.5 423.9,836.6 423.9,823.8 423.9,810.9 423.9,798.1 423.9,785.2" fill="none" stroke="#000" stroke-width="1.9"/><polyline points="429.3,939.4 429.9,926.5 430.4,913.7 430.8,900.9 431.2,888 431.6,875.1 431.9,862.3 432.1,849.5 432.3,836.6 432.4,823.8 432.5,810.9 432.6,798.1 432.6,785.2" fill="none" stroke="#000" stroke-width="1.9"/><polyline points="434.7,939.4 435.4,926.5 436.1,913.7 436.7,900.9 437.2,888 437.7,875.1 438.1,862.3 438.4,849.5 438.6,836.6 438.8,823.8 438.9,810.9 439,798.1 439,785.2" fill="none" stroke="#000" stroke-width="1.9"/><polyline points="440.1,939.4 441.2,926.5 442.2,913.7 443.1,900.9 443.9,888 444.6,875.1 445.2,862.3 445.7,849.5 446,836.6 446.3,823.8 446.5,810.9 446.6,798.1 446.6,785.2" fill="none" stroke="#000" stroke-width="1.9"/><polyline points="445.5,939.4 447.2,926.5 448.7,913.7 450.1,900.9 451.3,888 452.3,875.1 453.2,862.3 453.9,849.5 454.4,836.6 454.8,823.8 455.1,810.9 455.3,798.1 455.3,785.2" fill="none" stroke="#000" stroke-width="1.9"/><polyline points="451,939.4 453.2,926.5 455.3,913.7 457,900.9 458.6,888 460,875.1 461.1,862.3 462,849.5 462.7,836.6 463.3,823.8 463.6,810.9 463.8,798.1 463.9,785.2" fill="none" stroke="#000" stroke-width="1.9"/><polyline points="456.4,939.4 458.9,926.5 461.1,913.7 463,900.9 464.7,888 466.2,875.1 467.4,862.3 468.4,849.5 469.2,836.6 469.8,823.8 470.2,810.9 470.4,798.1 470.5,785.2" fill="none" stroke="#000" stroke-width="1.9"/><polyline points="460.7,939.4 463.5,926.5 466.1,913.7 468.3,900.9 470.3,888 472,875.1 473.4,862.3 474.5,849.5 475.5,836.6 476.1,823.8 476.6,810.9 476.8,798.1 476.9,785.2" fill="none" stroke="#000" stroke-width="1.9"/></g>
<line x1="412.00" y1="913.80" x2="424.00" y2="913.80" stroke="#E02020" stroke-width="1" />
<line x1="432.00" y1="913.80" x2="444.00" y2="913.80" stroke="#E02020" stroke-width="1" />
<line x1="354.60" y1="939.40" x2="357.80" y2="939.40" stroke="#000" stroke-width="2" />
<text x="347.90" y="942.60" font-size="19.5" text-anchor="end" font-weight="normal" font-style="normal" fill="#000" >0</text>
<line x1="354.60" y1="915.25" x2="357.80" y2="915.25" stroke="#000" stroke-width="2" />
<text x="347.90" y="918.45" font-size="19.5" text-anchor="end" font-weight="normal" font-style="normal" fill="#000" >2</text>
<line x1="354.60" y1="891.10" x2="357.80" y2="891.10" stroke="#000" stroke-width="2" />
<text x="347.90" y="894.30" font-size="19.5" text-anchor="end" font-weight="normal" font-style="normal" fill="#000" >4</text>
<line x1="354.60" y1="866.95" x2="357.80" y2="866.95" stroke="#000" stroke-width="2" />
<text x="347.90" y="870.15" font-size="19.5" text-anchor="end" font-weight="normal" font-style="normal" fill="#000" >6</text>
<line x1="354.60" y1="842.80" x2="357.80" y2="842.80" stroke="#000" stroke-width="2" />
<text x="347.90" y="846.00" font-size="19.5" text-anchor="end" font-weight="normal" font-style="normal" fill="#000" >8</text>
<line x1="354.60" y1="818.65" x2="357.80" y2="818.65" stroke="#000" stroke-width="2" />
<text x="347.90" y="821.85" font-size="19.5" text-anchor="end" font-weight="normal" font-style="normal" fill="#000" >10</text>
<line x1="354.60" y1="794.50" x2="357.80" y2="794.50" stroke="#000" stroke-width="2" />
<text x="347.90" y="797.70" font-size="19.5" text-anchor="end" font-weight="normal" font-style="normal" fill="#000" >12</text>
<line x1="380.30" y1="936.20" x2="380.30" y2="939.40" stroke="#000" stroke-width="2" />
<line x1="431.90" y1="936.20" x2="431.90" y2="939.40" stroke="#000" stroke-width="2" />
<line x1="483.50" y1="936.20" x2="483.50" y2="939.40" stroke="#000" stroke-width="2" />
<text x="346.40" y="961.10" font-size="19.5" text-anchor="middle" font-weight="normal" font-style="normal" fill="#000" >−3</text>
<text x="377.00" y="961.10" font-size="19.5" text-anchor="middle" font-weight="normal" font-style="normal" fill="#000" >−2</text>
<text x="405.80" y="961.10" font-size="19.5" text-anchor="middle" font-weight="normal" font-style="normal" fill="#000" >−1</text>
<text x="432.80" y="961.10" font-size="19.5" text-anchor="middle" font-weight="normal" font-style="normal" fill="#000" >0</text>
<text x="458.00" y="961.10" font-size="19.5" text-anchor="middle" font-weight="normal" font-style="normal" fill="#000" >1</text>
<text x="484.50" y="961.10" font-size="19.5" text-anchor="middle" font-weight="normal" font-style="normal" fill="#000" >2</text>
<text x="511.20" y="961.10" font-size="19.5" text-anchor="middle" font-weight="normal" font-style="normal" fill="#000" >3</text>
<rect x="354.6" y="785.2" width="155.2" height="154.19999999999993" fill="none" stroke="#000" stroke-width="2.2"/>
<text x="427.20" y="983.80" font-size="20.5" text-anchor="middle" font-weight="normal" font-style="normal" fill="#000" >Position (mm)</text>
<text transform="translate(316.80,862.60) rotate(-90)" x="0" y="0" font-size="20" text-anchor="middle" fill="#000" >Time (h)</text>
<rect x="526.10" y="784.60" width="183.90" height="166.80" fill="#fff" />
<g clip-path="url(#clipT)"><path d="M528.4,840.3 C531.0,826.7 539.9,827.2 543.8,824.0 C547.6,820.8 549.9,823.2 551.5,821.1 C553.1,819.0 551.1,816.0 553.4,811.5 C555.6,807.0 560.8,798.1 565.0,794.2 C569.2,790.4 573.9,788.7 578.4,788.4 C582.9,788.1 586.3,792.4 591.8,792.3 C597.2,792.1 601.5,788.5 611.1,787.5 C620.7,786.5 638.9,786.0 649.5,786.5 C660.1,787.0 666.2,787.5 674.5,790.4 C682.8,793.3 694.1,800.3 699.4,803.8 C704.7,807.3 705.1,792.6 706.2,811.5 C707.3,830.4 707.7,898.0 706.2,917.2 C704.8,936.4 703.8,924.6 697.5,926.8 C691.2,929.0 676.7,930.6 668.7,930.6 C660.7,930.6 654.6,929.4 649.5,926.8 C644.4,924.2 642.5,918.1 638.0,915.2 C633.5,912.3 628.7,910.5 622.6,909.5 C616.5,908.5 607.3,908.5 601.5,909.5 C595.7,910.5 593.1,913.9 588.0,915.2 C582.9,916.5 574.9,915.9 570.7,917.2 C566.5,918.5 565.2,922.9 563.0,922.9 C560.8,922.9 561.1,919.8 557.3,917.2 C553.5,914.7 544.8,909.5 540.0,907.6 C535.2,905.7 530.3,916.8 528.4,905.6 C526.5,894.4 525.8,853.9 528.4,840.3 Z" fill="#3434F2"/><polygon points="524,831.5 531.3,833.2 530.4,840.5 523,838.8" fill="#6969ff"/><polygon points="523,838.8 530.4,840.5 529.2,847.8 521.9,846.1" fill="#7777ff"/><polygon points="521.9,846.1 529.2,847.8 527.9,855.1 520.5,853.4" fill="#6464ff"/><polygon points="520.5,853.4 527.9,855.1 526.3,862.5 519,860.7" fill="#6868ff"/><polygon points="519,860.7 526.3,862.5 524.7,869.8 517.4,868.1" fill="#5d5dff"/><polygon points="532.4,818.6 539.8,820.3 539.4,827.6 532,825.9" fill="#5656ff"/><polygon points="532,825.9 539.4,827.6 538.7,834.9 531.3,833.2" fill="#7b7bff"/><polygon points="531.3,833.2 538.7,834.9 537.8,842.2 530.4,840.5" fill="#7e7eff"/><polygon points="530.4,840.5 537.8,842.2 536.6,849.5 529.2,847.8" fill="#6e6eff"/><polygon points="529.2,847.8 536.6,849.5 535.2,856.8 527.9,855.1" fill="#6a6aff"/><polygon points="527.9,855.1 535.2,856.8 533.6,864.2 526.3,862.5" fill="#8282ff"/><polygon points="526.3,862.5 533.6,864.2 532,871.5 524.7,869.8" fill="#9e9eff"/><polygon points="524.7,869.8 532,871.5 530.3,878.8 523,877.1" fill="#8c8cff"/><polygon points="523,877.1 530.3,878.8 528.8,886.1 521.4,884.4" fill="#7f7fff"/><polygon points="521.4,884.4 528.8,886.1 527.3,893.4 520,891.7" fill="#7f7fff"/><polygon points="520,891.7 527.3,893.4 526,900.7 518.7,899" fill="#6f6fff"/><polygon points="518.7,899 526,900.7 525,908 517.6,906.3" fill="#5b5bff"/><polygon points="539.9,813 547.4,814.6 547.2,821.9 539.8,820.3" fill="#5858ff"/><polygon points="539.8,820.3 547.2,821.9 546.8,829.2 539.4,827.6" fill="#a4a4ff"/><polygon points="539.4,827.6 546.8,829.2 546.1,836.6 538.7,834.9" fill="#7070ff"/><polygon points="538.7,834.9 546.1,836.6 545.1,843.9 537.8,842.2" fill="#5353ff"/><polygon points="537.8,842.2 545.1,843.9 543.9,851.2 536.6,849.5" fill="#3e3eff"/><polygon points="536.6,849.5 543.9,851.2 542.5,858.5 535.2,856.8" fill="#4a4aff"/><polygon points="535.2,856.8 542.5,858.5 540.9,865.8 533.6,864.2" fill="#4848ff"/><polygon points="533.6,864.2 540.9,865.8 539.3,873.1 532,871.5" fill="#5555ff"/><polygon points="532,871.5 539.3,873.1 537.7,880.5 530.3,878.8" fill="#6666ff"/><polygon points="530.3,878.8 537.7,880.5 536.1,887.8 528.8,886.1" fill="#8686ff"/><polygon points="528.8,886.1 536.1,887.8 534.6,895.1 527.3,893.4" fill="#8383ff"/><polygon points="527.3,893.4 534.6,895.1 533.4,902.4 526,900.7" fill="#8989ff"/><polygon points="526,900.7 533.4,902.4 532.4,909.7 525,908" fill="#8d8dff"/><polygon points="525,908 532.4,909.7 531.6,917 524.2,915.3" fill="#5757ff"/><polygon points="547,800 554.5,801.5 554.7,808.8 547.3,807.3" fill="#5656ff"/><polygon points="547.3,807.3 554.7,808.8 554.8,816.2 547.4,814.6" fill="#8686ff"/><polygon points="547.4,814.6 554.8,816.2 554.6,823.5 547.2,821.9" fill="#9090ff"/><polygon points="547.2,821.9 554.6,823.5 554.2,830.8 546.8,829.2" fill="#7676ff"/><polygon points="546.8,829.2 554.2,830.8 553.5,838.1 546.1,836.6" fill="#4f4fff"/><polygon points="546.1,836.6 553.5,838.1 552.5,845.5 545.1,843.9" fill="#4c4cff"/><polygon points="545.1,843.9 552.5,845.5 551.3,852.8 543.9,851.2" fill="#2d2dff"/><polygon points="543.9,851.2 551.3,852.8 549.8,860.1 542.5,858.5" fill="#3535ff"/><polygon points="542.5,858.5 549.8,860.1 548.3,867.4 540.9,865.8" fill="#4040ff"/><polygon points="540.9,865.8 548.3,867.4 546.6,874.8 539.3,873.1" fill="#5c5cff"/><polygon points="539.3,873.1 546.6,874.8 545,882.1 537.7,880.5" fill="#6565ff"/><polygon points="537.7,880.5 545,882.1 543.4,889.4 536.1,887.8" fill="#7171ff"/><polygon points="536.1,887.8 543.4,889.4 542,896.7 534.6,895.1" fill="#7171ff"/><polygon points="534.6,895.1 542,896.7 540.7,904 533.4,902.4" fill="#6363ff"/><polygon points="533.4,902.4 540.7,904 539.7,911.4 532.4,909.7" fill="#9595ff"/><polygon points="532.4,909.7 539.7,911.4 539,918.7 531.6,917" fill="#5252ff"/><polygon points="553.7,786.8 561.1,788.2 561.6,795.6 554.1,794.2" fill="#4646ff"/><polygon points="554.1,794.2 561.6,795.6 562,802.9 554.5,801.5" fill="#6c6cff"/><polygon points="554.5,801.5 562,802.9 562.2,810.2 554.7,808.8" fill="#8a8aff"/><polygon points="554.7,808.8 562.2,810.2 562.3,817.6 554.8,816.2" fill="#6767ff"/><polygon points="554.8,816.2 562.3,817.6 562.1,824.9 554.6,823.5" fill="#5c5cff"/><polygon points="554.6,823.5 562.1,824.9 561.6,832.3 554.2,830.8" fill="#5b5bff"/><polygon points="554.2,830.8 561.6,832.3 560.9,839.6 553.5,838.1" fill="#4242ff"/><polygon points="553.5,838.1 560.9,839.6 559.9,846.9 552.5,845.5" fill="#4747ff"/><polygon points="552.5,845.5 559.9,846.9 558.6,854.3 551.3,852.8" fill="#3c3cff"/><polygon points="551.3,852.8 558.6,854.3 557.2,861.6 549.8,860.1" fill="#2f2fff"/><polygon points="549.8,860.1 557.2,861.6 555.6,868.9 548.3,867.4" fill="#4d4dff"/><polygon points="548.3,867.4 555.6,868.9 553.9,876.3 546.6,874.8" fill="#5555ff"/><polygon points="546.6,874.8 553.9,876.3 552.3,883.6 545,882.1" fill="#7575ff"/><polygon points="545,882.1 552.3,883.6 550.7,890.9 543.4,889.4" fill="#7f7fff"/><polygon points="543.4,889.4 550.7,890.9 549.3,898.3 542,896.7" fill="#6e6eff"/><polygon points="542,896.7 549.3,898.3 548.1,905.6 540.7,904" fill="#6969ff"/><polygon points="540.7,904 548.1,905.6 547.1,912.9 539.7,911.4" fill="#9393ff"/><polygon points="539.7,911.4 547.1,912.9 546.4,920.2 539,918.7" fill="#5454ff"/><polygon points="561.1,788.2 568.6,789.4 569.1,796.8 561.6,795.6" fill="#7b7bff"/><polygon points="561.6,795.6 569.1,796.8 569.4,804.2 562,802.9" fill="#6c6cff"/><polygon points="562,802.9 569.4,804.2 569.7,811.5 562.2,810.2" fill="#5151ff"/><polygon points="562.2,810.2 569.7,811.5 569.7,818.9 562.3,817.6" fill="#4f4fff"/><polygon points="562.3,817.6 569.7,818.9 569.5,826.2 562.1,824.9" fill="#5252ff"/><polygon points="562.1,824.9 569.5,826.2 569,833.6 561.6,832.3" fill="#3c3cff"/><polygon points="561.6,832.3 569,833.6 568.2,840.9 560.9,839.6" fill="#4343ff"/><polygon points="560.9,839.6 568.2,840.9 567.2,848.3 559.9,846.9" fill="#3434ff"/><polygon points="559.9,846.9 567.2,848.3 565.9,855.6 558.6,854.3" fill="#4141ff"/><polygon points="558.6,854.3 565.9,855.6 564.5,863 557.2,861.6" fill="#3c3cff"/><polygon points="557.2,861.6 564.5,863 562.9,870.3 555.6,868.9" fill="#5e5eff"/><polygon points="555.6,868.9 562.9,870.3 561.3,877.6 553.9,876.3" fill="#7373ff"/><polygon points="553.9,876.3 561.3,877.6 559.6,885 552.3,883.6" fill="#8585ff"/><polygon points="552.3,883.6 559.6,885 558.1,892.3 550.7,890.9" fill="#8686ff"/><polygon points="550.7,890.9 558.1,892.3 556.6,899.7 549.3,898.3" fill="#7777ff"/><polygon points="549.3,898.3 556.6,899.7 555.4,907 548.1,905.6" fill="#7272ff"/><polygon points="548.1,905.6 555.4,907 554.5,914.3 547.1,912.9" fill="#7373ff"/><polygon points="547.1,912.9 554.5,914.3 553.8,921.7 546.4,920.2" fill="#7070ff"/><polygon points="568.2,782.1 575.7,783.1 576.1,790.5 568.6,789.4" fill="#6f6fff"/><polygon points="568.6,789.4 576.1,790.5 576.6,797.9 569.1,796.8" fill="#7878ff"/><polygon points="569.1,796.8 576.6,797.9 576.9,805.2 569.4,804.2" fill="#5050ff"/><polygon points="569.4,804.2 576.9,805.2 577.1,812.6 569.7,811.5" fill="#3535ff"/><polygon points="569.7,811.5 577.1,812.6 577.1,820 569.7,818.9" fill="#3535ff"/><polygon points="569.7,818.9 577.1,820 576.9,827.3 569.5,826.2" fill="#3737ff"/><polygon points="569.5,826.2 576.9,827.3 576.4,834.7 569,833.6" fill="#3f3fff"/><polygon points="569,833.6 576.4,834.7 575.6,842.1 568.2,840.9" fill="#4040ff"/><polygon points="568.2,840.9 575.6,842.1 574.6,849.4 567.2,848.3" fill="#2b2bff"/><polygon points="567.2,848.3 574.6,849.4 573.3,856.8 565.9,855.6" fill="#2f2fff"/><polygon points="565.9,855.6 573.3,856.8 571.8,864.1 564.5,863" fill="#5252ff"/><polygon points="564.5,863 571.8,864.1 570.2,871.5 562.9,870.3" fill="#8686ff"/><polygon points="562.9,870.3 570.2,871.5 568.6,878.9 561.3,877.6" fill="#9090ff"/><polygon points="561.3,877.6 568.6,878.9 566.9,886.2 559.6,885" fill="#9d9dff"/><polygon points="559.6,885 566.9,886.2 565.4,893.6 558.1,892.3" fill="#adadff"/><polygon points="558.1,892.3 565.4,893.6 564,900.9 556.6,899.7" fill="#7d7dff"/><polygon points="556.6,899.7 564,900.9 562.8,908.3 555.4,907" fill="#5858ff"/><polygon points="555.4,907 562.8,908.3 561.9,915.6 554.5,914.3" fill="#5d5dff"/><polygon points="554.5,914.3 561.9,915.6 561.2,923 553.8,921.7" fill="#8686ff"/><polygon points="553.8,921.7 561.2,923 560.8,930.3 553.4,929" fill="#5c5cff"/><polygon points="575.7,783.1 583.1,784 583.6,791.3 576.1,790.5" fill="#8181ff"/><polygon points="576.1,790.5 583.6,791.3 584,798.7 576.6,797.9" fill="#5f5fff"/><polygon points="576.6,797.9 584,798.7 584.4,806.1 576.9,805.2" fill="#4141ff"/><polygon points="576.9,805.2 584.4,806.1 584.6,813.5 577.1,812.6" fill="#3131ff"/><polygon points="577.1,812.6 584.6,813.5 584.6,820.9 577.1,820" fill="#2323ff"/><polygon points="577.1,820 584.6,820.9 584.3,828.3 576.9,827.3" fill="#2f2fff"/><polygon points="576.9,827.3 584.3,828.3 583.8,835.6 576.4,834.7" fill="#2121ff"/><polygon points="576.4,834.7 583.8,835.6 583,843 575.6,842.1" fill="#2626ff"/><polygon points="575.6,842.1 583,843 581.9,850.4 574.6,849.4" fill="#3838ff"/><polygon points="574.6,849.4 581.9,850.4 580.6,857.8 573.3,856.8" fill="#3535ff"/><polygon points="573.3,856.8 580.6,857.8 579.1,865.2 571.8,864.1" fill="#8383ff"/><polygon points="571.8,864.1 579.1,865.2 577.5,872.5 570.2,871.5" fill="#ffffff"/><polygon points="570.2,871.5 577.5,872.5 575.9,879.9 568.6,878.9" fill="#ccccff"/><polygon points="568.6,878.9 575.9,879.9 574.3,887.3 566.9,886.2" fill="#9e9eff"/><polygon points="566.9,886.2 574.3,887.3 572.7,894.6 565.4,893.6" fill="#9c9cff"/><polygon points="565.4,893.6 572.7,894.6 571.3,902 564,900.9" fill="#7f7fff"/><polygon points="564,900.9 571.3,902 570.2,909.4 562.8,908.3" fill="#5e5eff"/><polygon points="562.8,908.3 570.2,909.4 569.3,916.7 561.9,915.6" fill="#6c6cff"/><polygon points="561.9,915.6 569.3,916.7 568.6,924.1 561.2,923" fill="#8585ff"/><polygon points="561.2,923 568.6,924.1 568.3,931.5 560.8,930.3" fill="#6b6bff"/><polygon points="583.1,784 590.6,784.6 591.1,792 583.6,791.3" fill="#6d6dff"/><polygon points="583.6,791.3 591.1,792 591.5,799.4 584,798.7" fill="#6666ff"/><polygon points="584,798.7 591.5,799.4 591.9,806.8 584.4,806.1" fill="#4646ff"/><polygon points="584.4,806.1 591.9,806.8 592,814.2 584.6,813.5" fill="#2c2cff"/><polygon points="584.6,813.5 592,814.2 592,821.6 584.6,820.9" fill="#1d1dff"/><polygon points="584.6,820.9 592,821.6 591.7,829 584.3,828.3" fill="#2020ff"/><polygon points="584.3,828.3 591.7,829 591.2,836.4 583.8,835.6" fill="#2222ff"/><polygon points="583.8,835.6 591.2,836.4 590.4,843.8 583,843" fill="#1c1cff"/><polygon points="583,843 590.4,843.8 589.3,851.2 581.9,850.4" fill="#2727ff"/><polygon points="581.9,850.4 589.3,851.2 588,858.6 580.6,857.8" fill="#2323ff"/><polygon points="580.6,857.8 588,858.6 586.5,866 579.1,865.2" fill="#7d7dff"/><polygon points="579.1,865.2 586.5,866 584.8,873.4 577.5,872.5" fill="#ffd6d6"/><polygon points="577.5,872.5 584.8,873.4 583.2,880.7 575.9,879.9" fill="#bebeff"/><polygon points="575.9,879.9 583.2,880.7 581.6,888.1 574.3,887.3" fill="#a3a3ff"/><polygon points="574.3,887.3 581.6,888.1 580,895.5 572.7,894.6" fill="#a2a2ff"/><polygon points="572.7,894.6 580,895.5 578.7,902.9 571.3,902" fill="#9292ff"/><polygon points="571.3,902 578.7,902.9 577.5,910.3 570.2,909.4" fill="#6868ff"/><polygon points="570.2,909.4 577.5,910.3 576.6,917.7 569.3,916.7" fill="#7a7aff"/><polygon points="569.3,916.7 576.6,917.7 576,925.1 568.6,924.1" fill="#7373ff"/><polygon points="590.6,784.6 598.1,785 598.6,792.4 591.1,792" fill="#7a7aff"/><polygon points="591.1,792 598.6,792.4 599,799.9 591.5,799.4" fill="#5c5cff"/><polygon points="591.5,799.4 599,799.9 599.3,807.3 591.9,806.8" fill="#4242ff"/><polygon points="591.9,806.8 599.3,807.3 599.5,814.7 592,814.2" fill="#2121ff"/><polygon points="592,814.2 599.5,814.7 599.5,822.1 592,821.6" fill="#1818ff"/><polygon points="592,821.6 599.5,822.1 599.2,829.5 591.7,829" fill="#2020ff"/><polygon points="591.7,829 599.2,829.5 598.6,836.9 591.2,836.4" fill="#2a2aff"/><polygon points="591.2,836.4 598.6,836.9 597.7,844.3 590.4,843.8" fill="#1919ff"/><polygon points="590.4,843.8 597.7,844.3 596.6,851.8 589.3,851.2" fill="#2121ff"/><polygon points="589.3,851.2 596.6,851.8 595.3,859.2 588,858.6" fill="#2929ff"/><polygon points="588,858.6 595.3,859.2 593.8,866.6 586.5,866" fill="#3434ff"/><polygon points="586.5,866 593.8,866.6 592.2,874 584.8,873.4" fill="#6565ff"/><polygon points="584.8,873.4 592.2,874 590.5,881.4 583.2,880.7" fill="#6a6aff"/><polygon points="583.2,880.7 590.5,881.4 588.9,888.8 581.6,888.1" fill="#8989ff"/><polygon points="581.6,888.1 588.9,888.8 587.4,896.2 580,895.5" fill="#aaaaff"/><polygon points="580,895.5 587.4,896.2 586,903.6 578.7,902.9" fill="#8c8cff"/><polygon points="578.7,902.9 586,903.6 584.9,911 577.5,910.3" fill="#6b6bff"/><polygon points="577.5,910.3 584.9,911 584,918.4 576.6,917.7" fill="#8080ff"/><polygon points="576.6,917.7 584,918.4 583.4,925.8 576,925.1" fill="#6161ff"/><polygon points="598.1,785 605.6,785.2 606.1,792.7 598.6,792.4" fill="#9393ff"/><polygon points="598.6,792.4 606.1,792.7 606.5,800.1 599,799.9" fill="#5c5cff"/><polygon points="599,799.9 606.5,800.1 606.8,807.6 599.3,807.3" fill="#3838ff"/><polygon points="599.3,807.3 606.8,807.6 607,815 599.5,814.7" fill="#2b2bff"/><polygon points="599.5,814.7 607,815 606.9,822.4 599.5,822.1" fill="#2525ff"/><polygon points="599.5,822.1 606.9,822.4 606.6,829.8 599.2,829.5" fill="#2121ff"/><polygon points="599.2,829.5 606.6,829.8 606,837.3 598.6,836.9" fill="#1818ff"/><polygon points="598.6,836.9 606,837.3 605.1,844.7 597.7,844.3" fill="#1515ff"/><polygon points="597.7,844.3 605.1,844.7 604,852.1 596.6,851.8" fill="#2424ff"/><polygon points="596.6,851.8 604,852.1 602.6,859.6 595.3,859.2" fill="#2424ff"/><polygon points="595.3,859.2 602.6,859.6 601.1,867 593.8,866.6" fill="#1f1fff"/><polygon points="593.8,866.6 601.1,867 599.5,874.4 592.2,874" fill="#3d3dff"/><polygon points="592.2,874 599.5,874.4 597.8,881.8 590.5,881.4" fill="#5151ff"/><polygon points="590.5,881.4 597.8,881.8 596.2,889.2 588.9,888.8" fill="#7373ff"/><polygon points="588.9,888.8 596.2,889.2 594.7,896.7 587.4,896.2" fill="#a5a5ff"/><polygon points="587.4,896.2 594.7,896.7 593.4,904.1 586,903.6" fill="#acacff"/><polygon points="586,903.6 593.4,904.1 592.3,911.5 584.9,911" fill="#8b8bff"/><polygon points="584.9,911 592.3,911.5 591.4,918.9 584,918.4" fill="#a7a7ff"/><polygon points="584,918.4 591.4,918.9 590.9,926.3 583.4,925.8" fill="#5151ff"/><polygon points="605.6,785.2 613.1,785.3 613.5,792.7 606.1,792.7" fill="#8484ff"/><polygon points="606.1,792.7 613.5,792.7 614,800.2 606.5,800.1" fill="#4c4cff"/><polygon points="606.5,800.1 614,800.2 614.3,807.6 606.8,807.6" fill="#3838ff"/><polygon points="606.8,807.6 614.3,807.6 614.4,815.1 607,815" fill="#2828ff"/><polygon points="607,815 614.4,815.1 614.3,822.5 606.9,822.4" fill="#1d1dff"/><polygon points="606.9,822.4 614.3,822.5 614,830 606.6,829.8" fill="#1414ff"/><polygon points="606.6,829.8 614,830 613.4,837.4 606,837.3" fill="#1d1dff"/><polygon points="606,837.3 613.4,837.4 612.5,844.9 605.1,844.7" fill="#1b1bff"/><polygon points="605.1,844.7 612.5,844.9 611.3,852.3 604,852.1" fill="#2626ff"/><polygon points="604,852.1 611.3,852.3 609.9,859.8 602.6,859.6" fill="#2727ff"/><polygon points="602.6,859.6 609.9,859.8 608.4,867.2 601.1,867" fill="#3030ff"/><polygon points="601.1,867 608.4,867.2 606.8,874.6 599.5,874.4" fill="#2b2bff"/><polygon points="599.5,874.4 606.8,874.6 605.1,882.1 597.8,881.8" fill="#3838ff"/><polygon points="597.8,881.8 605.1,882.1 603.5,889.5 596.2,889.2" fill="#5d5dff"/><polygon points="596.2,889.2 603.5,889.5 602,896.9 594.7,896.7" fill="#9696ff"/><polygon points="594.7,896.7 602,896.9 600.7,904.4 593.4,904.1" fill="#b7b7ff"/><polygon points="593.4,904.1 600.7,904.4 599.6,911.8 592.3,911.5" fill="#bebeff"/><polygon points="592.3,911.5 599.6,911.8 598.8,919.2 591.4,918.9" fill="#7474ff"/><polygon points="613.1,785.3 620.6,785.2 621,792.6 613.5,792.7" fill="#7a7aff"/><polygon points="613.5,792.7 621,792.6 621.4,800.1 614,800.2" fill="#5050ff"/><polygon points="614,800.2 621.4,800.1 621.7,807.6 614.3,807.6" fill="#2323ff"/><polygon points="614.3,807.6 621.7,807.6 621.9,815 614.4,815.1" fill="#1a1aff"/><polygon points="614.4,815.1 621.9,815 621.7,822.5 614.3,822.5" fill="#1616ff"/><polygon points="614.3,822.5 621.7,822.5 621.4,829.9 614,830" fill="#1313ff"/><polygon points="614,830 621.4,829.9 620.7,837.4 613.4,837.4" fill="#1a1aff"/><polygon points="613.4,837.4 620.7,837.4 619.8,844.8 612.5,844.9" fill="#1616ff"/><polygon points="612.5,844.9 619.8,844.8 618.7,852.3 611.3,852.3" fill="#1515ff"/><polygon points="611.3,852.3 618.7,852.3 617.3,859.8 609.9,859.8" fill="#1212ff"/><polygon points="609.9,859.8 617.3,859.8 615.7,867.2 608.4,867.2" fill="#2525ff"/><polygon points="608.4,867.2 615.7,867.2 614.1,874.7 606.8,874.6" fill="#1919ff"/><polygon points="606.8,874.6 614.1,874.7 612.5,882.1 605.1,882.1" fill="#2626ff"/><polygon points="605.1,882.1 612.5,882.1 610.9,889.6 603.5,889.5" fill="#4747ff"/><polygon points="603.5,889.5 610.9,889.6 609.4,897 602,896.9" fill="#7f7fff"/><polygon points="602,896.9 609.4,897 608.1,904.5 600.7,904.4" fill="#ffe6e6"/><polygon points="600.7,904.4 608.1,904.5 607,911.9 599.6,911.8" fill="#ffdada"/><polygon points="599.6,911.8 607,911.9 606.2,919.4 598.8,919.2" fill="#6b6bff"/><polygon points="620.6,785.2 628.1,784.9 628.5,792.4 621,792.6" fill="#8282ff"/><polygon points="621,792.6 628.5,792.4 628.9,799.8 621.4,800.1" fill="#4b4bff"/><polygon points="621.4,800.1 628.9,799.8 629.2,807.3 621.7,807.6" fill="#2424ff"/><polygon points="621.7,807.6 629.2,807.3 629.3,814.8 621.9,815" fill="#2828ff"/><polygon points="621.9,815 629.3,814.8 629.2,822.3 621.7,822.5" fill="#1d1dff"/><polygon points="621.7,822.5 629.2,822.3 628.8,829.7 621.4,829.9" fill="#1b1bff"/><polygon points="621.4,829.9 628.8,829.7 628.1,837.2 620.7,837.4" fill="#1616ff"/><polygon points="620.7,837.4 628.1,837.2 627.2,844.7 619.8,844.8" fill="#1717ff"/><polygon points="619.8,844.8 627.2,844.7 626,852.1 618.7,852.3" fill="#1f1fff"/><polygon points="618.7,852.3 626,852.1 624.6,859.6 617.3,859.8" fill="#1f1fff"/><polygon points="617.3,859.8 624.6,859.6 623.1,867.1 615.7,867.2" fill="#2828ff"/><polygon points="615.7,867.2 623.1,867.1 621.4,874.5 614.1,874.7" fill="#1b1bff"/><polygon points="614.1,874.7 621.4,874.5 619.8,882 612.5,882.1" fill="#2a2aff"/><polygon points="612.5,882.1 619.8,882 618.2,889.5 610.9,889.6" fill="#2a2aff"/><polygon points="610.9,889.6 618.2,889.5 616.7,896.9 609.4,897" fill="#5e5eff"/><polygon points="609.4,897 616.7,896.9 615.4,904.4 608.1,904.5" fill="#ffe1e1"/><polygon points="608.1,904.5 615.4,904.4 614.4,911.9 607,911.9" fill="#ffcbcb"/><polygon points="607,911.9 614.4,911.9 613.6,919.3 606.2,919.4" fill="#7474ff"/><polygon points="628.1,784.9 635.5,784.5 636,792 628.5,792.4" fill="#7979ff"/><polygon points="628.5,792.4 636,792 636.4,799.5 628.9,799.8" fill="#4a4aff"/><polygon points="628.9,799.8 636.4,799.5 636.7,807 629.2,807.3" fill="#2e2eff"/><polygon points="629.2,807.3 636.7,807 636.8,814.4 629.3,814.8" fill="#2121ff"/><polygon points="629.3,814.8 636.8,814.4 636.6,821.9 629.2,822.3" fill="#2323ff"/><polygon points="629.2,822.3 636.6,821.9 636.2,829.4 628.8,829.7" fill="#1515ff"/><polygon points="628.8,829.7 636.2,829.4 635.5,836.9 628.1,837.2" fill="#1616ff"/><polygon points="628.1,837.2 635.5,836.9 634.5,844.4 627.2,844.7" fill="#1818ff"/><polygon points="627.2,844.7 634.5,844.4 633.3,851.8 626,852.1" fill="#1010ff"/><polygon points="626,852.1 633.3,851.8 631.9,859.3 624.6,859.6" fill="#2727ff"/><polygon points="624.6,859.6 631.9,859.3 630.4,866.8 623.1,867.1" fill="#1414ff"/><polygon points="623.1,867.1 630.4,866.8 628.7,874.3 621.4,874.5" fill="#1515ff"/><polygon points="621.4,874.5 628.7,874.3 627.1,881.7 619.8,882" fill="#2828ff"/><polygon points="619.8,882 627.1,881.7 625.5,889.2 618.2,889.5" fill="#3131ff"/><polygon points="618.2,889.5 625.5,889.2 624,896.7 616.7,896.9" fill="#4343ff"/><polygon points="616.7,896.9 624,896.7 622.8,904.2 615.4,904.4" fill="#c4c4ff"/><polygon points="615.4,904.4 622.8,904.2 621.8,911.6 614.4,911.9" fill="#ffe4e4"/><polygon points="614.4,911.9 621.8,911.6 621,919.1 613.6,919.3" fill="#5f5fff"/><polygon points="635.5,784.5 643,784.1 643.5,791.5 636,792" fill="#8c8cff"/><polygon points="636,792 643.5,791.5 643.9,799 636.4,799.5" fill="#4c4cff"/><polygon points="636.4,799.5 643.9,799 644.1,806.5 636.7,807" fill="#2323ff"/><polygon points="636.7,807 644.1,806.5 644.2,814 636.8,814.4" fill="#2828ff"/><polygon points="636.8,814.4 644.2,814 644,821.5 636.6,821.9" fill="#1e1eff"/><polygon points="636.6,821.9 644,821.5 643.6,829 636.2,829.4" fill="#1c1cff"/><polygon points="636.2,829.4 643.6,829 642.9,836.5 635.5,836.9" fill="#2323ff"/><polygon points="635.5,836.9 642.9,836.5 641.9,844 634.5,844.4" fill="#2222ff"/><polygon points="634.5,844.4 641.9,844 640.7,851.4 633.3,851.8" fill="#1e1eff"/><polygon points="633.3,851.8 640.7,851.4 639.3,858.9 631.9,859.3" fill="#2424ff"/><polygon points="631.9,859.3 639.3,858.9 637.7,866.4 630.4,866.8" fill="#1d1dff"/><polygon points="630.4,866.8 637.7,866.4 636.1,873.9 628.7,874.3" fill="#1f1fff"/><polygon points="628.7,874.3 636.1,873.9 634.4,881.4 627.1,881.7" fill="#2727ff"/><polygon points="627.1,881.7 634.4,881.4 632.8,888.9 625.5,889.2" fill="#2727ff"/><polygon points="625.5,889.2 632.8,888.9 631.4,896.3 624,896.7" fill="#3131ff"/><polygon points="624,896.7 631.4,896.3 630.1,903.8 622.8,904.2" fill="#8888ff"/><polygon points="622.8,904.2 630.1,903.8 629.1,911.3 621.8,911.6" fill="#f0f0ff"/><polygon points="621.8,911.6 629.1,911.3 628.4,918.8 621,919.1" fill="#7070ff"/><polygon points="643,784.1 650.5,783.6 651,791 643.5,791.5" fill="#8b8bff"/><polygon points="643.5,791.5 651,791 651.3,798.5 643.9,799" fill="#4e4eff"/><polygon points="643.9,799 651.3,798.5 651.6,806 644.1,806.5" fill="#2c2cff"/><polygon points="644.1,806.5 651.6,806 651.6,813.5 644.2,814" fill="#2323ff"/><polygon points="644.2,814 651.6,813.5 651.5,821 644,821.5" fill="#2222ff"/><polygon points="644,821.5 651.5,821 651,828.5 643.6,829" fill="#1c1cff"/><polygon points="643.6,829 651,828.5 650.3,836 642.9,836.5" fill="#1c1cff"/><polygon points="642.9,836.5 650.3,836 649.3,843.5 641.9,844" fill="#2222ff"/><polygon points="641.9,844 649.3,843.5 648,851 640.7,851.4" fill="#1d1dff"/><polygon points="640.7,851.4 648,851 646.6,858.5 639.3,858.9" fill="#1e1eff"/><polygon points="639.3,858.9 646.6,858.5 645,865.9 637.7,866.4" fill="#1515ff"/><polygon points="637.7,866.4 645,865.9 643.4,873.4 636.1,873.9" fill="#1717ff"/><polygon points="636.1,873.9 643.4,873.4 641.7,880.9 634.4,881.4" fill="#1d1dff"/><polygon points="634.4,881.4 641.7,880.9 640.2,888.4 632.8,888.9" fill="#2020ff"/><polygon points="632.8,888.9 640.2,888.4 638.7,895.9 631.4,896.3" fill="#3333ff"/><polygon points="631.4,896.3 638.7,895.9 637.5,903.4 630.1,903.8" fill="#5454ff"/><polygon points="630.1,903.8 637.5,903.4 636.5,910.9 629.1,911.3" fill="#9c9cff"/><polygon points="629.1,911.3 636.5,910.9 635.8,918.4 628.4,918.8" fill="#9393ff"/><polygon points="650.5,783.6 658,783.1 658.4,790.5 651,791" fill="#8989ff"/><polygon points="651,791 658.4,790.5 658.8,798 651.3,798.5" fill="#4d4dff"/><polygon points="651.3,798.5 658.8,798 659,805.5 651.6,806" fill="#3838ff"/><polygon points="651.6,806 659,805.5 659.1,813 651.6,813.5" fill="#2929ff"/><polygon points="651.6,813.5 659.1,813 658.9,820.5 651.5,821" fill="#1c1cff"/><polygon points="651.5,821 658.9,820.5 658.4,828 651,828.5" fill="#1212ff"/><polygon points="651,828.5 658.4,828 657.6,835.5 650.3,836" fill="#0a0aff"/><polygon points="650.3,836 657.6,835.5 656.6,843 649.3,843.5" fill="#1b1bff"/><polygon points="649.3,843.5 656.6,843 655.4,850.5 648,851" fill="#1919ff"/><polygon points="648,851 655.4,850.5 653.9,857.9 646.6,858.5" fill="#2222ff"/><polygon points="646.6,858.5 653.9,857.9 652.3,865.4 645,865.9" fill="#2020ff"/><polygon points="645,865.9 652.3,865.4 650.7,872.9 643.4,873.4" fill="#1a1aff"/><polygon points="643.4,873.4 650.7,872.9 649,880.4 641.7,880.9" fill="#2626ff"/><polygon points="641.7,880.9 649,880.4 647.5,887.9 640.2,888.4" fill="#1515ff"/><polygon points="640.2,888.4 647.5,887.9 646.1,895.4 638.7,895.9" fill="#2e2eff"/><polygon points="638.7,895.9 646.1,895.4 644.9,902.9 637.5,903.4" fill="#3131ff"/><polygon points="637.5,903.4 644.9,902.9 643.9,910.4 636.5,910.9" fill="#7171ff"/><polygon points="636.5,910.9 643.9,910.4 643.2,917.9 635.8,918.4" fill="#8585ff"/><polygon points="635.8,918.4 643.2,917.9 642.8,925.4 635.4,925.8" fill="#6767ff"/><polygon points="658,783.1 665.5,782.6 665.9,790.1 658.4,790.5" fill="#8282ff"/><polygon points="658.4,790.5 665.9,790.1 666.3,797.6 658.8,798" fill="#5454ff"/><polygon points="658.8,798 666.3,797.6 666.5,805 659,805.5" fill="#2c2cff"/><polygon points="659,805.5 666.5,805 666.5,812.5 659.1,813" fill="#2323ff"/><polygon points="659.1,813 666.5,812.5 666.3,820 658.9,820.5" fill="#2525ff"/><polygon points="658.9,820.5 666.3,820 665.8,827.5 658.4,828" fill="#1c1cff"/><polygon points="658.4,828 665.8,827.5 665,835 657.6,835.5" fill="#0f0fff"/><polygon points="657.6,835.5 665,835 664,842.5 656.6,843" fill="#0a0aff"/><polygon points="656.6,843 664,842.5 662.7,850 655.4,850.5" fill="#2222ff"/><polygon points="655.4,850.5 662.7,850 661.2,857.4 653.9,857.9" fill="#1515ff"/><polygon points="653.9,857.9 661.2,857.4 659.6,864.9 652.3,865.4" fill="#2222ff"/><polygon points="652.3,865.4 659.6,864.9 658,872.4 650.7,872.9" fill="#1c1cff"/><polygon points="650.7,872.9 658,872.4 656.4,879.9 649,880.4" fill="#2727ff"/><polygon points="649,880.4 656.4,879.9 654.8,887.4 647.5,887.9" fill="#1313ff"/><polygon points="647.5,887.9 654.8,887.4 653.4,894.9 646.1,895.4" fill="#2424ff"/><polygon points="646.1,895.4 653.4,894.9 652.2,902.4 644.9,902.9" fill="#2d2dff"/><polygon points="644.9,902.9 652.2,902.4 651.3,909.9 643.9,910.4" fill="#2f2fff"/><polygon points="643.9,910.4 651.3,909.9 650.6,917.4 643.2,917.9" fill="#4e4eff"/><polygon points="643.2,917.9 650.6,917.4 650.2,924.8 642.8,925.4" fill="#7777ff"/><polygon points="642.8,925.4 650.2,924.8 650.1,932.3 642.6,932.8" fill="#6e6eff"/><polygon points="665.5,782.6 673,782.2 673.4,789.7 665.9,790.1" fill="#6c6cff"/><polygon points="665.9,790.1 673.4,789.7 673.8,797.1 666.3,797.6" fill="#5f5fff"/><polygon points="666.3,797.6 673.8,797.1 674,804.6 666.5,805" fill="#4040ff"/><polygon points="666.5,805 674,804.6 674,812.1 666.5,812.5" fill="#1d1dff"/><polygon points="666.5,812.5 674,812.1 673.7,819.6 666.3,820" fill="#1d1dff"/><polygon points="666.3,820 673.7,819.6 673.2,827.1 665.8,827.5" fill="#0b0bff"/><polygon points="665.8,827.5 673.2,827.1 672.4,834.5 665,835" fill="#1111ff"/><polygon points="665,835 672.4,834.5 671.3,842 664,842.5" fill="#0a0aff"/><polygon points="664,842.5 671.3,842 670,849.5 662.7,850" fill="#0e0eff"/><polygon points="662.7,850 670,849.5 668.6,857 661.2,857.4" fill="#1f1fff"/><polygon points="661.2,857.4 668.6,857 667,864.5 659.6,864.9" fill="#2222ff"/><polygon points="659.6,864.9 667,864.5 665.3,872 658,872.4" fill="#2525ff"/><polygon points="658,872.4 665.3,872 663.7,879.4 656.4,879.9" fill="#1e1eff"/><polygon points="656.4,879.9 663.7,879.4 662.1,886.9 654.8,887.4" fill="#2424ff"/><polygon points="654.8,887.4 662.1,886.9 660.8,894.4 653.4,894.9" fill="#0f0fff"/><polygon points="653.4,894.9 660.8,894.4 659.6,901.9 652.2,902.4" fill="#1d1dff"/><polygon points="652.2,902.4 659.6,901.9 658.7,909.4 651.3,909.9" fill="#2626ff"/><polygon points="651.3,909.9 658.7,909.4 658,916.9 650.6,917.4" fill="#2626ff"/><polygon points="650.6,917.4 658,916.9 657.6,924.4 650.2,924.8" fill="#4444ff"/><polygon points="650.2,924.8 657.6,924.4 657.5,931.8 650.1,932.3" fill="#8484ff"/><polygon points="673,782.2 680.5,781.9 680.9,789.3 673.4,789.7" fill="#6262ff"/><polygon points="673.4,789.7 680.9,789.3 681.2,796.8 673.8,797.1" fill="#8787ff"/><polygon points="673.8,797.1 681.2,796.8 681.4,804.3 674,804.6" fill="#4444ff"/><polygon points="674,804.6 681.4,804.3 681.4,811.8 674,812.1" fill="#3333ff"/><polygon points="674,812.1 681.4,811.8 681.1,819.2 673.7,819.6" fill="#1a1aff"/><polygon points="673.7,819.6 681.1,819.2 680.6,826.7 673.2,827.1" fill="#1111ff"/><polygon points="673.2,827.1 680.6,826.7 679.8,834.2 672.4,834.5" fill="#1111ff"/><polygon points="672.4,834.5 679.8,834.2 678.7,841.6 671.3,842" fill="#1b1bff"/><polygon points="671.3,842 678.7,841.6 677.4,849.1 670,849.5" fill="#1111ff"/><polygon points="670,849.5 677.4,849.1 675.9,856.6 668.6,857" fill="#1c1cff"/><polygon points="668.6,857 675.9,856.6 674.3,864.1 667,864.5" fill="#1717ff"/><polygon points="667,864.5 674.3,864.1 672.6,871.5 665.3,872" fill="#2020ff"/><polygon points="665.3,872 672.6,871.5 671,879 663.7,879.4" fill="#2121ff"/><polygon points="663.7,879.4 671,879 669.5,886.5 662.1,886.9" fill="#1010ff"/><polygon points="662.1,886.9 669.5,886.5 668.1,894 660.8,894.4" fill="#1717ff"/><polygon points="660.8,894.4 668.1,894 666.9,901.5 659.6,901.9" fill="#1010ff"/><polygon points="659.6,901.9 666.9,901.5 666,908.9 658.7,909.4" fill="#0e0eff"/><polygon points="658.7,909.4 666,908.9 665.4,916.4 658,916.9" fill="#1b1bff"/><polygon points="658,916.9 665.4,916.4 665.1,923.9 657.6,924.4" fill="#3e3eff"/><polygon points="657.6,924.4 665.1,923.9 665,931.4 657.5,931.8" fill="#8787ff"/><polygon points="657.5,931.8 665,931.4 665.1,938.9 657.7,939.3" fill="#5656ff"/><polygon points="680.9,789.3 688.4,789.2 688.7,796.6 681.2,796.8" fill="#7474ff"/><polygon points="681.2,796.8 688.7,796.6 688.9,804.1 681.4,804.3" fill="#6d6dff"/><polygon points="681.4,804.3 688.9,804.1 688.8,811.5 681.4,811.8" fill="#3838ff"/><polygon points="681.4,811.8 688.8,811.5 688.5,819 681.1,819.2" fill="#1e1eff"/><polygon points="681.1,819.2 688.5,819 688,826.5 680.6,826.7" fill="#2525ff"/><polygon points="680.6,826.7 688,826.5 687.1,833.9 679.8,834.2" fill="#1717ff"/><polygon points="679.8,834.2 687.1,833.9 686,841.4 678.7,841.6" fill="#1010ff"/><polygon points="678.7,841.6 686,841.4 684.7,848.9 677.4,849.1" fill="#2828ff"/><polygon points="677.4,849.1 684.7,848.9 683.2,856.3 675.9,856.6" fill="#1717ff"/><polygon points="675.9,856.6 683.2,856.3 681.6,863.8 674.3,864.1" fill="#1d1dff"/><polygon points="674.3,864.1 681.6,863.8 679.9,871.3 672.6,871.5" fill="#2121ff"/><polygon points="672.6,871.5 679.9,871.3 678.3,878.7 671,879" fill="#1e1eff"/><polygon points="671,879 678.3,878.7 676.8,886.2 669.5,886.5" fill="#1f1fff"/><polygon points="669.5,886.5 676.8,886.2 675.4,893.7 668.1,894" fill="#0a0aff"/><polygon points="668.1,894 675.4,893.7 674.3,901.1 666.9,901.5" fill="#0d0dff"/><polygon points="666.9,901.5 674.3,901.1 673.4,908.6 666,908.9" fill="#1717ff"/><polygon points="666,908.9 673.4,908.6 672.8,916.1 665.4,916.4" fill="#1717ff"/><polygon points="665.4,916.4 672.8,916.1 672.5,923.5 665.1,923.9" fill="#3535ff"/><polygon points="665.1,923.9 672.5,923.5 672.4,931 665,931.4" fill="#6767ff"/><polygon points="665,931.4 672.4,931 672.6,938.5 665.1,938.9" fill="#6565ff"/><polygon points="688.4,789.2 695.9,789.1 696.2,796.6 688.7,796.6" fill="#5c5cff"/><polygon points="688.7,796.6 696.2,796.6 696.3,804 688.9,804.1" fill="#9d9dff"/><polygon points="688.9,804.1 696.3,804 696.3,811.5 688.8,811.5" fill="#5a5aff"/><polygon points="688.8,811.5 696.3,811.5 696,818.9 688.5,819" fill="#3535ff"/><polygon points="688.5,819 696,818.9 695.4,826.4 688,826.5" fill="#3636ff"/><polygon points="688,826.5 695.4,826.4 694.5,833.8 687.1,833.9" fill="#1f1fff"/><polygon points="687.1,833.9 694.5,833.8 693.4,841.3 686,841.4" fill="#2828ff"/><polygon points="686,841.4 693.4,841.3 692,848.7 684.7,848.9" fill="#1d1dff"/><polygon points="684.7,848.9 692,848.7 690.5,856.2 683.2,856.3" fill="#2a2aff"/><polygon points="683.2,856.3 690.5,856.2 688.9,863.6 681.6,863.8" fill="#2a2aff"/><polygon points="681.6,863.8 688.9,863.6 687.3,871.1 679.9,871.3" fill="#1d1dff"/><polygon points="679.9,871.3 687.3,871.1 685.6,878.5 678.3,878.7" fill="#2626ff"/><polygon points="678.3,878.7 685.6,878.5 684.1,886 676.8,886.2" fill="#1616ff"/><polygon points="676.8,886.2 684.1,886 682.8,893.5 675.4,893.7" fill="#0a0aff"/><polygon points="675.4,893.7 682.8,893.5 681.7,900.9 674.3,901.1" fill="#0a0aff"/><polygon points="674.3,901.1 681.7,900.9 680.8,908.4 673.4,908.6" fill="#0d0dff"/><polygon points="673.4,908.6 680.8,908.4 680.2,915.8 672.8,916.1" fill="#1212ff"/><polygon points="672.8,916.1 680.2,915.8 679.9,923.3 672.5,923.5" fill="#2525ff"/><polygon points="672.5,923.5 679.9,923.3 679.9,930.8 672.4,931" fill="#6868ff"/><polygon points="672.4,931 679.9,930.8 680.1,938.2 672.6,938.5" fill="#6565ff"/><polygon points="696.2,796.6 703.6,796.7 703.8,804.2 696.3,804" fill="#6565ff"/><polygon points="696.3,804 703.8,804.2 703.7,811.6 696.3,811.5" fill="#7d7dff"/><polygon points="696.3,811.5 703.7,811.6 703.4,819 696,818.9" fill="#5757ff"/><polygon points="696,818.9 703.4,819 702.8,826.5 695.4,826.4" fill="#4141ff"/><polygon points="695.4,826.4 702.8,826.5 701.9,833.9 694.5,833.8" fill="#5252ff"/><polygon points="694.5,833.8 701.9,833.9 700.7,841.3 693.4,841.3" fill="#3636ff"/><polygon points="693.4,841.3 700.7,841.3 699.4,848.8 692,848.7" fill="#3636ff"/><polygon points="692,848.7 699.4,848.8 697.8,856.2 690.5,856.2" fill="#3636ff"/><polygon points="690.5,856.2 697.8,856.2 696.2,863.6 688.9,863.6" fill="#3c3cff"/><polygon points="688.9,863.6 696.2,863.6 694.6,871.1 687.3,871.1" fill="#3535ff"/><polygon points="687.3,871.1 694.6,871.1 693,878.5 685.6,878.5" fill="#2f2fff"/><polygon points="685.6,878.5 693,878.5 691.5,886 684.1,886" fill="#1f1fff"/><polygon points="684.1,886 691.5,886 690.1,893.4 682.8,893.5" fill="#2323ff"/><polygon points="682.8,893.5 690.1,893.4 689,900.9 681.7,900.9" fill="#0a0aff"/><polygon points="681.7,900.9 689,900.9 688.2,908.3 680.8,908.4" fill="#1919ff"/><polygon points="680.8,908.4 688.2,908.3 687.7,915.8 680.2,915.8" fill="#0c0cff"/><polygon points="680.2,915.8 687.7,915.8 687.4,923.2 679.9,923.3" fill="#2b2bff"/><polygon points="679.9,923.3 687.4,923.2 687.3,930.7 679.9,930.8" fill="#7c7cff"/><polygon points="679.9,930.8 687.3,930.7 687.5,938.1 680.1,938.2" fill="#5959ff"/><polygon points="703.8,804.2 711.2,804.5 711.1,811.9 703.7,811.6" fill="#6363ff"/><polygon points="703.7,811.6 711.1,811.9 710.8,819.3 703.4,819" fill="#8080ff"/><polygon points="703.4,819 710.8,819.3 710.1,826.7 702.8,826.5" fill="#8989ff"/><polygon points="702.8,826.5 710.1,826.7 709.2,834.1 701.9,833.9" fill="#9b9bff"/><polygon points="701.9,833.9 709.2,834.1 708.1,841.6 700.7,841.3" fill="#8b8bff"/><polygon points="700.7,841.3 708.1,841.6 706.7,849 699.4,848.8" fill="#7e7eff"/><polygon points="699.4,848.8 706.7,849 705.2,856.4 697.8,856.2" fill="#6b6bff"/><polygon points="697.8,856.2 705.2,856.4 703.5,863.8 696.2,863.6" fill="#4e4eff"/><polygon points="696.2,863.6 703.5,863.8 701.9,871.3 694.6,871.1" fill="#5454ff"/><polygon points="694.6,871.1 701.9,871.3 700.3,878.7 693,878.5" fill="#3b3bff"/><polygon points="693,878.5 700.3,878.7 698.8,886.1 691.5,886" fill="#4343ff"/><polygon points="691.5,886 698.8,886.1 697.5,893.5 690.1,893.4" fill="#3939ff"/><polygon points="690.1,893.4 697.5,893.5 696.4,901 689,900.9" fill="#1a1aff"/><polygon points="689,900.9 696.4,901 695.6,908.4 688.2,908.3" fill="#2525ff"/><polygon points="688.2,908.3 695.6,908.4 695.1,915.8 687.7,915.8" fill="#1919ff"/><polygon points="687.7,915.8 695.1,915.8 694.8,923.3 687.4,923.2" fill="#3232ff"/><polygon points="687.4,923.2 694.8,923.3 694.8,930.7 687.3,930.7" fill="#8e8eff"/><polygon points="687.3,930.7 694.8,930.7 695,938.2 687.5,938.1" fill="#4c4cff"/><polygon points="710.8,819.3 718.2,819.8 717.5,827.2 710.1,826.7" fill="#4242ff"/><polygon points="710.1,826.7 717.5,827.2 716.6,834.6 709.2,834.1" fill="#4949ff"/><polygon points="709.2,834.1 716.6,834.6 715.4,842 708.1,841.6" fill="#4c4cff"/><polygon points="708.1,841.6 715.4,842 714,849.4 706.7,849" fill="#5555ff"/><polygon points="706.7,849 714,849.4 712.5,856.8 705.2,856.4" fill="#7171ff"/><polygon points="705.2,856.4 712.5,856.8 710.9,864.2 703.5,863.8" fill="#7c7cff"/><polygon points="703.5,863.8 710.9,864.2 709.2,871.6 701.9,871.3" fill="#8d8dff"/><polygon points="701.9,871.3 709.2,871.6 707.6,879 700.3,878.7" fill="#8181ff"/><polygon points="700.3,878.7 707.6,879 706.1,886.5 698.8,886.1" fill="#6363ff"/><polygon points="698.8,886.1 706.1,886.5 704.8,893.9 697.5,893.5" fill="#6060ff"/><polygon points="697.5,893.5 704.8,893.9 703.8,901.3 696.4,901" fill="#5a5aff"/><polygon points="696.4,901 703.8,901.3 703,908.7 695.6,908.4" fill="#4646ff"/><polygon points="695.6,908.4 703,908.7 702.5,916.1 695.1,915.8" fill="#4141ff"/><polygon points="695.1,915.8 702.5,916.1 702.3,923.5 694.8,923.3" fill="#5c5cff"/><polygon points="694.8,923.3 702.3,923.5 702.3,931 694.8,930.7" fill="#8080ff"/><polygon points="694.8,930.7 702.3,931 702.5,938.4 695,938.2" fill="#4646ff"/><polygon points="710.9,864.2 718.2,864.8 716.5,872.2 709.2,871.6" fill="#5858ff"/><polygon points="709.2,871.6 716.5,872.2 714.9,879.6 707.6,879" fill="#4d4dff"/><polygon points="707.6,879 714.9,879.6 713.5,887 706.1,886.5" fill="#5b5bff"/><polygon points="706.1,886.5 713.5,887 712.2,894.4 704.8,893.9" fill="#7777ff"/><polygon points="704.8,893.9 712.2,894.4 711.2,901.8 703.8,901.3" fill="#8383ff"/><polygon points="703.8,901.3 711.2,901.8 710.4,909.2 703,908.7" fill="#8b8bff"/><polygon points="703,908.7 710.4,909.2 709.9,916.6 702.5,916.1" fill="#9595ff"/><polygon points="702.5,916.1 709.9,916.6 709.7,924 702.3,923.5" fill="#6f6fff"/><polygon points="702.3,923.5 709.7,924 709.7,931.4 702.3,931" fill="#5454ff"/><path d="M508.3,769.7 508.7,777 509.2,784.3 509.6,791.6 510,798.9 510.1,806.3 510.1,813.6 509.8,820.9 509.2,828.2 508.3,835.5 507.2,842.9 505.9,850.2 504.4,857.5 502.7,864.8 501.1,872.2 499.5,879.5 498,886.8 496.6,894.1 495.5,901.5 494.6,908.8 494,916.1 493.7,923.5 493.7,930.8 493.8,938.1 494.2,945.5 494.6,952.8 495,960.1 M515.8,771.3 516.2,778.6 516.7,785.9 517.1,793.3 517.4,800.6 517.6,807.9 517.5,815.2 517.2,822.5 516.6,829.8 515.7,837.1 514.5,844.5 513.2,851.8 511.7,859.1 510.1,866.4 508.4,873.7 506.8,881 505.3,888.4 504,895.7 502.9,903 502,910.3 501.5,917.6 501.2,925 501.1,932.3 501.3,939.6 501.6,946.9 502.1,954.3 502.5,961.6 M523.3,773 523.7,780.3 524.2,787.6 524.6,795 524.9,802.3 525,809.6 524.9,816.9 524.6,824.2 524,831.5 523,838.8 521.9,846.1 520.5,853.4 519,860.7 517.4,868.1 515.7,875.4 514.1,882.7 512.6,890 511.3,897.3 510.2,904.6 509.4,911.9 508.9,919.3 508.6,926.6 508.6,933.9 508.8,941.2 509.1,948.5 509.6,955.8 510,963.2 M530.8,774.7 531.2,782 531.7,789.3 532.1,796.7 532.4,804 532.5,811.3 532.4,818.6 532,825.9 531.3,833.2 530.4,840.5 529.2,847.8 527.9,855.1 526.3,862.5 524.7,869.8 523,877.1 521.4,884.4 520,891.7 518.7,899 517.6,906.3 516.8,913.6 516.3,920.9 516,928.2 516,935.6 516.2,942.9 516.6,950.2 517,957.5 517.5,964.8 M538.3,776.4 538.7,783.7 539.1,791 539.5,798.3 539.8,805.7 539.9,813 539.8,820.3 539.4,827.6 538.7,834.9 537.8,842.2 536.6,849.5 535.2,856.8 533.6,864.2 532,871.5 530.3,878.8 528.8,886.1 527.3,893.4 526,900.7 525,908 524.2,915.3 523.7,922.6 523.5,929.9 523.5,937.3 523.7,944.6 524.1,951.9 524.5,959.2 525,966.5 M545.7,778 546.2,785.3 546.6,792.7 547,800 547.3,807.3 547.4,814.6 547.2,821.9 546.8,829.2 546.1,836.6 545.1,843.9 543.9,851.2 542.5,858.5 540.9,865.8 539.3,873.1 537.7,880.5 536.1,887.8 534.6,895.1 533.4,902.4 532.4,909.7 531.6,917 531.1,924.3 530.9,931.7 531,939 531.2,946.3 531.6,953.6 532,960.9 532.5,968.2 M553.2,779.5 553.7,786.8 554.1,794.2 554.5,801.5 554.7,808.8 554.8,816.2 554.6,823.5 554.2,830.8 553.5,838.1 552.5,845.5 551.3,852.8 549.8,860.1 548.3,867.4 546.6,874.8 545,882.1 543.4,889.4 542,896.7 540.7,904 539.7,911.4 539,918.7 538.5,926 538.4,933.3 538.4,940.6 538.7,947.9 539,955.3 539.5,962.6 539.9,969.9 M560.7,780.9 561.1,788.2 561.6,795.6 562,802.9 562.2,810.2 562.3,817.6 562.1,824.9 561.6,832.3 560.9,839.6 559.9,846.9 558.6,854.3 557.2,861.6 555.6,868.9 553.9,876.3 552.3,883.6 550.7,890.9 549.3,898.3 548.1,905.6 547.1,912.9 546.4,920.2 546,927.6 545.8,934.9 545.9,942.2 546.1,949.5 546.5,956.9 547,964.2 547.4,971.5 M568.2,782.1 568.6,789.4 569.1,796.8 569.4,804.2 569.7,811.5 569.7,818.9 569.5,826.2 569,833.6 568.2,840.9 567.2,848.3 565.9,855.6 564.5,863 562.9,870.3 561.3,877.6 559.6,885 558.1,892.3 556.6,899.7 555.4,907 554.5,914.3 553.8,921.7 553.4,929 553.3,936.4 553.3,943.7 553.6,951 554,958.4 554.5,965.7 554.9,973 M575.7,783.1 576.1,790.5 576.6,797.9 576.9,805.2 577.1,812.6 577.1,820 576.9,827.3 576.4,834.7 575.6,842.1 574.6,849.4 573.3,856.8 571.8,864.1 570.2,871.5 568.6,878.9 566.9,886.2 565.4,893.6 564,900.9 562.8,908.3 561.9,915.6 561.2,923 560.8,930.3 560.7,937.7 560.8,945 561.1,952.4 561.5,959.7 562,967.1 562.4,974.4 M583.1,784 583.6,791.3 584,798.7 584.4,806.1 584.6,813.5 584.6,820.9 584.3,828.3 583.8,835.6 583,843 581.9,850.4 580.6,857.8 579.1,865.2 577.5,872.5 575.9,879.9 574.3,887.3 572.7,894.6 571.3,902 570.2,909.4 569.3,916.7 568.6,924.1 568.3,931.5 568.2,938.8 568.3,946.2 568.6,953.6 569,960.9 569.4,968.3 569.9,975.6 M590.6,784.6 591.1,792 591.5,799.4 591.9,806.8 592,814.2 592,821.6 591.7,829 591.2,836.4 590.4,843.8 589.3,851.2 588,858.6 586.5,866 584.8,873.4 583.2,880.7 581.6,888.1 580,895.5 578.7,902.9 577.5,910.3 576.6,917.7 576,925.1 575.7,932.4 575.6,939.8 575.7,947.2 576.1,954.6 576.5,961.9 576.9,969.3 577.3,976.7 M598.1,785 598.6,792.4 599,799.9 599.3,807.3 599.5,814.7 599.5,822.1 599.2,829.5 598.6,836.9 597.7,844.3 596.6,851.8 595.3,859.2 593.8,866.6 592.2,874 590.5,881.4 588.9,888.8 587.4,896.2 586,903.6 584.9,911 584,918.4 583.4,925.8 583.1,933.2 583.1,940.6 583.2,948 583.5,955.4 584,962.8 584.4,970.2 584.8,977.5 M605.6,785.2 606.1,792.7 606.5,800.1 606.8,807.6 607,815 606.9,822.4 606.6,829.8 606,837.3 605.1,844.7 604,852.1 602.6,859.6 601.1,867 599.5,874.4 597.8,881.8 596.2,889.2 594.7,896.7 593.4,904.1 592.3,911.5 591.4,918.9 590.9,926.3 590.6,933.7 590.5,941.2 590.7,948.6 591,956 591.4,963.4 591.9,970.8 592.3,978.2 M613.1,785.3 613.5,792.7 614,800.2 614.3,807.6 614.4,815.1 614.3,822.5 614,830 613.4,837.4 612.5,844.9 611.3,852.3 609.9,859.8 608.4,867.2 606.8,874.6 605.1,882.1 603.5,889.5 602,896.9 600.7,904.4 599.6,911.8 598.8,919.2 598.3,926.7 598,934.1 598,941.5 598.1,949 598.5,956.4 598.9,963.8 599.4,971.2 599.8,978.6 M620.6,785.2 621,792.6 621.4,800.1 621.7,807.6 621.9,815 621.7,822.5 621.4,829.9 620.7,837.4 619.8,844.8 618.7,852.3 617.3,859.8 615.7,867.2 614.1,874.7 612.5,882.1 610.9,889.6 609.4,897 608.1,904.5 607,911.9 606.2,919.4 605.7,926.8 605.4,934.3 605.4,941.7 605.6,949.1 606,956.6 606.4,964 606.9,971.5 607.3,978.9 M628.1,784.9 628.5,792.4 628.9,799.8 629.2,807.3 629.3,814.8 629.2,822.3 628.8,829.7 628.1,837.2 627.2,844.7 626,852.1 624.6,859.6 623.1,867.1 621.4,874.5 619.8,882 618.2,889.5 616.7,896.9 615.4,904.4 614.4,911.9 613.6,919.3 613.1,926.8 612.9,934.2 612.9,941.7 613.1,949.1 613.5,956.6 613.9,964.1 614.3,971.5 614.7,979 M635.5,784.5 636,792 636.4,799.5 636.7,807 636.8,814.4 636.6,821.9 636.2,829.4 635.5,836.9 634.5,844.4 633.3,851.8 631.9,859.3 630.4,866.8 628.7,874.3 627.1,881.7 625.5,889.2 624,896.7 622.8,904.2 621.8,911.6 621,919.1 620.5,926.6 620.3,934 620.3,941.5 620.6,949 620.9,956.5 621.4,963.9 621.8,971.4 622.2,978.8 M643,784.1 643.5,791.5 643.9,799 644.1,806.5 644.2,814 644,821.5 643.6,829 642.9,836.5 641.9,844 640.7,851.4 639.3,858.9 637.7,866.4 636.1,873.9 634.4,881.4 632.8,888.9 631.4,896.3 630.1,903.8 629.1,911.3 628.4,918.8 627.9,926.3 627.7,933.7 627.8,941.2 628,948.7 628.4,956.2 628.9,963.6 629.3,971.1 629.7,978.6 M650.5,783.6 651,791 651.3,798.5 651.6,806 651.6,813.5 651.5,821 651,828.5 650.3,836 649.3,843.5 648,851 646.6,858.5 645,865.9 643.4,873.4 641.7,880.9 640.2,888.4 638.7,895.9 637.5,903.4 636.5,910.9 635.8,918.4 635.4,925.8 635.2,933.3 635.3,940.8 635.5,948.3 635.9,955.8 636.4,963.3 636.8,970.7 637.1,978.2 M658,783.1 658.4,790.5 658.8,798 659,805.5 659.1,813 658.9,820.5 658.4,828 657.6,835.5 656.6,843 655.4,850.5 653.9,857.9 652.3,865.4 650.7,872.9 649,880.4 647.5,887.9 646.1,895.4 644.9,902.9 643.9,910.4 643.2,917.9 642.8,925.4 642.6,932.8 642.7,940.3 643,947.8 643.4,955.3 643.8,962.8 644.3,970.3 644.6,977.8 M665.5,782.6 665.9,790.1 666.3,797.6 666.5,805 666.5,812.5 666.3,820 665.8,827.5 665,835 664,842.5 662.7,850 661.2,857.4 659.6,864.9 658,872.4 656.4,879.9 654.8,887.4 653.4,894.9 652.2,902.4 651.3,909.9 650.6,917.4 650.2,924.8 650.1,932.3 650.2,939.8 650.5,947.3 650.9,954.8 651.3,962.3 651.8,969.8 652.1,977.3 M673,782.2 673.4,789.7 673.8,797.1 674,804.6 674,812.1 673.7,819.6 673.2,827.1 672.4,834.5 671.3,842 670,849.5 668.6,857 667,864.5 665.3,872 663.7,879.4 662.1,886.9 660.8,894.4 659.6,901.9 658.7,909.4 658,916.9 657.6,924.4 657.5,931.8 657.7,939.3 657.9,946.8 658.4,954.3 658.8,961.8 659.2,969.3 659.6,976.8 M680.5,781.9 680.9,789.3 681.2,796.8 681.4,804.3 681.4,811.8 681.1,819.2 680.6,826.7 679.8,834.2 678.7,841.6 677.4,849.1 675.9,856.6 674.3,864.1 672.6,871.5 671,879 669.5,886.5 668.1,894 666.9,901.5 666,908.9 665.4,916.4 665.1,923.9 665,931.4 665.1,938.9 665.4,946.4 665.8,953.8 666.3,961.3 666.7,968.8 667,976.3 M687.9,781.7 688.4,789.2 688.7,796.6 688.9,804.1 688.8,811.5 688.5,819 688,826.5 687.1,833.9 686,841.4 684.7,848.9 683.2,856.3 681.6,863.8 679.9,871.3 678.3,878.7 676.8,886.2 675.4,893.7 674.3,901.1 673.4,908.6 672.8,916.1 672.5,923.5 672.4,931 672.6,938.5 672.9,946 673.3,953.4 673.8,960.9 674.2,968.4 674.5,975.9 M695.4,781.7 695.9,789.1 696.2,796.6 696.3,804 696.3,811.5 696,818.9 695.4,826.4 694.5,833.8 693.4,841.3 692,848.7 690.5,856.2 688.9,863.6 687.3,871.1 685.6,878.5 684.1,886 682.8,893.5 681.7,900.9 680.8,908.4 680.2,915.8 679.9,923.3 679.9,930.8 680.1,938.2 680.4,945.7 680.8,953.2 681.3,960.6 681.7,968.1 682,975.6 M702.9,781.9 703.3,789.3 703.6,796.7 703.8,804.2 703.7,811.6 703.4,819 702.8,826.5 701.9,833.9 700.7,841.3 699.4,848.8 697.8,856.2 696.2,863.6 694.6,871.1 693,878.5 691.5,886 690.1,893.4 689,900.9 688.2,908.3 687.7,915.8 687.4,923.2 687.3,930.7 687.5,938.1 687.9,945.6 688.3,953 688.7,960.5 689.1,967.9 689.4,975.4 M710.4,782.2 710.8,789.7 711.1,797.1 711.2,804.5 711.1,811.9 710.8,819.3 710.1,826.7 709.2,834.1 708.1,841.6 706.7,849 705.2,856.4 703.5,863.8 701.9,871.3 700.3,878.7 698.8,886.1 697.5,893.5 696.4,901 695.6,908.4 695.1,915.8 694.8,923.3 694.8,930.7 695,938.2 695.3,945.6 695.8,953 696.2,960.5 696.6,967.9 696.9,975.4 M717.9,782.8 718.3,790.2 718.6,797.6 718.7,805 718.6,812.4 718.2,819.8 717.5,827.2 716.6,834.6 715.4,842 714,849.4 712.5,856.8 710.9,864.2 709.2,871.6 707.6,879 706.1,886.5 704.8,893.9 703.8,901.3 703,908.7 702.5,916.1 702.3,923.5 702.3,931 702.5,938.4 702.8,945.8 703.3,953.2 703.7,960.7 704.1,968.1 704.4,975.5 M725.4,783.6 725.8,791 726,798.3 726.1,805.7 726,813.1 725.6,820.5 724.9,827.9 724,835.3 722.8,842.7 721.4,850 719.8,857.4 718.2,864.8 716.5,872.2 714.9,879.6 713.5,887 712.2,894.4 711.2,901.8 710.4,909.2 709.9,916.6 709.7,924 709.7,931.4 709.9,938.8 710.3,946.2 710.8,953.6 711.2,961 711.6,968.4 711.8,975.9 M508.3,769.7 515.8,771.3 523.3,773 530.8,774.7 538.3,776.4 545.7,778 553.2,779.5 560.7,780.9 568.2,782.1 575.7,783.1 583.1,784 590.6,784.6 598.1,785 605.6,785.2 613.1,785.3 620.6,785.2 628.1,784.9 635.5,784.5 643,784.1 650.5,783.6 658,783.1 665.5,782.6 673,782.2 680.5,781.9 687.9,781.7 695.4,781.7 702.9,781.9 710.4,782.2 717.9,782.8 725.4,783.6 M508.7,777 516.2,778.6 523.7,780.3 531.2,782 538.7,783.7 546.2,785.3 553.7,786.8 561.1,788.2 568.6,789.4 576.1,790.5 583.6,791.3 591.1,792 598.6,792.4 606.1,792.7 613.5,792.7 621,792.6 628.5,792.4 636,792 643.5,791.5 651,791 658.4,790.5 665.9,790.1 673.4,789.7 680.9,789.3 688.4,789.2 695.9,789.1 703.3,789.3 710.8,789.7 718.3,790.2 725.8,791 M509.2,784.3 516.7,785.9 524.2,787.6 531.7,789.3 539.1,791 546.6,792.7 554.1,794.2 561.6,795.6 569.1,796.8 576.6,797.9 584,798.7 591.5,799.4 599,799.9 606.5,800.1 614,800.2 621.4,800.1 628.9,799.8 636.4,799.5 643.9,799 651.3,798.5 658.8,798 666.3,797.6 673.8,797.1 681.2,796.8 688.7,796.6 696.2,796.6 703.6,796.7 711.1,797.1 718.6,797.6 726,798.3 M509.6,791.6 517.1,793.3 524.6,795 532.1,796.7 539.5,798.3 547,800 554.5,801.5 562,802.9 569.4,804.2 576.9,805.2 584.4,806.1 591.9,806.8 599.3,807.3 606.8,807.6 614.3,807.6 621.7,807.6 629.2,807.3 636.7,807 644.1,806.5 651.6,806 659,805.5 666.5,805 674,804.6 681.4,804.3 688.9,804.1 696.3,804 703.8,804.2 711.2,804.5 718.7,805 726.1,805.7 M510,798.9 517.4,800.6 524.9,802.3 532.4,804 539.8,805.7 547.3,807.3 554.7,808.8 562.2,810.2 569.7,811.5 577.1,812.6 584.6,813.5 592,814.2 599.5,814.7 607,815 614.4,815.1 621.9,815 629.3,814.8 636.8,814.4 644.2,814 651.6,813.5 659.1,813 666.5,812.5 674,812.1 681.4,811.8 688.8,811.5 696.3,811.5 703.7,811.6 711.1,811.9 718.6,812.4 726,813.1 M510.1,806.3 517.6,807.9 525,809.6 532.5,811.3 539.9,813 547.4,814.6 554.8,816.2 562.3,817.6 569.7,818.9 577.1,820 584.6,820.9 592,821.6 599.5,822.1 606.9,822.4 614.3,822.5 621.7,822.5 629.2,822.3 636.6,821.9 644,821.5 651.5,821 658.9,820.5 666.3,820 673.7,819.6 681.1,819.2 688.5,819 696,818.9 703.4,819 710.8,819.3 718.2,819.8 725.6,820.5 M510.1,813.6 517.5,815.2 524.9,816.9 532.4,818.6 539.8,820.3 547.2,821.9 554.6,823.5 562.1,824.9 569.5,826.2 576.9,827.3 584.3,828.3 591.7,829 599.2,829.5 606.6,829.8 614,830 621.4,829.9 628.8,829.7 636.2,829.4 643.6,829 651,828.5 658.4,828 665.8,827.5 673.2,827.1 680.6,826.7 688,826.5 695.4,826.4 702.8,826.5 710.1,826.7 717.5,827.2 724.9,827.9 M509.8,820.9 517.2,822.5 524.6,824.2 532,825.9 539.4,827.6 546.8,829.2 554.2,830.8 561.6,832.3 569,833.6 576.4,834.7 583.8,835.6 591.2,836.4 598.6,836.9 606,837.3 613.4,837.4 620.7,837.4 628.1,837.2 635.5,836.9 642.9,836.5 650.3,836 657.6,835.5 665,835 672.4,834.5 679.8,834.2 687.1,833.9 694.5,833.8 701.9,833.9 709.2,834.1 716.6,834.6 724,835.3 M509.2,828.2 516.6,829.8 524,831.5 531.3,833.2 538.7,834.9 546.1,836.6 553.5,838.1 560.9,839.6 568.2,840.9 575.6,842.1 583,843 590.4,843.8 597.7,844.3 605.1,844.7 612.5,844.9 619.8,844.8 627.2,844.7 634.5,844.4 641.9,844 649.3,843.5 656.6,843 664,842.5 671.3,842 678.7,841.6 686,841.4 693.4,841.3 700.7,841.3 708.1,841.6 715.4,842 722.8,842.7 M508.3,835.5 515.7,837.1 523,838.8 530.4,840.5 537.8,842.2 545.1,843.9 552.5,845.5 559.9,846.9 567.2,848.3 574.6,849.4 581.9,850.4 589.3,851.2 596.6,851.8 604,852.1 611.3,852.3 618.7,852.3 626,852.1 633.3,851.8 640.7,851.4 648,851 655.4,850.5 662.7,850 670,849.5 677.4,849.1 684.7,848.9 692,848.7 699.4,848.8 706.7,849 714,849.4 721.4,850 M507.2,842.9 514.5,844.5 521.9,846.1 529.2,847.8 536.6,849.5 543.9,851.2 551.3,852.8 558.6,854.3 565.9,855.6 573.3,856.8 580.6,857.8 588,858.6 595.3,859.2 602.6,859.6 609.9,859.8 617.3,859.8 624.6,859.6 631.9,859.3 639.3,858.9 646.6,858.5 653.9,857.9 661.2,857.4 668.6,857 675.9,856.6 683.2,856.3 690.5,856.2 697.8,856.2 705.2,856.4 712.5,856.8 719.8,857.4 M505.9,850.2 513.2,851.8 520.5,853.4 527.9,855.1 535.2,856.8 542.5,858.5 549.8,860.1 557.2,861.6 564.5,863 571.8,864.1 579.1,865.2 586.5,866 593.8,866.6 601.1,867 608.4,867.2 615.7,867.2 623.1,867.1 630.4,866.8 637.7,866.4 645,865.9 652.3,865.4 659.6,864.9 667,864.5 674.3,864.1 681.6,863.8 688.9,863.6 696.2,863.6 703.5,863.8 710.9,864.2 718.2,864.8 M504.4,857.5 511.7,859.1 519,860.7 526.3,862.5 533.6,864.2 540.9,865.8 548.3,867.4 555.6,868.9 562.9,870.3 570.2,871.5 577.5,872.5 584.8,873.4 592.2,874 599.5,874.4 606.8,874.6 614.1,874.7 621.4,874.5 628.7,874.3 636.1,873.9 643.4,873.4 650.7,872.9 658,872.4 665.3,872 672.6,871.5 679.9,871.3 687.3,871.1 694.6,871.1 701.9,871.3 709.2,871.6 716.5,872.2 M502.7,864.8 510.1,866.4 517.4,868.1 524.7,869.8 532,871.5 539.3,873.1 546.6,874.8 553.9,876.3 561.3,877.6 568.6,878.9 575.9,879.9 583.2,880.7 590.5,881.4 597.8,881.8 605.1,882.1 612.5,882.1 619.8,882 627.1,881.7 634.4,881.4 641.7,880.9 649,880.4 656.4,879.9 663.7,879.4 671,879 678.3,878.7 685.6,878.5 693,878.5 700.3,878.7 707.6,879 714.9,879.6 M501.1,872.2 508.4,873.7 515.7,875.4 523,877.1 530.3,878.8 537.7,880.5 545,882.1 552.3,883.6 559.6,885 566.9,886.2 574.3,887.3 581.6,888.1 588.9,888.8 596.2,889.2 603.5,889.5 610.9,889.6 618.2,889.5 625.5,889.2 632.8,888.9 640.2,888.4 647.5,887.9 654.8,887.4 662.1,886.9 669.5,886.5 676.8,886.2 684.1,886 691.5,886 698.8,886.1 706.1,886.5 713.5,887 M499.5,879.5 506.8,881 514.1,882.7 521.4,884.4 528.8,886.1 536.1,887.8 543.4,889.4 550.7,890.9 558.1,892.3 565.4,893.6 572.7,894.6 580,895.5 587.4,896.2 594.7,896.7 602,896.9 609.4,897 616.7,896.9 624,896.7 631.4,896.3 638.7,895.9 646.1,895.4 653.4,894.9 660.8,894.4 668.1,894 675.4,893.7 682.8,893.5 690.1,893.4 697.5,893.5 704.8,893.9 712.2,894.4 M498,886.8 505.3,888.4 512.6,890 520,891.7 527.3,893.4 534.6,895.1 542,896.7 549.3,898.3 556.6,899.7 564,900.9 571.3,902 578.7,902.9 586,903.6 593.4,904.1 600.7,904.4 608.1,904.5 615.4,904.4 622.8,904.2 630.1,903.8 637.5,903.4 644.9,902.9 652.2,902.4 659.6,901.9 666.9,901.5 674.3,901.1 681.7,900.9 689,900.9 696.4,901 703.8,901.3 711.2,901.8 M496.6,894.1 504,895.7 511.3,897.3 518.7,899 526,900.7 533.4,902.4 540.7,904 548.1,905.6 555.4,907 562.8,908.3 570.2,909.4 577.5,910.3 584.9,911 592.3,911.5 599.6,911.8 607,911.9 614.4,911.9 621.8,911.6 629.1,911.3 636.5,910.9 643.9,910.4 651.3,909.9 658.7,909.4 666,908.9 673.4,908.6 680.8,908.4 688.2,908.3 695.6,908.4 703,908.7 710.4,909.2 M495.5,901.5 502.9,903 510.2,904.6 517.6,906.3 525,908 532.4,909.7 539.7,911.4 547.1,912.9 554.5,914.3 561.9,915.6 569.3,916.7 576.6,917.7 584,918.4 591.4,918.9 598.8,919.2 606.2,919.4 613.6,919.3 621,919.1 628.4,918.8 635.8,918.4 643.2,917.9 650.6,917.4 658,916.9 665.4,916.4 672.8,916.1 680.2,915.8 687.7,915.8 695.1,915.8 702.5,916.1 709.9,916.6 M494.6,908.8 502,910.3 509.4,911.9 516.8,913.6 524.2,915.3 531.6,917 539,918.7 546.4,920.2 553.8,921.7 561.2,923 568.6,924.1 576,925.1 583.4,925.8 590.9,926.3 598.3,926.7 605.7,926.8 613.1,926.8 620.5,926.6 627.9,926.3 635.4,925.8 642.8,925.4 650.2,924.8 657.6,924.4 665.1,923.9 672.5,923.5 679.9,923.3 687.4,923.2 694.8,923.3 702.3,923.5 709.7,924 M494,916.1 501.5,917.6 508.9,919.3 516.3,920.9 523.7,922.6 531.1,924.3 538.5,926 546,927.6 553.4,929 560.8,930.3 568.3,931.5 575.7,932.4 583.1,933.2 590.6,933.7 598,934.1 605.4,934.3 612.9,934.2 620.3,934 627.7,933.7 635.2,933.3 642.6,932.8 650.1,932.3 657.5,931.8 665,931.4 672.4,931 679.9,930.8 687.3,930.7 694.8,930.7 702.3,931 709.7,931.4 M493.7,923.5 501.2,925 508.6,926.6 516,928.2 523.5,929.9 530.9,931.7 538.4,933.3 545.8,934.9 553.3,936.4 560.7,937.7 568.2,938.8 575.6,939.8 583.1,940.6 590.5,941.2 598,941.5 605.4,941.7 612.9,941.7 620.3,941.5 627.8,941.2 635.3,940.8 642.7,940.3 650.2,939.8 657.7,939.3 665.1,938.9 672.6,938.5 680.1,938.2 687.5,938.1 695,938.2 702.5,938.4 709.9,938.8 M493.7,930.8 501.1,932.3 508.6,933.9 516,935.6 523.5,937.3 531,939 538.4,940.6 545.9,942.2 553.3,943.7 560.8,945 568.3,946.2 575.7,947.2 583.2,948 590.7,948.6 598.1,949 605.6,949.1 613.1,949.1 620.6,949 628,948.7 635.5,948.3 643,947.8 650.5,947.3 657.9,946.8 665.4,946.4 672.9,946 680.4,945.7 687.9,945.6 695.3,945.6 702.8,945.8 710.3,946.2 M493.8,938.1 501.3,939.6 508.8,941.2 516.2,942.9 523.7,944.6 531.2,946.3 538.7,947.9 546.1,949.5 553.6,951 561.1,952.4 568.6,953.6 576.1,954.6 583.5,955.4 591,956 598.5,956.4 606,956.6 613.5,956.6 620.9,956.5 628.4,956.2 635.9,955.8 643.4,955.3 650.9,954.8 658.4,954.3 665.8,953.8 673.3,953.4 680.8,953.2 688.3,953 695.8,953 703.3,953.2 710.8,953.6 M494.2,945.5 501.6,946.9 509.1,948.5 516.6,950.2 524.1,951.9 531.6,953.6 539,955.3 546.5,956.9 554,958.4 561.5,959.7 569,960.9 576.5,961.9 584,962.8 591.4,963.4 598.9,963.8 606.4,964 613.9,964.1 621.4,963.9 628.9,963.6 636.4,963.3 643.8,962.8 651.3,962.3 658.8,961.8 666.3,961.3 673.8,960.9 681.3,960.6 688.7,960.5 696.2,960.5 703.7,960.7 711.2,961 M494.6,952.8 502.1,954.3 509.6,955.8 517,957.5 524.5,959.2 532,960.9 539.5,962.6 547,964.2 554.5,965.7 562,967.1 569.4,968.3 576.9,969.3 584.4,970.2 591.9,970.8 599.4,971.2 606.9,971.5 614.3,971.5 621.8,971.4 629.3,971.1 636.8,970.7 644.3,970.3 651.8,969.8 659.2,969.3 666.7,968.8 674.2,968.4 681.7,968.1 689.1,967.9 696.6,967.9 704.1,968.1 711.6,968.4 M495,960.1 502.5,961.6 510,963.2 517.5,964.8 525,966.5 532.5,968.2 539.9,969.9 547.4,971.5 554.9,973 562.4,974.4 569.9,975.6 577.3,976.7 584.8,977.5 592.3,978.2 599.8,978.6 607.3,978.9 614.7,979 622.2,978.8 629.7,978.6 637.1,978.2 644.6,977.8 652.1,977.3 659.6,976.8 667,976.3 674.5,975.9 682,975.6 689.4,975.4 696.9,975.4 704.4,975.5 711.8,975.9" fill="none" stroke="#000" stroke-opacity="0.7" stroke-width="0.9" stroke-dasharray="0.9 5"/></g>
<rect x="527.30" y="785.80" width="181.50" height="164.40" fill="none" stroke="#000" stroke-width="2.4"/>
<text transform="translate(531.50,810.90) scale(1.08,1)" font-size="32" font-weight="bold" fill="#000" stroke="#000" stroke-width="1.1">t</text>
<rect x="535.20" y="937.90" width="48.60" height="4.60" fill="#000" />
<rect x="730.60" y="784.60" width="183.80" height="166.80" fill="#E6F2F6" />
<path d="M735.4,871.1 C736.4,864.1 739.2,854.4 743.0,848.0 C746.8,841.6 752.6,838.1 758.4,832.6 C764.2,827.1 771.2,820.1 777.6,815.3 C784.0,810.5 788.8,806.7 796.8,803.8 C804.8,800.9 816.1,797.8 825.7,798.1 C835.3,798.4 846.5,802.5 854.5,805.7 C862.5,808.9 867.3,811.2 873.7,817.3 C880.1,823.4 888.4,833.2 892.9,842.2 C897.4,851.2 899.3,861.5 900.6,871.1 C901.9,880.7 902.5,891.6 900.6,899.9 C898.7,908.2 895.2,917.2 889.1,921.0 C883.0,924.8 872.4,923.9 864.1,922.9 C855.8,921.9 846.5,916.5 839.1,915.2 C831.7,913.9 827.0,914.2 819.9,915.2 C812.8,916.2 805.4,919.7 796.8,921.0 C788.1,922.3 776.0,925.5 768.0,922.9 C760.0,920.3 753.9,911.0 748.8,905.6 C743.7,900.2 739.5,896.0 737.3,890.3 C735.1,884.5 734.4,878.1 735.4,871.1 Z" fill="#F2F2F4"/>
<path d="M735.4,871.1 C736.4,864.1 739.2,854.4 743.0,848.0 C746.8,841.6 752.6,838.1 758.4,832.6 C764.2,827.1 771.2,820.1 777.6,815.3 C784.0,810.5 788.8,806.7 796.8,803.8 C804.8,800.9 816.1,797.8 825.7,798.1 C835.3,798.4 846.5,802.5 854.5,805.7 C862.5,808.9 867.3,811.2 873.7,817.3 C880.1,823.4 888.4,833.2 892.9,842.2 C897.4,851.2 899.3,861.5 900.6,871.1 C901.9,880.7 902.5,891.6 900.6,899.9 C898.7,908.2 895.2,917.2 889.1,921.0 C883.0,924.8 872.4,923.9 864.1,922.9 C855.8,921.9 846.5,916.5 839.1,915.2 C831.7,913.9 827.0,914.2 819.9,915.2 C812.8,916.2 805.4,919.7 796.8,921.0 C788.1,922.3 776.0,925.5 768.0,922.9 C760.0,920.3 753.9,911.0 748.8,905.6 C743.7,900.2 739.5,896.0 737.3,890.3 C735.1,884.5 734.4,878.1 735.4,871.1 Z" fill="none" stroke="#B8B0B8" stroke-width="4" stroke-opacity="0.3" filter="url(#blur1)"/>
<g fill="none" stroke="#B4ACB4" stroke-opacity="0.3" stroke-width="1.2" filter="url(#blur1)"><circle cx="793" cy="838" r="9"/><circle cx="810" cy="828" r="8"/><circle cx="776" cy="857" r="9"/><circle cx="830" cy="818" r="8"/><circle cx="760" cy="878" r="10"/><circle cx="852" cy="815" r="9"/><circle cx="875" cy="835" r="9"/><circle cx="885" cy="860" r="9"/><circle cx="880" cy="890" r="10"/><path d="M800,850 C795,870 792,890 798,915"/><path d="M770,905 C785,895 800,900 815,912"/></g>
<ellipse cx="800" cy="905" rx="25" ry="10" fill="#C8C0C8" fill-opacity="0.4" filter="url(#blur3)"/>
<rect x="731.80" y="785.80" width="181.40" height="164.40" fill="none" stroke="#000" stroke-width="2.4"/>
<text transform="translate(738.50,811.00) scale(1.08,1)" font-size="32" font-weight="bold" fill="#000" stroke="#000" stroke-width="1.1">u</text>
<rect x="736.90" y="937.90" width="32.70" height="4.60" fill="#000" />
<text x="903.50" y="942.70" font-size="20" text-anchor="end" font-weight="normal" font-style="italic" fill="#4A4C88" >SNAI2</text>
<rect x="945.40" y="784.60" width="236.70" height="164.90" fill="#000" />
<g filter="url(#jetn)"><path d="M947.1,914.6 C947.1,909.3 953.6,898.3 957.8,887.9 C961.9,877.5 967.5,860.9 972.0,852.3 C976.5,843.7 980.0,840.8 984.5,836.3 C989.0,831.8 993.7,827.1 998.7,825.6 C1003.7,824.1 1011.2,828.6 1014.7,827.4 C1018.2,826.2 1016.1,821.8 1020.0,818.5 C1023.9,815.2 1032.0,810.3 1037.9,807.8 C1043.9,805.3 1049.8,802.7 1055.7,803.3 C1061.6,803.9 1067.6,809.8 1073.5,811.4 C1079.4,813.0 1085.9,811.6 1091.2,813.1 C1096.5,814.6 1101.0,818.4 1105.5,820.2 C1110.0,822.0 1114.4,823.2 1117.9,823.8 C1121.5,824.4 1122.3,821.7 1126.8,823.8 C1131.2,825.9 1138.7,832.1 1144.6,836.3 C1150.5,840.4 1157.1,843.7 1162.4,848.7 C1167.8,853.7 1173.6,860.0 1176.7,866.5 C1179.8,873.0 1180.5,879.9 1181.1,887.9 C1181.7,895.9 1181.8,909.0 1180.2,914.6 C1178.6,920.2 1177.2,923.2 1171.3,921.7 C1165.4,920.2 1150.5,908.4 1144.6,905.7 C1138.7,903.0 1147.3,905.6 1135.7,905.7 C1124.1,905.8 1095.8,906.2 1075.0,906.5 C1054.2,906.8 1024.8,906.6 1011.2,907.4 C997.6,908.1 999.3,909.2 993.4,911.0 C987.5,912.8 981.5,916.6 975.6,918.1 C969.7,919.6 962.5,920.5 957.8,919.9 C953.0,919.3 947.1,919.9 947.1,914.6 Z" fill="#242424"/><g clip-path="url(#clipV)"><path d="M985,912 C988,838 1028,815 1065,815 C1102,815 1142,838 1150,905" stroke="#4C4C4C" stroke-width="13" fill="none" filter="url(#blur3)"/><path d="M1000,912 C1003,852 1033,831 1066,831 C1099,831 1130,852 1136,905" stroke="#181818" stroke-width="14" fill="none" filter="url(#blur3)"/><path d="M1012,906 C1015,864 1040,847 1066,847 C1093,847 1120,864 1126,905 Z" fill="#424242" filter="url(#blur3)"/><ellipse cx="1068" cy="896" rx="50" ry="14" fill="#585858" filter="url(#blur6)"/><path d="M1009,906.5 C1040,904 1080,906 1138,904.5" stroke="#B8B8B8" stroke-width="3" fill="none" filter="url(#blur1)"/><ellipse cx="1158" cy="870" rx="9" ry="11" fill="#161616" filter="url(#blur3)"/><ellipse cx="989" cy="860" rx="8" ry="10" fill="#161616" filter="url(#blur3)"/></g></g>
<text transform="translate(949.50,810.50) scale(1.08,1)" font-size="32" font-weight="bold" fill="#fff" stroke="#fff" stroke-width="1.1">v</text>
<path d="M1136,918.2 L1175,918.2 L1175,906.2 Q1155.5,909.2 1136,915.2 Z" fill="url(#cbv)" stroke="#fff" stroke-width="1.4"/>
<text x="1179.30" y="943.50" font-size="20" text-anchor="end" font-weight="normal" font-style="italic" fill="#fff" >GDF1</text>
<rect x="954.00" y="938.30" width="45.60" height="4.50" fill="#fff" />
<rect x="1206.90" y="785.60" width="195.00" height="165.20" fill="#fff" />
<g clip-path="url(#clipW)"><path d="M1209.2,819.2 C1210.8,801.3 1215.0,822.1 1218.8,821.1 C1222.6,820.1 1228.1,817.6 1232.3,813.4 C1236.5,809.2 1238.0,800.3 1243.8,796.1 C1249.5,791.9 1259.1,789.0 1266.8,788.4 C1274.5,787.8 1283.5,789.7 1289.9,792.3 C1296.3,794.9 1298.2,801.6 1305.3,803.8 C1312.3,806.0 1326.1,803.5 1332.2,805.7 C1338.3,808.0 1336.7,816.0 1341.8,817.3 C1346.9,818.6 1356.2,811.5 1362.9,813.4 C1369.6,815.3 1376.0,824.0 1382.1,828.8 C1388.2,833.6 1396.5,825.2 1399.4,842.2 C1402.3,859.2 1402.3,916.2 1399.4,930.6 C1396.5,945.0 1385.9,931.6 1382.1,928.7 C1378.3,925.8 1382.8,913.3 1376.4,913.3 C1370.0,913.3 1358.8,926.5 1343.7,928.7 C1328.7,931.0 1302.1,927.8 1286.1,926.8 C1270.1,925.8 1260.4,922.6 1247.6,922.9 C1234.8,923.2 1215.6,946.0 1209.2,928.7 C1202.8,911.4 1207.6,837.1 1209.2,819.2 Z" fill="#E4E4FA"/><path d="M1225,895 C1245,865 1285,848 1325,855 C1350,860 1365,872 1385,872" stroke="#9898F0" stroke-width="24" fill="none" filter="url(#blur6)"/><ellipse cx="1240" cy="885" rx="26" ry="28" fill="#8888EE" filter="url(#blur6)"/><ellipse cx="1290" cy="905" rx="20" ry="10" fill="#F4F4FC" filter="url(#blur6)"/><ellipse cx="1212" cy="842" rx="8" ry="16" fill="#8C8CEE" filter="url(#blur3)"/><ellipse cx="1398" cy="870" rx="8" ry="14" fill="#8C8CEE" filter="url(#blur3)"/><ellipse cx="1280" cy="805" rx="25" ry="10" fill="#C0C0F4" filter="url(#blur6)"/><path d="M1340,817 C1355,812 1370,818 1399,842" fill="none" stroke="#F4C8C8" stroke-width="6" filter="url(#blur3)"/><path d="M1200,794 1198.5,813.6 1197,833.1 1195.5,852.7 1194,872.3 1192.4,891.9 1190.9,911.5 1189.4,931.1 1187.9,950.7 M1204.8,792.9 1203.4,812.4 1201.9,831.9 1200.5,851.5 1199,871 1197.6,890.6 1196.2,910.1 1194.7,929.7 1193.3,949.3 M1209.6,791.8 1208.2,811.3 1206.9,830.8 1205.5,850.3 1204.1,869.8 1202.8,889.4 1201.4,908.9 1200,928.4 1198.7,947.9 M1214.4,790.8 1213.1,810.3 1211.8,829.8 1210.5,849.2 1209.2,868.7 1207.9,888.2 1206.6,907.7 1205.3,927.2 1204,946.7 M1219.2,789.9 1218,809.3 1216.8,828.7 1215.5,848.2 1214.3,867.6 1213.1,887.1 1211.9,906.5 1210.6,926 1209.4,945.5 M1224,789 1222.8,808.4 1221.7,827.8 1220.5,847.2 1219.4,866.6 1218.2,886.1 1217.1,905.5 1215.9,924.9 1214.8,944.3 M1228.8,788.1 1227.7,807.5 1226.6,826.9 1225.6,846.3 1224.5,865.7 1223.4,885.1 1222.3,904.5 1221.2,923.9 1220.2,943.3 M1233.6,787.3 1232.6,806.7 1231.6,826.1 1230.6,845.4 1229.6,864.8 1228.6,884.2 1227.6,903.5 1226.5,922.9 1225.5,942.3 M1238.4,786.6 1237.5,805.9 1236.5,825.3 1235.6,844.6 1234.7,864 1233.7,883.3 1232.8,902.7 1231.8,922 1230.9,941.4 M1243.2,785.9 1242.3,805.2 1241.5,824.6 1240.6,843.9 1239.7,863.2 1238.9,882.5 1238,901.9 1237.2,921.2 1236.3,940.5 M1248,785.3 1247.2,804.6 1246.4,823.9 1245.6,843.2 1244.8,862.5 1244,881.8 1243.2,901.1 1242.5,920.4 1241.7,939.7 M1252.8,784.7 1252.1,804 1251.4,823.3 1250.6,842.6 1249.9,861.9 1249.2,881.1 1248.5,900.4 1247.8,919.7 1247,939 M1257.6,784.2 1257,803.5 1256.3,822.7 1255.7,842 1255,861.3 1254.4,880.5 1253.7,899.8 1253.1,919.1 1252.4,938.4 M1262.4,783.7 1261.8,803 1261.2,822.2 1260.7,841.5 1260.1,860.8 1259.5,880 1258.9,899.3 1258.4,918.5 1257.8,937.8 M1267.2,783.3 1266.7,802.6 1266.2,821.8 1265.7,841.1 1265.2,860.3 1264.7,879.5 1264.2,898.8 1263.7,918 1263.2,937.3 M1272,783 1271.6,802.2 1271.1,821.4 1270.7,840.7 1270.3,859.9 1269.8,879.1 1269.4,898.4 1269,917.6 1268.5,936.8 M1276.8,782.7 1276.4,801.9 1276.1,821.1 1275.7,840.3 1275.4,859.6 1275,878.8 1274.6,898 1274.3,917.2 1273.9,936.5 M1281.6,782.4 1281.3,801.6 1281,820.9 1280.7,840.1 1280.4,859.3 1280.2,878.5 1279.9,897.7 1279.6,916.9 1279.3,936.1 M1286.4,782.2 1286.2,801.5 1286,820.7 1285.8,839.9 1285.5,859.1 1285.3,878.3 1285.1,897.5 1284.9,916.7 1284.7,935.9 M1291.2,782.1 1291.1,801.3 1290.9,820.5 1290.8,839.7 1290.6,858.9 1290.5,878.1 1290.3,897.3 1290.2,916.5 1290,935.7 M1296,782 1295.9,801.2 1295.9,820.4 1295.8,839.6 1295.7,858.8 1295.6,878 1295.6,897.2 1295.5,916.4 1295.4,935.6 M1300.8,782 1300.8,801.2 1300.8,820.4 1300.8,839.6 1300.8,858.8 1300.8,878 1300.8,897.2 1300.8,916.4 1300.8,935.6 M1305.6,782 1305.7,801.2 1305.7,820.4 1305.8,839.6 1305.9,858.8 1306,878 1306,897.2 1306.1,916.4 1306.2,935.6 M1310.4,782.1 1310.5,801.3 1310.7,820.5 1310.8,839.7 1311,858.9 1311.1,878.1 1311.3,897.3 1311.4,916.5 1311.6,935.7 M1315.2,782.2 1315.4,801.5 1315.6,820.7 1315.8,839.9 1316.1,859.1 1316.3,878.3 1316.5,897.5 1316.7,916.7 1316.9,935.9 M1320,782.4 1320.3,801.6 1320.6,820.9 1320.9,840.1 1321.2,859.3 1321.4,878.5 1321.7,897.7 1322,916.9 1322.3,936.1 M1324.8,782.7 1325.2,801.9 1325.5,821.1 1325.9,840.3 1326.2,859.6 1326.6,878.8 1327,898 1327.3,917.2 1327.7,936.5 M1329.6,783 1330,802.2 1330.5,821.4 1330.9,840.7 1331.3,859.9 1331.8,879.1 1332.2,898.4 1332.6,917.6 1333.1,936.8 M1334.4,783.3 1334.9,802.6 1335.4,821.8 1335.9,841.1 1336.4,860.3 1336.9,879.5 1337.4,898.8 1337.9,918 1338.4,937.3 M1339.2,783.7 1339.8,803 1340.4,822.2 1340.9,841.5 1341.5,860.8 1342.1,880 1342.7,899.3 1343.2,918.5 1343.8,937.8 M1344,784.2 1344.6,803.5 1345.3,822.7 1345.9,842 1346.6,861.3 1347.2,880.5 1347.9,899.8 1348.5,919.1 1349.2,938.4 M1348.8,784.7 1349.5,804 1350.2,823.3 1351,842.6 1351.7,861.9 1352.4,881.1 1353.1,900.4 1353.8,919.7 1354.6,939 M1353.6,785.3 1354.4,804.6 1355.2,823.9 1356,843.2 1356.8,862.5 1357.6,881.8 1358.4,901.1 1359.1,920.4 1359.9,939.7 M1358.4,785.9 1359.3,805.2 1360.1,824.6 1361,843.9 1361.9,863.2 1362.7,882.5 1363.6,901.9 1364.4,921.2 1365.3,940.5 M1363.2,786.6 1364.1,805.9 1365.1,825.3 1366,844.6 1366.9,864 1367.9,883.3 1368.8,902.7 1369.8,922 1370.7,941.4 M1368,787.3 1369,806.7 1370,826.1 1371,845.4 1372,864.8 1373,884.2 1374,903.5 1375.1,922.9 1376.1,942.3 M1372.8,788.1 1373.9,807.5 1375,826.9 1376,846.3 1377.1,865.7 1378.2,885.1 1379.3,904.5 1380.4,923.9 1381.4,943.3 M1377.6,789 1378.8,808.4 1379.9,827.8 1381.1,847.2 1382.2,866.6 1383.4,886.1 1384.5,905.5 1385.7,924.9 1386.8,944.3 M1382.4,789.9 1383.6,809.3 1384.8,828.7 1386.1,848.2 1387.3,867.6 1388.5,887.1 1389.7,906.5 1391,926 1392.2,945.5 M1387.2,790.8 1388.5,810.3 1389.8,829.8 1391.1,849.2 1392.4,868.7 1393.7,888.2 1395,907.7 1396.3,927.2 1397.6,946.7 M1392,791.8 1393.4,811.3 1394.7,830.8 1396.1,850.3 1397.5,869.8 1398.8,889.4 1400.2,908.9 1401.6,928.4 1402.9,947.9 M1396.8,792.9 1398.2,812.4 1399.7,831.9 1401.1,851.5 1402.6,871 1404,890.6 1405.4,910.1 1406.9,929.7 1408.3,949.3 M1401.6,794 1403.1,813.6 1404.6,833.1 1406.1,852.7 1407.6,872.3 1409.2,891.9 1410.7,911.5 1412.2,931.1 1413.7,950.7" fill="none" stroke="#000" stroke-width="0.95" stroke-dasharray="1.4 1.3" stroke-opacity="0.8"/><path d="M1200,794 1219.2,789.9 1238.4,786.6 1257.6,784.2 1276.8,782.7 1296,782 1315.2,782.2 1334.4,783.3 1353.6,785.3 1372.8,788.1 1392,791.8 M1199.6,798.9 1218.9,794.7 1238.2,791.4 1257.4,789 1276.7,787.5 1296,786.8 1315.3,787 1334.5,788.1 1353.8,790.1 1373.1,793 1392.3,796.7 M1199.2,803.8 1218.6,799.6 1237.9,796.3 1257.3,793.8 1276.6,792.3 1296,791.6 1315.3,791.8 1334.7,793 1354,794.9 1373.3,797.8 1392.7,801.6 M1198.9,808.7 1218.3,804.4 1237.7,801.1 1257.1,798.7 1276.5,797.1 1295.9,796.4 1315.4,796.7 1334.8,797.8 1354.2,799.8 1373.6,802.7 1393,806.4 M1198.5,813.6 1218,809.3 1237.5,805.9 1257,803.5 1276.4,801.9 1295.9,801.2 1315.4,801.5 1334.9,802.6 1354.4,804.6 1373.9,807.5 1393.4,811.3 M1198.1,818.5 1217.7,814.2 1237.2,810.8 1256.8,808.3 1276.3,806.7 1295.9,806 1315.5,806.3 1335,807.4 1354.6,809.4 1374.1,812.4 1393.7,816.2 M1197.7,823.3 1217.4,819 1237,815.6 1256.6,813.1 1276.3,811.5 1295.9,810.8 1315.5,811.1 1335.2,812.2 1354.8,814.2 1374.4,817.2 1394.1,821.1 M1197.4,828.2 1217.1,823.9 1236.8,820.4 1256.5,817.9 1276.2,816.3 1295.9,815.6 1315.6,815.9 1335.3,817 1355,819.1 1374.7,822 1394.4,825.9 M1197,833.1 1216.8,828.7 1236.5,825.3 1256.3,822.7 1276.1,821.1 1295.9,820.4 1315.6,820.7 1335.4,821.8 1355.2,823.9 1375,826.9 1394.7,830.8 M1196.6,838 1216.4,833.6 1236.3,830.1 1256.1,827.6 1276,825.9 1295.8,825.2 1315.7,825.5 1335.5,826.6 1355.4,828.7 1375.2,831.7 1395.1,835.7 M1196.2,842.9 1216.1,838.5 1236.1,835 1256,832.4 1275.9,830.7 1295.8,830 1315.7,830.3 1335.7,831.4 1355.6,833.5 1375.5,836.6 1395.4,840.6 M1195.8,847.8 1215.8,843.3 1235.8,839.8 1255.8,837.2 1275.8,835.5 1295.8,834.8 1315.8,835.1 1335.8,836.2 1355.8,838.4 1375.8,841.4 1395.8,845.5 M1195.5,852.7 1215.5,848.2 1235.6,844.6 1255.7,842 1275.7,840.3 1295.8,839.6 1315.8,839.9 1335.9,841.1 1356,843.2 1376,846.3 1396.1,850.3 M1195.1,857.6 1215.2,853 1235.4,849.5 1255.5,846.8 1275.6,845.1 1295.8,844.4 1315.9,844.7 1336,845.9 1356.2,848 1376.3,851.1 1396.4,855.2 M1194.7,862.5 1214.9,857.9 1235.1,854.3 1255.3,851.6 1275.5,850 1295.7,849.2 1316,849.5 1336.2,850.7 1356.4,852.8 1376.6,856 1396.8,860.1 M1194.3,867.4 1214.6,862.8 1234.9,859.1 1255.2,856.5 1275.5,854.8 1295.7,854 1316,854.3 1336.3,855.5 1356.6,857.7 1376.8,860.8 1397.1,865 M1194,872.3 1214.3,867.6 1234.7,864 1255,861.3 1275.4,859.6 1295.7,858.8 1316.1,859.1 1336.4,860.3 1356.8,862.5 1377.1,865.7 1397.5,869.8 M1193.6,877.2 1214,872.5 1234.4,868.8 1254.8,866.1 1275.3,864.4 1295.7,863.6 1316.1,863.9 1336.5,865.1 1357,867.3 1377.4,870.5 1397.8,874.7 M1193.2,882.1 1213.7,877.4 1234.2,873.6 1254.7,870.9 1275.2,869.2 1295.7,868.4 1316.2,868.7 1336.7,869.9 1357.2,872.2 1377.7,875.4 1398.2,879.6 M1192.8,887 1213.4,882.2 1234,878.5 1254.5,875.7 1275.1,874 1295.7,873.2 1316.2,873.5 1336.8,874.7 1357.4,877 1377.9,880.2 1398.5,884.5 M1192.4,891.9 1213.1,887.1 1233.7,883.3 1254.4,880.5 1275,878.8 1295.6,878 1316.3,878.3 1336.9,879.5 1357.6,881.8 1378.2,885.1 1398.8,889.4 M1192.1,896.8 1212.8,892 1233.5,888.2 1254.2,885.4 1274.9,883.6 1295.6,882.8 1316.3,883.1 1337,884.4 1357.8,886.6 1378.5,889.9 1399.2,894.2 M1191.7,901.7 1212.5,896.8 1233.3,893 1254,890.2 1274.8,888.4 1295.6,887.6 1316.4,887.9 1337.2,889.2 1358,891.5 1378.7,894.8 1399.5,899.1 M1191.3,906.6 1212.2,901.7 1233,897.8 1253.9,895 1274.7,893.2 1295.6,892.4 1316.4,892.7 1337.3,894 1358.2,896.3 1379,899.6 1399.9,904 M1190.9,911.5 1211.9,906.5 1232.8,902.7 1253.7,899.8 1274.6,898 1295.6,897.2 1316.5,897.5 1337.4,898.8 1358.4,901.1 1379.3,904.5 1400.2,908.9 M1190.5,916.4 1211.5,911.4 1232.6,907.5 1253.5,904.6 1274.5,902.8 1295.5,902 1316.5,902.3 1337.6,903.6 1358.5,905.9 1379.5,909.3 1400.5,913.8 M1190.2,921.3 1211.2,916.3 1232.3,912.3 1253.4,909.5 1274.5,907.6 1295.5,906.8 1316.6,907.1 1337.7,908.4 1358.7,910.8 1379.8,914.2 1400.9,918.6 M1189.8,926.2 1210.9,921.1 1232.1,917.2 1253.2,914.3 1274.4,912.4 1295.5,911.6 1316.7,911.9 1337.8,913.2 1358.9,915.6 1380.1,919 1401.2,923.5 M1189.4,931.1 1210.6,926 1231.8,922 1253.1,919.1 1274.3,917.2 1295.5,916.4 1316.7,916.7 1337.9,918 1359.1,920.4 1380.4,923.9 1401.6,928.4 M1189,936 1210.3,930.9 1231.6,926.9 1252.9,923.9 1274.2,922 1295.5,921.2 1316.8,921.5 1338.1,922.8 1359.3,925.2 1380.6,928.7 1401.9,933.3 M1188.7,940.9 1210,935.7 1231.4,931.7 1252.7,928.7 1274.1,926.8 1295.5,926 1316.8,926.3 1338.2,927.7 1359.5,930.1 1380.9,933.6 1402.3,938.2 M1188.3,945.8 1209.7,940.6 1231.1,936.5 1252.6,933.5 1274,931.6 1295.4,930.8 1316.9,931.1 1338.3,932.5 1359.7,934.9 1381.2,938.4 1402.6,943 M1187.9,950.7 1209.4,945.5 1230.9,941.4 1252.4,938.4 1273.9,936.5 1295.4,935.6 1316.9,935.9 1338.4,937.3 1359.9,939.7 1381.4,943.3 1402.9,947.9" fill="none" stroke="#000" stroke-width="0.95" stroke-dasharray="1 2.6" stroke-opacity="0.8"/></g>
<path d="M1209.2,819.2 C1210.8,801.3 1215.0,822.1 1218.8,821.1 C1222.6,820.1 1228.1,817.6 1232.3,813.4 C1236.5,809.2 1238.0,800.3 1243.8,796.1 C1249.5,791.9 1259.1,789.0 1266.8,788.4 C1274.5,787.8 1283.5,789.7 1289.9,792.3 C1296.3,794.9 1298.2,801.6 1305.3,803.8 C1312.3,806.0 1326.1,803.5 1332.2,805.7 C1338.3,808.0 1336.7,816.0 1341.8,817.3 C1346.9,818.6 1356.2,811.5 1362.9,813.4 C1369.6,815.3 1376.0,824.0 1382.1,828.8 C1388.2,833.6 1396.5,825.2 1399.4,842.2 C1402.3,859.2 1402.3,916.2 1399.4,930.6 C1396.5,945.0 1385.9,931.6 1382.1,928.7 C1378.3,925.8 1382.8,913.3 1376.4,913.3 C1370.0,913.3 1358.8,926.5 1343.7,928.7 C1328.7,931.0 1302.1,927.8 1286.1,926.8 C1270.1,925.8 1260.4,922.6 1247.6,922.9 C1234.8,923.2 1215.6,946.0 1209.2,928.7 C1202.8,911.4 1207.6,837.1 1209.2,819.2 Z" fill="none" stroke="#000" stroke-width="0.8" stroke-dasharray="0.8 1.6" stroke-opacity="0.7"/>
<rect x="1208.10" y="786.80" width="192.60" height="162.80" fill="none" stroke="#000" stroke-width="2.4"/>
<text transform="translate(1214.50,810.50) scale(1.08,1)" font-size="32" font-weight="bold" fill="#000" stroke="#000" stroke-width="1.1">w</text>
<rect x="1213.00" y="938.30" width="49.00" height="4.30" fill="#000" />
</svg>
</body></html>
